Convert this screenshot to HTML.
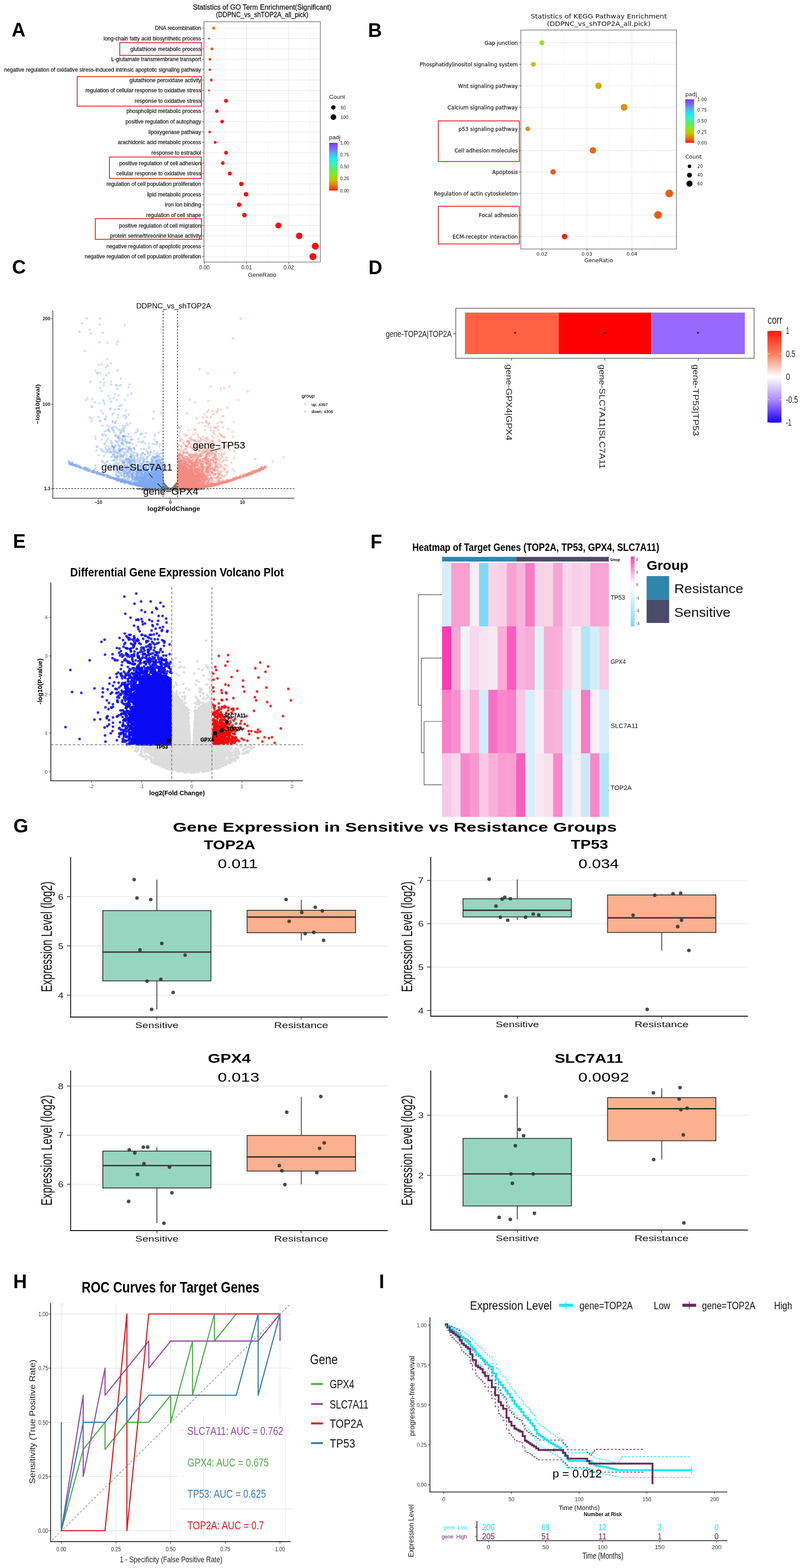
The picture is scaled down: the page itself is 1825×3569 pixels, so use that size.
<!DOCTYPE html>
<html><head><meta charset="utf-8"><title>Figure</title>
<style>html,body{margin:0;padding:0;background:#fff}svg{display:block}</style></head>
<body><svg width="1825" height="3569" viewBox="0 0 1825 3569" font-family='"Liberation Sans", Arial, sans-serif'>
<rect width="1825" height="3569" fill="#fff"/>
<text x="26.5" y="82.6" font-size="43.5" font-weight="bold">A</text>
<text x="596.5" y="21.9" font-size="16.3" text-anchor="middle" fill="#111" textLength="315.0" lengthAdjust="spacingAndGlyphs" stroke="#111" stroke-width="0.3">Statistics of GO Term Enrichment(Significant)</text>
<text x="596.5" y="38.6" font-size="16.3" text-anchor="middle" fill="#111" textLength="210.0" lengthAdjust="spacingAndGlyphs" stroke="#111" stroke-width="0.3">(DDPNC_vs_shTOP2A_all_pick)</text>
<rect x="464.0" y="49.5" width="265.0" height="547.0" fill="#fff"/>
<line x1="513.0" y1="49.5" x2="513.0" y2="596.5" stroke="#f2f2f2" stroke-width="1"/>
<line x1="609.0" y1="49.5" x2="609.0" y2="596.5" stroke="#f2f2f2" stroke-width="1"/>
<line x1="705.0" y1="49.5" x2="705.0" y2="596.5" stroke="#f2f2f2" stroke-width="1"/>
<line x1="465.0" y1="49.5" x2="465.0" y2="596.5" stroke="#e6e6e6" stroke-width="1.2"/>
<line x1="561.0" y1="49.5" x2="561.0" y2="596.5" stroke="#e6e6e6" stroke-width="1.2"/>
<line x1="657.0" y1="49.5" x2="657.0" y2="596.5" stroke="#e6e6e6" stroke-width="1.2"/>
<line x1="464.0" y1="64.0" x2="729.0" y2="64.0" stroke="#e9e9e9" stroke-width="1.2"/>
<line x1="464.0" y1="87.6" x2="729.0" y2="87.6" stroke="#e9e9e9" stroke-width="1.2"/>
<line x1="464.0" y1="111.3" x2="729.0" y2="111.3" stroke="#e9e9e9" stroke-width="1.2"/>
<line x1="464.0" y1="134.9" x2="729.0" y2="134.9" stroke="#e9e9e9" stroke-width="1.2"/>
<line x1="464.0" y1="158.6" x2="729.0" y2="158.6" stroke="#e9e9e9" stroke-width="1.2"/>
<line x1="464.0" y1="182.2" x2="729.0" y2="182.2" stroke="#e9e9e9" stroke-width="1.2"/>
<line x1="464.0" y1="205.8" x2="729.0" y2="205.8" stroke="#e9e9e9" stroke-width="1.2"/>
<line x1="464.0" y1="229.5" x2="729.0" y2="229.5" stroke="#e9e9e9" stroke-width="1.2"/>
<line x1="464.0" y1="253.1" x2="729.0" y2="253.1" stroke="#e9e9e9" stroke-width="1.2"/>
<line x1="464.0" y1="276.8" x2="729.0" y2="276.8" stroke="#e9e9e9" stroke-width="1.2"/>
<line x1="464.0" y1="300.4" x2="729.0" y2="300.4" stroke="#e9e9e9" stroke-width="1.2"/>
<line x1="464.0" y1="324.0" x2="729.0" y2="324.0" stroke="#e9e9e9" stroke-width="1.2"/>
<line x1="464.0" y1="347.7" x2="729.0" y2="347.7" stroke="#e9e9e9" stroke-width="1.2"/>
<line x1="464.0" y1="371.3" x2="729.0" y2="371.3" stroke="#e9e9e9" stroke-width="1.2"/>
<line x1="464.0" y1="395.0" x2="729.0" y2="395.0" stroke="#e9e9e9" stroke-width="1.2"/>
<line x1="464.0" y1="418.6" x2="729.0" y2="418.6" stroke="#e9e9e9" stroke-width="1.2"/>
<line x1="464.0" y1="442.2" x2="729.0" y2="442.2" stroke="#e9e9e9" stroke-width="1.2"/>
<line x1="464.0" y1="465.9" x2="729.0" y2="465.9" stroke="#e9e9e9" stroke-width="1.2"/>
<line x1="464.0" y1="489.5" x2="729.0" y2="489.5" stroke="#e9e9e9" stroke-width="1.2"/>
<line x1="464.0" y1="513.2" x2="729.0" y2="513.2" stroke="#e9e9e9" stroke-width="1.2"/>
<line x1="464.0" y1="536.8" x2="729.0" y2="536.8" stroke="#e9e9e9" stroke-width="1.2"/>
<line x1="464.0" y1="560.4" x2="729.0" y2="560.4" stroke="#e9e9e9" stroke-width="1.2"/>
<line x1="464.0" y1="584.1" x2="729.0" y2="584.1" stroke="#e9e9e9" stroke-width="1.2"/>
<line x1="460.0" y1="64.0" x2="464.0" y2="64.0" stroke="#333" stroke-width="1"/>
<text x="457.7" y="68.3" font-size="12.2" text-anchor="end" fill="#1a1a1a" stroke="#1a1a1a" stroke-width="0.3">DNA recombination</text>
<circle cx="486.3" cy="64.0" r="3.6" fill="#ee7b22"/>
<line x1="460.0" y1="87.6" x2="464.0" y2="87.6" stroke="#333" stroke-width="1"/>
<text x="457.7" y="91.9" font-size="12.2" text-anchor="end" fill="#1a1a1a" stroke="#1a1a1a" stroke-width="0.3">long-chain fatty acid biosynthetic process</text>
<circle cx="475.7" cy="87.6" r="2.2" fill="#f04a1c"/>
<line x1="460.0" y1="111.3" x2="464.0" y2="111.3" stroke="#333" stroke-width="1"/>
<text x="457.7" y="115.6" font-size="12.2" text-anchor="end" fill="#1a1a1a" stroke="#1a1a1a" stroke-width="0.3">glutathione metabolic process</text>
<circle cx="482.3" cy="111.3" r="3.3" fill="#f25a1a"/>
<line x1="460.0" y1="134.9" x2="464.0" y2="134.9" stroke="#333" stroke-width="1"/>
<text x="457.7" y="139.2" font-size="12.2" text-anchor="end" fill="#1a1a1a" stroke="#1a1a1a" stroke-width="0.3">L-glutamate transmembrane transport</text>
<circle cx="477.5" cy="134.9" r="2.9" fill="#f3401c"/>
<line x1="460.0" y1="158.6" x2="464.0" y2="158.6" stroke="#333" stroke-width="1"/>
<text x="457.7" y="162.9" font-size="12.2" text-anchor="end" fill="#1a1a1a" stroke="#1a1a1a" stroke-width="0.3">negative regulation of oxidative stress-induced intrinsic apoptotic signaling pathway</text>
<circle cx="477.5" cy="158.6" r="2.9" fill="#f3401c"/>
<line x1="460.0" y1="182.2" x2="464.0" y2="182.2" stroke="#333" stroke-width="1"/>
<text x="457.7" y="186.5" font-size="12.2" text-anchor="end" fill="#1a1a1a" stroke="#1a1a1a" stroke-width="0.3">glutathione peroxidase activity</text>
<circle cx="480.8" cy="182.2" r="3.1" fill="#f5301a"/>
<line x1="460.0" y1="205.8" x2="464.0" y2="205.8" stroke="#333" stroke-width="1"/>
<text x="457.7" y="210.1" font-size="12.2" text-anchor="end" fill="#1a1a1a" stroke="#1a1a1a" stroke-width="0.3">regulation of cellular response to oxidative stress</text>
<circle cx="475.7" cy="205.8" r="2.2" fill="#f5301a"/>
<line x1="460.0" y1="229.5" x2="464.0" y2="229.5" stroke="#333" stroke-width="1"/>
<text x="457.7" y="233.8" font-size="12.2" text-anchor="end" fill="#1a1a1a" stroke="#1a1a1a" stroke-width="0.3">response to oxidative stress</text>
<circle cx="514.3" cy="229.5" r="4.6" fill="#fa1a12"/>
<line x1="460.0" y1="253.1" x2="464.0" y2="253.1" stroke="#333" stroke-width="1"/>
<text x="457.7" y="257.4" font-size="12.2" text-anchor="end" fill="#1a1a1a" stroke="#1a1a1a" stroke-width="0.3">phospholipid metabolic process</text>
<circle cx="493.3" cy="253.1" r="3.8" fill="#fa1a12"/>
<line x1="460.0" y1="276.8" x2="464.0" y2="276.8" stroke="#333" stroke-width="1"/>
<text x="457.7" y="281.1" font-size="12.2" text-anchor="end" fill="#1a1a1a" stroke="#1a1a1a" stroke-width="0.3">positive regulation of autophagy</text>
<circle cx="505.5" cy="276.8" r="4.2" fill="#fa1a12"/>
<line x1="460.0" y1="300.4" x2="464.0" y2="300.4" stroke="#333" stroke-width="1"/>
<text x="457.7" y="304.7" font-size="12.2" text-anchor="end" fill="#1a1a1a" stroke="#1a1a1a" stroke-width="0.3">lipoxygenase pathway</text>
<circle cx="477.2" cy="300.4" r="2.8" fill="#f8201a"/>
<line x1="460.0" y1="324.0" x2="464.0" y2="324.0" stroke="#333" stroke-width="1"/>
<text x="457.7" y="328.3" font-size="12.2" text-anchor="end" fill="#1a1a1a" stroke="#1a1a1a" stroke-width="0.3">arachidonic acid metabolic process</text>
<circle cx="489.7" cy="324.0" r="3.3" fill="#fa1a12"/>
<line x1="460.0" y1="347.7" x2="464.0" y2="347.7" stroke="#333" stroke-width="1"/>
<text x="457.7" y="352.0" font-size="12.2" text-anchor="end" fill="#1a1a1a" stroke="#1a1a1a" stroke-width="0.3">response to estradiol</text>
<circle cx="514.3" cy="347.7" r="4.4" fill="#fb1410"/>
<line x1="460.0" y1="371.3" x2="464.0" y2="371.3" stroke="#333" stroke-width="1"/>
<text x="457.7" y="375.6" font-size="12.2" text-anchor="end" fill="#1a1a1a" stroke="#1a1a1a" stroke-width="0.3">positive regulation of cell adhesion</text>
<circle cx="507.0" cy="371.3" r="4.2" fill="#fb1410"/>
<line x1="460.0" y1="395.0" x2="464.0" y2="395.0" stroke="#333" stroke-width="1"/>
<text x="457.7" y="399.3" font-size="12.2" text-anchor="end" fill="#1a1a1a" stroke="#1a1a1a" stroke-width="0.3">cellular response to oxidative stress</text>
<circle cx="523.0" cy="395.0" r="4.6" fill="#fb1410"/>
<line x1="460.0" y1="418.6" x2="464.0" y2="418.6" stroke="#333" stroke-width="1"/>
<text x="457.7" y="422.9" font-size="12.2" text-anchor="end" fill="#1a1a1a" stroke="#1a1a1a" stroke-width="0.3">regulation of cell population proliferation</text>
<circle cx="549.2" cy="418.6" r="5.2" fill="#fc0f0f"/>
<line x1="460.0" y1="442.2" x2="464.0" y2="442.2" stroke="#333" stroke-width="1"/>
<text x="457.7" y="446.5" font-size="12.2" text-anchor="end" fill="#1a1a1a" stroke="#1a1a1a" stroke-width="0.3">lipid metabolic process</text>
<circle cx="559.8" cy="442.2" r="5.3" fill="#fc0f0f"/>
<line x1="460.0" y1="465.9" x2="464.0" y2="465.9" stroke="#333" stroke-width="1"/>
<text x="457.7" y="470.2" font-size="12.2" text-anchor="end" fill="#1a1a1a" stroke="#1a1a1a" stroke-width="0.3">iron ion binding</text>
<circle cx="544.0" cy="465.9" r="5.0" fill="#fc0f0f"/>
<line x1="460.0" y1="489.5" x2="464.0" y2="489.5" stroke="#333" stroke-width="1"/>
<text x="457.7" y="493.8" font-size="12.2" text-anchor="end" fill="#1a1a1a" stroke="#1a1a1a" stroke-width="0.3">regulation of cell shape</text>
<circle cx="556.2" cy="489.5" r="5.2" fill="#fc0f0f"/>
<line x1="460.0" y1="513.2" x2="464.0" y2="513.2" stroke="#333" stroke-width="1"/>
<text x="457.7" y="517.5" font-size="12.2" text-anchor="end" fill="#1a1a1a" stroke="#1a1a1a" stroke-width="0.3">positive regulation of cell migration</text>
<circle cx="633.4" cy="513.2" r="6.8" fill="#fd0c0c"/>
<line x1="460.0" y1="536.8" x2="464.0" y2="536.8" stroke="#333" stroke-width="1"/>
<text x="457.7" y="541.1" font-size="12.2" text-anchor="end" fill="#1a1a1a" stroke="#1a1a1a" stroke-width="0.3">protein serine/threonine kinase activity</text>
<circle cx="680.8" cy="536.8" r="7.4" fill="#fd0c0c"/>
<line x1="460.0" y1="560.4" x2="464.0" y2="560.4" stroke="#333" stroke-width="1"/>
<text x="457.7" y="564.7" font-size="12.2" text-anchor="end" fill="#1a1a1a" stroke="#1a1a1a" stroke-width="0.3">negative regulation of apoptotic process</text>
<circle cx="717.5" cy="560.4" r="7.9" fill="#fe0a0a"/>
<line x1="460.0" y1="584.1" x2="464.0" y2="584.1" stroke="#333" stroke-width="1"/>
<text x="457.7" y="588.4" font-size="12.2" text-anchor="end" fill="#1a1a1a" stroke="#1a1a1a" stroke-width="0.3">negative regulation of cell population proliferation</text>
<circle cx="712.0" cy="584.1" r="7.9" fill="#fe0a0a"/>
<rect x="464.0" y="49.5" width="265.0" height="547.0" fill="none" stroke="#555" stroke-width="1.2"/>
<line x1="465.0" y1="596.5" x2="465.0" y2="600.5" stroke="#333" stroke-width="1"/>
<text x="465.0" y="612.5" font-size="12.2" text-anchor="middle" fill="#1a1a1a">0.00</text>
<line x1="561.0" y1="596.5" x2="561.0" y2="600.5" stroke="#333" stroke-width="1"/>
<text x="561.0" y="612.5" font-size="12.2" text-anchor="middle" fill="#1a1a1a">0.01</text>
<line x1="657.0" y1="596.5" x2="657.0" y2="600.5" stroke="#333" stroke-width="1"/>
<text x="657.0" y="612.5" font-size="12.2" text-anchor="middle" fill="#1a1a1a">0.02</text>
<text x="596.5" y="630.0" font-size="13.5" text-anchor="middle" fill="#1a1a1a">GeneRatio</text>
<rect x="272.5" y="97.2" width="185.9" height="28.8" fill="none" stroke="#e02828" stroke-width="2.0"/>
<rect x="175.6" y="174.4" width="282.8" height="67.2" fill="none" stroke="#e02828" stroke-width="2.0"/>
<rect x="249.0" y="357.5" width="209.0" height="48.7" fill="none" stroke="#e02828" stroke-width="2.0"/>
<rect x="216.9" y="497.6" width="241.7" height="47.1" fill="none" stroke="#e02828" stroke-width="2.0"/>
<text x="749.0" y="225.0" font-size="13.5" fill="#1a1a1a">Count</text>
<circle cx="758.6" cy="244.5" r="5.0" fill="#000"/>
<circle cx="758.6" cy="266.5" r="6.5" fill="#000"/>
<text x="775.0" y="248.5" font-size="10.5" fill="#1a1a1a">50</text>
<text x="775.0" y="270.5" font-size="10.5" fill="#1a1a1a">100</text>
<text x="749.0" y="317.0" font-size="13.5" fill="#1a1a1a">padj</text>
<defs><linearGradient id="rbA" x1="0" y1="1" x2="0" y2="0"><stop offset="0" stop-color="#ff1a00"/><stop offset="0.1" stop-color="#f07400"/><stop offset="0.22" stop-color="#c8c000"/><stop offset="0.33" stop-color="#90e810"/><stop offset="0.45" stop-color="#50f070"/><stop offset="0.56" stop-color="#40f0b8"/><stop offset="0.67" stop-color="#10f0f4"/><stop offset="0.8" stop-color="#60a0f0"/><stop offset="1" stop-color="#8a2cff"/></linearGradient></defs>
<rect x="749.0" y="325.0" width="19.4" height="108.7" fill="url(#rbA)"/>
<text x="774.0" y="328.8" font-size="10.5" fill="#1a1a1a">1.00</text>
<text x="774.0" y="356.0" font-size="10.5" fill="#1a1a1a">0.75</text>
<text x="774.0" y="383.2" font-size="10.5" fill="#1a1a1a">0.50</text>
<text x="774.0" y="410.3" font-size="10.5" fill="#1a1a1a">0.25</text>
<text x="774.0" y="437.5" font-size="10.5" fill="#1a1a1a">0.00</text>
<text x="837.5" y="84.1" font-size="43.5" font-weight="bold">B</text>
<text x="1362.5" y="41.5" font-size="14.5" text-anchor="middle" fill="#111" font-family='"DejaVu Sans", "Liberation Sans", sans-serif' textLength="310.0" lengthAdjust="spacingAndGlyphs">Statistics of KEGG Pathway Enrichment</text>
<text x="1362.5" y="58.5" font-size="14.5" text-anchor="middle" fill="#111" font-family='"DejaVu Sans", "Liberation Sans", sans-serif' textLength="236.0" lengthAdjust="spacingAndGlyphs">(DDPNC_vs_shTOP2A_all.pick)</text>
<rect x="1185.2" y="68.4" width="354.1" height="498.4" fill="#fff"/>
<line x1="1284.3" y1="68.4" x2="1284.3" y2="566.8" stroke="#f2f2f2" stroke-width="1"/>
<line x1="1386.7" y1="68.4" x2="1386.7" y2="566.8" stroke="#f2f2f2" stroke-width="1"/>
<line x1="1489.1" y1="68.4" x2="1489.1" y2="566.8" stroke="#f2f2f2" stroke-width="1"/>
<line x1="1233.1" y1="68.4" x2="1233.1" y2="566.8" stroke="#e8e8e8" stroke-width="1.2"/>
<line x1="1335.5" y1="68.4" x2="1335.5" y2="566.8" stroke="#e8e8e8" stroke-width="1.2"/>
<line x1="1437.9" y1="68.4" x2="1437.9" y2="566.8" stroke="#e8e8e8" stroke-width="1.2"/>
<line x1="1185.2" y1="97.3" x2="1539.3" y2="97.3" stroke="#e8e8e8" stroke-width="1.2"/>
<line x1="1185.2" y1="146.3" x2="1539.3" y2="146.3" stroke="#e8e8e8" stroke-width="1.2"/>
<line x1="1185.2" y1="195.3" x2="1539.3" y2="195.3" stroke="#e8e8e8" stroke-width="1.2"/>
<line x1="1185.2" y1="244.3" x2="1539.3" y2="244.3" stroke="#e8e8e8" stroke-width="1.2"/>
<line x1="1185.2" y1="293.3" x2="1539.3" y2="293.3" stroke="#e8e8e8" stroke-width="1.2"/>
<line x1="1185.2" y1="342.3" x2="1539.3" y2="342.3" stroke="#e8e8e8" stroke-width="1.2"/>
<line x1="1185.2" y1="391.3" x2="1539.3" y2="391.3" stroke="#e8e8e8" stroke-width="1.2"/>
<line x1="1185.2" y1="440.3" x2="1539.3" y2="440.3" stroke="#e8e8e8" stroke-width="1.2"/>
<line x1="1185.2" y1="489.3" x2="1539.3" y2="489.3" stroke="#e8e8e8" stroke-width="1.2"/>
<line x1="1185.2" y1="538.3" x2="1539.3" y2="538.3" stroke="#e8e8e8" stroke-width="1.2"/>
<line x1="1180.7" y1="97.3" x2="1185.2" y2="97.3" stroke="#333" stroke-width="1"/>
<text x="1178.4" y="101.5" font-size="11.9" text-anchor="end" fill="#1a1a1a" font-family='"DejaVu Sans", "Liberation Sans", sans-serif' stroke="#1a1a1a" stroke-width="0.25">Gap junction</text>
<circle cx="1233.1" cy="97.3" r="5.6" fill="#98e21e"/>
<line x1="1180.7" y1="146.3" x2="1185.2" y2="146.3" stroke="#333" stroke-width="1"/>
<text x="1178.4" y="150.5" font-size="11.9" text-anchor="end" fill="#1a1a1a" font-family='"DejaVu Sans", "Liberation Sans", sans-serif' stroke="#1a1a1a" stroke-width="0.25">Phosphatidylinositol signaling system</text>
<circle cx="1213.9" cy="146.3" r="5.4" fill="#c8c014"/>
<line x1="1180.7" y1="195.3" x2="1185.2" y2="195.3" stroke="#333" stroke-width="1"/>
<text x="1178.4" y="199.5" font-size="11.9" text-anchor="end" fill="#1a1a1a" font-family='"DejaVu Sans", "Liberation Sans", sans-serif' stroke="#1a1a1a" stroke-width="0.25">Wnt signaling pathway</text>
<circle cx="1361.9" cy="195.3" r="7.4" fill="#d8a812"/>
<line x1="1180.7" y1="244.3" x2="1185.2" y2="244.3" stroke="#333" stroke-width="1"/>
<text x="1178.4" y="248.5" font-size="11.9" text-anchor="end" fill="#1a1a1a" font-family='"DejaVu Sans", "Liberation Sans", sans-serif' stroke="#1a1a1a" stroke-width="0.25">Calcium signaling pathway</text>
<circle cx="1420.2" cy="244.3" r="7.8" fill="#e0920e"/>
<line x1="1180.7" y1="293.3" x2="1185.2" y2="293.3" stroke="#333" stroke-width="1"/>
<text x="1178.4" y="297.5" font-size="11.9" text-anchor="end" fill="#1a1a1a" font-family='"DejaVu Sans", "Liberation Sans", sans-serif' stroke="#1a1a1a" stroke-width="0.25">p53 signaling pathway</text>
<circle cx="1200.9" cy="293.3" r="5.2" fill="#e48818"/>
<line x1="1180.7" y1="342.3" x2="1185.2" y2="342.3" stroke="#333" stroke-width="1"/>
<text x="1178.4" y="346.5" font-size="11.9" text-anchor="end" fill="#1a1a1a" font-family='"DejaVu Sans", "Liberation Sans", sans-serif' stroke="#1a1a1a" stroke-width="0.25">Cell adhesion molecules</text>
<circle cx="1349.2" cy="342.3" r="7.2" fill="#f06414"/>
<line x1="1180.7" y1="391.3" x2="1185.2" y2="391.3" stroke="#333" stroke-width="1"/>
<text x="1178.4" y="395.5" font-size="11.9" text-anchor="end" fill="#1a1a1a" font-family='"DejaVu Sans", "Liberation Sans", sans-serif' stroke="#1a1a1a" stroke-width="0.25">Apoptosis</text>
<circle cx="1258.6" cy="391.3" r="6.2" fill="#f05a12"/>
<line x1="1180.7" y1="440.3" x2="1185.2" y2="440.3" stroke="#333" stroke-width="1"/>
<text x="1178.4" y="444.5" font-size="11.9" text-anchor="end" fill="#1a1a1a" font-family='"DejaVu Sans", "Liberation Sans", sans-serif' stroke="#1a1a1a" stroke-width="0.25">Regulation of actin cytoskeleton</text>
<circle cx="1522.9" cy="440.3" r="8.8" fill="#f25a10"/>
<line x1="1180.7" y1="489.3" x2="1185.2" y2="489.3" stroke="#333" stroke-width="1"/>
<text x="1178.4" y="493.5" font-size="11.9" text-anchor="end" fill="#1a1a1a" font-family='"DejaVu Sans", "Liberation Sans", sans-serif' stroke="#1a1a1a" stroke-width="0.25">Focal adhesion</text>
<circle cx="1497.4" cy="489.3" r="8.8" fill="#f25a10"/>
<line x1="1180.7" y1="538.3" x2="1185.2" y2="538.3" stroke="#333" stroke-width="1"/>
<text x="1178.4" y="542.5" font-size="11.9" text-anchor="end" fill="#1a1a1a" font-family='"DejaVu Sans", "Liberation Sans", sans-serif' stroke="#1a1a1a" stroke-width="0.25">ECM-receptor interaction</text>
<circle cx="1284.8" cy="538.3" r="6.4" fill="#f42412"/>
<rect x="1185.2" y="68.4" width="354.1" height="498.4" fill="none" stroke="#555" stroke-width="1.2"/>
<line x1="1233.1" y1="566.8" x2="1233.1" y2="570.8" stroke="#333" stroke-width="1"/>
<text x="1233.1" y="581.8" font-size="11" text-anchor="middle" fill="#1a1a1a" font-family='"DejaVu Sans", "Liberation Sans", sans-serif'>0.02</text>
<line x1="1335.5" y1="566.8" x2="1335.5" y2="570.8" stroke="#333" stroke-width="1"/>
<text x="1335.5" y="581.8" font-size="11" text-anchor="middle" fill="#1a1a1a" font-family='"DejaVu Sans", "Liberation Sans", sans-serif'>0.03</text>
<line x1="1437.9" y1="566.8" x2="1437.9" y2="570.8" stroke="#333" stroke-width="1"/>
<text x="1437.9" y="581.8" font-size="11" text-anchor="middle" fill="#1a1a1a" font-family='"DejaVu Sans", "Liberation Sans", sans-serif'>0.04</text>
<text x="1362.3" y="597.0" font-size="12.5" text-anchor="middle" fill="#1a1a1a" font-family='"DejaVu Sans", "Liberation Sans", sans-serif'>GeneRatio</text>
<rect x="997.5" y="275.2" width="184.3" height="92.4" fill="none" stroke="#e02828" stroke-width="2.0"/>
<rect x="997.5" y="469.6" width="184.3" height="85.7" fill="none" stroke="#e02828" stroke-width="2.0"/>
<text x="1559.4" y="218.5" font-size="12.5" fill="#1a1a1a" font-family='"DejaVu Sans", "Liberation Sans", sans-serif'>padj</text>
<rect x="1559.4" y="226.0" width="20.0" height="99.0" fill="url(#rbA)"/>
<text x="1586.7" y="229.6" font-size="9.8" fill="#1a1a1a" font-family='"DejaVu Sans", "Liberation Sans", sans-serif'>1.00</text>
<text x="1586.7" y="254.3" font-size="9.8" fill="#1a1a1a" font-family='"DejaVu Sans", "Liberation Sans", sans-serif'>0.75</text>
<text x="1586.7" y="279.1" font-size="9.8" fill="#1a1a1a" font-family='"DejaVu Sans", "Liberation Sans", sans-serif'>0.50</text>
<text x="1586.7" y="303.9" font-size="9.8" fill="#1a1a1a" font-family='"DejaVu Sans", "Liberation Sans", sans-serif'>0.25</text>
<text x="1586.7" y="328.6" font-size="9.8" fill="#1a1a1a" font-family='"DejaVu Sans", "Liberation Sans", sans-serif'>0.00</text>
<text x="1559.4" y="361.0" font-size="12.5" fill="#1a1a1a" font-family='"DejaVu Sans", "Liberation Sans", sans-serif'>Count</text>
<circle cx="1569.0" cy="378.5" r="4.0" fill="#000"/>
<text x="1586.7" y="382.1" font-size="9.8" fill="#1a1a1a" font-family='"DejaVu Sans", "Liberation Sans", sans-serif'>20</text>
<circle cx="1569.0" cy="398.5" r="5.6" fill="#000"/>
<text x="1586.7" y="402.1" font-size="9.8" fill="#1a1a1a" font-family='"DejaVu Sans", "Liberation Sans", sans-serif'>40</text>
<circle cx="1569.0" cy="418.0" r="7.0" fill="#000"/>
<text x="1586.7" y="421.6" font-size="9.8" fill="#1a1a1a" font-family='"DejaVu Sans", "Liberation Sans", sans-serif'>60</text>
<text x="27.5" y="622.6" font-size="43.5" font-weight="bold">C</text>
<defs><marker id="mb" markerWidth="6" markerHeight="6" refX="0" refY="0" markerUnits="userSpaceOnUse" overflow="visible"><circle r="1.75" fill="none" stroke="#7ea8f2" stroke-width="0.8"/></marker><marker id="mr" markerWidth="6" markerHeight="6" refX="0" refY="0" markerUnits="userSpaceOnUse" overflow="visible"><circle r="1.75" fill="none" stroke="#f48a80" stroke-width="0.8"/></marker><marker id="mg" markerWidth="6" markerHeight="6" refX="0" refY="0" markerUnits="userSpaceOnUse" overflow="visible"><circle r="1.75" fill="none" stroke="#7a7a7a" stroke-width="0.8"/></marker></defs>
<path d="M373.5 1114.0L388.5 1114.5L390.0 1114.5L403.5 1107.0L404 1112L394 1110L382.5 1112.0L372.5 1101.0L390.5 1114.5L398 1113L375 1103L384.5 1113.5L382 1113L376.5 1114.0L397.0 1111.5L395.5 1110.0L393 1113L377.0 1113.5L401 1109L393.5 1112.5L387.0 1114.5L398.5 1114.0L375.5 1106.5L396 1110L381.5 1111.0L396.0 1111.5L403.0 1101.5L392.5 1114.0L396.5 1114.5L401.0 1114.5L377 1112L400.5 1105.0L402 1110L402.5 1106.5L372.5 1099.0L375 1108L387.0 1114.5L386.0 1114.5L402.0 1103.5L388.0 1114.5L389.5 1114.5L389 1114L376.5 1107.5L372.0 1106.5L373.5 1111.5L373.5 1114.5L387.5 1114.5L375.5 1107.0L394.5 1109.0L377.0 1110.5L377.0 1111.5L375 1114L390.0 1114.5L376 1114L380.5 1110.0L397.0 1110.5L377.5 1106.0L386.5 1114.5L404.0 1114.5L378.5 1111.0L380.0 1112.5L378 1113L400.5 1108.5L398.5 1105.0L378.0 1111.5L371.5 1112.5L378.5 1107.5L396.0 1111.5L375 1113L381 1113L396.5 1114.5L394.5 1114.5L397.5 1113.0L389.0 1114.5L400 1103L389.0 1114.5L385.0 1114.5L381.0 1114.5L401.5 1114.5L381.5 1110.5L396.0 1112.5L394.0 1109.5L375.5 1107.0L399.5 1113.5L385.0 1114.5L377 1105L388.0 1114.5L379 1113L383 1114L383.5 1113.0L401 1102L390.0 1113.5L385.5 1114.5L399.5 1112.5L388.0 1114.5L392.0 1113.5L396.5 1111.0L397.0 1109.5L384.0 1114.5L383.5 1112.0L395.5 1109.5L393 1113L393.5 1112.5L398.5 1114.0L390.5 1113.0L384 1114L391.0 1112.5L403 1113L394 1110L394.0 1114.5L388.0 1114.5L395 1112L393.0 1112.5L401.5 1102.0L374.5 1104.0L374.0 1104.5L389.5 1114.5L390.5 1114.5L375.5 1110.0L373.5 1113.0L372 1100L375.5 1114.5L403.5 1114.0L398.0 1111.5L396.0 1113.5L400.5 1113.5L379.5 1114.0L378.5 1110.0L381.5 1114.5L399.5 1113.0L402.0 1114.5L399.5 1109.5L386.0 1114.5L396.0 1110.5L372 1114L397.5 1114.5L383.5 1114.0L382.5 1114.0L385.0 1114.5L384.5 1113.5L386.0 1114.5L373.5 1114.5L394.5 1111.5L392.5 1112.0L386.5 1114.0L384.0 1114.5L397 1114L385.0 1114.5L377.0 1114.5L402 1111L400.5 1114.5L373.0 1114.5L388.0 1114.5L376.5 1108.0L390.0 1114.5L388.0 1114.5L386.0 1114.5L379 1114L372.5 1107.5L385.5 1114.0L385.5 1114.5L392.5 1113.0L400.0 1113.5L388.0 1114.5L399 1113L399.0 1114.5L376.0 1105.5L393.5 1114.0L383.0 1111.5L373.5 1104.5L390.0 1114.5L378.5 1108.5L386.5 1114.5L377.5 1111.5L402.5 1113.0L397.0 1114.5L394.0 1113.5L380 1113L373 1104L388.5 1114.5L393.5 1114.5L397.0 1108.5L393.0 1114.5L374.0 1104.5L395 1114L388.0 1114.5L377 1110L388.0 1114.5L375.5 1113.5L386 1114L383.0 1114.5L381.0 1113.5L375 1110L385.5 1114.5L382 1114L402.5 1111.0L387.0 1114.5L397 1112L395.5 1114.5L400.5 1110.0L393.0 1113.5L377.5 1113.5L379.0 1113.5L393.5 1113.0L387.0 1114.5L372.5 1102.0L374.5 1114.5L385.0 1113.5L401.5 1113.0L372.0 1106.5L400.0 1108.5L393.5 1114.5L397.5 1109.0L381.5 1114.0L403.5 1111.0L376 1112L372.5 1111.0L385 1114L391.0 1114.5L385.0 1113.5L390.0 1114.5L393.0 1114.5L380.5 1114.5L401.5 1113.0L375.5 1110.5L388.5 1114.5L392.0 1113.5L386 1114L384 1113L400 1114L395.5 1108.5L380.0 1114.5L402.5 1112.0L391.0 1113.5L391.5 1114.5L391.5 1113.5L390.5 1114.0L402.5 1114.5L383.0 1114.5L374.5 1106.5L383.5 1114.5L374.0 1111.5L403.5 1099.5L383.0 1114.5L392 1114L384.0 1114.5L392.5 1114.5L398.5 1111.5L403.5 1102.5L389.5 1114.0L383.5 1114.5L395.0 1109.5L385.5 1114.0L376 1104L399.0 1112.5L402.0 1106.5L402 1101L384.5 1114.5L383.5 1114.5L399.5 1114.5L394.5 1109.5L374.5 1114.5L389.0 1114.5L401.0 1105.5L394.0 1111.5L396.5 1110.0L393.0 1113.5L379.5 1113.5L394.5 1111.0L402.5 1111.0L393.5 1113.5L377.0 1113.5L385.5 1114.0L388.5 1114.5L384 1112L393.0 1113.5L387.5 1114.5L372 1114L390.5 1114.0L381.5 1110.5L386.5 1114.5L384.5 1114.0L400.0 1114.5L376.0 1114.5L381 1114L401 1111L381.0 1112.5L384.0 1112.5L376.5 1110.0L385.5 1114.0L396 1112L386.5 1114.0L398.5 1111.0L386 1114L401.5 1103.5L392.5 1112.5L396 1111L372.0 1099.5L396.5 1109.0L376.0 1110.5L401.5 1111.0L392.5 1112.5L396.0 1107.5L372 1111L375.5 1107.5L381.0 1112.5L379.5 1110.0L399.5 1108.0L374.5 1113.5L396.5 1111.5L373.5 1107.0L371.5 1106.5L392.5 1113.5L376 1114L387.0 1114.5L383 1114L373 1112L386.0 1114.5L399 1114L402.5 1109.5L395 1114L376.0 1104.5L372.0 1114.5L392 1112L389.0 1114.5L394.5 1112.5L378.5 1114.5L400.5 1110.0L388.0 1114.5L391.5 1112.0L392.0 1114.5L384.0 1114.5L399.0 1114.5L383 1114L377.5 1110.5L374.5 1113.0L397 1112L377.5 1114.5L372.5 1112.5L374.5 1113.0L401.5 1114.5L381.5 1114.0L400.0 1106.5L375.5 1107.5L397.5 1112.0L374.5 1104.5L379.5 1113.5L387.5 1114.5L381 1114L373 1114L401.5 1110.5L395 1111L378.0 1114.5L384.5 1114.0L379.5 1114.0L397 1112L388.0 1114.5L401.5 1108.5L400.0 1104.5L394.5 1114.0L371.5 1114.5L376.0 1113.5L397 1113L372.5 1113.5L388.5 1114.5L375.0 1114.5L386.5 1114.0L396.5 1113.0L390.5 1113.5L377.0 1105.5L400.0 1112.5L391.5 1112.5L400.0 1112.5L380.0 1114.5L400 1111L374.5 1110.5L388.5 1114.5L384.5 1113.5L390.0 1114.5L380.5 1112.5L402.5 1114.0L375 1114L382 1114L392 1114L382.0 1114.5L393.0 1113.5L386.0 1114.5L381 1113L381.5 1114.5L373 1109L401.0 1113.5L379.0 1108.5L396.5 1110.0L398.0 1109.5L375 1103L400 1103L396.0 1107.5L373.5 1102.0L382.5 1112.0L385.5 1114.0L376.0 1106.5L379.0 1114.5L376.5 1114.0L380 1114L374.5 1109.5L381.5 1112.0L391.5 1114.0L398 1110L378.5 1110.5L397.5 1111.0L371.0 1114.5L390.5 1114.5L375.0 1109.5L379.0 1114.5L380.5 1114.5L381.5 1111.5L374 1111L384.5 1114.0L396.5 1108.5L388.5 1114.5L389.5 1114.0L376.0 1105.5L400.5 1111.0L387.5 1114.5L396.0 1112.5L378.5 1114.5L392.5 1114.5L403.5 1108.0L396.5 1110.5L397.5 1109.5L396.5 1109.5L399.5 1114.5L395.5 1112.5L399.5 1111.5L384.0 1113.5L378 1109L392 1114L378.5 1110.0L373.5 1108.5L401 1113L385.5 1114.5L390.5 1114.5L393.0 1114.5L390 1114L385.0 1113.5L388.5 1114.5L393.5 1113.0L400.0 1113.5L400.5 1103.0L373.0 1106.5L400.5 1114.0L389 1114L396.0 1112.5L400 1108L389.5 1114.5L397.5 1113.0L380 1111L373.5 1113.5L383 1113L379.5 1112.5L394.0 1113.5L400.5 1108.0L379.5 1113.5L397.5 1109.5L378.5 1109.0L400.0 1109.5L372 1104L382.5 1111.5L382.5 1113.5L374.5 1110.5L379.0 1113.5L387.5 1114.5L385.5 1114.0L382.5 1112.0L391.0 1113.5L381.5 1112.5L375.0 1113.5L400.0 1105.5L372.5 1112.0L390.0 1113.5L399.5 1109.0L398.5 1114.5L391.5 1113.5L389.0 1114.5L402.0 1100.5L388.0 1114.5L402.5 1114.5L391.0 1113.5L391.5 1114.0L384.0 1114.5L379.5 1114.0L382.0 1112.5L387.0 1114.5L379.5 1113.5L389.5 1114.0L383 1114L373.5 1114.0L373 1105L371.5 1108.0L399 1111L400.5 1108.5L374 1111L387.5 1114.5L395.0 1114.5L383.0 1113.5L387.0 1114.5L396.0 1111.5L403 1114L391.0 1114.5L391 1114L384.5 1113.5L401.5 1112.0L392.5 1111.5L382.5 1111.5L390 1114L394.5 1110.0L389.5 1114.5L403.0 1114.5L401 1114L386.0 1114.5L404.0 1114.5L383.5 1112.5L376.5 1113.0L395.5 1110.5L384 1113L400.0 1102.5L373 1108L373.0 1114.5L374.0 1111.5L402 1110L399.0 1114.5L389.0 1114.5L384.0 1114.5L379.5 1109.5L397.5 1114.0L371.5 1108.0L391.0 1114.5L401 1110L380.5 1114.0L375 1103L379 1112L397 1114L387.5 1114.5L401.5 1114.0L382.5 1114.5L379.0 1108.5L374 1112L403 1104L374.5 1104.0L374 1103L380.5 1111.0L375.5 1113.0L383.5 1114.5L390.5 1113.0L403.5 1112.5L383.5 1114.0L375 1109L383 1113L376.0 1114.5L374.5 1107.5L373.0 1110.5L389.0 1114.5L399.0 1108.5L392.5 1114.0L388.0 1114.5L395.5 1113.0L397.5 1112.5L373 1109L386.0 1114.5L387.0 1114.5L386.5 1114.5L399.0 1106.5L382.5 1114.0L399.5 1113.5L373.5 1110.5L383.5 1112.5L389.5 1114.0L396 1110L380.5 1114.5L399.5 1107.5L376.5 1114.5L393.5 1111.5L387.0 1114.5L382.5 1114.5L390.5 1114.5L392.5 1114.0L389.5 1114.0L392.0 1114.5L390 1114L379.0 1112.5L390.0 1114.5L387.0 1114.5L381.5 1112.0L376.5 1112.5L388.0 1114.5L372.0 1104.5L372.5 1104.0L398.5 1114.5L395.5 1108.0L371 1109L386.5 1114.5L388.5 1114.5L384.5 1113.5L403.0 1107.5L372.5 1105.0L401.5 1113.5L397.0 1114.5L398.5 1110.5L380 1113L396.5 1107.0L387.0 1114.5L403.5 1110.5L376 1109L388.5 1114.5L402.0 1111.5L377.5 1110.0L385.0 1114.5L382 1112L398.5 1104.5L396.5 1109.0L388.0 1114.5L402.5 1099.0L383.0 1114.5L376.5 1114.5L372.0 1108.5L389.5 1114.5L394.0 1113.5L391.0 1114.5L397.5 1111.5L400.5 1113.5L391.5 1114.0L403.5 1111.0L392.5 1114.0L396.5 1113.0L382.5 1114.0L399.0 1106.5L378.5 1111.0L400.5 1110.5L398.0 1114.5L382.5 1113.0L373.0 1113.5L375.5 1109.5L375.0 1114.5L397.0 1108.5L389.5 1114.5L386 1114L375.0 1114.5L380.5 1113.5L401.5 1113.0L384.5 1113.5L373.5 1106.5L403 1112L381.5 1114.5L395.5 1109.0L384.5 1113.0L391.5 1113.0L376.5 1109.5L390.5 1114.5L391.5 1113.0L389.5 1114.0L397.5 1112.0L387.0 1114.5L402.0 1114.5L404.0 1112.5L402 1110L393 1114L376.5 1114.5L384.5 1114.5L372.5 1113.5L386.0 1114.5L391.5 1113.0L380.5 1114.5L402.0 1114.5L377 1112L384.5 1114.5L371.5 1114.5L400.5 1104.5L377.5 1110.5L372.0 1100.5L395.5 1114.5L387.0 1114.5L371.5 1108.5L387.5 1114.5L376.5 1114.5L373.5 1105.0L403.5 1106.0L399.0 1108.5L387.0 1114.5L390.0 1114.5L391.5 1114.5L398.0 1107.5L402 1101L386.5 1114.0L377.5 1111.5L382.5 1112.0L383.5 1114.0L376.0 1114.5L401.5 1100.5L376.5 1105.0L395.0 1114.5L397.5 1107.5L400.0 1113.5L396 1113L393.0 1111.5L388.5 1114.5L381.5 1111.0L387.0 1114.5L390.5 1114.0L401.5 1114.5L374.5 1107.5L396.5 1112.5L382.5 1113.0L379.5 1108.0L400.0 1104.5L395.5 1113.5L378.0 1113.5L384.5 1114.5L386.5 1114.5L399.5 1113.5L378.0 1109.5L394.5 1113.0L398 1114L380 1112L395 1113L402.5 1110.0L398.5 1110.5L397.5 1111.5L393.0 1114.5L387.5 1114.5L388.5 1114.5L380 1109L385.0 1114.5L395.0 1109.5L397 1108L371.5 1114.5L395.5 1113.5L402.5 1102.5L379.0 1114.5L393.5 1114.5L401.5 1105.5L388.0 1114.5L389 1114L391.5 1113.5L390 1113L403.5 1113.0L374 1105L385.5 1114.0L378.5 1107.5L397.0 1111.5L377.5 1109.5L379.0 1114.5L394.0 1114.5L380.5 1109.0L387.0 1114.5L395.0 1113.5L372.5 1114.5L375.5 1109.5L396.0 1113.5L375.5 1112.5L391.0 1113.5L397 1109L380.5 1114.5L379.5 1113.0L375 1111L384.5 1113.5L387.5 1114.5L385.5 1114.5L383 1114L395.5 1114.5L385 1114L373.0 1104.5L385.5 1113.5L380.0 1112.5L400 1110L395.0 1112.5L400.5 1112.0L399.5 1108.0L398.0 1114.5L401.0 1110.5L382.5 1114.5L384.5 1114.5L373 1111L403 1110L392.0 1112.5L378.0 1112.5L396.5 1111.0L391.5 1114.5L391.5 1113.5L373.0 1103.5L404.0 1111.5L393.5 1114.5L371.5 1101.0L399.0 1107.5L395.0 1110.5L396 1109L383 1114L396.5 1113.0L377.0 1112.5L382.5 1114.5L373.5 1108.5L379.0 1111.5L390.0 1114.5L380.0 1114.5L378.0 1114.5L390.5 1113.0L388.5 1114.5L401.0 1113.5L384.5 1113.5L380.0 1112.5L375.5 1109.0L395.0 1112.5L399.5 1112.0L389.0 1114.5L373.5 1111.0L381 1112L387.5 1114.5L377.5 1114.5L371.5 1099.5L397 1114L401.5 1114.5L399.0 1107.5L377.5 1105.5L382 1111L386.5 1114.5L385.0 1114.5L384.5 1113.5L375.5 1111.0L384 1114L402.5 1113.5L388.0 1114.5L377 1110L388.0 1114.5L391 1114L389 1114L402.0 1111.5L403.5 1105.0L401.0 1114.5L389.0 1114.5L372 1099L379.0 1114.5L372.5 1105.5L377.0 1110.5L393 1111L384.5 1114.5L396.5 1108.0L383.5 1113.5L380.5 1114.5L388.0 1114.5L390.5 1113.5L386.0 1114.5L379.5 1113.0L387.0 1114.5L384.5 1113.0L387.5 1114.5L389 1114L392 1112L387.5 1114.5L382.5 1112.5L382 1113L384 1114L398.5 1114.0L377 1114L403 1109L375 1114L387.0 1114.5L383.0 1111.5L372.0 1103.5L399 1113L389.0 1114.5L377 1111L391.5 1112.5L399.5 1109.5L396 1114L376.0 1109.5L386.5 1114.5L376.5 1114.0L400.5 1106.0L381.5 1112.5L399.5 1108.0L395 1110L373.5 1113.0L379.5 1114.0L395.5 1108.0L390 1114L381.5 1114.0L394.0 1111.5L394 1113L377.5 1114.5L371.5 1099.5L384.0 1112.5L377.5 1113.5L383.5 1114.0L381.5 1114.5L396.5 1108.0L386.0 1114.5L387.5 1114.5L400.5 1103.5L384.5 1114.5L392.5 1113.0L391.5 1112.0L385 1114L393 1113L397.0 1112.5L386.0 1114.5L398.5 1111.0L378.5 1110.5L381.5 1110.5L380.0 1112.5L388.0 1114.5L393.5 1112.5L377 1114L394.5 1109.5L380 1113L402 1114L389.0 1114.5L379 1111L398 1112L398.5 1107.5L402.0 1114.5L381.5 1111.5L399.5 1113.5L375 1111L394 1113L398 1107L382.0 1110.5L380.5 1110.5L378.5 1110.5L383.5 1112.5L390.5 1113.5L375 1112L382.0 1111.5L382.5 1113.5L400.5 1109.0L387.5 1114.5L387.0 1114.5L388.0 1114.5L388.5 1114.5L390.0 1114.5L371.5 1114.0L401.0 1108.5L394 1113L394 1112L383 1113L372 1110L387.0 1114.5L375.0 1110.5L372.5 1107.0L398.5 1111.5L392.5 1114.5L379.0 1112.5L385.0 1114.5L393.0 1114.5L375 1113L396.5 1114.5L388.5 1114.5L394.5 1113.0L390.5 1114.5L396.5 1111.0L380.5 1110.0L402.0 1103.5L381.0 1110.5L386.5 1114.0L397 1113L391.5 1113.0L380 1113L401.5 1101.5L400.5 1113.5L399.0 1104.5L379.0 1114.5L385.5 1114.0L392 1113L401.0 1102.5L379.0 1114.5L390 1114L371.5 1098.0L373.5 1109.0L400.0 1114.5L398 1114L400.0 1103.5L382.5 1114.5L376.0 1114.5L390.5 1114.5L382 1113L397.0 1108.5L377.0 1114.5L384.0 1112.5L401.5 1102.0L383 1113L390.0 1114.5L392 1114L377.0 1111.5L391.0 1114.5L396.0 1109.5L391.5 1114.0L372 1111L376.0 1109.5L397.5 1113.0L404.0 1106.5L393.5 1112.0L396.5 1112.5L384.5 1113.0L387.5 1114.5L395.0 1111.5L390.5 1113.5L384.0 1113.5L384 1114L394.0 1111.5L381 1112L387.0 1114.5L396.5 1114.5L379 1114L400 1111L401.5 1109.0L387.5 1114.5L388.5 1114.5L377.0 1112.5L381.0 1114.5L383.0 1111.5L377.5 1110.5L373.5 1107.0L393.0 1111.5L391.5 1114.0L395.5 1112.5L403.5 1112.5L378.5 1109.5L402.0 1101.5L386.5 1114.5L381 1110L384 1113L387.0 1114.5L394.5 1112.0L373.0 1114.5L393.5 1114.5L385 1113L393.5 1114.0L383.5 1113.5L382 1114L386 1114L392.0 1114.5L399.5 1108.0L402.5 1108.0L380.5 1114.5L384.5 1114.0L387.5 1114.5L395.0 1114.5L385.5 1114.0L399 1114L398.0 1112.5L396.5 1114.0L392.0 1113.5L373 1112L401.5 1102.0L392.5 1114.5L372.0 1112.5L385 1114L392.5 1112.0L390.0 1114.5L371.5 1112.0L391.0 1113.5L393 1111L400 1107L387.0 1114.5L382.0 1114.5L372.5 1114.0L379.0 1110.5L390.5 1113.5L387.5 1114.5L382.0 1111.5L383.5 1112.0L382.0 1111.5L394.0 1113.5L390.5 1113.5L382.0 1114.5L384.0 1112.5L375.5 1113.5L401.5 1111.5L375.0 1113.5L391 1113L386 1114L376.0 1105.5L403 1111L385.5 1114.0L401.5 1112.5L390.5 1114.5L375.0 1114.5L398.5 1114.5L383.5 1112.0L375.5 1105.5L390.0 1114.5L401.5 1104.0L372.5 1102.0L389.5 1113.5L389.5 1113.5L381.5 1114.5L395.0 1108.5L401.5 1107.5L380.5 1109.0L372 1100L403.5 1100.0L393.5 1111.0L401 1113L389.5 1114.5L383.0 1112.5L398.0 1108.5L371.5 1114.0L379.5 1109.0L392.5 1113.0L384.0 1114.5L379.5 1113.0L383.5 1112.5L385.5 1114.5L391.0 1114.5L399.5 1106.0L402.0 1108.5L394 1110L398.0 1114.5L398.0 1112.5L372.0 1107.5L371.5 1099.0L393 1113L401.5 1110.5L396.5 1113.0L404.0 1100.5L393.0 1113.5L392.5 1114.5L381.0 1114.5L400 1106L383.0 1114.5L404 1109L372.5 1111.0L394.5 1111.0L397.0 1113.5L394 1110L402 1101L396.5 1112.0L390.0 1114.5L383.5 1113.5L385.0 1114.5L387.0 1114.5L383.0 1114.5L397.0 1112.5L375.0 1105.5L373.5 1110.0L383.5 1112.0L395.5 1113.5L392.0 1114.5L394.5 1109.0L371.5 1110.0L391 1113L373 1107L395.0 1114.5L375 1114L385.5 1114.0L376.0 1111.5L389.5 1114.0L396 1112L390.5 1114.5L400 1109L386.0 1114.5L398 1113L377 1109L381.5 1114.5L403.5 1101.0L391.5 1114.5L372.0 1103.5L395.5 1113.5L381.0 1110.5L384.0 1112.5L391.0 1114.5L389.5 1114.5L375.5 1114.5L383.5 1113.0L389 1114L371.5 1105.0L398.0 1114.5L381.5 1111.0L377.0 1111.5L380.5 1113.5L403 1110L375.5 1108.5L394.0 1114.5L394.5 1114.5L371.5 1103.5L400.0 1114.5L391.0 1114.5L373.5 1102.0L378 1107L372.0 1114.5L399 1107L394.5 1114.0L384 1114L382 1114L389.5 1114.5L378.5 1111.5L392 1113L386 1114L400.5 1102.5L392.0 1112.5L380.0 1112.5L391.0 1113.5L403.5 1114.0L402.0 1113.5L387.0 1114.5L376.5 1113.5L396.0 1114.5L375.0 1111.5L384.0 1114.5L402 1110L392.5 1112.0L371.5 1113.5L382 1112L385.5 1114.5L389.5 1114.0L386 1114L386.5 1114.5L391.5 1114.5L378.5 1109.5L376.0 1114.5L386.0 1114.5L400 1109L378.5 1111.5L394.0 1111.5L400 1112L398.5 1110.5L403.5 1098.5L385.0 1114.5L376.5 1109.0L400.5 1108.0L395.0 1111.5L380.5 1112.5L379.0 1109.5L400.5 1110.0L381 1114L402.0 1110.5L372.5 1102.0L392.5 1111.5L393.5 1111.0L383.5 1113.5L379.5 1114.5L378 1114L384.5 1114.5L383.5 1114.5L371.5 1114.0L394 1114L371.5 1098.5L396.0 1110.5L378.0 1114.5L396.5 1114.5L400.5 1108.5L403.5 1109.0L385 1113L381.5 1111.0L402.0 1105.5L393.5 1114.0L381 1113L401.0 1105.5L387.0 1114.5L394.5 1111.5L393.0 1113.5L383.0 1114.5L395 1114L377.0 1106.5L388.5 1114.5L403.5 1113.0L374.5 1114.5L376.0 1107.5L394.5 1113.5L374.5 1109.5L400 1104L388.0 1114.5L376.5 1109.5L389.5 1114.5L388.5 1114.5L392.5 1112.5L374.0 1114.5L386 1114L401.5 1106.5L392.0 1114.5L396 1114L393.0 1112.5L403.0 1110.5L390.5 1114.0L384.0 1113.5L390.5 1114.5L395.0 1114.5L378 1110L387.0 1114.5L378 1113L394.5 1110.0L387.0 1114.5L378.0 1110.5L378.0 1107.5L391.5 1112.0L386.0 1114.5L395.5 1111.5L382 1113L379.0 1109.5L399.5 1108.0L393.5 1111.0L387.0 1114.5L392.5 1114.5L389.5 1114.0L376.0 1112.5L392.0 1113.5L398.5 1114.0L398.5 1108.0L375.5 1114.5L397.0 1114.5L400.0 1111.5L399.0 1113.5L403.5 1104.0L377.0 1112.5L393.5 1112.5L394 1113L384 1113L402 1113L382.5 1113.0L395.5 1110.5L403.5 1104.5L389.0 1114.5L384.5 1114.0L381.5 1112.0L398 1113L387.5 1114.5L380 1114L386.5 1114.5L391.5 1114.5L373 1101L391 1114L384 1114L382.0 1110.5L372.5 1105.0L374.5 1107.0L394.5 1114.0L402.5 1113.5L403.5 1113.0L384.0 1114.5L383.0 1111.5L390.5 1113.5L378 1106L386.5 1114.5L376.5 1105.0L381.5 1111.0L403.5 1111.0L383.5 1114.0L372.5 1113.5L401.0 1114.5L377.5 1106.0L389.5 1114.5L374.0 1112.5L401.0 1110.5L389.5 1114.5L385.0 1113.5L400.0 1107.5L387.5 1114.5L396 1113L387.5 1114.5L395 1114L386 1114L391.0 1112.5L377.5 1111.5L394.5 1114.5L390.5 1114.0L392.0 1111.5L394.0 1109.5L380.5 1112.5L372.5 1114.5L373 1102L399.0 1113.5L396 1111L378.0 1111.5L401 1111L399.0 1114.5L379.5 1109.5L394 1114L381.5 1113.0L398.0 1111.5L383.5 1114.5L388.0 1114.5L397.5 1106.5L391.5 1113.0L374 1113L393.5 1111.0L375.5 1112.0L391.5 1113.0L389.5 1114.5L388.5 1114.5L387.5 1114.5L389 1114L398.5 1113.5L393.5 1111.5L403.5 1106.0L392.0 1114.5L383.0 1112.5L384.0 1114.5L399 1105L395.5 1111.5L387.5 1114.5L372.5 1106.0L393.5 1113.5L373.5 1103.0L391 1113L380.5 1113.5L374.5 1109.5L388.0 1114.5L382.0 1114.5L400.0 1106.5L395 1112L382 1113L395 1110L372.0 1114.5L403.0 1112.5L385.0 1113.5L398.5 1114.0L389.0 1114.5L383.5 1114.0L394.5 1114.5L392.5 1113.5L388.5 1114.5L389 1114L388.0 1114.5L385.5 1114.5L391 1114L404.0 1114.5L391 1114L377.0 1113.5L402.5 1111.0L397 1112L389.5 1113.5L375 1107L386.0 1114.5L373.5 1105.5L376.5 1110.5L400 1108L378.0 1111.5L391.5 1114.5L395.0 1109.5L374.0 1108.5L377.5 1106.0L389.5 1114.0L389.5 1114.5L395.0 1114.5L385.5 1113.5L380.0 1112.5L397.5 1109.0L382.5 1111.0L385.0 1114.5L392.5 1112.5L391.5 1114.0L373.0 1107.5L384.0 1114.5L393.5 1112.0L372.5 1103.0L392 1112L376 1113L391.5 1114.0L395.5 1110.0L394.5 1114.5L387.0 1114.5L396.5 1114.5L372.5 1113.5L384.0 1112.5L391.5 1112.5L386.5 1114.5L396 1114L391.5 1114.5L372.0 1110.5L385.0 1113.5L386.5 1114.5L393.0 1112.5L377 1113L402.5 1100.0L391.5 1113.0L376.0 1104.5L401 1109L372.5 1102.5L379 1110L379.0 1110.5L380.0 1112.5L379.5 1110.0L381 1111L402.0 1103.5L401.5 1112.0L396.0 1107.5L384.0 1113.5L404 1106L394 1114L384.0 1112.5L388.5 1114.0L399 1107L374.5 1104.5L381.0 1114.5L403 1106L375.0 1113.5L382 1111L394.5 1113.5L375.5 1111.5L398.5 1110.5L390.0 1113.5L402.5 1104.0L385.0 1114.5L383.5 1112.0L390.0 1114.5L382 1114L377.5 1108.0L395.5 1114.5L372 1108L378.0 1114.5L402 1114L397.5 1110.5L380.5 1112.0L381.0 1113.5L377.5 1114.5L399 1111L382.5 1111.0L396.0 1108.5L404.0 1112.5L374.5 1109.0L377.5 1110.5L394.5 1110.5L399 1114L375.0 1111.5L382.0 1113.5L378 1113L390.0 1114.5L391.5 1114.0L381.5 1113.5L386.0 1114.5L379.0 1114.5L384.0 1114.5L385.5 1114.0L395.0 1113.5L380.0 1114.5L373.0 1113.5L393.5 1113.5L397.0 1112.5L400.5 1114.5L401.5 1112.0L373.0 1108.5L382.5 1114.0L394.0 1114.5L390 1114L398.0 1114.5L380.0 1114.5L375 1112L388.0 1114.5L374 1109L401.5 1105.5L403.5 1104.0L376 1109L395.5 1113.0L403 1110L394.5 1114.0L383 1112L391.0 1112.5L376 1113L392 1114L397 1112L398.0 1112.5L403.5 1105.5L373.5 1104.5L403 1110L371.5 1101.5L399.5 1111.5L383 1112L386 1114L380.0 1111.5L399.5 1114.5L398 1113L375.5 1113.0L403.0 1108.5L391 1113L386.0 1114.5L385.0 1113.5L402 1108L398.5 1109.0L382.0 1110.5L376.0 1109.5L396.0 1108.5L395.5 1109.5L396.5 1108.0L393 1114L392.5 1113.5L391.5 1113.5L400 1106L393.5 1112.0L393 1112L399.5 1108.5L386.5 1114.5L376 1112L389.5 1114.0L388.0 1114.5L388.0 1114.5L386.5 1114.5L376.5 1109.0L386 1114L382.5 1111.5L378.0 1109.5L402.5 1103.0L384.5 1114.5L392.5 1112.0L395.5 1110.0L371.5 1107.5L401.0 1113.5L390 1114L372 1100L381.5 1114.5L382.5 1111.0L395 1112L381 1111L385.0 1114.5L395 1112L404.0 1101.5L378.5 1112.5L374.5 1113.5L401.5 1107.0L378.0 1112.5L376.0 1113.5L395.0 1110.5L389.0 1114.5L398.5 1107.0L377 1109L389.5 1114.5L404.0 1107.5L397 1109L373.5 1106.0L397.5 1110.5L397.0 1110.5L394.5 1110.5L374.5 1112.0L401.0 1101.5L376 1109L375.5 1114.5L378.5 1111.0L384.0 1113.5L390.0 1113.5L398.5 1114.0L404.0 1107.5L389.5 1114.5L383.0 1113.5L382.5 1111.5L384.5 1113.5L379.5 1111.0L380.5 1113.5L403.5 1107.0L380.5 1111.0L396.5 1114.5L371.5 1111.5L392.0 1112.5L394 1114L404 1111L389.0 1114.5L400.5 1113.5L389.0 1114.5L397.5 1111.5L372.5 1100.0L384.5 1113.0L374.5 1103.5L382.0 1110.5L382 1112L395.5 1114.5L393.5 1111.0L402 1105L399 1114L371.5 1102.0L396.0 1112.5L385.0 1114.5L393.0 1114.5L393.5 1114.0L375 1104L376 1109L374.0 1112.5L386.5 1114.0L401 1110L400 1107L390 1114L379.0 1114.5L397.5 1114.5L404 1104L397.0 1112.5L394.5 1114.0L377.0 1109.5L401 1104L379.0 1114.5L377.5 1114.0L388.0 1114.5L389.0 1114.5L381 1110L380.5 1113.0L381.5 1114.0L396 1114L376.0 1114.5L378.0 1112.5L383 1113L388.5 1114.5L377.5 1114.5L377 1108L389.5 1114.0L391.0 1112.5L401.0 1102.5L400.0 1109.5L394.5 1110.5L383.5 1114.5L375.5 1111.5L380.0 1111.5L399.0 1114.5L394.5 1110.5L397 1114L382.0 1114.5L393.0 1111.5L402.5 1105.0L399 1113L374.5 1112.5L385.5 1113.5L391.0 1114.5L401.5 1106.0L379.5 1114.0L402.5 1114.0L387.5 1114.5L385.0 1113.5L391 1114L374.0 1114.5L394.5 1114.5L383 1114L385.0 1114.5L403.5 1107.5L398.0 1114.5L392 1114L384 1113L398.5 1113.5L389.5 1114.0L389.0 1114.5L389.5 1114.0L389.5 1114.0L388.0 1114.5L372 1111L399.5 1111.0L384.0 1114.5L374.5 1113.5L386.5 1114.5L399 1114L384.5 1114.5L389.5 1114.5L371.5 1114.0L387.5 1114.5L395.5 1114.0L375.5 1104.5L379.0 1110.5L384.5 1114.5L402.5 1114.5L386.0 1114.5L381.0 1112.5L399.5 1111.0L395 1109L385.5 1114.5L396.0 1110.5L376.5 1106.0L392 1114L379.5 1113.5L395.5 1108.5L374.5 1112.5L390 1114L380.5 1113.5L373.5 1112.5L374 1111L399.5 1108.5L388.0 1114.5L380.5 1112.0L392.0 1113.5L372.5 1107.5L371.5 1107.5L386.0 1114.5L384.0 1114.5L371 1109L372 1108L377 1113L384.5 1114.0L402.0 1114.5L372.5 1111.0L391.5 1112.5L390.5 1114.0L402.5 1113.0L378 1111L396 1108L388.0 1114.5L392 1112L374 1114L395 1113L380 1113L389.5 1114.5L398.0 1111.5L375.5 1106.0L385.0 1114.5L383 1113L402 1110L383.0 1113.5L389.0 1114.5L391.5 1112.5L396 1114L381.5 1114.5L378 1112L400.5 1107.5L392.0 1112.5L375.5 1111.5L371.5 1110.5L374.0 1113.5L400.5 1113.0L372.5 1108.5L389.5 1114.0L383.0 1111.5L394.0 1114.5L395.0 1114.5L392.5 1114.5L376.5 1114.5L374 1109L393 1114L395.0 1112.5L390.5 1114.0L384.0 1114.5L381.0 1112.5L376 1112L392.0 1114.5L384.5 1114.0L390.5 1114.0L383.0 1114.5L375 1114L402.5 1110.0L400.5 1112.0L384 1114L399.5 1114.5L388.5 1114.5L376 1105L382.5 1114.0L392 1114L377.0 1108.5L390.5 1113.5L376.0 1108.5L393.5 1114.0L382.0 1114.5L372.5 1111.5L395.5 1108.0L388.5 1114.5L392.5 1114.0L398.5 1111.0L374.0 1111.5L397.5 1107.5L380.0 1114.5L390.5 1113.5L400.0 1108.5L397.0 1109.5L389.5 1114.5L399.5 1106.0L402.0 1106.5L385.5 1114.0L389.0 1114.5L392.0 1114.5L399.5 1105.5L391 1114L391.5 1113.0L404 1098L373.5 1114.5L387.5 1114.5L381.5 1113.5L387.0 1114.5L390 1114L403.5 1110.0L381.5 1114.5L383.5 1113.5L391.5 1114.5L393.5 1111.0L383 1114L386.5 1114.5L378.0 1114.5L395.5 1114.0L374.0 1105.5L402.5 1112.5L383.5 1114.5L374.5 1103.5L393.5 1111.0L383 1112L386.0 1114.5L391.5 1114.0L398.5 1107.0L391.5 1113.5L402.0 1114.5L390.5 1114.0L393.5 1114.5L383 1114L391.0 1112.5L403.5 1107.0L404.0 1103.5L396 1111L380.5 1114.5L375.5 1106.5L384.0 1114.5L395 1114L402.0 1105.5L401.5 1109.0L390.5 1114.5L378 1114L399.5 1111.5L381 1112L400.5 1103.5L386.5 1114.0L389.5 1114.0L403 1114L392.0 1114.5L383.5 1112.0L394.5 1111.5L388.0 1114.5L397.5 1113.5L381.5 1112.0L383.0 1111.5L396 1114L398.0 1111.5L381 1110L374 1108L401.0 1103.5L384.5 1114.5L400.0 1113.5L390.5 1114.5L394.5 1109.5L374.5 1106.0L373.5 1113.0L383 1113L395 1113L385.0 1114.5L388.0 1114.5L379.0 1110.5L403.5 1113.0L391.0 1113.5L403.5 1108.5L389.0 1114.5L384.0 1113.5L384 1114L375.5 1106.5L386.0 1114.5L384.0 1114.5L391.0 1114.5L380 1109L383.5 1112.0L396.0 1114.5L397.0 1113.5L372.5 1105.5L402 1103L393.5 1113.0L385 1114L378.5 1111.5L384.5 1114.5L401.0 1113.5L396.5 1111.0L377.5 1111.0L377.0 1107.5L380.0 1112.5L382.0 1110.5L375.5 1109.5L402.0 1113.5L384.0 1112.5L371.0 1108.5L395 1114L380.5 1114.0L387.0 1114.5L392 1112L401.0 1113.5L396.0 1114.5L392.5 1111.5L371.5 1111.0L399.0 1110.5L376.5 1110.5L399.0 1110.5L388.0 1114.5L400 1105L388.0 1114.5L373.5 1101.5L390.5 1113.0L386.5 1114.5L401 1104L390.5 1114.0L388.0 1114.5L381.0 1112.5L375 1114L375.5 1110.5L377.5 1106.5L389.0 1114.5L400.5 1104.5L396 1109L376.5 1111.0L403.0 1114.5L385.0 1113.5L381.5 1113.0L396.5 1108.0L384 1114L399 1105L381.5 1114.5L372 1104L401.5 1109.5L390 1114L391.0 1114.5L403.0 1099.5L397.5 1108.5L401.0 1105.5L383.5 1114.5L392.0 1112.5L372.0 1112.5L379 1114L394 1111L376 1113L393.5 1113.0L392.5 1111.5L379.0 1112.5L383.0 1112.5L398.0 1114.5L396 1109L377.0 1112.5L389.0 1114.5L377.0 1111.5L399.5 1114.5L393.5 1112.5L376.5 1109.0L387.0 1114.5L375.5 1109.5L390.5 1114.5L400.5 1111.0L383.0 1114.5L384 1114L372.0 1098.5L373.5 1109.5L387.0 1114.5L375.5 1105.5L390.0 1114.5L394.5 1112.0L381 1114L373.5 1102.5L390.5 1114.5L384.5 1113.0L386.0 1114.5L399.5 1104.0L374 1108L388.5 1114.5L373.5 1111.5L391.5 1113.5L404.0 1103.5L391.5 1114.5L376.5 1112.5L389.5 1113.5L374 1113L373 1113L377 1105L373.5 1106.5L385.0 1114.5L384.5 1113.0L390 1114L393.0 1114.5L378.0 1111.5L397.5 1114.5L378.5 1110.0L378 1111L374.5 1105.5L394.5 1114.0L387.0 1114.5L393.0 1112.5L389.5 1114.0L397.5 1106.5L393.0 1113.5L390.0 1114.5L397.0 1113.5L377.5 1114.5L383.0 1113.5L380.5 1112.5L381.5 1114.0L381.5 1111.0L384.5 1113.0L395.5 1109.0L374.0 1106.5L379.5 1113.0L381.5 1114.0L399.0 1108.5L400.5 1108.5L391.5 1113.5L401.5 1112.0L392.5 1112.5L374.5 1108.5L400.5 1107.0L403.5 1111.5L399.5 1113.5L373.0 1107.5L386.5 1114.5L388.5 1114.5L393.5 1113.5L379 1112L400 1103L402.5 1105.0L385.0 1114.5L396.5 1111.0L372.5 1102.0L373 1107L392 1112L383.5 1114.5L392.5 1114.5L401.5 1109.5L404.0 1105.5L389 1114L372 1101L374.0 1103.5L375.5 1104.0L381.0 1113.5L391.5 1114.5L372 1114L396.0 1108.5L397.5 1114.0L386.5 1114.5L400 1109L400.5 1107.5L373.5 1105.5L404 1114L385.5 1114.0L389.0 1114.5L391.0 1114.5L399.5 1111.5L383 1112L387.0 1114.5L374 1110L374.5 1108.5L391.5 1113.0L374.0 1113.5L386.5 1114.0L396 1111L401.0 1108.5L390.5 1114.5L402.5 1102.5L376.0 1110.5L388.5 1114.5L395 1112L388.5 1114.0L393.5 1114.5L392 1114L400.0 1112.5L393.5 1114.5L397.5 1114.0L377.5 1109.5L383.5 1114.0L394.5 1113.5L395.5 1108.5L386.5 1114.5L382.5 1111.5L378 1112L374.0 1102.5L374.5 1113.5L389 1114L381.5 1113.5L382.0 1113.5L384.0 1112.5L384.0 1114.5L382.5 1112.0L387.5 1114.5L401.5 1111.5L396.5 1112.5L403.0 1110.5L375 1113L372.5 1109.0L382.5 1114.5L393.0 1112.5L403.5 1113.5L391.0 1113.5L374.5 1113.0L382.5 1113.0L402.0 1113.5L382.5 1111.0L385 1113L391.0 1114.5L384.0 1114.5L402.5 1111.5L380 1109L388.5 1114.5L377.0 1114.5L377.0 1114.5L376.5 1109.5L375.0 1106.5L375.5 1109.0L390.0 1114.5L402.0 1101.5L393.5 1114.5L373 1110L375 1106L386 1114L384.5 1114.5L401 1110L387.5 1114.5L400.5 1113.0L387.5 1114.5L378 1111L380.5 1110.0L399.5 1111.0L388.5 1114.5L386.0 1114.5L372.0 1114.5L389.5 1114.5L376.5 1114.0L376.5 1104.5L375.0 1109.5L390.5 1113.0L389 1114L391 1113L374.5 1114.5L375.5 1106.5L384.0 1114.5L402 1113L383.5 1113.0L398 1109L387.0 1114.5L395.5 1114.5L402.0 1113.5L383.5 1112.5L383 1114L385.5 1114.5L384.5 1114.5L374.0 1114.5L386.5 1114.5L372.5 1100.5L394.0 1114.5L389 1114L385.5 1114.0L378.0 1114.5L379.0 1109.5L399.5 1110.0L395.5 1114.5L394.5 1114.0L384.0 1112.5L386.5 1114.5L398.5 1105.0L378.5 1114.0L372.5 1103.0L398 1114L383.5 1114.5L376.5 1111.0L379 1114L388.0 1114.5L387.5 1114.5L385.5 1114.5L386.0 1114.5L383.5 1114.5L377.0 1112.5L394.0 1114.5L375 1104L387.5 1114.5L386.0 1114.5L391 1113L390.5 1114.0L384.5 1114.5L379.5 1111.0L381.5 1114.5L376.5 1114.0L394.5 1109.5L384.5 1114.5L396.0 1114.5L383.5 1114.0L373.5 1112.5L385.0 1114.5L392.5 1111.5L382.0 1113.5L402.5 1108.5L392.0 1114.5L372.5 1114.5L378.5 1109.0L376.5 1113.5L380.0 1112.5L390.5 1114.5L401.5 1104.5L402 1113L382.0 1114.5L376.5 1112.5L394 1111L381.0 1111.5L380.5 1111.0L380.5 1111.0L376 1114L389.5 1114.0L386.0 1114.5L386.5 1114.5L389 1114L393.5 1110.5L389.0 1114.5L376.0 1112.5L390.5 1113.5L402.5 1104.0L382.5 1113.0L374.5 1112.5L385 1114L399.0 1112.5L397.5 1113.0L386 1114L402 1100L385.5 1114.5L391.5 1114.5L372 1106L393 1113L389 1114L392.0 1113.5L381.0 1109.5L377.5 1106.5L373.0 1112.5L397.5 1109.0L382 1114L382.0 1111.5L394.0 1111.5L397.5 1113.5L381.5 1111.0L401 1111L399.5 1112.5L390.0 1114.5L379 1114L381.0 1110.5L399 1110L397.0 1113.5L392 1112L385.0 1113.5L402.0 1110.5L382 1114L400.5 1114.5L393 1114L374.5 1114.5L387.5 1114.5L382.0 1113.5L400.5 1105.0L398.5 1114.0L398.5 1111.0L396.5 1110.5L378.5 1112.5L376.5 1109.5L371.5 1097.5L401.5 1113.5L390.5 1114.0L392.5 1111.0L383.5 1113.0L381 1112L383.5 1114.5L373.5 1107.0L402 1114L396.0 1112.5L403.0 1102.5L371.5 1111.5L392.0 1112.5L381.5 1113.0L375.0 1113.5L400.5 1111.0L383 1114L392.5 1114.5L390.0 1113.5L394 1111L379.5 1113.5L387.0 1114.5L380.0 1113.5L399.5 1105.5L392.5 1114.5L374.5 1105.5L385.5 1114.0L372.0 1114.5L383.0 1112.5L399 1106L378 1107L381.0 1114.5L402.5 1110.5L396.5 1112.0L379.0 1114.5L383.0 1114.5L392.5 1113.5L401.0 1109.5L401.0 1108.5L373 1105L400.5 1103.0L396.0 1110.5L387.5 1114.5L390.0 1114.5L382.5 1113.5L396.5 1110.5L394 1113L382 1112L377.0 1112.5L394.5 1113.5L398.5 1111.0L392.5 1114.0L396.5 1114.5L399 1104L380.0 1113.5L388.5 1114.5L397.0 1114.5L380.5 1110.5L387.0 1114.5L393.0 1114.5L385 1114L384.5 1114.0L375.5 1107.0L388.0 1114.5L389 1114L384 1114L381.5 1114.0L399.0 1111.5L375.5 1107.5L398 1113L401.5 1113.5L398 1109L382.0 1111.5L399 1113L388.5 1114.5L389.5 1114.5L382.0 1110.5L379.5 1110.0L373.5 1101.5L376 1107L392.0 1114.5L392.0 1112.5L404.0 1114.5L401 1109L380.5 1114.0L381 1113L376.5 1113.5L384.5 1114.5L380.5 1111.5L388.0 1114.5L371.5 1106.5L372.0 1105.5L400 1109L391 1113L391.5 1113.0L397.5 1114.0L397.5 1109.0L393.0 1111.5L398.5 1112.5L375.5 1105.0L381 1113L391.5 1112.5L403.5 1111.5L381 1111L371.5 1114.0L381.0 1112.5L386.5 1114.5L388.5 1114.5L383.5 1114.5L373.5 1113.5L378.5 1111.5L391.0 1114.5L372.5 1105.5L397 1114L399.5 1109.5L389.5 1114.0L383.0 1113.5L394.5 1114.0L381.5 1113.0L401.0 1113.5L385.0 1113.5L374.5 1111.0L385.5 1114.5L374.0 1114.5L387.5 1114.5L388.0 1114.5L400.5 1114.5L394.0 1112.5L401.0 1112.5L396.0 1110.5L392.0 1113.5L397 1114L384.0 1112.5L376.5 1114.0L388.5 1114.5L399 1105L378.0 1114.5L383 1112L389.5 1114.0L388.5 1114.5L399.0 1105.5L376 1113L382.0 1110.5L394.5 1113.5L397.5 1112.0L384 1114L384 1114L399.5 1108.5L390.0 1113.5L401.0 1112.5L399.0 1105.5L403.5 1106.5L373 1111L399.5 1109.5L386 1114L396 1110L378.5 1114.5L374.5 1108.0L397 1109L390 1114L389.5 1114.0L380.0 1113.5L394.5 1114.0L397 1113L389.0 1114.5L380.0 1111.5L397 1114L374.5 1109.0L398.5 1113.5L373.5 1113.0L372 1114L385.0 1114.5L378.0 1114.5L397.0 1108.5L383 1114L387.0 1114.5L376 1105L373.5 1105.0L373.5 1111.5L371.5 1100.5L390.0 1113.5L393.5 1111.0L396 1112L377.0 1109.5L385.0 1113.5L400.0 1107.5L383.0 1111.5L380.0 1114.5L403 1114L387.0 1114.5L403.5 1101.5L403 1107L397.5 1114.5L383 1112L385.5 1114.5L388.0 1114.5L392.5 1114.5L384.0 1114.5L385.5 1114.0L385.5 1114.5L390.0 1114.5L380.5 1114.0L371.0 1110.5L380.5 1114.5L395.5 1114.5L397.5 1105.5L379 1113L396.5 1109.0L399.0 1109.5L403.0 1105.5L398 1106L383.0 1114.5L390 1114L394.0 1114.5L389 1114L374.5 1114.0L382.5 1111.5L388.0 1114.5L397.0 1114.5L396.5 1110.0L377 1106L385.0 1113.5L393.5 1114.5L400.5 1114.5L376.5 1110.5L396.0 1112.5L390.5 1113.5L386.5 1114.5L393 1112L378.5 1113.0L393.0 1114.5L371.5 1111.0L376.5 1112.5L395.0 1111.5L382.0 1112.5L371.5 1109.5L384.0 1114.5L393.5 1111.5L374.0 1114.5L371 1107L376.5 1109.0L391.5 1112.0L393.0 1114.5L403.5 1101.0L399.5 1106.5L386.5 1114.5L400.0 1107.5L380.5 1110.5L374.0 1107.5L381.0 1114.5L394.5 1110.5L375.5 1106.5L389.5 1113.5L384.5 1114.5L404 1102L396 1113L377 1114L384 1114L381.0 1114.5L381.5 1112.0L390.0 1113.5L401.5 1103.0L374.0 1114.5L386.0 1114.5L395.5 1111.5L376.5 1112.5L382 1114L379.0 1108.5L404 1112L384.5 1113.5L399.5 1112.5L422 1113L377.5 1113.5L373.0 1114.5L376.5 1113.5L367.5 1114.5L388 1114L410.5 1114.0L413.5 1113.5L383 1113L363.5 1114.0L402.5 1113.5L407.0 1113.5L344.5 1114.0L379 1114L387 1114L391 1113L367.0 1113.5L396.5 1113.5L401.5 1113.0L396.0 1113.5L383.5 1112.5L374.5 1114.0L439.0 1112.5L412.5 1112.5L379.5 1112.5L410.0 1113.5L454.0 1113.5L345.5 1113.5L431.5 1114.0L367.0 1114.5L358 1114L448 1114L395.5 1114.0L369.0 1112.5L439.0 1112.5L421.0 1113.5L410 1113L405 1113L390.5 1113.5L367.0 1113.5L388.0 1112.5L362.0 1112.5L372.0 1113.5L332.5 1112.5L333.5 1112.0L412 1114L373.5 1113.5L334 1114L370 1113L372.5 1113.0L430.5 1112.5L389 1112L355 1114L395 1112L379.0 1112.5L396.5 1113.5L420.5 1112.5L442.5 1112.5L416 1112L343 1113L406 1113L395.5 1113.0L394.5 1112.5L404.5 1114.0L353.5 1113.5L393.5 1114.0L414 1114L403.5 1112.5L352.0 1114.5L424.0 1113.5L420.5 1112.5L401.5 1113.5L424.5 1113.0L408.0 1113.5L384 1114L401.5 1113.0L370.5 1114.5L404.0 1112.5L434.0 1112.5L384.5 1114.0L413.0 1112.5L375.0 1112.5L363.5 1112.5L391.5 1114.0L413.5 1114.0L356 1113L402.5 1113.0L390.5 1112.5L402 1114L398.5 1114.0L350.5 1113.0L403.5 1112.5L361.5 1113.0L392.5 1113.0L395 1114L343.5 1113.0L342.5 1113.5L398.5 1113.0L381.5 1113.5L372.0 1112.5L362.5 1112.5L385 1114L396.0 1112.5L405 1114L410.5 1112.5L400.5 1114.0L420.5 1112.5L384 1113L374 1113L362 1114L349.0 1114.5L428 1113L335.0 1113.5L374.5 1113.5L385.0 1113.5L396 1112L375 1113L315.5 1112.5L369.0 1112.5L360.5 1112.5L400.0 1113.5L375.5 1113.0L392.0 1113.5L398.5 1113.5L396 1114L364.0 1112.5L380.0 1113.5L412.0 1113.5L361 1113L427.5 1113.5L343.5 1113.0L374.5 1114.0L329 1113L422.0 1113.5L384.5 1112.5L409.5 1113.0L378.0 1113.5L351.5 1113.5L398.0 1114.5L395.0 1112.5L382.0 1113.5L390.5 1114.0L408.0 1112.5L434 1113L368.0 1112.5L461.5 1112.5L404.0 1112.5L395 1114L421 1114L383 1113L368 1113L353.5 1113.0L390.0 1114.5L334.5 1113.0L373 1113L356.5 1113.0L388.5 1113.5L439 1112L357.5 1113.0L365.0 1113.5L396.0 1113.5L388.0 1112.5L387.0 1114.5L373.5 1114.0L389.5 1114.0L342.5 1113.0L417.5 1113.0L353.5 1113.5L366.5 1113.0L408.0 1113.5L424.0 1112.5L390.5 1114.0L390 1113L354.5 1114.0L349 1113L405.0 1112.5L403 1114L396.5 1114.0L382 1113L414.5 1112.5L380.0 1112.5L394.5 1113.0L398.0 1112.5L354.0 1113.5L415 1114L401 1113L389.5 1113.5L395.5 1114.0L354 1114L395.5 1112.5L395.5 1113.0L411.0 1113.5L376.5 1112.5L379.0 1112.5L405.5 1113.0L425.5 1112.5L389 1114L363.0 1112.5L393 1114L380.5 1113.5L349 1113L394.5 1113.5L380.5 1113.5L353.0 1113.5L410.0 1112.5L379 1114L401.5 1112.5L382 1113L370.5 1112.5L364 1113L405 1113L390.5 1113.5L408 1113L323.5 1113.0L385 1113L382.5 1113.5L371.0 1112.5L324.5 1114.0L358.5 1112.5L370.5 1114.0L431.5 1114.0L390.5 1112.5L407.5 1112.5L432.0 1113.5L405.0 1113.5L398.0 1113.5L395.5 1113.5L332.0 1113.5L374 1113L402.5 1113.5L410.5 1114.0L345.0 1113.5L378 1113L384.0 1112.5L414.0 1112.5L388 1114L394.5 1113.5L362 1112L393 1114L417 1114L421.0 1113.5L382.5 1114.0L416.5 1112.5L377 1112L439.0 1112.5L387.0 1112.5L423.5 1113.0L346 1114L380.5 1112.0L436 1113L411 1114L347.0 1112.5L341 1113L413.5 1113.5L373 1113L392.5 1113.0L403 1113L349.5 1113.0L426 1112L398 1113L409.5 1112.5L413.0 1113.5L450.5 1113.5L394.5 1112.5L407.0 1112.5L364.0 1112.5L399.5 1112.5L321 1113L423.0 1112.5L415 1112L371.0 1112.5L410.5 1114.0L389.5 1113.0L379.5 1113.0L331 1114L386.0 1113.5L441 1113L383.5 1112.5L397.0 1113.5L353 1114L344.5 1113.5L351.5 1112.5L403.5 1112.5L412 1113L415 1113L365.5 1112.0L411 1113L365.0 1112.5L400 1112L392 1113L401.5 1113.5L394 1112L405.0 1112.5L375.5 1113.0L354 1114L428.5 1113.0L341.5 1113.0L349.0 1112.5L392 1114L362.5 1112.0L378.5 1114.0L410.5 1114.0L383.5 1113.0L382 1114L369.5 1113.5L420.5 1114.0L380.5 1112.0L380.5 1114.0L374 1113L416.5 1112.0L409.5 1112.5L400 1114L406.5 1114.5L412 1114L397.0 1113.5L368.5 1114.0L360.0 1113.5L378.5 1113.5L415 1114L441.0 1112.5L429.5 1113.0L393.0 1113.5L372.5 1114.0L423.5 1112.5L341.5 1114.0L388.0 1112.5L410.0 1113.5L387.5 1113.0L399.5 1112.5L447.0 1113.5L383.5 1112.5L367.0 1112.5L366.5 1112.5L347.5 1113.0L357 1113L412.5 1113.5L381.5 1112.5L380.5 1114.0L413.5 1113.5L422.5 1112.5L400.0 1113.5L409 1114L379.5 1112.5L386.5 1114.0L380.5 1113.0L419 1114L410.0 1112.5L447 1113L357.5 1113.5L370.0 1113.5L374 1113L359.5 1113.5L395 1114L333.5 1113.5L331.5 1113.0L413 1113L425.5 1112.5L380.5 1114.0L350 1113L426 1113L378 1114L345.0 1113.5L445.0 1113.5L402.5 1113.0L393.5 1114.0L376.5 1112.5L415.5 1113.0L370.5 1113.5L381.0 1112.5L401 1113L360.5 1112.5L425.5 1113.5L427.5 1113.5L403.0 1112.5L411.5 1114.0L361.5 1113.0L405.5 1113.0L424.5 1113.0L352.0 1113.5L402 1114L415.5 1113.0L381.0 1113.5L403.5 1113.0L412 1114L410.5 1112.5L421 1114L369.0 1112.5L452.5 1113.0L394.0 1112.5L386.0 1112.5L372 1113L377.5 1113.5L397.5 1112.5L411.0 1112.5L392 1113L360.0 1112.5L443 1114L395.5 1113.0L419 1114L360.0 1113.5L358.5 1112.5L384.5 1113.5L404.5 1113.5L330 1114L410.5 1114.0L386.0 1112.5L384.5 1114.5L352.5 1114.0L385.0 1112.5L390.5 1113.5L377.0 1112.5L381.5 1114.0L391.5 1114.0L370 1113L421.5 1114.0L365 1113L417.5 1113.0L367.5 1114.0L416.5 1112.5L450.5 1113.0L374.5 1113.5L371.0 1113.5L387 1113L437.0 1113.5L326 1113L352.5 1113.5L355 1114L380.5 1112.5L415.0 1113.5L431.5 1114.0L433.0 1113.5L409 1113L360 1114L382.5 1113.5L375 1114L373.5 1112.5L399.5 1113.0L383.5 1113.5L406.5 1113.5L399 1113L373.5 1113.5L406.0 1112.5L361.5 1113.5L336.0 1112.5L372.5 1113.5L404.5 1113.0L386.5 1112.5L420.5 1113.5L371.5 1112.5L422 1114L366.5 1114.0L402.0 1112.5L350 1113L413.5 1113.0L394.0 1112.5L422.5 1112.5L378.5 1113.0L399.0 1113.5L413 1114L382 1114L399 1114L402 1113L384 1113L387 1114L415.0 1113.5L396.5 1114.5L384 1113L315.5 1113.0L408.5 1112.5L371 1114L391.5 1113.0L378.5 1113.0L399.0 1112.5L371.5 1112.0L351.5 1113.5L362 1113L327 1114L378.0 1113.5L359.0 1113.5L394.5 1112.5L389 1114L379 1113L387 1114L382.0 1113.5L401 1114L378 1113L370 1114L404.5 1113.0L392.5 1112.5L377.0 1112.5L431.5 1113.5L397 1114L399.0 1112.5L395.5 1114.0L365.0 1112.5L383.5 1113.0L395.5 1112.5L378.5 1113.5L391.5 1114.5L407 1114L357.5 1112.0L424.0 1112.5L372.5 1113.0L380.5 1113.5L404.5 1114.0L392 1113L375 1114L381.0 1113.5L385.5 1112.5L413.5 1114.0L400.0 1113.5L329.0 1112.5L392.5 1112.0L389.5 1113.5L380.0 1112.5L348.5 1114.0L394 1113L420.5 1113.5L394.5 1113.5L351.0 1112.5L356.5 1114.0L391.5 1113.0L411.5 1113.5L366.5 1114.0L395.0 1113.5L396 1113L404 1114L392 1114L354.5 1112.5L443.5 1114.0L376 1112L393.0 1112.5L334.5 1113.0L358.5 1113.5L404.5 1113.5L378.0 1112.5L364 1114L362.5 1112.5L385 1113L417.5 1112.5L379 1113L396 1113L349.0 1112.5L411.5 1113.5L435.5 1113.0L336.5 1112.5L418.5 1113.5L357.5 1112.0L414 1113L420 1113L399.0 1112.5L391.5 1113.5L372 1113L371.5 1113.0L394.5 1113.5L399.0 1112.5L398.5 1112.5L367.5 1113.0L365.0 1112.5L330.5 1114.5L390.0 1112.5L373.5 1113.5L400.0 1113.5L358.0 1112.5L368.0 1113.5L381.5 1113.5L387 1114L389.5 1114.0L381 1113L410.5 1114.0L397.5 1112.5L432 1113L418.5 1112.5L401 1113L405.5 1114.0L371 1113L341.5 1112.5L397.5 1113.0L401.5 1113.0L360 1114L414.5 1112.5L362.5 1113.5L425.0 1112.5L359.0 1112.5L414.5 1112.5L324.5 1114.0L381.0 1113.5L398.0 1113.5L414 1113L405 1114L349.5 1112.5L348.5 1112.5L405.5 1113.5L430.0 1112.5L385.5 1113.0L394.0 1112.5L412.5 1114.0L415.0 1113.5L393.0 1112.5L397.0 1112.5L414.0 1112.5L414.0 1113.5L441.0 1113.5L402.5 1113.5L391.5 1114.0L413.0 1112.5L356.5 1112.5L389.5 1112.5L350 1114L352.0 1112.5L365.5 1113.0L442.0 1112.5L356.0 1113.5L390 1114L387 1113L400 1112L372.0 1112.5L360.0 1113.5L420.0 1112.5L444.5 1112.5L371.5 1112.5L348 1113L412.0 1113.5L395 1114L367.0 1113.5L381.0 1112.5L382.5 1113.0L377.5 1113.5L417 1113L352.0 1112.5L378.5 1113.0L385.5 1112.5L359 1114L363.0 1113.5L364 1113L416.5 1113.5L417.5 1114.0L383.0 1112.5L399 1114L366.5 1114.0L384.5 1113.0L358.5 1113.5L387.5 1112.0L418 1113L382.5 1112.0L404.5 1113.5L371 1114L414.0 1113.5L379.5 1113.0L389 1114L398.5 1112.5L372.5 1114.0L377.0 1113.5L392 1113L368.5 1112.5L369 1113L340.5 1113.0L411.5 1112.0L355 1113L374.5 1114.5L352 1113L423.5 1114.0L412 1114L378.5 1112.5L404 1114L366.5 1112.5L424.5 1113.0L396.0 1113.5L424.5 1113.5L396.5 1113.5L411.0 1112.5L428 1113L450.0 1112.5L355.5 1113.0L397.5 1114.0L381.0 1112.5L423.0 1113.5L408.5 1112.5L425.5 1114.0L458.5 1112.5L363.5 1114.0L376 1114L422 1113L390.0 1113.5L373.5 1112.5L431.5 1114.0L422 1113L447 1114L384.5 1112.5L418.5 1112.0L377.0 1113.5L388.0 1112.5L376.5 1113.5L345.5 1112.5L427.0 1113.5L334 1113L404.5 1114.0L406.0 1112.5L408.5 1114.0L409.5 1113.5L441 1113L363 1114L378.5 1112.0L396.5 1114.0L423.5 1113.0L344 1114L386.5 1113.0L380 1113L379.5 1113.5L376.0 1113.5L385.0 1112.5L432.0 1112.5L402.5 1114.0L371 1113L369 1114L401.5 1113.0L422 1114L325.0 1113.5L317.0 1112.5L407.5 1112.5L334.5 1113.0L408 1113L375.0 1112.5L387.0 1112.5L359.0 1112.5L361 1114L426.0 1112.5L339.5 1113.0L383.0 1112.5L372.5 1114.0L370 1112L406.5 1113.5L399 1112L387.5 1113.5L369 1112L420.5 1113.5L376.0 1113.5L390.0 1113.5L407.5 1112.5L426.5 1113.0L357 1113L386.5 1113.5L370 1114L417 1113L399.0 1112.5L442 1113L388 1114L383 1114L403.0 1112.5L375 1112L381.5 1114.0L405.5 1112.0L400.0 1113.5L388.0 1112.5L369.5 1113.0L424.5 1114.0L394.0 1113.5L442.5 1113.0L411.5 1113.5L346 1114L458 1113L427.5 1112.5L443.0 1114.5L368.5 1112.5L429 1113L401.5 1114.0L379.5 1112.5L386.0 1112.5L393.5 1113.0L390.5 1114.0L384.5 1114.0L390 1114L388 1114L369.5 1114.0L337.5 1113.5L377.5 1114.0L408.5 1112.5L378.0 1114.5L332.5 1112.5L371.5 1112.5L391.5 1113.5L371 1113L382.0 1114.5L393 1114L378.0 1113.5L361 1113L382.5 1113.0L375 1114L407.0 1112.5L374.5 1113.0L364.5 1112.5L326.0 1113.5L368.5 1113.0L330.5 1113.0L404.5 1113.0L414.0 1112.5L381.5 1113.0L398 1113L381 1114L414.5 1113.0L410 1114L390.5 1112.5L393.0 1113.5L339.0 1112.5L337.5 1114.0L383 1114L321.5 1114.0L358.0 1112.5L427.0 1113.5L336.5 1113.0L370.5 1113.5L375.5 1113.5L369.0 1113.5L422.5 1114.0L396.0 1112.5L430.5 1112.5L376.5 1114.0L389 1112L378.5 1112.5L361 1113L370.0 1113.5L389 1114L362.0 1113.5L396 1113L376 1113L388 1114L404 1113L402.5 1112.5L387.5 1113.0L436 1114L385.0 1112.5L363.5 1113.0L360.0 1112.5L389.5 1114.0L389.5 1113.0L382.0 1112.5L399.0 1112.5L377.5 1114.0L358.5 1114.0L403.5 1113.5L401.5 1112.5L374.5 1112.5L343.5 1112.5L328.5 1112.5L447.0 1113.5L382 1113L426 1113L404.0 1113.5L441.5 1113.0L381.5 1112.5L426.5 1113.0L361.5 1113.0L383.5 1114.0L374 1114L343 1112L403.5 1113.0L399.5 1112.5L382.5 1114.0L398 1114L406.5 1113.0L325.0 1113.5L375 1114L404.5 1114.0L421.5 1113.5L400.5 1112.5L425 1114L388.5 1114.0L396 1114L389.0 1112.5L403.5 1113.5L372.5 1114.0L404 1113L353 1113L403.5 1114.0L440.0 1112.5L396.5 1113.0L303.5 1112.0L348 1113L383.5 1113.5L432 1113L390 1114L417.5 1114.5L343.0 1113.5L397.0 1113.5L393.5 1114.0L412.5 1114.0L377.5 1113.0L421 1114L412.5 1113.0L411.0 1112.5L390.5 1113.0L338 1114L389.5 1113.5L384.5 1113.5L390.5 1112.0L446.5 1112.5L367.5 1113.0L380.0 1113.5L396.0 1114.5L378.5 1114.0L444.0 1113.5L365.5 1112.5L399.0 1113.5L368.0 1112.5L418.5 1114.0L367 1113L357.0 1112.5L447.5 1113.5L371.0 1112.5L393 1114L365 1114L376.5 1113.0L430.5 1113.5L355.0 1113.5L413.0 1113.5L368.5 1113.0L463 1113L361 1114L406.5 1113.5L365 1114L371 1113L408.5 1112.5L416.5 1112.5L457 1113L449.5 1113.0L403.5 1113.0L406.5 1113.0L426 1114L362.5 1114.0L402.5 1112.5L399.5 1113.5L406.5 1113.0L396 1114L376 1114L373.5 1113.0L356.5 1112.5L405.0 1112.5L423 1112L407.0 1112.5L363.5 1113.5L366 1114L410.5 1113.5L329 1113L420.5 1114.0L379.5 1114.0L375.5 1112.5L388.5 1113.0L373.5 1114.0L382.5 1112.5L388.5 1113.5L366.5 1113.0L381.5 1112.5L373.5 1113.5L364.5 1114.0L346 1113L329.5 1112.5L368 1113L365.5 1113.5L339 1114L392.5 1113.0L324 1114L412.0 1112.5L425 1113L446.0 1112.5L411.0 1113.5L394.5 1113.5L327.5 1114.5L407.0 1112.5L393 1113L404.0 1112.5L357.5 1113.0L391.5 1112.5L391 1113L405.5 1114.5L385.5 1112.5L384 1112L331.5 1113.0L407.0 1112.5L407.5 1114.0L381.5 1112.5L428.5 1114.0L325 1114L361 1113L390.5 1112.5L386.5 1113.0L389.0 1112.5L376.5 1113.5L366 1112L388.5 1112.5L374.5 1112.5L394.0 1112.5L455 1113L377.5 1114.0L402.5 1113.5L384.0 1113.5L335.5 1113.0L368.5 1113.5L377.0 1114.5L381.5 1113.0L380 1112L386.5 1114.0L376.0 1113.5L391.5 1113.5L371 1113L428.0 1113.5L415.0 1112.5L377 1113L405.5 1114.0L337 1114L392.0 1114.5L346 1113L376.0 1112.5L411.5 1112.5L336 1113L455 1113L411.0 1112.5L372.5 1112.5L367.5 1112.5L408 1114L429.0 1112.5L365.0 1112.5L368.5 1113.5L365 1113L369.5 1112.5L355.0 1113.5L405 1114L418.5 1113.0L402.5 1112.5L395.0 1113.5L363.5 1114.0L362 1114L368.0 1113.5L401 1113L391.0 1112.5L398 1113L384.0 1112.5L406.0 1113.5L354.0 1112.5L354 1113L400 1113L402 1114L405.0 1112.5L360.0 1112.5L414.0 1113.5L421.5 1113.0L374.5 1114.0L393.5 1113.0L368.5 1113.0L387.5 1113.0L393.5 1112.0L372.0 1112.5L383.0 1113.5L383.5 1113.0L393.5 1113.5L402.0 1112.5L386 1114L370.5 1112.5L400.5 1113.0L389.5 1112.5L395 1114L424.5 1114.0L402 1113L352.0 1112.5L397 1114L372 1114L362.5 1112.5L361 1114L366 1113L396.5 1113.5L424.5 1114.0L387.5 1113.0L368.5 1113.0L358.0 1114.5L377 1114L438.5 1113.0L385 1114L399 1114L359.0 1112.5L342 1114L400.0 1113.5L382.5 1113.5L334.0 1112.5L398.5 1113.0L414.5 1113.5L407.5 1113.0L380 1113L366.0 1112.5L430.5 1113.5L386.5 1113.0L409.5 1113.0L389.5 1114.0L406.5 1112.5L402.0 1113.5L347.0 1113.5L392.5 1114.0L356.0 1112.5L375.0 1113.5L371.5 1112.5L406.0 1112.5L401.5 1114.5L384.5 1113.0L358 1113L372 1114L387.5 1113.5L420 1113L360.5 1113.0L407.5 1114.0L414 1113L403.0 1113.5L398.5 1112.5L391.5 1113.5L344.0 1113.5L410 1114L447 1114L369.5 1113.5L440.5 1113.5L423.0 1113.5L364.5 1113.0L388.5 1112.5L360 1112L390.5 1112.5L330.5 1113.0L391.5 1113.5L368 1113L368.5 1113.0L361.5 1112.0L365.0 1112.5L366.0 1112.5L375.0 1112.5L393 1114L406.0 1114.5L433.5 1113.0L398.0 1112.5L371.0 1112.5L356.5 1113.0L398.5 1113.0L407.5 1113.5L423.5 1112.5L366.5 1112.5L400.0 1112.5L370 1114L436.5 1112.5L375.0 1113.5L430 1112L351.5 1112.5L406.0 1114.5L398.5 1113.5L359.5 1112.5L424.5 1113.0L378.0 1113.5L394.5 1112.5L389 1114L369 1114L383.5 1112.0L441.0 1113.5L416.0 1112.5L375.0 1113.5L392.5 1112.5L377.0 1112.5L363.0 1113.5L405.5 1112.5L418.0 1112.5L381.0 1112.5L406.5 1112.5L422.5 1113.5L364.0 1113.5L374.5 1112.5L371 1114L370 1114L395 1113L381 1114L374 1114L385.5 1114.0L392.5 1114.5L372.5 1112.0L367.5 1113.5L350.0 1113.5L380.5 1113.0L409.0 1113.5L409.5 1114.0L381.5 1112.5L388.5 1112.5L394 1114L347.5 1113.0L361 1113L402 1113L359 1113L388.5 1113.5L384.5 1113.0L428 1113L369.0 1112.5L432 1114L379.5 1114.5L382.0 1112.5L343.5 1112.5L313.5 1113.0L357.5 1112.5L447.5 1112.5L437.0 1112.5L359.5 1112.5L331 1113L332.5 1114.5L417.5 1112.5L376.0 1112.5L406.5 1113.5L337.0 1112.5L388.5 1112.5L376.0 1113.5L429.5 1112.5L393.5 1113.0L360.5 1113.5L368 1114L377.0 1112.5L374.5 1113.0L349.5 1114.5L419.5 1112.5L351 1112L362 1113L391.0 1113.5L405.0 1113.5L421.5 1114.0L361 1113L437.0 1113.5L368.0 1114.5L338.5 1113.5L335.5 1113.0L391.5 1112.5L352.5 1113.5L379.0 1113.5L363 1112L402.5 1113.5L412.0 1114.5L399.5 1112.5L417.0 1112.5L327.5 1114.0L365.0 1113.5L382.0 1113.5L411.5 1112.5L388.0 1113.5L384.5 1113.0L402 1114L395 1113L333.0 1112.5L414.0 1112.5L360.5 1114.0L387.0 1112.5L413.0 1113.5L366.5 1114.0L369 1114L384.5 1113.0L373.0 1112.5L379.0 1113.5L388.0 1113.5L410.5 1112.5L422.0 1113.5L404.0 1112.5L389.5 1114.0L359.5 1113.5L421.5 1114.0L353 1113L392 1114L408.0 1112.5L435.0 1114.5L328 1114L407.5 1112.0L386.5 1112.5L370.5 1113.0L382 1113L404.5 1113.0L353.5 1113.5L382.5 1112.0L414.5 1113.5L368.5 1113.0L388.5 1113.5L380.5 1113.0L352.5 1112.5L412 1113L378.0 1112.5L426 1113L378.5 1113.0L379.5 1113.0L438.0 1113.5L397.0 1113.5L376 1114L435.0 1113.5L429.5 1113.0L419.0 1113.5L383.5 1113.5L395.5 1113.5L368.0 1112.5L409.5 1113.0L394.5 1113.5L398.0 1113.5L381 1114L409 1113L401.5 1112.5L368 1113L391.5 1113.5L391 1112L416 1114L395 1114L353.0 1113.5L443.5 1112.0L380.5 1113.0L379 1113L377.0 1112.5L340.5 1112.0L408.5 1113.0L385.5 1112.0L338.5 1112.5L394 1112L442 1113L415.0 1113.5L392 1114L392.5 1113.5L422.5 1113.5L413.5 1113.0L379.5 1113.0L441 1114L344 1113L384 1113L361 1113L422 1113L357.5 1112.5L360 1114L432.5 1112.5L407 1113L363 1113L349.5 1112.5L418.5 1112.0L391.5 1112.0L372.5 1113.5L332.0 1113.5L380.5 1112.5L347 1114L420 1114L340 1114L364.5 1114.0L393.5 1113.5L394.5 1113.5L418.0 1112.5L359.5 1112.5L364.0 1113.5L396.5 1112.5L449.5 1112.5L416.5 1114.0L368 1114L382 1112L369.0 1112.5L420 1113L381 1114L401.5 1113.0L367.0 1112.5L473.5 1113.5L364.5 1114.0L407.5 1113.5L383.0 1112.5L380.5 1113.5L399.5 1113.0L388.5 1113.5L353.5 1113.5L340 1113L414.0 1112.5L362 1114L383 1114L384.0 1113.5L403.5 1114.0L339.5 1113.0L335.5 1114.0L362.5 1113.5L382.5 1114.0L379.0 1113.5L362.5 1114.0L368.0 1114.5L374 1113L430.5 1113.0L445.5 1113.0L351 1114L378.5 1113.0L388 1114L408 1113L391.5 1113.0L412 1113L423 1114L374.5 1114.0L386.5 1112.5L393 1113L314.5 1113.0L377.5 1113.5L392.5 1113.5L404 1112L392.0 1113.5L450 1114L428 1113L393.5 1113.0L346.5 1113.0L422.5 1112.5L404.0 1113.5L436 1114" fill="none" stroke="none" marker-start="url(#mg)" marker-mid="url(#mg)" marker-end="url(#mg)"/>
<path d="M293.5 1098.0L331.5 1106.0L254.0 1088.5L259.5 1090.0L335.5 1108.0L329.5 1107.0L275.5 1094.5L310.0 1102.5L236.0 1080.5L280.5 1095.5L160.0 1051.5L299.5 1100.0L322 1105L196.0 1068.5L317 1103L285 1096L252.0 1087.5L313.0 1103.5L225 1078L244.5 1085.0L270.0 1092.5L221.0 1074.5L307 1101L183 1064L214.5 1075.0L325.5 1102.5L276.5 1095.0L263.5 1090.5L335 1107L247.0 1083.5L183 1064L242.5 1082.0L245.5 1082.0L167.5 1058.5L266 1092L220.5 1078.0L232.0 1077.5L300 1101L282.5 1096.5L268.5 1092.5L318.5 1104.5L206.5 1073.0L324 1106L184 1063L330.5 1106.0L181 1064L195.0 1068.5L277 1094L287.5 1094.5L321 1103L317.5 1104.5L264 1090L243.5 1086.0L276.5 1095.0L285.5 1093.0L223 1077L258.0 1087.5L333.5 1106.5L177.5 1062.5L200 1066L281.5 1095.5L234.5 1082.5L332.5 1107.0L319.5 1105.0L290.5 1098.5L321.0 1105.5L328 1107L183.0 1065.5L238.5 1083.0L289.5 1097.5L286.5 1095.0L156.5 1051.5L267.5 1092.0L328 1107L290.0 1098.5L319.5 1102.5L336.5 1107.0L321.5 1105.0L252.5 1086.0L159.5 1056.5L185.5 1066.0L286 1096L319 1105L204.0 1069.5L292.5 1098.5L158 1051L188.0 1065.5L212.5 1071.5L309.5 1101.5L336.0 1108.5L336.5 1108.5L222.5 1077.5L164.5 1052.0L157.5 1054.0L165.0 1057.5L309.5 1102.5L314.5 1103.5L177.5 1059.5L190.5 1064.5L199.5 1071.0L330 1106L203.5 1068.0L210.0 1073.5L202 1072L292.0 1097.5L280.5 1091.5L279.5 1093.0L318.5 1104.5L324.5 1104.5L198 1066L322 1104L229.5 1075.5L289.0 1097.5L337.5 1108.5L161.5 1055.5L170 1058L273.5 1092.0L312.0 1101.5L305.5 1102.0L244.0 1084.5L304.5 1101.0L175 1062L288.5 1096.0L176.5 1062.5L276 1093L255 1088L256.5 1087.5L316.5 1104.5L338.0 1108.5L266.5 1091.0L215.5 1075.0L257.5 1089.5L250.5 1087.5L249.5 1086.5L306 1102L259.5 1087.0L249 1087L272.0 1089.5L239.0 1081.5L222.5 1079.0L270.5 1091.0L168.0 1059.5L221.0 1074.5L304.5 1099.0L249.5 1083.5L323 1105L325 1106L307.5 1102.5L331.5 1106.5L178.0 1059.5L320.5 1105.0L322.5 1103.5L181 1063L165.5 1059.0L280.5 1090.5L192.5 1068.5L319.5 1103.5L291 1098L314.5 1103.0L337 1107L250.5 1087.5L292 1099L236.5 1083.0L158.0 1056.5L202 1071L303.5 1101.5L335 1108L324 1105L276 1092L304.5 1100.5L321.5 1104.0L220.5 1077.0L329.5 1105.5L275.5 1093.5L331.5 1106.0L199 1070L330 1107L185.5 1066.0L270 1092L171.5 1058.0L303.0 1100.5L308.0 1101.5L327.0 1106.5L313.5 1103.5L295.5 1099.0L299.5 1098.0L261 1090L337.0 1107.5L306.0 1099.5L251.0 1087.5L315.5 1101.0L327.5 1106.5L195.5 1067.0L192.0 1067.5L281.0 1093.5L158.5 1056.5L290 1097L234.0 1079.5L279.0 1095.5L324 1106L331.5 1107.5L319.5 1104.0L330 1106L227.0 1076.5L300.5 1101.0L269.0 1091.5L320.0 1104.5L163.5 1058.0L161.0 1055.5L162.5 1057.5L296 1100L283.5 1097.0L266 1091L260.5 1090.5L338 1109L280 1095L335 1107L308.5 1103.0L244.5 1082.0L229.5 1081.0L217.5 1075.5L293 1098L158.0 1053.5L232.5 1079.5L334.5 1107.0L236 1079L213.5 1076.0L256.5 1088.5L260.5 1088.5L193.5 1065.0L244.5 1083.5L222.0 1076.5L309 1102L287.0 1097.5L327.5 1106.0L236 1081L236.0 1082.5L338.5 1107.5L200.0 1071.5L254.5 1086.5L229.5 1077.5L305.5 1101.0L331.5 1107.5L313.0 1101.5L212.5 1073.0L283.0 1096.5L265.0 1090.5L238.0 1080.5L232.5 1081.0L305.5 1102.0L211.5 1074.5L337.5 1107.0L333.0 1107.5L222.5 1075.5L226.0 1079.5L268.0 1090.5L267.5 1089.5L314 1102L159.5 1056.5L269 1093L195 1067L303.0 1101.5L312.5 1103.0L245.0 1085.5L322.5 1102.5L323.5 1105.5L195 1064L220 1078L309.0 1101.5L336.5 1107.5L338.0 1107.5L297.5 1100.5L322.5 1105.0L190.5 1066.5L338.5 1109.0L325.5 1103.5L171.5 1060.0L299.5 1097.0L285 1092L243.5 1080.5L287.0 1096.5L334.0 1107.5L328.0 1106.5L169.5 1058.5L306 1102L315.5 1102.5L285.0 1093.5L197 1069L235.0 1078.5L251.5 1085.5L216.5 1073.5L270.5 1092.5L209.5 1073.5L334.0 1107.5L171.5 1059.0L290 1097L298 1100L304.5 1097.5L230.0 1080.5L281 1094L318.5 1104.5L176.0 1061.5L261.5 1090.0L155.5 1048.5L270.5 1092.5L329.5 1106.5L290.5 1097.5L304.5 1101.5L247.5 1084.0L277.5 1093.5L277.5 1093.5L291.0 1098.5L332.5 1107.5L324.5 1102.5L260.5 1088.0L311.5 1101.5L302.5 1101.5L271.5 1091.5L165.0 1055.5L337.0 1106.5L336 1108L266.5 1088.0L244.0 1083.5L171.5 1061.5L194 1065L306 1099L327 1106L224.5 1077.5L168.0 1059.5L207.0 1070.5L269.5 1092.5L203.5 1072.5L308.5 1101.0L297 1099L324.5 1106.5L221 1075L326.5 1105.0L245 1085L282 1096L338 1107L297.5 1096.0L232.5 1081.0L181 1063L306.5 1102.5L163.5 1058.0L337.0 1107.5L261.5 1090.0L304.5 1100.5L227.5 1079.5L335.5 1108.0L291.0 1096.5L314 1103L200.0 1071.5L313 1102L161.5 1055.5L309.0 1100.5L310.5 1103.5L165.5 1057.0L262.0 1090.5L277 1094L228.0 1079.5L281 1096L312 1103L334 1108L333.0 1105.5L181 1061L214.0 1070.5L292.5 1099.0L316 1102L336.0 1107.5L228.0 1079.5L292 1098L318.5 1104.0L288.5 1098.0L165.0 1053.5L312.5 1101.0L288.0 1096.5L274 1091L334 1107L173.0 1061.5L315 1102L336.0 1106.5L278.0 1094.5L335 1106L335.5 1105.5L305.0 1100.5L211.0 1073.5L302.5 1100.5L164.5 1057.0L217.5 1076.0L295.0 1099.5L209.0 1074.5L173.5 1057.5L336.5 1106.5L308.5 1099.0L165 1058L282.5 1096.5L262.5 1089.0L171 1059L212.5 1071.5L194.5 1069.5L293 1097L294.5 1097.5L330.5 1105.5L314 1104L332.5 1107.0L335.5 1107.5L159 1056L181.0 1062.5L330.0 1107.5L328.5 1105.0L271.5 1093.5L308.5 1101.0L226.0 1078.5L210.5 1073.0L325.5 1104.5L190.5 1067.5L285 1095L212.5 1075.5L306.5 1101.5L321 1104L293 1098L280.5 1094.0L309 1103L197.5 1066.0L328.0 1103.5L266.0 1090.5L174 1057L335 1108L315.5 1103.5L361 1060L337.0 1106.5L366 1107L329.5 1108.0L325.0 1102.5L293.5 1101.5L354.0 1092.5L365 1103L359.0 1105.5L356.0 1074.5L356.0 1087.5L371.0 1103.5L353.5 1100.0L370.5 1096.0L368.0 1104.5L365.5 1099.5L367 1085L363.5 1062.5L348 1058L353.5 1077.5L363.0 1099.5L366.5 1090.5L369.5 1089.5L336.5 1089.5L352.5 1101.0L350.5 1111.0L347.5 1082.0L350 1099L366.5 1110.5L345.5 1090.5L313.5 1092.0L346.5 1048.5L259.5 1060.0L364.0 1100.5L296.5 1101.5L346.5 1107.0L346 1111L365.0 1092.5L365 1110L331.5 1062.0L339 1109L332.5 1074.0L356 1101L331.5 1090.5L334.5 1095.0L366.0 1094.5L371.0 1110.5L362.5 1096.5L333.5 1108.0L362.0 1110.5L353.5 1111.5L341 1089L361.5 1111.5L353.5 1111.0L370.5 1067.0L363.5 1100.0L358.5 1111.5L298.5 1101.0L310.5 1073.0L357.5 1090.0L318.5 1090.5L296.5 1101.0L361.0 1087.5L362.0 1094.5L327 1096L321.5 1097.0L340 1107L368.0 1109.5L367 1105L322.5 1081.0L368.5 1105.0L283 1097L367 1110L266.0 1073.5L332.5 1109.0L358 1112L360 1104L370 1103L357.0 1097.5L305.5 1103.0L347.5 1108.0L357.0 1106.5L360.0 1090.5L367 1111L321.5 1086.0L353.5 1069.0L363.5 1071.5L355 1107L344 1082L356.5 1109.0L328.0 1107.5L302.0 1102.5L364 1091L365.5 1107.5L344.5 1103.5L367.5 1110.5L313.5 1104.5L367 1104L354 1089L332.5 1108.0L353.5 1065.5L339.5 1100.0L316 1071L331 1103L367.5 1087.0L332.5 1099.0L334.0 1085.5L364.5 1086.0L347.5 1110.5L365 1064L367.5 1099.0L345.5 1074.5L353.0 1107.5L354.0 1109.5L356.5 1106.0L370.5 1103.5L356.5 1107.5L363.0 1103.5L366.5 1084.5L349 1107L356.5 1080.0L349 1096L355.0 1101.5L371 1107L359 1102L328 1046L369.0 1073.5L366 1095L370.5 1095.0L362.0 1104.5L365 1096L326.5 1073.0L363.5 1099.0L351 1096L362 1100L349.0 1098.5L343 1110L349.0 1089.5L355 1050L331.5 1108.0L324 1102L345.5 1064.0L317 1101L355.5 1098.0L363.0 1102.5L346.5 1097.5L329 1102L359.0 1093.5L369.5 1077.0L369 1112L328.5 1052.0L334.5 1084.0L324.5 1084.0L301.5 1079.5L281.0 1083.5L359 1105L331 1108L370.5 1098.0L353 1092L371 1110L368 1110L369 1092L333.0 1097.5L361.5 1089.5L370.5 1085.0L358.5 1109.0L347.5 1102.5L351 1109L356 1093L354.5 1056.0L340.5 1109.5L320.0 1101.5L336.5 1099.0L355.0 1094.5L371.0 1103.5L284.5 1097.5L286.5 1083.5L264.0 1067.5L357 1097L363.5 1065.5L335.5 1097.5L361.5 1084.0L368 1088L339 1063L348.5 1108.0L364.5 1104.5L353.5 1109.0L367.0 1086.5L337 1095L370 1080L340.5 1078.5L283.0 1099.5L363.5 1110.5L341.5 1098.5L337.0 1108.5L361 1094L326.5 1097.0L361.0 1070.5L297.0 1079.5L307.5 1079.0L337.5 1109.5L361.0 1100.5L362 1092L369.5 1108.0L366.0 1110.5L350.5 1077.0L333 1106L318 1105L360.5 1109.0L365.0 1105.5L367 1111L326.5 1096.0L361 1104L367.5 1074.5L315.0 1005.5L364 1070L340.0 1107.5L335.5 1104.5L335 1073L313.5 1076.0L270 1087L364.0 1104.5L355.5 1112.0L350.5 1109.5L284.5 1098.0L355 1111L345.5 1096.0L361.5 1111.5L370.5 1098.5L347.0 1105.5L353.5 1094.5L365.5 1089.0L279.5 1094.5L354 1083L362 1102L290 1056L369.0 1060.5L361.5 1094.5L344 1100L288.0 1039.5L331.0 1084.5L343 1091L345.0 1047.5L359 1110L360.5 1098.5L359.5 1106.0L368 1082L340 1107L349.5 1093.0L358.5 1107.5L354.5 1112.0L341.5 1104.5L359.5 1109.0L368.5 1102.5L367 1059L365.5 1105.0L334.5 1071.5L312.0 1071.5L297.5 1034.5L304.5 1091.5L340.0 1077.5L335.5 1098.0L316.0 1098.5L354.5 1082.5L346.5 1108.0L365.5 1097.5L269.0 992.5L352.0 1111.5L340.5 1055.5L343.0 1096.5L323.5 1100.5L356.5 1091.0L367.5 1103.5L339.5 1037.0L351.0 1000.5L344 1108L345.5 1064.5L282.5 1036.0L365.5 1100.0L364 1095L356.5 1093.0L353 1105L371 1083L327 1095L361.0 1098.5L339.5 1109.0L344.5 1092.0L317.5 1106.0L367.5 1097.5L350.5 1111.0L338.5 1099.0L358.5 1081.0L336.0 1096.5L362.0 1089.5L358.5 1100.0L362.0 1104.5L341 1095L353.5 1109.5L356.5 1108.0L327.5 1107.0L367.5 1082.5L351.0 1079.5L356.5 1103.0L363.5 1100.0L350.0 1087.5L355.5 1094.5L345.5 1105.5L354.5 1096.0L354.5 1108.5L358 1110L356.0 1105.5L358.5 1109.5L360.0 1068.5L366.0 1111.5L327.5 1099.0L321.0 1062.5L333 1108L313.0 1105.5L365 1106L369.5 1096.0L317.5 1096.5L275.0 1097.5L369.5 1110.5L363 1088L322 1076L360 1059L312 1084L369 1103L320.5 1104.0L342.5 1110.0L353 1105L319.5 1105.0L345.5 1053.5L359.0 1109.5L357.5 1097.5L365.0 1096.5L304.0 1103.5L356 1111L363.5 1102.0L358 1104L368.0 1047.5L367.0 1102.5L342.5 1057.0L333 1087L361.5 1111.5L364 1080L365 1082L358.0 1079.5L355.5 1103.5L340.5 1074.0L347.0 1108.5L339.0 1085.5L351.0 1110.5L351.0 1086.5L271.0 1054.5L360 1099L357.0 1091.5L359.5 1097.0L358 1046L325.5 1103.0L330 1102L325 1107L355.5 1102.0L340.5 1109.5L367.0 1107.5L344.0 1097.5L362.5 1110.0L338 1100L351 1096L367.5 1104.0L362 1112L363.0 1090.5L365 1105L324.5 1107.0L312.5 1076.0L336.0 1093.5L367.0 1093.5L364.0 1080.5L367.0 1108.5L359.5 1103.5L323.0 1034.5L357 1099L364.5 1092.5L348.5 1073.5L368 1108L338 1108L349 1102L371.0 1105.5L350 1111L326.5 1104.0L361.0 1098.5L341.0 1066.5L332.0 1101.5L293.5 1022.0L359.0 1087.5L332 1093L369 1106L348.0 1106.5L356.5 1112.0L350 1095L359.0 1088.5L339 1102L352 1111L365.0 1091.5L354 1094L330.0 1079.5L336.5 1073.5L357 1108L358.0 1092.5L325 1107L369.5 1105.5L337 1098L335 1103L343.0 1094.5L336.5 1081.0L318.5 1071.5L302.0 1093.5L344.5 1109.0L348.5 1081.5L369 1099L365.5 1089.5L332 1073L358 1110L368.5 1104.0L369.0 1103.5L362.5 1107.0L362.5 1087.0L359.5 1107.5L365.5 1077.5L308.5 1102.5L348.0 1108.5L337 1092L363.0 1104.5L367 1112L365.5 1110.5L357.0 1088.5L362.0 1091.5L346.0 1100.5L370.5 1106.0L366.5 1109.5L364.5 1109.5L346.5 1103.0L363.0 1074.5L360.5 1106.5L369.5 1103.5L323.0 1091.5L323 1058L354.0 1101.5L354.5 1102.0L335.5 1105.5L355 1108L269.5 1022.5L322 1085L358.5 1112.0L337.5 1106.0L311.0 1076.5L344.5 1088.0L333 1106L361.0 1100.5L344.5 1107.0L344.5 1076.0L364.5 1101.5L278.5 1040.0L355.0 1079.5L365.5 1110.5L350 1102L322 1095L324.5 1093.0L355.5 1103.0L363.5 1111.0L317.0 1101.5L332.0 1106.5L295.0 1097.5L351 1087L353.0 1079.5L354.5 1062.0L355.5 1104.5L307 1090L370 1102L348.5 1100.0L345.5 1088.5L353.5 1090.0L303 1103L368.0 1110.5L308.0 1103.5L318.5 1105.5L352.5 988.5L357.5 1112.0L360.5 1105.5L345.5 1110.5L343.5 1098.5L338.5 1075.5L369 1100L340.5 1105.0L359.5 1082.5L350 1100L369.0 1095.5L337 1053L326.0 1103.5L298.0 1095.5L361.0 1091.5L369.0 1111.5L359.5 1096.0L341 1058L292 1096L355.0 1107.5L367.5 1090.5L359.5 1087.0L348 1093L360.5 1078.5L336.5 1102.5L357.5 1107.0L364.5 1106.0L341.0 1094.5L337 1109L367.5 1110.0L356.5 1091.5L365.0 1105.5L347.0 1109.5L365 1100L363.5 1108.0L362 1100L370.5 1101.5L340.0 1106.5L365.5 1111.5L345 1065L339.0 1091.5L361.5 1039.5L334 1072L353.5 1106.5L325.0 1101.5L363.5 1105.0L348 1081L308.5 1103.5L267.5 1093.5L356.5 1048.5L278.0 1028.5L276 1080L280 1040L361.5 1107.5L350.0 1098.5L323.5 1099.5L294.5 1020.5L353.5 1091.5L357 1078L371 1112L336.0 1102.5L356.5 1094.0L368 1092L328.0 1107.5L369.5 1109.0L362.5 1095.5L354.0 1051.5L364.5 1101.5L361.5 1110.5L355 1069L368.0 1102.5L356 1093L344.5 1061.0L356 1111L324 1097L358.0 1055.5L365.5 1097.5L354.0 1092.5L342.5 1028.5L289.5 1096.5L319.0 1103.5L339.5 1076.5L366.0 1076.5L359.5 1049.5L364.0 1062.5L358 1110L354 1048L363.5 1101.5L331.5 1103.0L307 1088L356 1098L332.5 1076.5L356.5 1106.5L368.5 1089.0L353 1110L330.5 1087.5L357.0 1081.5L364 1099L326.5 1107.5L368.5 1101.0L327 1099L360.5 1084.0L365.5 1088.5L311 1082L366.0 1091.5L336.0 1104.5L325.5 1070.5L371 1110L369 1099L369.5 1110.5L332.5 1102.5L363 1108L370.0 1111.5L352.0 1092.5L338.5 1096.0L362.5 1016.0L348.5 1099.5L319 1101L353.5 1108.0L345.0 1107.5L363.5 1098.0L316 1106L370.5 1092.0L361 1109L356.5 1081.0L365.5 1101.5L348.5 1109.5L340.5 1107.0L370.0 1092.5L313.5 1065.0L363 1104L277 1090L368.5 1096.0L348.0 1107.5L367 1110L350.0 1091.5L351.0 1086.5L349 1089L362 1091L366.0 1096.5L362.0 1107.5L296.5 1080.5L362 1108L364 1109L367.0 1075.5L371.0 1099.5L346.5 1093.0L342.5 1101.0L277.5 1090.0L329.5 1098.5L356.5 1087.5L355.5 1084.5L336 1078L322.5 1093.0L353.5 1091.5L313.5 1043.5L324.5 1097.5L364.5 1102.0L361.5 1104.5L367.5 1046.5L273.5 1061.0L361.5 1112.0L357.5 1084.5L367 1106L355.5 1048.0L344.0 1095.5L353.5 1089.0L367.5 1106.5L370.5 1092.0L364.5 1092.0L310 1104L370.0 1108.5L337.5 1091.5L356 1110L360.5 1108.5L359.0 1090.5L326.5 1107.5L328 1085L329.5 1106.0L370.5 1110.0L356.0 1109.5L361.5 1099.0L361.5 1106.0L364 1104L331.0 1062.5L327.5 1105.5L351 1100L348.0 1106.5L356.0 1059.5L368.5 1090.0L362.0 1076.5L368.0 1069.5L350.0 1107.5L356.0 1033.5L329 1108L311.5 1104.5L336.0 1108.5L362.5 1071.5L351 1108L338.5 1100.5L370.5 1108.0L345.5 1098.0L334.0 1069.5L362.5 1105.5L357.0 1111.5L365 1112L361.0 1097.5L366 1110L344.5 1065.5L362.0 1096.5L353 1091L369.0 1110.5L359.5 1050.0L352.5 1075.0L329 1108L328.5 1072.0L368.0 1098.5L322.5 1105.0L344.5 1110.0L333.5 1085.5L370.5 1094.0L330 1034L362 1056L353 1067L313.0 1081.5L366.5 1108.0L353.5 1110.5L356.5 1101.5L348 1089L355.5 1084.5L331.0 1082.5L363.5 1106.0L265 1078L370.5 1091.5L364.5 1112.0L361.0 1033.5L367.0 1053.5L357.5 1105.0L348.5 1111.0L333.5 1105.0L314.5 1093.5L322.5 1079.0L293.0 1100.5L364 1084L327.5 1108.0L338.5 1089.5L361.0 1098.5L370 1108L331 1089L363.5 1093.0L365 1087L317.5 1069.0L358.5 1111.0L345.5 1055.0L349.5 1109.5L345 1085L368.5 1101.5L326.5 1102.5L318.5 1099.5L334 1098L366.5 1096.0L368.5 1088.0L368.0 1110.5L369.0 1088.5L365.0 1081.5L364.5 1102.5L366.5 1052.5L361.0 1072.5L349 1093L349.5 1085.0L364 1110L357.0 1106.5L364.5 1105.0L352.5 1073.0L370.5 1097.5L265.5 1094.5L355 1103L362.5 1103.0L361.5 1083.0L314.5 1065.5L329.0 1066.5L343.0 1074.5L269.0 1032.5L325.0 1106.5L342.5 1103.0L298.5 1102.0L361.5 1105.0L349.5 1079.0L358.5 1070.5L358.5 1096.5L338.0 1095.5L352.5 1090.5L356.0 1051.5L366.5 1111.5L351.5 1101.0L344.5 1079.0L362.5 1083.5L351.5 1087.5L363.5 1105.0L364 1100L366.0 940.5L306 1099L346.5 1063.5L345.5 1094.5L332.5 1099.0L361.0 1102.5L349 1111L317.5 1105.0L345.0 1092.5L363.5 1090.0L318.5 1103.5L293.0 1100.5L331.5 1102.0L361.5 1109.0L334 1108L368 1106L364 1102L347.5 1099.0L337.5 1108.0L320.5 1098.5L352 1089L365.5 1097.5L356.5 1064.5L351.5 1096.0L313 1105L337.5 1102.5L342.0 1107.5L370.0 1101.5L356 1104L348.5 1102.0L355.5 1103.5L343.0 1103.5L365 1112L369.0 1109.5L369.0 1090.5L342.0 1109.5L351.5 1084.5L354.5 1072.5L337.0 1109.5L319.0 1106.5L364.5 1093.0L356.0 1101.5L361.5 1046.5L364.5 1104.5L369.0 1093.5L351 1095L357.5 1058.5L366 1104L371 1088L371.0 1103.5L340.0 1100.5L334.5 1101.0L296.5 963.5L358.5 1106.5L365.0 1100.5L365.5 1097.5L338.0 1050.5L360.5 1075.0L314 1105L329.0 1100.5L352.0 1079.5L350.0 1101.5L349.0 1083.5L331.5 1105.0L370.0 1110.5L349.5 1086.0L357.0 1108.5L364 1105L332.5 1066.0L367.5 1085.0L349.5 1045.5L365.0 1098.5L349 1106L341.5 1092.5L366.0 1054.5L342.5 1110.0L366.5 1095.5L356 1093L356.0 1105.5L361.5 1111.0L341.5 1096.5L324 987L369 1056L352.5 1094.5L364.5 1110.5L360.5 1099.0L277 1096L360.5 1104.0L329 1080L356.0 1106.5L365 1097L365.0 1097.5L353 1112L352.5 1084.0L367.5 1104.0L326.5 1097.0L368.0 1110.5L352 1098L361.5 1105.5L352 1111L365.5 1111.0L357.5 1087.0L345.5 1088.5L362.5 1108.5L323.5 1101.5L326.5 1099.0L352.0 1110.5L367.5 1101.0L326.5 1070.0L348.5 1098.5L323.5 1090.0L369.5 1086.0L338.5 1102.5L355.5 1106.0L367.5 1079.0L365.5 1090.5L355 1112L356.5 1006.0L363.5 1100.5L355.5 1095.0L360.0 1099.5L327.5 1093.0L303 1066L361.5 1099.5L359.5 1089.5L348 1107L356.0 1103.5L362.0 1093.5L332.0 1104.5L326.5 1071.0L357.5 1082.5L347.5 1105.5L318.5 1061.0L351.0 1104.5L364.0 1106.5L263.5 1090.5L366.5 1102.5L337.0 1109.5L355.5 1104.5L333.5 1108.5L335 1107L338.0 1103.5L358 1095L366.5 1106.0L356 1110L362 1107L355.0 1081.5L360.5 1100.5L369 1108L300.0 1087.5L361.0 1101.5L367.5 1108.0L355.5 1098.5L320.5 1005.5L345.5 1102.5L363.0 1104.5L334.5 1104.5L367.0 1099.5L358.0 1104.5L353.5 1091.0L350.5 1107.0L350.0 1102.5L370.0 1060.5L325.5 1096.0L364.5 1092.0L330.5 1089.0L346 1095L348 1109L325.0 1087.5L340 1099L340.5 1102.0L329.5 1088.5L370.5 1103.0L323.0 1060.5L370 1111L333.5 1108.0L360.0 1069.5L367.5 1099.0L321.0 1071.5L363.5 1106.5L322.0 1105.5L346.0 1110.5L310.5 1099.5L357 1092L344.5 1058.5L346.0 1107.5L356.5 1110.5L332.0 1100.5L363 1112L361.5 1098.0L333.0 1076.5L325.0 1097.5L367.5 1100.5L362.5 1103.5L364.5 1108.5L343 1097L370.5 1108.5L303.5 1089.0L339.5 1101.5L368.5 1093.0L342.0 1109.5L347.5 1104.5L355.5 1087.5L357.5 1090.0L369.5 1103.5L354.0 1110.5L345.5 1100.0L364.5 1074.0L328.0 1096.5L361.5 1076.5L355.5 1039.0L333 1068L366 1091L363.5 1093.5L370 1106L357.5 1091.5L342.5 1109.5L368.5 1112.0L355.5 1102.5L353.0 1097.5L351.5 1043.0L330.5 1100.0L360.0 1111.5L351.0 1105.5L345.0 1052.5L362.0 1102.5L351 1105L359 1112L366.5 1112.0L367.5 1100.0L361.5 1079.5L337.0 1109.5L322.0 1078.5L347 1100L338 1105L368 1101L367.0 1100.5L355.5 1069.5L361 1095L368 1109L334.5 1097.5L367.5 1110.5L330 1108L352.0 1088.5L329.5 1091.5L364 1054L311 1032L358.5 1082.5L364.5 1098.0L357.5 1109.0L362.5 1105.0L359 1103L351.5 1111.0L367.5 1097.5L361.5 1049.5L366.5 1112.0L287.5 1085.5L365.5 1107.0L364.0 1097.5L333 1051L340.5 1053.5L367.5 1092.0L330.5 1044.5L351.0 1083.5L367.0 1084.5L324.0 1107.5L347 1050L350.5 1092.0L368 1112L353.0 1101.5L299.5 1102.5L347.5 1090.5L358 1007L352.5 1088.5L354.5 1093.5L343.0 1097.5L367.5 1085.5L367 1078L360.5 1080.5L361.5 1103.5L305.5 1100.0L349.5 1085.5L333.5 1088.0L320.0 1106.5L330.0 1105.5L362.5 1099.0L358.0 1054.5L345 1103L364.5 1086.5L370.5 1101.5L365.0 1103.5L357.5 1109.5L320.5 1106.0L346 1076L363 1083L371.0 1084.5L304 1082L275.0 1095.5L324.0 1090.5L361.5 1109.5L321.5 1106.0L367.5 1087.5L367 1077L368.5 1110.5L368 1094L353.0 1111.5L362 1090L344 1109L359.5 1087.5L358 1075L348.0 1059.5L350.5 1072.0L361.0 1099.5L365.5 1032.5L355 1069L366.5 1089.5L328 1094L350.5 1063.0L266 1093L363 1101L363.5 1089.5L355.0 1095.5L356 1111L338.5 1020.0L356.5 1108.5L337.5 1099.5L358.5 1101.0L340.5 1110.0L357.0 1070.5L343.5 1110.5L327 1100L368.5 1095.0L369.5 1111.5L333 1098L364 1083L317.5 1067.5L329.0 1091.5L343.5 1110.0L362.5 1112.0L317 1105L359.0 1104.5L339.5 1016.5L342.5 1080.0L363 1098L347.5 1081.5L361 1086L351 1090L343.5 1084.0L358.5 1110.5L314.5 1104.5L367.0 1109.5L361.5 1106.5L309 1088L370.5 1106.0L352 1111L363 1104L364.5 1097.5L359 1085L357.0 1082.5L348.5 1109.0L335.5 1051.5L370 1108L346.5 1107.5L352 1108L369.5 1110.0L344 1078L333.5 1109.0L304.5 1031.5L354 1104L342.5 1109.5L301.5 1084.0L298 1100L353.0 1111.5L354.5 1100.0L359.0 1111.5L368.0 1093.5L320.0 1087.5L337.0 1104.5L363.0 1072.5L338.5 1100.0L371 1111L367.0 1081.5L369.5 1101.0L365.5 1084.5L361 1101L340 1096L370.5 1106.0L352.5 1062.0L314 1102L363.5 1096.5L365.0 1082.5L315.5 1083.5L345 1058L329 1095L339.5 1099.5L351.5 1103.0L352 1041L370.5 1104.0L337.5 1106.0L360 1105L362 1091L349.0 1106.5L367 1042L350 1111L368.5 1094.0L334.5 1091.0L361.5 1089.0L362.5 1097.0L351 1108L357.5 1055.5L336 1100L331.5 1108.5L341 1104L361.5 1106.5L365.5 1102.5L365 1110L357.5 1085.5L348.5 1081.5L352.0 1106.5L344.5 1102.0L366.0 1104.5L349.5 1107.5L357.5 1097.5L318.5 1106.0L363 1098L361.5 1106.5L295.5 1074.0L329 1108L361 1081L352.0 1032.5L329 1058L367.5 1085.0L331 1104L368.0 1111.5L356.5 1101.5L361.5 1094.5L345.5 1068.0L364.5 1100.0L341.5 1062.5L369.5 1112.0L366.0 1086.5L359.5 1091.0L323.5 1098.5L328.5 1108.0L353.5 1102.5L342.0 1076.5L357.5 1075.0L304.5 1065.5L366.5 1110.5L358 1098L319.5 1069.5L358.5 1085.5L355.5 1109.0L349.5 1103.5L345.5 1066.5L322.0 1060.5L341.5 1105.0L368.0 1057.5L341.5 1100.5L367.5 1110.5L326.0 1070.5L370.5 1088.0L344.0 1108.5L354 1106L298.5 1101.0L347.5 1103.0L324.0 1090.5L344 1110L318.0 1060.5L357.5 1079.5L368 1106L350.5 1064.0L341 1104L357 1053L366.5 1110.0L344 1088L337.0 1081.5L318 1095L369.5 1096.5L257 1035L347.5 1105.5L371.0 1105.5L367.0 1105.5L357.5 1108.5L338 1109L313.5 1034.5L355.5 1097.5L341 1093L361 1112L355.5 1107.0L321.5 1107.0L350 1041L343.5 1096.5L314.0 1060.5L341 1107L370.0 1098.5L364.0 1096.5L361.0 1076.5L307.5 1099.0L351.5 1094.5L362.5 1037.0L358.5 1109.0L321 1070L367.5 1102.0L367.0 1093.5L366.5 1088.5L349 1093L364.0 1098.5L358.0 1093.5L361.5 984.5L329.5 1106.5L359 1087L369.5 1111.5L332.5 1065.5L334 1105L371 1106L346.5 1104.5L344.5 1100.0L313.0 1105.5L332.5 1104.5L344 1103L368.5 1074.0L371.0 1110.5L287.5 1059.5L270 1085L302.5 1085.5L301.5 1010.5L358 1029L351.5 993.0L320.5 1073.5L353.0 1088.5L358.5 1087.5L353.0 1110.5L358.5 1111.0L314.0 1104.5L362.5 1103.5L365.5 1095.0L364.5 1100.0L359 1100L339.0 1092.5L362.5 1109.5L347 1106L361 1105L356 1112L312 1105L363.5 1073.5L346.5 1109.5L334.0 1088.5L355.0 1111.5L368 1109L363.5 1082.5L355.0 1106.5L326 1100L366 1095L344.5 1082.0L343.5 1106.0L368.0 1076.5L368.0 1097.5L340.5 1109.5L362 1099L352.5 1076.0L303 1074L340.0 1106.5L362.5 1100.5L319.5 989.5L326.5 1041.0L349.0 1104.5L348.0 1108.5L356.5 1098.0L341 1105L358.0 1099.5L363.5 1103.5L339.5 1089.0L369.5 1100.0L368.5 1104.5L360 1104L360.5 1040.5L363 1111L298.5 1063.0L361 1100L365.0 1097.5L365.5 1101.5L361 1089L335.5 1040.0L369 1109L366.0 1097.5L349 1086L358.5 1060.5L354.5 1106.5L346.0 1065.5L367 1100L364 1040L335.0 1079.5L368.0 1053.5L345 1110L350.5 1076.5L369.0 1095.5L366.5 1088.0L366.5 1110.0L333.5 1109.0L361 1110L335.5 1077.5L367.0 1094.5L367.0 1085.5L356.0 1095.5L340.5 1102.0L339 1089L338.5 1097.5L370.5 1106.0L332.5 1105.0L343.5 1081.0L356.5 1078.0L368.5 1112.0L325 1097L365 1086L338.5 1106.5L370.0 1098.5L341.5 1098.0L360 1062L371.0 1108.5L346.0 1056.5L320.5 1084.0L369.5 1083.0L365 1068L330.5 1108.0L366.0 1091.5L368.5 1062.0L339.5 1103.0L349.5 1090.5L368.0 1099.5L347.5 1086.5L358 1089L360.5 1089.5L365 1094L360.5 1106.5L359 1100L320.0 1094.5L344.5 1086.5L358.5 1096.5L319 1099L370.0 1111.5L365.0 1106.5L329.5 1079.0L307.0 1103.5L356.0 1072.5L347.5 1068.0L356.0 1097.5L361.0 1092.5L345.5 1102.5L346.5 1082.0L360.5 1111.0L354.5 1094.0L300 1079L368.0 1104.5L341.0 1108.5L295.5 1072.0L280.5 1077.0L364.5 1105.5L368.5 1111.0L356.0 1075.5L332.5 1097.5L360.5 1100.5L365.5 1085.0L369 1110L369.5 1109.5L352.5 1101.0L353.5 1105.5L364.0 1098.5L325.5 1045.0L351.5 1097.0L326.5 1081.0L350.0 1086.5L352 1110L364.0 1093.5L361.5 1109.5L339.0 1074.5L352 1091L367.5 1064.0L331.5 1076.0L355.5 1098.5L363 1092L366.5 1077.5L334 1099L342.0 1109.5L339.5 1104.5L360.5 1108.0L341.5 1110.0L344.5 1107.5L359.0 1107.5L319 1106L341.5 1096.5L357.0 1108.5L336 1107L340.5 1110.0L329 995L344.5 1044.0L363 1111L363 1109L334.5 1041.0L324 1054L305.0 1102.5L357.5 1091.0L354.0 1091.5L370.5 1110.5L368 1108L308.0 1096.5L341.5 1096.5L349.5 1088.5L322.5 1074.5L356.5 1110.5L364.0 1083.5L357.5 1088.0L359 1103L362.5 1090.5L328 1107L359.5 1054.0L368.5 1109.5L345.0 1105.5L364.5 1072.0L362 1110L342 1082L364.5 1091.0L368.5 1106.5L310.5 1103.0L355.0 1097.5L365 1109L265 1092L369.5 1108.5L366.5 1110.5L357.0 1099.5L340.5 1108.0L363.0 1095.5L303.5 1059.0L332.5 1083.5L316.0 1105.5L332.5 1082.0L348.5 1083.5L345.5 1093.5L363.5 1073.0L360.5 1112.0L332.5 1094.5L326.5 1051.0L368.5 1077.0L318.5 1054.5L291.0 1091.5L290.5 1007.0L313.0 1097.5L346 1106L323 1090L371.0 1056.5L349 1106L370.0 1086.5L361 1104L371.0 1110.5L361.5 1092.0L318.5 1092.0L275.5 1080.5L357 1105L340.5 1106.0L350.5 1067.5L309 1101L354.5 1106.5L358.5 1105.0L364.5 1090.0L337.0 1077.5L368.5 1107.0L354 1097L360.5 1110.0L356 1074L368.5 1101.0L361.5 1091.5L366.5 1110.5L367 1077L290.0 1077.5L369.5 1108.0L367.5 1109.5L326.0 1095.5L322.5 1106.0L299.5 1084.5L307.5 1102.5L345 1085L346 1094L346 1067L298 1102L358.5 1099.5L355.5 1062.5L332.5 1101.0L365.5 1103.0L349.5 1066.5L363.5 1109.0L366 1103L323.5 1106.5L308 1102L342 1105L337.5 1030.5L286.5 1099.5L369.5 1111.0L364.5 1085.5L366.0 1084.5L296.5 1061.0L316.0 1072.5L360.0 1077.5L365.5 1111.5L361.0 1089.5L331 1108L345.0 1056.5L345.5 1098.0L342.5 1103.0L362.5 1088.0L350.0 1109.5L310.5 1098.0L329.0 1107.5L353.5 1091.0L340 1109L339.0 1107.5L320 1083L347.5 1091.0L367.5 1112.0L343.5 1100.5L346.0 1109.5L363 1108L319.5 1090.0L352.0 1111.5L359.0 1098.5L367.0 1103.5L348.5 953.0L342 1079L343.0 1029.5L336 1099L355.0 1110.5L346 1077L355 1108L364.5 1089.0L334.5 1045.5L299.0 1065.5L368 1097L364.5 1052.5L282.5 1073.5L352.5 1109.5L360.0 1070.5L318.5 1104.5L358.5 1111.5L357.0 1097.5L344.5 1107.5L348 1059L322.0 1106.5L366 1111L362.5 1094.5L370.5 1098.5L356.5 1104.5L357 1081L347.5 1073.5L347.5 1047.0L353.5 1110.0L345.0 1067.5L364.0 1011.5L360.5 1105.0L370.5 1106.0L367.5 1076.0L348.0 1109.5L313 1105L368.5 1089.0L363.5 1108.5L337 1078L358.5 1057.0L347.5 1083.5L337.0 1074.5L367 1111L310 1105L311 1104L361.0 1074.5L309.5 1095.5L351.5 1082.0L359.5 1107.5L323.5 1102.0L317 1073L366.0 1102.5L355 1098L369.0 1091.5L354 1112L370.5 1100.5L344.5 1110.0L329 1093L331.0 1084.5L367.0 1105.5L295 1067L344.5 1110.5L340 1103L312.5 1080.0L355.5 1099.5L360.5 1103.0L365.5 1100.5L353.0 1102.5L367.5 1097.5L370.0 1105.5L364.5 1106.5L323 1076L368.0 1101.5L350.0 1102.5L322.5 1107.0L359.5 1103.5L362.5 1102.0L325.5 1107.5L367 1110L356 1047L352.5 1109.5L366 1073L312.5 1101.0L313.5 1085.0L357.5 1047.5L362.5 1102.5L358.5 1037.5L352.5 1042.0L320 1045L344 1110L356 1091L347.5 1075.0L348.5 1078.5L348.5 1084.5L357.5 1103.5L355 1058L355 1101L370.0 1069.5L317 1097L261 1062L346.5 1102.5L350 1092L337 1081L325 1073L330.5 1104.0L330.5 1058.0L315.0 1099.5L355.5 1102.0L369.0 1086.5L331 1077L355.0 1107.5L350.5 1108.0L356.0 1108.5L358 1087L311.0 1098.5L339 1094L370.5 1097.0L333.5 1092.0L366 1106L360.5 1061.5L359.5 1093.5L326.5 1107.0L369 1111L353.0 1110.5L308.0 1086.5L329.0 1099.5L359.0 1091.5L357.0 1102.5L356.5 1108.0L360 1085L347.5 1090.5L362.5 1106.0L350.0 1099.5L367.5 1108.5L359 1111L345.5 1085.0L361 1096L347.0 1110.5L367.5 1101.5L353.0 1071.5L343.5 1099.0L320.0 1104.5L342.5 1110.0L350.5 1073.0L311.5 1084.5L369.0 1109.5L366 1099L349.5 1097.0L365.5 1109.0L365.0 1076.5L368.5 1110.5L307 1047L316.5 1049.5L351.5 1074.5L363.5 1066.0L356.5 1090.0L367.0 1106.5L352.5 1106.0L296.5 1100.5L352 1096L322.5 1084.5L323.0 1106.5L368.5 1110.5L353 1086L364.5 1096.0L370.0 1093.5L290.5 1079.5L366.5 1093.5L365 1106L360.0 1099.5L359.0 1088.5L309.0 1104.5L329.5 1086.5L354.5 1076.5L350.5 1026.5L335.5 1058.0L366.5 1108.5L328.5 1072.0L280.5 1070.0L355.5 1103.5L350 1099L332.5 1107.0L342.0 1107.5L362.0 1074.5L348.5 1100.5L367 1102L350.5 1110.5L358.5 1105.0L308 1057L340.5 1109.0L366.5 1111.0L341.5 1109.5L355.5 1083.0L364.5 1069.5L356.5 1011.0L322.5 1092.5L367.5 1106.0L318.0 1105.5L320.5 1076.0L361.5 1083.0L350 1079L345 1108L369.0 1096.5L365.0 1109.5L355.0 1072.5L354 1084L358.0 1077.5L337.5 1101.0L317.5 1078.0L352 1111L360 1087L353.5 1088.0L356.5 1107.0L309.5 1104.5L340 1101L356.0 1072.5L341.5 1100.5L369 1078L308.0 1100.5L340 1108L322.5 1095.5L367.0 1105.5L359.5 1106.5L318.5 1097.5L317 1096L362.5 1101.5L353.5 1111.0L365.5 1107.0L349.5 1108.5L333.0 1025.5L362.5 1104.0L339.5 1105.5L351 1082L368.5 1084.5L354.5 1111.5L352.5 1106.0L357 1103L349 1071L324.5 1092.0L357 1062L334 1070L330.0 1076.5L358.0 1084.5L354.5 1066.5L351.5 1111.0L349.5 1111.0L361.5 1104.5L351 1110L358.0 1096.5L330.5 1009.5L359.5 1106.0L370 1107L285.5 1098.5L336 1072L356.5 1100.0L326 1085L353.5 1109.5L324 1102L336.5 1082.5L316.5 1079.0L353 1101L366.5 1107.5L363.5 1089.0L338.5 1083.5L329.0 1094.5L368.5 1094.5L345.5 1058.5L366 1088L365.5 1100.5L360.0 1107.5L360.5 1100.5L281.0 1021.5L370.0 1090.5L324 1099L354 1105L343.0 1089.5L351.5 1079.0L351 1105L343.0 1103.5L352.5 1096.0L339.5 1101.0L356 1112L344.5 1086.0L366.5 1111.5L346.0 1070.5L357.0 1084.5L316.5 1074.0L311.0 1087.5L340.0 1109.5L318.0 1087.5L370 1100L359.0 1087.5L368.5 1095.5L305.0 1098.5L365.5 1094.5L327 1022L363.0 1095.5L322.5 1082.5L351.5 1011.5L364.0 1100.5L362 1112L353.0 1106.5L359.5 1103.5L366 1077L283.5 1099.5L366.5 1099.0L335.5 1108.5L364.0 1087.5L350 1109L355.5 1103.5L365.0 1102.5L362.5 1097.5L370.0 1092.5L352.5 1110.0L352.5 1105.0L370.5 1099.5L361 1109L366.5 1106.5L319.0 1103.5L315.5 1100.0L362.5 1097.0L336.0 1109.5L353.0 1096.5L333.5 1090.0L367 1068L351.5 1099.0L294.0 1088.5L352.0 1082.5L370 1109L340.5 1095.5L362.5 1111.0L337 1091L343.5 1101.0L322.5 1103.5L361.0 1108.5L322.0 1106.5L357.5 1092.0L369.5 1079.5L362.5 1080.5L336.5 1082.5L356.5 1068.0L302.5 1102.5L302.5 1036.0L350.5 1105.5L361 1083L366.5 1059.0L360.0 1101.5L325.0 1107.5L361 1097L363 1104L370.5 1111.5L370.0 1096.5L363 1049L355.5 1102.0L365 1102L371 1079L345 1073L335.5 1028.5L357.0 1087.5L325.5 1080.0L341.5 1105.0L355.5 1041.5L342.0 1094.5L344.5 1103.0L353 1110L350.5 1101.0L342 1082L361.5 1111.0L351.5 1081.5L358.5 1107.5L360.5 1071.5L360.5 1096.0L363 1111L360 1095L325.0 1101.5L349.5 1097.0L327 1095L336.5 1103.5L341.5 1108.0L352.0 1106.5L339.5 1088.0L364.0 1111.5L325.5 1089.5L346.0 1086.5L361.0 1093.5L354 1106L368 1104L370 1100L370 1069L258.0 1068.5L358.5 1102.0L368.5 1094.0L349 1109L362.0 1083.5L355.0 1104.5L347.5 1062.5L360 1091L361 1110L346.5 1087.5L345 1106L356 1107L364 1081L362.5 1096.5L362.0 1092.5L340.0 1102.5L311 1096L278.5 1053.5L369.5 1102.5L338 1082L355.0 1080.5L359.0 1108.5L336 1090L322.0 1088.5L360 1083L346.0 1086.5L354.5 1111.5L352 1111L311 1081L361.5 1096.5L345.5 1061.5L357 1109L349 1079L354.0 1107.5L322.5 1107.0L350.0 1102.5L350 1107L349 1110L364.5 1105.0L355.0 1107.5L356 1091L355.5 1099.5L340.5 1098.0L365.0 1091.5L346.5 1100.5L340.0 1101.5L357.0 1082.5L360 1101L313.5 980.5L367.0 1110.5L364.5 1111.0L350.5 1081.0L319.5 1095.5L362.5 1106.5L341 1087L370 1093L273.5 1094.5L371.0 1110.5L351 1092L362.5 1086.0L370.5 1066.0L359.5 1072.5L354.5 1111.5L355.5 1109.5L368 1098L360 1105L367 1112L363.0 1108.5L361 1085L342.0 1104.5L337 1083L358.5 1112.0L354.0 1111.5L363.5 1102.0L336.0 1095.5L296 1076L353.0 1111.5L367.5 1107.0L313.5 1089.0L368.5 1108.0L354 1107L352 1086L359.5 1096.5L323.0 1106.5L352 1103L344.5 1110.0L348.0 1010.5L331.0 1106.5L346.5 1041.0L368.5 1107.0L366 1100L364.5 1087.5L312.5 1051.5L349.5 1106.0L347.5 1082.0L362.0 1109.5L293.0 1075.5L352.5 1111.5L365.5 1106.5L368.5 1103.0L367.5 1105.0L367.0 1100.5L346.5 1093.5L332.5 1108.5L344 1105L325.5 1097.0L357.5 1090.5L348.0 1098.5L313.5 1105.0L334 1088L361.0 1096.5L364.5 1110.0L360.5 1093.0L334.5 1059.0L330.0 1078.5L317.5 1099.0L351 1084L363.5 1088.5L364.0 1109.5L370.0 1104.5L362.5 1077.5L340.5 1084.0L351.0 1105.5L339 1106L328.5 1103.5L321.0 1085.5L364 1047L369.5 1107.5L364.5 1108.5L338.5 1080.0L325.0 1031.5L369.0 1104.5L356.5 1092.5L364.5 1107.0L360 1088L336 1071L344 1110L360.0 1111.5L370.0 1085.5L363 1094L364.0 1096.5L370 1087L338.5 1077.5L298.5 1000.5L356.0 1104.5L357.5 1106.5L360 1089L366 1108L326 1070L347 1103L361 1108L324 1084L329.5 1084.0L327.0 1066.5L344.0 1106.5L367.0 1106.5L364.0 1108.5L362.5 1112.0L288.5 1045.5L370.0 1104.5L320.5 1101.5L367.0 1072.5L362.5 1106.5L346.5 1109.5L343 1094L348 1074L342.0 1063.5L366.0 1107.5L345.0 1064.5L353.5 1072.5L348 1076L363.5 1106.0L333.5 1108.0L301.5 1083.0L346.5 1080.0L332.5 1108.0L370.5 1104.0L321.5 1042.0L361.5 1105.0L347.5 1061.5L360.5 1098.5L340.0 1106.5L345.5 1099.5L315 1080L345.5 1060.0L350.0 1102.5L353.5 1109.5L360.5 1105.5L330.5 1064.0L361 1094L344.5 1045.0L359.5 1079.5L351.5 1053.5L365 1106L355.0 1111.5L346.0 1098.5L329.0 1063.5L339.5 1103.0L306.5 1093.5L341.5 1085.0L368 1106L357 1101L348.5 1111.0L355 1112L354.5 1109.0L328.0 1107.5L363.0 1090.5L363.5 1109.5L362.5 1107.5L362.0 1102.5L371.0 1111.5L359 1102L366.0 1105.5L334.5 1095.5L347.0 1080.5L322.5 1103.0L364.5 1101.0L362.5 1107.5L352.0 1072.5L319.5 1106.5L362.0 1106.5L360.5 1061.5L348.0 1078.5L356.0 1098.5L335 1107L294.5 1093.5L322.5 1093.0L355.5 1097.0L362 1107L337.5 1102.5L338.5 1099.5L357.0 1080.5L318 1105L326.5 1049.0L361.0 1108.5L317.0 1087.5L355 1106L346.5 1105.5L332.5 1103.0L329 1087L370 1109L329.5 1104.0L354 1072L326.0 1107.5L358.5 1038.0L356.5 1111.0L368.5 1107.5L350.5 1098.5L350 1040L367.5 1082.5L368.5 1110.5L318.0 1105.5L368.0 1086.5L364 1109L348 1073L356.5 1097.0L357.5 1092.5L336 1085L367.5 1105.0L329.0 1107.5L346.5 1097.5L370.0 1108.5L338.0 1097.5L321 1022L364.5 1096.0L365.5 1110.0L366.5 1103.0L339 1101L371 1092L323.5 1098.5L362.0 1096.5L343.5 1104.5L352 1068L350 1050L348.0 1099.5L346.5 1104.5L358 1110L363.0 1090.5L347 1065L362.5 1087.5L343 1108L352.0 1058.5L349.5 1094.0L339.5 1104.0L327.0 1064.5L340.0 1090.5L331.5 985.5L354.5 1110.0L349.5 936.0L332 1108L339.5 1105.5L363.5 1103.5L366.0 1099.5L358.5 1109.5L355 1107L369.5 1072.5L360 1108L354.0 1058.5L326.5 1004.0L353.0 1105.5L345.5 1099.0L339 1107L346 1108L350.5 1108.0L343.0 1103.5L345.0 1109.5L334.5 1081.0L344.5 1094.5L357.0 1102.5L362.5 1100.5L307.5 985.0L320.5 1104.0L352.5 1109.5L318.5 1106.5L331.5 1059.5L332.5 1092.5L357 1095L301 1088L336.0 1103.5L341.5 1034.5L364.0 1105.5L334.5 1103.5L347 1104L351.0 1089.5L270.5 1094.0L370.5 1087.0L347.0 1108.5L343.0 1107.5L368 1094L344.5 1066.5L367 1066L358 1112L354.5 1063.5L334 1097L341.0 1098.5L369.0 1024.5L359.0 1107.5L315 999L356.5 1095.5L350.5 1104.5L370.5 1110.0L367 1101L359.5 1102.0L368.5 1096.5L340.5 1062.5L345 1099L355.5 1087.0L336 1102L350.5 1102.5L333 1107L344.0 1088.5L370.5 1100.5L329 1073L350.0 1096.5L337 1106L344.0 1102.5L361.5 1045.0L356.0 1041.5L367.5 1099.0L351 1111L362.0 1107.5L357.5 1088.5L339.5 1105.5L367 1106L371 1101L322.0 1076.5L363.5 1105.5L355.0 1085.5L368.0 1105.5L364.0 1046.5L318.5 1106.0L357.0 1082.5L354.5 1111.5L334.5 1107.0L269.0 1093.5L337.0 1069.5L360 1099L369.5 1110.0L343.5 1059.5L315.0 1083.5L349 1101L263.0 1060.5L359.0 1107.5L304.5 1038.0L348 1070L343 1084L351 1080L303.0 1100.5L339 1108L342 1103L360.5 1079.0L346.5 1110.5L338.5 1109.5L369.5 1108.5L332 1097L364.5 1111.0L354 1109L355 1089L344 1052L365.5 1102.5L349.5 1111.0L343 1098L323 1107L328.0 1089.5L362.5 1097.5L361.5 1089.5L363.0 1097.5L277 1098L367.5 1088.0L322 1039L362.5 1107.0L274.5 1096.0L358.5 1098.0L268.0 1055.5L362 1083L362.5 1106.0L318.0 1105.5L352 1084L327.5 1107.5L357.5 1093.0L363 1111L311.5 1090.5L351.5 1096.5L288.0 1079.5L343.5 1095.5L326.0 1106.5L369 1104L355.0 1109.5L345.0 1082.5L365 1098L332.0 1101.5L338.5 1109.0L266.5 1047.5L337.5 1104.0L360.5 1098.0L367.0 1085.5L292 1045L367.5 1091.5L349.5 1095.5L368.5 1100.0L346.5 1100.5L360 1094L335.5 1108.5L325.0 1106.5L314.0 1105.5L369.5 1106.0L332.5 1086.5L363.5 1107.0L328 1092L326.5 1090.0L342.5 1057.5L362 1096L368.5 1102.5L340.5 1079.5L360.0 1082.5L362.5 1096.0L337.5 1082.5L339.5 1098.0L364 1097L346.5 1099.0L369.0 1111.5L364 1109L359 1111L298.0 1041.5L330.5 1068.0L366 1085L364.5 1092.5L329.5 1090.0L353.0 1095.5L333.5 1097.0L282.0 1097.5L359.0 1082.5L353.5 1074.0L347.5 1039.0L359 1066L344 1073L367 1078L352 1108L324.5 1107.0L346.5 1108.5L355.5 1085.0L341.0 1094.5L355 1091L324.5 1030.5L339.5 1088.5L345.5 1107.5L342.5 1070.5L353.5 1105.0L348 1105L365 1102L343.0 1089.5L347 1111L368.5 1094.0L347.5 1093.0L332.0 1058.5L299 1065L355.0 1111.5L351 1081L319.5 1086.5L362.5 1090.5L333 1088L361 1087L322 1102L353 1110L371.0 1105.5L322.5 1067.5L351 1089L364.0 1097.5L365.0 1110.5L354 1085L368.5 1032.0L362.5 1107.5L361.5 1082.5L369.5 1096.0L371 1110L359.0 1058.5L265.0 1087.5L362 1110L359.5 1107.0L315.0 1104.5L332 1108L369.5 1106.0L366.5 1091.0L359 1102L367 1111L357.5 1087.5L365.0 1077.5L352.5 1089.0L292.5 1074.5L359.5 1103.5L337.0 1058.5L313 977L326.0 1093.5L355.5 1086.0L363.5 1101.0L370.5 1083.5L356.5 1102.5L368.0 1078.5L360.0 1090.5L358.5 1112.0L355.0 1107.5L365.5 1110.5L344.0 1109.5L369.0 1106.5L359.5 1091.0L355 1093L363.0 1065.5L348.5 1106.5L363.5 1059.5L339.0 1057.5L337.5 1095.0L318.5 1089.0L365.5 1052.0L338.5 1009.5L368.5 1045.5L332.5 1074.0L294 1007L334.0 1078.5L365.5 1105.5L370 1110L360 1089L366.5 1108.0L360 1071L354.5 1056.0L356.0 1084.5L348.5 1108.5L359 1102L360 1092L363.5 1100.0L321.5 1097.0L366.5 1096.5L336.5 1032.5L362.5 1111.5L363 1090L340.5 1109.5L370.5 1088.5L351.5 1109.0L335.0 1108.5L367.0 1103.5L361.5 1112.0L360 1058L366 1106L338.5 1100.0L355.5 1101.5L361.5 1104.5L326.5 1107.5L281.5 1058.0L325.5 1065.5L349 1053L330.0 1101.5L366.0 1110.5L327.0 1106.5L359.5 1100.0L367.5 1111.5L356.5 1111.5L353.5 1105.0L349.0 1095.5L356.5 1038.5L347 1092L361.0 1101.5L342.5 1101.5L288.5 1076.5L226 918L284.5 1071.5L253.5 1059.5L247.5 1029.5L284.0 1059.5L268.0 950.5L311.0 1092.5L222 850L221.5 848.5L286 952L315.5 1088.5L305.5 1051.5L322.5 1089.5L322 1090L250.0 907.5L299 896L317 1072L334.5 1074.5L351.5 1060.5L295.5 1053.5L245.5 998.5L314.5 1090.5L325.5 1079.0L308.5 1061.0L216.0 915.5L295.0 1008.5L281.0 946.5L334.0 1083.5L330 1081L322.5 1079.0L274.5 1065.5L282.5 1079.5L256.0 943.5L297.5 1039.0L204 950L308.0 1089.5L258.5 940.5L269.5 899.5L314.5 1087.5L280 1053L290.5 1082.0L284 991L315.0 1066.5L298.0 1068.5L288.0 963.5L273.5 997.0L258.5 1018.0L289.0 1070.5L348 1086L226.5 739.0L335.0 1097.5L311.0 1088.5L320 1092L264.5 878.0L259.0 1018.5L297.5 1071.0L293.0 1076.5L299 1032L300.5 1085.5L297.0 1060.5L295.0 1069.5L267 1031L329.0 1081.5L318 1064L263.0 992.5L281.5 1084.5L299.5 1062.0L269.5 1072.5L286.0 1048.5L288 949L266 1037L313.5 1087.5L264 959L310.5 1079.0L308 1053L285.5 1073.5L324.5 1055.5L217 999L260 984L261 932L309 1076L255.5 975.5L319.5 1095.5L345.0 1099.5L312.5 1070.5L285 1059L285.5 1022.5L256.0 960.5L238.0 919.5L297 1022L241 836L310.5 1078.0L305 1065L237 871L255 1014L230.5 935.5L283.0 1049.5L360 1093L292.5 1020.5L207.5 959.0L335 1080L283 1077L256.0 1014.5L328.5 1085.5L330 1075L210.0 908.5L283.5 1052.5L260.0 1018.5L253 875L260.0 1061.5L267 1042L280 992L316.5 1077.5L237.0 1037.5L299.0 1039.5L300.5 1028.0L277.5 1048.5L280.0 992.5L252.5 1030.0L328 1087L283.5 1087.5L262.5 1026.0L251 1028L256 1063L265.5 1004.5L267 885L262.5 992.5L350.5 1102.0L305.5 1091.0L329.5 1094.0L270.0 1059.5L280.5 1010.5L292.5 944.0L303.5 1086.0L266.5 1038.0L280 1051L259.5 1020.5L283.5 1052.5L271.5 1076.5L277.0 1008.5L221.5 1017.0L286.5 1006.0L317.0 1091.5L275 862L251.5 929.5L328 1079L249.5 1063.0L291.5 1064.0L268.0 1084.5L265.5 1028.0L267.5 1006.5L264 1082L284.5 973.0L349.5 1099.0L319.0 1072.5L331 1069L296.0 1007.5L279.5 996.5L306.5 1067.5L306.0 1042.5L313.5 1046.5L233 1050L298.0 1046.5L225.5 831.0L260.5 1048.5L284.5 1033.5L344.5 1090.0L257.5 978.5L269.5 1014.0L261.5 1039.0L291 1044L288.5 1045.5L274 1038L333.0 1097.5L256 1048L274.5 1024.0L292.5 1079.5L315.5 1056.5L320.5 1078.5L287.5 1046.5L217.5 1065.0L256.0 1023.5L302.5 1084.0L290.5 1055.5L326 1049L319.5 1086.5L339 1097L278.5 981.0L255.5 1040.0L232.0 988.5L234.0 757.5L307.0 1092.5L271.5 931.5L277 977L270 978L242.5 1015.0L298.0 1039.5L262.0 1060.5L306.5 1023.0L250.0 982.5L271.5 1015.0L343.5 1099.5L275.0 1044.5L262.5 963.0L290.0 1064.5L336.0 1078.5L313.5 1072.0L235.0 910.5L339.5 1099.0L322.0 1074.5L279.5 1053.0L285.5 1083.0L320.5 1088.0L262.5 1039.5L298.0 1054.5L237.5 1054.5L272.0 1027.5L294.5 1053.5L301 1092L260.5 1028.0L304.5 1047.5L326 1098L261.5 961.5L217.0 993.5L336.5 1095.5L301 1083L305.5 1030.0L269 931L261.5 971.5L248.5 971.5L235 863L224.5 949.0L321.0 987.5L302.5 1053.5L306 1087L276 1076L298.0 1001.5L287.5 1016.5L268.5 1010.5L288 1029L328 1081L273.5 1001.5L210 926L264.5 1057.5L266.0 1070.5L219 1026L307.5 1051.5L245 1050L285.5 999.5L287.0 1005.5L310.5 1059.5L236.0 1027.5L324.5 1088.0L229.0 1022.5L293.0 1070.5L270.5 992.5L320.0 1080.5L275.5 1022.0L298.5 1064.0L282 1079L297.5 1035.0L313 1038L301 1090L269.5 1082.5L291.5 1065.5L303.5 1058.0L281.5 1066.0L262.0 1044.5L259 906L278.5 992.5L342.0 1094.5L321.5 1096.5L327.5 1090.0L268.5 1072.5L348.5 1100.0L259.5 1056.0L279.5 1070.5L252.5 826.5L323 1096L309.5 1013.5L236.5 988.5L270 1084L303 1077L298 1055L216.5 1059.5L290.5 1024.5L275 1037L348.0 1076.5L279.5 1006.0L285 1065L250.5 931.5L270.0 998.5L266.0 1042.5L277.0 1038.5L301.5 1045.5L216.5 1068.5L241.5 1022.5L250 1057L299.0 1023.5L295.0 1049.5L233.5 969.0L294 1065L314.0 1091.5L288.5 993.0L252.5 1071.0L307.0 1070.5L295.5 1017.0L287.0 1076.5L262.0 897.5L300.0 1037.5L331.5 1064.5L316.5 1094.0L267.5 843.0L276.0 1061.5L350.5 1102.5L255 1008L332.5 1097.0L247 901L295.5 1047.5L312 1075L314.5 1077.0L311.5 1073.5L266.5 1030.5L340.5 1094.0L301.5 1080.0L271.5 1066.0L258.0 980.5L318 1094L297 1085L287.0 1064.5L333.0 1085.5L310.5 1065.0L308.5 1081.0L273 979L255.5 1016.0L237.5 1011.5L291 1059L283.5 1054.0L302.0 1076.5L291 1085L245 832L291.0 899.5L328.5 1075.0L352.5 1101.5L320 1061L288 1010L270 1004L302.5 999.5L279.0 1021.5L239.0 1008.5L227.5 848.5L289.5 1089.5L247.0 1021.5L289 1051L257.0 972.5L279.5 1037.5L263 989L232 1027L244 969L281.0 1013.5L305 1049L300 1042L320.5 1056.0L294 1053L322 1092L283 993L244.5 1027.0L295.0 1070.5L250.5 1066.0L186.5 736.0L228.0 958.5L276.5 922.0L313 1037L265.5 974.0L265.5 991.0L269.0 944.5L277.5 1008.0L277.0 1035.5L345 1095L304.0 1019.5L181 755L309 1065L299.5 1057.5L247.0 980.5L228.5 883.0L260.5 1069.0L314.5 1076.0L300 1080L296.0 1052.5L330.5 1094.5L227.5 958.5L292 994L285.5 968.5L280.5 974.0L244 817L285.5 1021.0L337.5 1095.0L274.5 1064.5L261.5 1031.0L262.5 1013.5L326.5 1068.5L217.5 843.5L280 1047L275.5 982.5L265.5 783.5L293 988L293.5 1084.0L294.5 1045.5L319.5 1095.5L282.5 1003.0L300.5 1052.0L310.5 1084.0L285 1002L233.5 991.5L275.5 876.5L261 1040L277 1083L319.5 1095.0L340.5 1085.0L308.5 1072.5L289.5 1063.0L334.5 1051.0L267.5 1039.5L296 1052L283.5 1061.5L253.5 974.0L238.0 981.5L310.5 1064.5L247.5 977.5L318 1085L288 1068L303.5 1084.5L284.5 945.5L240 1057L209 953L287.0 1043.5L315.0 1093.5L300.0 1058.5L268.0 996.5L314.0 1073.5L278 1000L346.5 1084.0L335.5 1098.0L309 1085L320.5 1066.5L263.0 1003.5L294.0 1046.5L312.0 1083.5L195.5 910.5L319.5 1035.0L261.0 1068.5L263 1015L321 1068L314.0 1085.5L291 1050L308.0 1066.5L291.5 1051.5L277.5 1065.0L342.0 1100.5L246.5 977.5L283.5 1072.5L325.5 1094.0L349.5 1099.0L312.0 1072.5L278.0 1001.5L304.5 1075.0L300.5 1049.0L317.0 1085.5L286.5 1064.0L331.5 1066.5L273.5 1070.0L220.0 1016.5L323.5 1093.0L272.0 924.5L241.5 948.5L289.5 1027.5L320.5 1095.0L272.5 1026.5L283.0 1078.5L283.0 1086.5L258 1017L315.5 1089.0L317.5 1042.5L252.0 1007.5L283.0 1077.5L339.5 1095.5L308 1060L254.0 1018.5L273.0 1027.5L284.0 1066.5L283.5 1029.5L289.5 1069.5L236 877L281.5 1033.5L297.5 1038.5L257.5 1030.5L281 993L308 1090L306.5 1058.5L334.5 1094.0L242.5 980.5L250.5 1022.0L314.5 1059.5L270 1032L315.5 1070.0L252.5 914.0L288.5 1035.5L274.5 1083.0L232.5 1023.5L312 1092L327.0 1066.5L292.0 1074.5L294.0 1085.5L269.0 1074.5L274.5 1033.5L315.5 1060.5L270.5 996.5L232.0 1000.5L329 1082L322.5 1098.0L242.0 854.5L292.5 1018.5L304.5 1073.5L241.5 1029.5L277 1008L296 1027L273.5 987.0L281.5 978.0L240.5 991.0L271.5 1037.5L290.5 1077.5L240 954L252.5 1003.0L327.0 1067.5L252.5 1040.0L340.0 1088.5L295.0 1040.5L319 1083L256.5 958.5L348 1097L228.5 869.5L295.0 1048.5L311.0 983.5L292 1083L231.5 829.5L353.0 1097.5L224.5 1036.0L329.5 1034.5L272.5 1017.5L260.5 1062.5L260.0 1034.5L273 1025L241.5 1058.5L342 1093L206 869L297.5 1040.0L335.5 1094.5L265.5 876.0L310.0 1047.5L243 1051L323.5 1079.0L265.5 910.5L278.0 1064.5L328.5 1081.0L292.5 1030.0L302.5 1047.5L247.0 1017.5L326.5 1087.5L305.0 1042.5L333.5 1095.5L242.5 1004.0L259.5 1023.0L332.5 1089.0L283.5 739.5L231.5 890.0L327 1088L324.5 1007.0L318 1051L340.5 1090.0L336.0 1100.5L285.5 1046.0L294.0 1062.5L323.0 1088.5L294.5 1084.0L271.5 1026.0L319.0 1047.5L246 1024L239 954L324 1062L275.0 984.5L290.5 968.0L258.5 1035.5L289.5 1082.0L298.5 994.5L309.0 1037.5L258 1027L284 995L233 1051L271.0 1022.5L286.5 934.5L300.5 1081.5L278.5 1073.0L280 1070L273.5 1048.0L317.5 1070.5L265 1081L338.5 1100.0L305.5 1021.0L234.5 941.0L252.5 1028.5L341.0 1096.5L355.5 1093.5L282.5 982.0L299.0 1049.5L299.5 1079.0L289 1062L241.5 1059.5L295.5 1053.0L276 1024L281 1071L344.5 1091.5L236.0 914.5L199.0 906.5L350.0 1096.5L280 969L298 1076L281.5 1054.0L272.0 1076.5L312.0 1087.5L292.0 881.5L357.0 1101.5L288.5 1006.5L290 1047L279.0 1021.5L335.5 1097.5L226 779L298.5 1021.5L259.0 1047.5L248.5 849.5L268 995L271.5 877.5L252.5 868.5L334 1100L302.5 1070.0L294.5 875.5L299.5 1071.5L296.5 1073.0L344 1088L291.5 1044.5L291.0 1078.5L273 1042L265.5 1060.5L303.0 1065.5L296 1057L240.0 1019.5L287.5 1073.0L272.5 1025.0L336 1099L287.0 1068.5L296.5 1059.0L207 759L208.0 925.5L284.5 910.0L278.5 1009.5L310.5 1087.5L264.0 1052.5L281.5 1051.0L272.5 1068.0L337.5 1081.0L291.5 1024.5L281.5 992.5L244.5 780.0L311.5 1091.5L300 1085L345.5 1102.0L288.0 1076.5L291.0 1088.5L304 1079L197.5 725.0L227.5 725.0L204.0 750.5L268.0 777.5L192.5 799.0" fill="none" stroke="none" marker-start="url(#mb)" marker-mid="url(#mb)" marker-end="url(#mb)"/>
<path d="M512.5 1096.0L563.0 1080.5L488 1102L518.5 1095.5L601.5 1064.0L482 1103L441.5 1111.0L546 1087L536 1091L504.5 1100.0L480.5 1105.0L571.0 1077.5L500.0 1100.5L518.0 1096.5L532 1091L469.0 1106.5L517.5 1091.5L488.5 1101.5L590 1067L585 1073L497.5 1100.0L475 1105L466 1106L507.5 1098.0L500.5 1100.5L471.5 1104.5L476.5 1106.0L494.0 1102.5L448 1110L478.5 1104.5L462 1109L582 1073L500 1100L596.0 1068.5L525.5 1093.0L437.0 1110.5L604.5 1065.0L495.5 1101.0L587.0 1072.5L522.5 1092.0L459 1108L452.5 1108.5L441.5 1108.5L478.5 1105.5L533.0 1088.5L582.5 1071.5L474.5 1106.0L496.0 1099.5L581 1073L448.5 1110.5L570.0 1079.5L537.0 1089.5L510 1097L520.0 1095.5L518.5 1096.0L454.5 1108.5L532 1092L524.0 1093.5L489.0 1103.5L439.5 1111.5L553.5 1084.5L509.5 1098.0L459 1108L462.5 1108.0L541.0 1086.5L480.0 1102.5L560 1081L439.5 1110.5L475.5 1106.0L446 1111L569.5 1077.5L465 1107L512.5 1097.0L500.5 1100.5L471.0 1105.5L449.5 1110.0L553 1084L559.5 1080.0L589.5 1067.0L563 1082L567.5 1076.0L553.5 1082.5L487.5 1102.0L590.5 1067.5L487.0 1101.5L544 1087L480.5 1105.5L542.5 1087.5L501.5 1101.0L566.5 1079.5L458.0 1108.5L441 1110L491.5 1102.5L517.5 1093.0L506.5 1099.5L573.5 1078.5L594 1066L562.0 1082.5L574.0 1072.5L582.0 1073.5L452 1106L534.5 1092.0L580.5 1075.5L447.5 1109.5L503.0 1097.5L500.5 1101.0L476.5 1106.0L472.5 1105.5L506 1098L525 1094L493 1101L573.0 1078.5L584 1070L474.5 1105.5L454.5 1109.5L558 1083L588 1071L450 1110L559.0 1082.5L604.5 1064.5L555.5 1078.0L561.5 1081.0L591.0 1069.5L481.5 1105.0L514.5 1097.0L470 1107L559 1081L591.5 1070.5L580.0 1074.5L488.0 1103.5L538 1089L449.0 1108.5L540.5 1088.0L441.0 1111.5L510 1097L492.0 1101.5L566.5 1077.5L448.5 1107.0L444.0 1109.5L573.5 1078.5L438.5 1111.5L496.5 1101.0L569 1079L488.5 1103.0L558 1083L484.0 1104.5L438.5 1111.0L474.5 1106.5L480.5 1105.0L445 1111L450 1109L591 1070L550 1087L516.5 1096.0L571.0 1078.5L484.5 1102.0L597 1067L566 1081L524.5 1093.0L586 1071L504.5 1098.0L438.5 1111.5L556.5 1080.5L437.0 1110.5L520 1096L531.0 1089.5L554.0 1082.5L448.5 1107.0L463.5 1105.0L490.0 1103.5L460.5 1108.0L444 1111L566.0 1076.5L447.0 1110.5L480.5 1103.0L498.5 1099.0L527 1092L488.5 1103.5L546 1088L479 1101L510.5 1097.0L441.5 1111.5L439.5 1108.5L528.5 1090.5L450.5 1110.0L439.5 1111.0L481 1105L572.0 1076.5L518.5 1095.0L443.0 1111.5L557 1084L486 1101L567.5 1077.0L543.5 1087.0L519.5 1094.5L495.5 1101.0L503.5 1097.5L480.0 1103.5L518 1096L546.0 1087.5L437 1112L455.0 1109.5L554.0 1083.5L505.5 1099.5L591.5 1069.5L595.0 1067.5L466 1106L565 1079L564 1079L461.0 1107.5L469.5 1104.5L594.5 1068.0L517.0 1096.5L490 1102L590.5 1071.5L452.5 1107.0L492.5 1099.5L568.5 1077.5L582.0 1074.5L447 1109L500.5 1099.0L458.5 1109.5L492 1102L581.0 1071.5L592 1070L494 1101L467.0 1106.5L538.0 1087.5L535.0 1091.5L557.0 1082.5L445.5 1110.5L460.5 1109.0L557.0 1083.5L593.0 1069.5L509.5 1097.0L464 1107L535 1089L589 1068L577 1075L578.5 1072.5L572.0 1072.5L597.5 1068.0L459 1109L516.0 1094.5L494.5 1101.5L493.5 1103.0L525 1095L446.5 1109.0L461.0 1106.5L470.5 1107.0L552.5 1086.0L574.5 1075.5L459.0 1108.5L438.5 1110.5L502.5 1100.0L486.0 1104.5L505.0 1095.5L488.5 1103.5L584 1073L453.5 1108.0L523.0 1095.5L441 1109L553.5 1082.0L475 1103L575.5 1073.5L514.5 1092.5L462.5 1106.5L549.5 1085.0L495.5 1102.0L574.5 1074.0L552 1086L501.0 1100.5L473.0 1104.5L526 1094L437 1112L494.0 1101.5L472 1107L506.0 1098.5L581 1074L538 1085L584.0 1070.5L588.0 1069.5L458.5 1108.5L455 1109L470.5 1107.0L447.0 1110.5L574 1078L459.5 1109.0L437.0 1108.5L453.0 1109.5L522.0 1092.5L524 1094L551 1081L561.5 1078.5L447.5 1108.5L560 1083L487.5 1102.0L510.0 1097.5L440.0 1110.5L496.5 1102.0L481.5 1104.5L446 1110L467 1107L482.5 1103.5L580 1073L451.0 1110.5L477.5 1103.5L547.0 1084.5L477.5 1104.0L604.5 1060.5L455.5 1107.5L498 1101L513 1096L521.0 1095.5L489.5 1103.0L561.0 1080.5L453 1109L590.5 1071.0L437 1110L547 1083L464.5 1108.5L445.5 1109.5L447 1110L492 1103L599.5 1064.5L538.5 1089.0L530.0 1092.5L535.0 1089.5L462.0 1108.5L491 1102L474.0 1106.5L477 1106L527 1093L495.5 1099.0L530.5 1088.0L538.5 1090.0L563 1080L474 1106L573.0 1078.5L599 1066L460 1108L497.0 1100.5L596 1063L547.5 1086.5L477.0 1104.5L439 1110L473.0 1105.5L604.5 1064.0L574.0 1074.5L532 1092L561.5 1079.5L594 1063L481 1104L448.0 1110.5L535.5 1087.0L601 1065L565.0 1081.5L441 1110L498.5 1101.0L453.5 1109.0L483 1104L478 1105L443.0 1110.5L528 1092L478.5 1103.5L518 1095L488 1103L493.5 1101.5L520 1094L444.5 1111.0L589 1072L461.0 1108.5L538.0 1088.5L492 1103L463.0 1108.5L442.5 1111.5L464.5 1107.5L459 1109L483.0 1100.5L546 1084L568.5 1076.0L532.0 1091.5L437.0 1111.5L542.0 1088.5L484.5 1104.0L599.5 1067.0L471.0 1106.5L477 1105L458 1109L437.5 1111.0L595 1065L603.0 1061.5L516.0 1097.5L459.5 1109.0L563 1082L469 1107L443.5 1111.0L482 1103L519.5 1094.5L514 1098L437.0 1111.5L454.5 1106.5L496.5 1100.0L559.0 1081.5L479 1106L560.5 1081.0L509 1095L456.0 1108.5L507.5 1099.0L560.5 1082.5L459 1109L560.5 1082.0L546 1087L483.5 1103.0L506.5 1098.0L597 1068L477.5 1105.5L501.5 1098.5L530.0 1092.5L562.0 1079.5L474.5 1106.5L562 1080L507.5 1097.5L584 1074L455 1109L515.5 1097.0L557.5 1083.5L498.5 1100.5L602 1064L462.0 1108.5L503 1100L523.5 1092.5L463 1106L479.5 1105.5L438.0 1110.5L598.5 1067.5L528 1093L592.0 1069.5L557 1084L474.5 1106.5L494.5 1101.0L502.5 1099.5L460.0 1105.5L579.5 1075.0L569.0 1079.5L504 1099L591.5 1070.5L575 1077L437.5 1108.5L521.0 1095.5L437.5 1111.5L541 1086L444.5 1109.5L454.5 1109.5L450 1110L596.0 1066.5L478.5 1105.5L502.0 1100.5L452.5 1109.0L544.0 1088.5L527.5 1093.5L545.5 1084.5L577.5 1076.5L561 1082L596 1066L449.5 1109.0L578 1072L590.0 1071.5L461.5 1105.5L583.0 1073.5L444.5 1108.5L528.5 1092.5L511.5 1098.0L486.0 1104.5L453.5 1108.0L468.5 1107.5L578.5 1073.5L595.5 1067.5L461.5 1107.0L464 1104L455 1047L420.5 1095.5L416.0 1105.5L447.5 1025.0L421.0 1074.5L414.5 1080.5L418.0 1110.5L422.5 1091.0L417 1109L443.5 1037.5L417 1105L409 1044L455 1079L410.5 1042.0L451.5 1071.5L412.0 1078.5L426.5 1066.0L449 1111L406 1106L428.0 1059.5L424 1108L487.0 1105.5L447.5 1091.5L425 1104L417 1103L410 1103L419.5 1062.0L465.5 1095.0L450.0 1088.5L408 1100L420.5 1069.5L431 1102L483.5 1043.0L430.0 1073.5L413 1063L412.5 1103.5L415.0 1102.5L417 1111L419.0 1074.5L462 1104L420.0 1096.5L472.0 1107.5L429 1011L406.0 1107.5L439.0 1110.5L450.5 1059.0L424.5 1106.0L471.5 1094.0L430.5 1104.5L418 1100L410.5 1111.0L406.5 1091.5L417.0 1102.5L430.0 1005.5L405.5 1056.0L462 1070L431.0 1070.5L444 1107L425.5 1092.5L495.5 1089.5L441 1091L416.5 1107.5L429.5 1096.0L427.5 1018.5L411.5 1097.0L408.5 1068.5L418.0 1105.5L416.0 1078.5L416.5 1077.0L434.5 1076.0L415.5 1097.5L432.5 1109.5L428.5 1100.5L414.0 1077.5L420.0 1077.5L424.5 1111.0L407 1093L422.5 992.0L410.5 1105.5L440.5 1109.5L410.5 1088.5L413.5 1103.0L444 1004L414.0 1111.5L418.5 1074.5L416.5 1105.5L427.0 1083.5L432.5 1083.0L452.0 1051.5L414.0 1102.5L434.0 1109.5L418.5 1092.5L407.5 1111.5L459.5 1078.0L427.0 1069.5L471.0 1032.5L405.5 1100.0L410 1066L422.5 1098.5L407.0 1094.5L406.5 1108.5L421 1091L428.5 1058.0L449.5 1059.0L421.0 1104.5L407 1098L456.5 1031.0L411.5 1047.0L411.5 1111.5L425.5 1089.5L431 1098L418.5 1104.0L427 1046L419 1110L419.5 1106.5L412.5 1106.5L413.5 1063.5L504.0 1087.5L469 1072L406 1106L419.0 1103.5L415 1105L416 1063L412 1111L415 1080L422 1071L489.5 1105.0L481.0 1090.5L410.5 1098.0L433.5 1086.5L406 1101L413 1106L420.5 1080.5L410.0 1099.5L411.5 1059.5L410.5 1102.5L410.5 1102.5L428 1073L410 1112L442.5 1097.5L425 1103L408.0 1108.5L412.5 1087.5L412 1105L404.5 1105.0L495.5 1045.0L425 1073L413.5 1099.5L406.5 1100.5L410.5 1105.5L447.5 1109.5L416.0 1111.5L473.5 1098.0L425.5 1092.5L436.0 1098.5L478.0 1095.5L418.5 1097.5L438 1086L412.0 1105.5L423.5 1080.5L419.5 1054.5L423.5 1088.0L417.0 1094.5L417 1105L415.0 1086.5L416.0 1088.5L415.0 1101.5L449.5 1086.0L443.5 1100.0L432.5 1092.5L412.0 1109.5L407.5 1108.5L426 1094L419.0 1107.5L427 1106L421 1082L412.5 1100.5L419.5 1108.5L407.0 1091.5L414 1082L411.5 1068.5L406.5 1108.5L423.5 1068.0L414.5 1100.5L411.5 1093.5L472.5 1029.0L424.5 1068.0L425.0 1074.5L421.0 1103.5L435.5 1082.5L432.5 1106.0L420 1109L423 1054L405 1067L416 1094L456.5 1055.5L427.0 1095.5L431.5 1110.0L410.5 1035.0L415.5 1091.5L414 1099L419.5 1111.5L418.5 1103.5L445.5 1108.0L471.5 1072.0L435.5 1106.5L424 1106L496.5 1104.0L405 1089L457.5 1097.5L414.5 1109.5L452.0 1097.5L469.0 1040.5L433.0 1062.5L433.5 1070.5L411.5 1105.0L462 1098L431.5 1098.5L404.5 1104.0L442.0 1106.5L471 1106L450.5 1094.0L405.5 1097.5L431 1105L411 1094L419.0 1111.5L418.5 1105.0L410.5 1103.5L412.5 1106.5L412.5 1089.5L478.5 1098.5L416.5 1042.0L422.0 1107.5L407.0 972.5L422.0 1105.5L440 1101L422.0 1105.5L428.5 1108.0L485.5 1076.5L417.0 1108.5L458.5 1064.0L453.5 1035.5L419.5 1101.0L425.5 1100.5L417.5 1109.5L428.0 1089.5L442.0 1098.5L432.0 1104.5L425 1112L434.0 1018.5L446.5 1104.0L435.0 1087.5L422 1112L405.0 1072.5L414.0 1108.5L431 1109L437.5 1109.5L491.5 1101.0L408.5 1105.0L408 1102L414 1048L405.5 1092.5L405.5 1097.0L431.5 1036.0L462.0 1105.5L444 1092L432.0 1105.5L413.5 1108.0L405.5 1096.0L404.5 1107.5L432.5 1098.0L408.0 1111.5L427.0 1108.5L424 1110L432.5 1083.0L443.5 1058.5L414 1097L440.0 1106.5L432.0 1060.5L453.5 1076.0L414.5 1092.5L422.0 1088.5L432.0 1081.5L406.5 1104.5L406.0 1098.5L406.5 1101.0L432.5 1089.0L404.5 1112.0L421.0 1094.5L409.5 1106.5L418.5 1101.5L419 1102L460.5 962.0L404.0 1088.5L444.5 986.5L428.5 1073.5L406.5 1098.5L424.0 1095.5L404 1064L431.5 1101.5L477.5 1080.5L440.5 1096.0L437 1100L461.5 1105.5L439.0 1111.5L411.5 1108.5L416.0 1099.5L431.5 1059.5L458 1071L435.5 1093.0L415.5 1075.0L408.5 1089.0L408.5 1088.5L424.5 1056.5L449.5 1059.5L406.0 1089.5L425.5 1108.0L456.0 1087.5L479 1107L473 1055L422.0 1111.5L410.0 1081.5L419.5 1085.0L440.5 1107.5L412.5 1106.0L466.5 979.0L440.5 1101.5L413.0 1100.5L412 1089L407.0 1051.5L445.5 1081.0L437 1105L430 1100L434.5 1100.5L442 1083L419.0 1083.5L461.5 1080.0L435.5 1101.0L416.5 1110.5L414.5 1106.5L452.5 1036.5L427.0 1099.5L416.0 1109.5L418.5 1106.0L434.5 1034.5L425.0 1088.5L436.0 1090.5L416.5 1100.0L415.5 1108.0L427.5 1104.0L426.0 1091.5L431.0 1108.5L434 1086L407.0 1056.5L410.5 1110.5L416.5 1109.0L458.0 1106.5L409.5 1106.0L486 985L409.0 1109.5L439.5 1070.5L419.5 1090.0L413.5 1087.5L423 1107L440 1097L417.5 1066.0L421 1058L421.5 1099.5L437.0 1095.5L413 1112L430.0 1107.5L415 1092L436 1111L438.5 1047.5L434 1097L420.5 1105.0L415.5 1051.0L472.5 1071.0L414.5 1078.5L425.5 1039.5L405 1111L512 1100L406.5 1109.5L412.0 1068.5L454.5 1094.0L407.5 1096.0L434.5 1102.5L421.5 1080.0L416 1079L425.5 1107.0L416.0 1096.5L444.0 1104.5L418.5 1104.5L421.0 1076.5L436.5 1040.5L472.0 1099.5L425 1100L418.0 1085.5L440 1091L435.5 1090.0L418.5 1111.5L411 1102L407 1097L418 1086L454.0 1107.5L448 1075L422 1098L416.0 1092.5L464.0 1084.5L428.5 1080.0L421.5 1081.5L425 1101L426.5 1108.0L442.5 1092.5L419 1104L416 1104L406 1100L417 1098L441 1075L433.5 1093.0L429.0 1102.5L417.5 1092.5L407.5 1059.0L410.5 1099.0L424.5 1005.0L427 1084L489.0 1055.5L405.0 1089.5L431 1111L425.5 1083.0L409.5 1081.0L442.5 1104.0L446.5 1092.5L418.5 1074.5L433.0 1110.5L408.5 1106.5L412.5 1088.0L421.5 1045.0L441 1110L433.5 1108.5L418.5 1088.5L430.5 1086.5L426.5 1111.5L407.0 1108.5L406.5 1040.5L424 1101L421.5 1108.5L452.5 962.5L468.5 1074.0L406 1085L431.5 1082.5L491.5 1101.0L493.5 1088.0L420.5 1112.0L423.5 1106.0L465 1108L451 1102L404 1108L460.0 1099.5L444.0 1042.5L424.5 1079.5L405.5 1110.5L439.5 1078.0L405 1106L417.5 1104.5L405.5 1074.0L417.0 1108.5L409 1077L418.5 1090.5L411.5 1097.5L489.5 1104.0L416.0 1096.5L443.0 977.5L498.5 1071.0L407.5 1043.0L407.0 1104.5L414 1093L418 1066L440 1112L414 1078L409.0 1070.5L416.5 1080.5L428.0 1111.5L424.5 1066.5L436 1081L447 1104L448.5 1102.5L407.5 1111.5L424 1015L418.5 1109.0L480.5 1065.0L411.5 1096.0L405.0 1109.5L432.5 1050.5L415.5 1104.5L442.0 1110.5L405 1102L415.0 1104.5L419.5 1100.0L432.5 1057.5L407.5 1068.0L418 1083L451.5 1084.5L412 1076L419.5 1023.0L421 1084L412 1081L410.0 1110.5L436 1095L405 1105L418.5 1074.5L421.5 1095.5L449.0 1081.5L473.5 1044.5L421.5 1100.5L405.5 1111.5L425.5 1097.0L407 1090L434.5 1100.0L427 1096L435.5 1083.5L405.5 1097.0L404.5 1038.0L419.5 1111.5L442.5 1065.0L442.0 1081.5L411.5 1085.0L412.5 1016.0L421 1082L424.5 1077.5L407.0 1110.5L453.5 1096.0L413.5 1100.5L418 1108L412.5 1087.5L452.5 1019.5L437.5 1000.5L450.5 1091.5L490.5 1039.0L438.5 1089.0L413.0 1105.5L418.0 1109.5L407 1106L420.5 1051.0L418.5 1095.5L432.0 1082.5L424 1109L422.5 1103.5L476.5 1105.0L467 1096L433.5 1106.5L411.5 1104.0L418 1092L438 1020L442.5 1094.5L406.5 1090.0L407.5 1105.5L408 1072L440 1101L408.0 1072.5L440.0 1095.5L408.0 1102.5L426 1107L408.0 1086.5L412.0 1082.5L405.5 1096.5L472 1103L409.0 1035.5L410.5 1106.5L429.0 1082.5L412.5 1095.0L412.5 1096.5L408.5 1112.0L437 1101L427 1088L420.5 1106.5L404.0 1044.5L428.5 1107.0L410.5 1081.5L487.5 1070.5L413 1085L433 1112L493.5 1103.0L415.0 1100.5L435.0 1110.5L440.5 1083.0L456 1101L416.5 1106.5L426 1086L432 1105L405.0 1106.5L410 1098L428.5 1006.0L424.5 1084.5L408.5 1111.5L417 1101L421 1091L448.0 1086.5L435.5 1102.0L432.0 1079.5L407 1105L440.0 1075.5L435.5 1088.0L417.5 1110.5L412.5 1106.5L411.0 1058.5L410.5 1107.5L409.5 1106.0L407.0 1111.5L470.5 963.0L436.5 1073.5L486.0 996.5L420 1099L434.5 1002.5L418 1108L447.5 1095.5L421.5 1088.5L429.0 1082.5L409.0 1110.5L461.0 1069.5L420.5 1112.0L431.0 1078.5L426.5 1099.0L423.5 1096.0L499.5 1102.0L434.0 1092.5L430 1100L418 1087L423 1086L476.0 1013.5L405.0 1070.5L423.5 1095.5L416 1071L423.0 1103.5L422.0 1090.5L441 1092L475.0 1089.5L445.5 1109.0L421.5 1094.5L470 1090L405.5 1102.0L416.5 1089.5L425.0 1111.5L407.5 1035.5L409 1111L442.5 1110.0L427.5 1096.0L406.0 1092.5L405.5 1103.0L454.5 1104.5L423.5 1110.5L482.5 1098.5L405.5 1112.0L434.5 1089.5L417.5 1059.5L432.5 1042.5L419 1111L413 1103L422.0 1090.5L407 1105L428 1098L429.5 1102.5L405.5 1095.0L413.5 1079.5L417.5 1104.5L405.0 1081.5L423.5 1022.0L476.5 1092.0L427.5 1109.5L429.5 1087.5L413 1098L459.0 1105.5L428.5 1112.0L417.5 1096.0L431 1095L406 1096L449.5 1109.5L414.5 1063.5L414.0 1062.5L414.5 1108.5L417.0 1085.5L418.5 1091.5L406 1079L487.5 1095.5L478.5 1082.0L481.0 1046.5L426.0 1050.5L437 1105L434.5 1100.5L412.5 1085.5L467.5 1104.0L416.5 1108.5L418.0 1109.5L406.5 1109.0L409 1047L429 1075L416.5 1082.5L432 1111L453.0 1110.5L428.0 1109.5L409.5 1002.0L413.5 1098.0L417.0 1094.5L433.5 1041.0L408.0 1098.5L460.5 1093.5L412.0 1110.5L411.5 1086.5L407.5 1093.5L418.0 1088.5L440.5 1111.0L484.0 1101.5L406.0 1086.5L424.5 1085.0L416 1091L431.5 1008.5L426.0 1098.5L427.5 1094.0L482.5 1089.0L408 1092L420 1091L420 1090L407.5 1109.0L428.5 1089.5L450.5 1085.5L429.5 1035.0L424.5 1111.5L440.5 1077.5L407.5 1105.5L447.5 1091.0L415.5 1096.0L415.0 1033.5L431 1090L411 1060L411.0 1109.5L426.5 1091.5L412 1079L417.0 1111.5L512 1058L424.0 1105.5L405.5 1098.5L442 1101L424.5 1101.0L405.0 1104.5L406 1091L417.5 1056.0L416.0 1103.5L434.5 1067.5L409.5 1036.0L414 1075L422 1105L414 1051L423 1057L431 1102L415.0 1087.5L405.0 1080.5L409.5 1091.5L496 1075L420.5 1090.0L423.5 1083.5L412 1097L417 1107L406.5 1107.0L438.5 1078.5L462.5 1092.5L417 1096L419.5 1066.5L421.0 1094.5L472 1108L431 1081L467.5 1103.0L425.5 1112.0L414.0 1100.5L440.5 1085.5L471.5 1107.5L445.5 1098.5L408.5 1099.5L417.5 1096.5L467 1021L408.5 1105.0L415.5 1093.5L436 1088L424.5 1065.5L426.5 1003.0L406 1109L446.5 1110.5L418 1066L435 1111L426 1111L433.5 1084.5L438.0 1074.5L406 1111L407.0 1085.5L422 1070L413.0 1093.5L450.5 1054.5L409.5 1106.0L417 1095L444.5 1111.5L420.5 1105.5L430.5 1101.0L415.0 1110.5L450 1082L417.5 1104.5L407.5 1111.0L412.5 1070.0L408.5 1102.0L413.0 1098.5L443.5 1067.0L414 1089L410.0 1059.5L416 1111L409 1107L429.5 1111.5L433 1105L419 1100L451.0 1104.5L426.0 1101.5L440.0 1077.5L414.5 1108.0L406 1082L431.5 1106.0L434.0 1041.5L434.5 1101.5L431.0 1090.5L517.0 1078.5L425 1059L406 1088L411.0 1101.5L413.5 1058.5L411.5 1097.5L427.5 1095.5L408.5 1110.0L455.5 1005.0L419.0 1097.5L428.0 1068.5L423.0 1099.5L418.5 1109.5L422.5 1102.5L413.5 1109.5L424.5 1078.0L436.5 1110.0L439.0 1070.5L440.5 1104.5L438 1105L423.5 1054.0L432.0 1049.5L406.5 1089.5L415.5 1112.0L408 1108L472.5 1059.0L406.5 1048.5L405 1110L421.5 1102.0L464.5 1095.5L415 1112L415.5 1106.0L446.0 1107.5L409 1101L412 1078L407.5 1097.5L429.0 1095.5L417.5 1038.0L418.5 1094.5L421.5 1078.0L406.5 1107.5L405 1095L462 1081L409.5 1093.5L448 1070L420.5 1063.5L410.5 1087.0L422.5 1076.0L442.5 1111.0L474 1094L479.5 1106.0L492.5 1046.5L435 1082L411.5 1096.0L420.0 1108.5L405.0 1094.5L405.0 1066.5L414.5 1071.5L426 1109L409.5 1109.0L445 1101L425 1110L405.0 1092.5L448.5 1075.5L421.0 1104.5L426.0 1102.5L464.5 1109.0L413.5 1097.5L407.0 1095.5L416 1100L433.0 1090.5L409.0 1089.5L419.0 1104.5L434.5 1106.5L418.5 1098.5L425 1100L460.5 1082.0L414.0 1109.5L407 1111L476.0 962.5L455.0 1110.5L448.5 1102.0L416.5 1084.0L425.0 1091.5L409.0 1103.5L440 1058L422.0 1109.5L408.0 1092.5L411.5 1080.0L477.5 1059.5L429.5 1095.0L448.5 1079.5L421.0 1012.5L405.5 1101.5L405.5 1076.5L424.5 1109.5L413 1083L408 1110L416 1071L491.5 1087.0L450 989L413 1049L408.5 1046.5L435.5 1094.5L426.0 1097.5L424.5 1098.5L422.0 1099.5L464 1080L436.5 1102.5L421.5 1104.5L429.5 1061.0L405 1082L407.5 1087.0L439 1038L419 1094L405.5 1109.0L465.5 1108.5L429.5 1054.0L410.0 1088.5L422.5 1107.0L418 1105L420.5 1061.0L496.5 1005.0L418.5 1076.0L409.5 1094.0L439.5 1101.5L440.5 1102.5L417 1048L411.0 1106.5L412 1099L436.5 1087.0L417.0 1089.5L406.5 1110.0L432.0 1038.5L436 1102L425.5 1112.0L412.0 1097.5L421.5 1093.0L422.5 1106.0L424 1100L417 1080L422.5 1108.5L414 1095L413.5 1112.0L417 1096L411.5 1028.0L434 1071L455.5 1110.5L440 1101L454 1077L406.5 1111.0L419.0 1069.5L429.0 1092.5L440.0 1109.5L410.5 1088.0L466.0 943.5L445 1100L413.5 1036.5L438.5 1066.0L421.0 1054.5L410.0 1085.5L419 1112L416 1058L438.0 1110.5L439 1078L417 1104L417.0 1090.5L426 941L406.5 1082.0L418 1102L412.5 1103.0L404.5 1105.5L431.5 998.0L445 1101L423.5 1084.5L414.5 1066.5L498.0 1094.5L406 1098L407.5 1075.0L432 1072L424 1098L406.5 1109.0L471.5 1107.5L440.0 1110.5L418.5 1076.5L439.5 1109.5L440.5 1093.5L421.0 1104.5L405.5 1081.0L425.5 1101.0L436.0 1095.5L416.5 1026.0L429.5 1103.5L446.5 1109.5L425.5 1100.5L456.0 1100.5L406 1068L404.0 1084.5L414.5 1074.5L414 1091L443.5 1092.5L409 1101L446.5 1059.5L432 1103L410.5 1081.5L426 1097L407.0 1101.5L407.5 1052.5L415.0 1108.5L455.0 1062.5L408.5 1086.0L422 1091L426.5 1082.5L420.5 1108.0L426.0 1109.5L426.5 1110.0L423.0 1063.5L447.5 1110.0L412 1086L494.5 936.0L427.0 1101.5L409.0 983.5L407.0 1108.5L454.5 1094.5L431.5 1101.5L404.5 1094.0L461 1090L461.5 1062.0L424.5 1112.0L407.5 1076.5L440.5 1109.5L412.5 1109.5L458.0 1086.5L408.5 1097.0L497 1056L418.0 1106.5L420.5 1081.0L415.5 1104.0L411.5 1109.5L439.5 1102.5L427.5 1099.0L407 1106L415.0 1105.5L412.5 1063.5L418.5 1110.5L410.0 1108.5L411.5 1097.0L435.0 1053.5L433 1107L410.5 1052.0L461 1037L409.5 1101.5L404.5 1106.5L434.5 1098.5L407.5 1013.0L424.5 1047.5L421.5 1090.5L463.5 1055.5L416.5 1056.5L412.0 1100.5L408.5 1106.0L421 1064L406 1099L420.5 1089.5L439.0 1082.5L452 1089L412 1094L470.0 958.5L406.0 1065.5L432.0 1091.5L413.5 1108.0L442.0 1098.5L406.5 1085.5L441.5 1102.5L433.0 1106.5L429.5 1101.5L457.5 1082.0L453.0 1098.5L431.5 1112.0L428.5 1104.5L449 1075L411.5 1093.5L443 1105L411.5 1088.0L451 1052L410.0 1003.5L410.5 1083.5L473.5 1010.0L417.5 1110.0L419.0 1073.5L422.5 1102.5L436.5 1071.5L438 1105L443.5 915.5L404.5 1092.5L439.5 1020.0L405.0 1078.5L422.0 1023.5L424 1110L404.5 1102.0L434.0 1087.5L435.5 994.0L415.0 1041.5L413.0 1065.5L436.0 1062.5L406.0 1096.5L429.5 1100.5L426.5 1090.5L419.5 1098.5L462.0 1075.5L410.0 1106.5L456.5 1094.0L418.5 1067.0L407 1111L423 1077L412 1047L409.5 1107.0L439.5 1097.0L446.5 1067.0L416.5 1109.0L455 1105L414.0 1094.5L431.0 1073.5L431.0 1091.5L404 1111L426.5 1050.5L417.5 1109.5L433.5 1108.5L435.5 1101.5L410.5 1099.0L514.5 1098.0L446.5 1042.5L453.5 1095.5L437 1062L413.5 1108.0L462.5 1102.5L433.0 1104.5L444 1076L436.5 1098.5L411.5 1077.0L420.5 1102.5L417 1103L481.5 1105.5L455.0 1056.5L418 1082L425.0 1108.5L437 1074L410.5 1083.5L412.5 1108.0L413.5 1077.0L434 1049L412.0 1101.5L410.5 1109.5L422.0 1089.5L442.0 1081.5L444 1108L437.5 1069.0L412.5 1085.5L428.5 1104.0L417.5 1084.5L487.0 1037.5L416.5 1068.5L417.0 1083.5L417 1055L431.5 1095.0L424.0 1092.5L425.0 1029.5L424 1104L408.5 1084.0L450 1044L409.0 1100.5L464 1090L415 1088L425.5 1086.0L447.5 1005.5L406.5 1105.5L443.5 1084.5L430 1009L444.5 1019.0L442.5 1107.0L418.5 1088.0L433.0 1099.5L444.0 1074.5L418 1074L425.0 1087.5L444.5 1056.0L424.5 1096.0L431.5 1053.5L426.0 1075.5L433.0 1107.5L416.0 1111.5L406.5 1091.5L417.0 1061.5L414 1097L416.5 1097.5L412.5 1109.5L425.0 1103.5L418.0 1080.5L408.5 1053.5L410 1110L465 1087L407.0 1100.5L414.0 1094.5L464.5 1092.5L404.5 1105.5L470.0 1067.5L415 1108L437.0 1085.5L424.0 1105.5L408.5 1105.0L410.5 1106.5L515 1098L426.5 1112.0L408.0 1101.5L433.5 1091.0L436.5 1101.0L421.0 1085.5L427.0 1104.5L455.5 1105.5L410.5 1078.5L420 1100L420.5 1055.0L419 1102L416.5 1111.5L412.5 1101.0L411.5 1094.5L416.5 1093.0L430.5 1089.0L446.5 1107.0L432 1081L417.5 1073.5L417.0 1072.5L446.0 1092.5L417 1085L420 1095L430 1075L441.5 1101.0L418.0 1088.5L404.5 1041.0L418 1111L438 1087L409.0 1101.5L412.5 1073.0L445 1082L412 1105L407.5 1090.5L407 1095L429 1093L407 1103L470.5 1048.5L415.5 1078.5L454 1071L407.0 1096.5L413.5 1110.5L452 1083L407.5 1106.5L418.0 1077.5L453 1099L443 1107L420.5 1094.5L433.0 1107.5L441 1106L419.0 1110.5L428.0 1075.5L416.5 1075.0L444 1052L410 1103L413.5 1106.0L405 1077L465.0 1108.5L413.0 1101.5L424.0 1102.5L406.5 1050.5L447.5 1104.5L436.5 1097.5L427.5 1085.5L412.0 1101.5L412.5 1111.0L427 1110L464 1063L436 1061L411.0 1059.5L435.5 1074.0L407 1094L452.5 1092.5L419.5 1109.0L411.0 1063.5L461.0 1068.5L405.0 1062.5L407.5 1103.5L454.5 1081.5L412 1090L436.5 1110.5L458.0 1054.5L432 1105L494.5 1077.5L406.5 1101.5L430 1085L450.5 1063.5L409.5 1110.0L410.0 1109.5L415.0 1102.5L409.5 1100.5L415.0 1096.5L410 1078L451 1086L429.5 1104.0L413.5 1081.5L460.0 1064.5L415.0 1088.5L417.0 1111.5L409.0 1074.5L414.5 1100.5L420.0 1109.5L404.5 1048.5L415.5 1096.5L449.5 1111.0L429.0 1110.5L417.5 1101.0L417.5 1088.0L434.5 1105.5L495.5 1087.5L406 1106L407.5 1074.0L440 1095L408.5 1095.0L437 1098L485.5 1101.0L409 1103L433 1109L407.0 1105.5L453.5 1091.5L507.5 1093.0L418 1006L406.0 1110.5L415.0 1100.5L453 1097L408 1100L412.5 1108.0L411 1078L426.5 1092.5L416.5 1101.5L434.0 1105.5L425.0 1094.5L421.5 1104.5L429.5 1105.0L422 1050L441 1103L430.0 1080.5L448 1111L413.0 1111.5L408 1060L450.0 1109.5L417.0 1110.5L463.5 1103.5L422 1092L414.5 1070.5L411.0 1104.5L404.5 1108.5L413.5 1090.0L415.0 1110.5L434 1098L428.0 1100.5L436.5 1105.5L450.5 1108.5L459.5 1084.5L451.5 1080.5L450.5 1110.5L417.5 1075.0L414 1108L415.5 1091.5L423.5 1112.0L411 1111L455.5 997.5L420.5 1099.0L509.0 995.5L419.5 1101.5L413.5 1094.0L411 1106L406.5 1094.0L433 1107L412.0 1092.5L491 1059L411 1107L413.0 1080.5L460 1076L431.5 1112.0L426.5 1107.0L409.5 1098.5L456 1039L409.5 1087.0L404 1110L410.5 1107.0L465.5 1094.0L425.5 1058.0L465.5 1092.0L447.5 1077.5L415.5 1086.0L416 1104L444.5 1111.5L419 1089L446.5 1068.5L419 1104L424.5 1079.0L436.0 1067.5L440.5 1088.5L408.5 1093.0L454 1017L458.5 1087.0L420 1100L408 1092L422.5 1105.0L422 1105L416.5 1100.5L434.0 1064.5L408.5 1098.0L441.0 1093.5L411 1050L422 1112L440.5 1103.0L429.5 1058.0L413 1102L404.5 1108.5L420.0 1078.5L418.5 1108.5L418.5 1104.5L420 1084L429.5 1034.0L421.5 1046.5L433.5 1090.5L410.0 1110.5L418.5 1111.5L404.5 1105.5L425.5 1078.0L412.0 1108.5L410.5 1055.5L424.0 1065.5L418.0 1047.5L428.5 1089.5L419.0 1110.5L411.0 1108.5L422 1084L454.0 1085.5L446.0 1085.5L429 1092L408 1063L406.5 1057.0L474.5 1096.0L422.5 1094.0L406 1106L420.5 1086.5L437 1105L409 1106L414 1100L432.5 1077.0L429.5 1077.5L418 1093L430.5 1094.5L457.0 1090.5L445.5 1095.0L435.0 1096.5L406 1103L452.5 1102.5L407.5 1096.0L450.5 1038.0L405.0 1109.5L410.5 1103.5L409 1092L405.5 1101.5L472.0 1066.5L434 1101L458.5 1109.5L422.0 1090.5L460.0 1072.5L436.5 1094.5L438.5 1058.0L412.5 1088.0L410.5 1102.5L459.5 1075.0L439.5 1102.0L410.0 1110.5L408.5 1033.5L450.5 1062.0L411.5 1081.5L420.0 1082.5L477.5 1090.0L420.5 1097.0L414.5 1099.0L427 1102L425 1106L411.5 1094.0L474 1032L411 1052L427.5 1083.5L449.0 1092.5L408 1091L425 1059L440.5 1002.5L426.5 1077.0L415.5 1068.0L413 1109L415 1109L426 1072L445.0 1111.5L406.0 1101.5L480 1047L404.5 1064.0L422.5 1110.0L423.5 1112.0L422.5 1094.0L411 1094L430.0 1094.5L422.5 1081.0L408.5 1093.5L407.5 1106.0L453 1093L419.5 1064.0L481.5 1061.0L456 1083L414 1093L404.5 1099.0L439.5 1078.5L419.5 1111.0L412.5 1106.0L405.0 1081.5L446.0 1076.5L414.5 1038.0L414 1078L420.0 1100.5L423.5 1100.5L413.0 1067.5L432 1092L414.0 1108.5L433.5 1090.5L444 1057L458 1110L414 1102L404.0 1085.5L453.0 1110.5L405.5 1069.0L410 1082L409 1099L406.5 1101.5L443 1102L436.5 1101.0L415.0 1111.5L432.5 1097.5L415.0 1089.5L427 1068L429.5 1107.5L405 1095L430 1105L417.5 1107.5L417 1111L441.5 1087.0L430.5 1093.0L426.0 1092.5L454.5 1085.0L407 1104L414.5 1100.5L416.5 1109.5L500.5 1098.0L424 1093L412 1055L434.5 1041.0L437.5 1111.0L415.0 1101.5L426 1045L427.5 1105.0L442 1094L439.5 989.5L406 1100L433.5 1080.0L419.5 1094.0L420 1100L408 1087L432.0 1087.5L406.5 1111.5L409 1065L420.5 1062.5L413.5 1090.0L478.5 1032.0L413.5 1111.5L416 1107L408 1104L441.5 1110.5L435 1100L404.5 1106.0L407.0 1076.5L429.5 1076.0L412.5 1111.5L425.5 1066.0L406 1108L430.0 1098.5L412.5 1057.5L431.0 1092.5L437.5 1069.0L432.5 1084.0L463.5 1087.0L413.5 1096.5L446.0 1085.5L436.5 1094.0L437 1107L409.0 1110.5L411.5 1111.5L429 1106L458.5 1083.5L443.5 1112.0L415.5 1093.5L435.5 1071.5L451.0 1103.5L414.5 1100.5L448 1088L412.0 1108.5L417.5 1095.0L406.5 1049.0L406.5 1097.0L427.5 1062.0L416.5 1093.0L418.5 1069.5L410 1102L409 1112L422 1080L406.0 1092.5L427.5 1110.0L428 1109L414 1093L415.0 1097.5L476.5 1053.5L424.5 1081.5L405.5 1107.5L471.5 1033.5L434.0 1052.5L425.0 1031.5L431.0 1109.5L418.5 1102.0L412 1097L438.5 1110.5L506 1051L408.0 1082.5L409 1104L418.5 1081.5L419.5 1107.0L470 1067L427.0 1097.5L432.5 1108.5L425.5 1104.5L481.5 1102.0L467.5 1108.5L446.0 1088.5L446.5 1099.5L404 1111L418.5 1092.0L435.5 1087.0L405.5 1109.0L423.5 1085.0L426.5 1109.0L413.0 1096.5L412 1089L435.5 1105.0L434.5 1081.0L433 1095L423 1102L406 1090L428.0 1110.5L489 1081L404.5 1097.5L423.5 1053.0L462.0 1101.5L407.0 1105.5L430 1081L457 1038L407 1065L427 1110L413.5 1105.0L405.5 1102.0L409 1111L421 1084L428 1100L479.5 1107.0L422 1090L483.5 1094.5L412 1112L482.5 1091.5L406.5 1076.0L484 1069L408.0 1109.5L405.0 1110.5L419.5 1029.0L460.5 1101.5L439.5 1056.5L404.0 1108.5L407.5 1040.5L409.0 1084.5L447.0 1105.5L424 1110L414 1057L470.5 997.5L434.5 1086.0L412 1054L424.5 1106.5L418.5 1083.5L408.5 1110.5L415.0 1102.5L420.0 1071.5L448 1034L472.0 1081.5L404.5 1109.5L441.0 1103.5L474 1061L478.0 1068.5L439.5 1038.0L432.0 1068.5L424.0 1080.5L431.5 1047.0L413 1038L420 1043L407.5 1110.5L412.5 1084.5L446.0 1111.5L424 1106L447.5 1069.0L406.0 1090.5L407.5 1109.0L431.5 1090.0L462 1057L407 1045L437 1102L430.0 1110.5L431.0 1106.5L437 1076L419.5 1088.0L443.5 1110.5L413.0 1093.5L419.5 1112.0L410 1110L407.5 1108.0L428.5 1100.0L433.5 1096.0L408 1095L431.5 1084.5L408.5 1104.0L406.5 1093.0L417 1029L413.5 1093.0L459.5 1081.5L422.0 1110.5L425.5 1076.5L406 1080L417 1103L443.5 1074.5L410.5 1111.5L433.0 1101.5L431.5 1109.0L453 1027L428.5 1051.5L444.0 1097.5L425 1101L405.5 1063.5L434.5 1012.5L410.5 1093.0L443.5 1061.5L431.0 1100.5L465.0 1094.5L437.5 1091.0L422.0 1103.5L405 1081L457.5 1100.5L410.5 1090.5L409.5 1090.0L441.0 1095.5L406.5 1099.0L420 1109L407.5 1061.0L413 1078L418.0 1104.5L409 1111L418 1106L448 1106L425.5 1111.5L410 1110L459 1087L427.5 1078.0L407.5 1090.5L405 1088L417 1096L435 1099L413.0 1095.5L454.5 1095.5L445.5 1107.0L414.0 1090.5L437.5 1102.0L430 1106L430 1093L432.0 1079.5L429 1076L429 1057L487.5 1042.0L438.5 1094.5L421.5 1083.5L436.5 1106.0L428.5 1108.0L445.0 1100.5L417.5 1104.0L428.0 1042.5L430 1064L422 1100L413.0 1075.5L428 1108L421.0 1105.5L406.5 1097.5L405.5 1073.0L425 1030L471.5 1105.5L440.0 1111.5L412.5 1103.5L417.5 1089.5L417 1105L431 1106L409.5 1111.5L407.0 1103.5L456.5 1100.5L430.5 1108.5L429 1106L428.5 1029.5L429.0 1105.5L434.5 1048.0L445 1085L414.5 1109.0L427.5 1105.0L413.5 1083.5L440.5 1078.0L405.0 1097.5L414 1106L425.5 1102.0L436.0 1095.5L432 1063L425.0 1098.5L409.0 1093.5L424.0 1075.5L418.5 1107.0L414.5 1083.0L443 1037L431.0 1096.5L497.5 1102.5L420.5 1096.5L429.5 1103.5L467.5 1108.5L430 1107L465.0 1091.5L405.5 1090.0L441.5 1106.0L452.0 1087.5L504.0 1096.5L410.5 1055.0L415.0 1105.5L418.0 1111.5L406 1059L424.5 1077.0L423.0 1108.5L438.0 1052.5L448.5 1098.0L419.5 1087.5L417.5 1055.0L429.5 1089.0L411 1036L425.0 1104.5L458.5 1056.5L441 1106L429.5 1061.5L425.5 1091.5L431 1109L442.5 1099.0L426.5 1075.0L422.5 1104.5L429.5 1094.5L438.5 1106.5L435.5 1098.5L409.5 1060.5L495.5 1084.0L419.5 1086.0L416 1097L406 1090L409.5 1092.5L405.0 1097.5L416 1093L409 1078L453 1110L468.0 1084.5L416.5 1056.0L420.0 1109.5L453.5 1080.0L409.5 1081.0L405.5 1092.5L417.0 1042.5L405.0 1108.5L406.5 1093.0L415.5 1108.0L454.5 1102.0L429.0 1110.5L475.5 1105.0L424.5 1091.5L437.0 1093.5L405.5 1084.5L433.5 1110.5L431.5 1086.5L434.0 1104.5L424.0 1106.5L469 1055L450.5 1055.0L443.0 1104.5L473.5 1050.0L413.5 1083.0L425.0 1077.5L417.0 1063.5L411.5 1050.0L440.0 1089.5L414.5 1086.0L417.5 1101.0L417.5 1108.5L405.5 1098.0L416.5 1084.5L407.5 1102.0L419 1107L411.0 1078.5L423 1103L433.0 1038.5L413.5 1102.0L413.5 1109.0L444.0 1090.5L414.5 1095.0L421.0 1059.5L405.5 1105.0L435.5 1105.0L413.0 1095.5L442.0 1072.5L439 1109L414.5 1101.5L419.5 1048.5L417.5 1062.0L427.5 1078.5L422.5 1112.0L425 990L439 1077L429.5 1107.0L453.5 1007.0L462 994L422.5 1015.5L416.0 1093.5L432 1077L422 1106L446.5 1047.0L420 1102L426.5 1109.5L431.0 1046.5L449.5 1108.5L408.5 1066.5L415.5 1083.5L415.0 1108.5L438.0 1085.5L433.5 1073.0L409 1091L428.5 1092.0L426.5 1096.0L417 1102L453.0 1110.5L404.0 1106.5L445.5 1065.0L463 1109L420 1050L428.5 1090.0L420.5 1106.0L408.5 973.5L414.5 1085.0L409.5 1097.5L415.5 1108.5L411.5 1100.5L407 1112L441.0 1103.5L408.0 1109.5L453.5 1073.5L418 1085L417 1106L414.5 1103.5L449.5 1087.0L433.5 1105.0L434.5 1063.0L436.5 1078.5L455.0 1049.5L421.0 1068.5L443.5 1098.5L427.5 1094.0L407.0 1103.5L449 1076L410.5 1106.5L448 1057L424 1103L456.5 1056.5L419.5 1107.5L408.0 1054.5L418.0 1042.5L424.5 1109.5L445 1059L415.5 1108.0L429.5 1110.0L408.0 1071.5L446.0 1084.5L413.5 1080.0L412 1100L416.5 1108.0L413.5 1095.0L405.5 1085.0L408.5 1108.5L421 1095L436.0 1073.5L467.0 1101.5L435.0 1089.5L430.0 1080.5L410.5 1071.0L423 1104L406.5 1030.5L429.0 1099.5L461.0 1080.5L415.0 1094.5L411.5 1098.5L429.5 1108.0L431.5 1072.0L426.5 1107.5L474 1065L454.5 1104.5L456 1060L491.0 1103.5L460.0 1058.5L407.0 1098.5L417 1010L426 1067L406.0 1070.5L419.0 1110.5L433.5 1097.0L426.0 1107.5L405 1098L420 1095L430.5 1091.0L406 1091L407.5 1088.0L437.5 1110.0L409 1091L449.5 1106.0L410.0 1109.5L421 1059L490.0 1036.5L417.0 1104.5L422 1039L430.5 1110.0L433.0 1075.5L431.0 1098.5L433 1110L448 1100L426 1111L445.5 1108.0L425.0 1111.5L408 1107L417 1102L438.5 1101.5L412.5 1074.5L417.5 1031.0L450.5 1109.5L413 1109L416 1109L415.5 1071.5L419.5 1072.0L428 1081L410 1111L417.5 1052.5L415.5 1087.0L422.0 1096.5L420 1107L457.0 1067.5L426.5 1102.0L408.5 1091.0L478.0 1072.5L419.5 1051.0L409.5 1108.0L433 1099L457.0 1104.5L405.0 1089.5L436 1108L472.0 1099.5L423.5 1102.5L410.0 1108.5L440.5 1101.5L423.5 1101.5L423.5 1069.5L470.5 1108.5L420.5 1106.5L419.5 1084.0L407.5 1106.0L428.0 1093.5L405.5 1099.5L406.0 1103.5L408 1073L474.5 1034.5L411 1109L436.0 1054.5L427.5 1102.0L416.0 1110.5L430.0 1109.5L435.0 1072.5L413 1108L492.5 1041.5L412 1080L434.5 1105.5L405.0 1111.5L406.5 1083.0L445 1011L414.5 1105.5L444.5 1102.0L450 1066L405.5 1095.5L412.5 1108.5L426 1110L422.0 1111.5L408.5 1109.0L430.0 1104.5L427.5 1054.0L406.0 1090.5L430.5 1108.5L459.0 1109.5L425.0 1100.5L412.5 1093.0L420.5 1098.0L446 1095L441.0 1069.5L464 1079L422.0 1089.5L437.5 1099.0L413 1102L419 1089L440.5 1083.5L427.0 1044.5L427.5 1107.5L485 1102L411.5 1099.0L415.0 1001.5L407.5 1082.5L412.0 1086.5L410 1105L420.5 1104.0L425.5 1082.5L424.5 1101.5L410.5 1089.0L418 1100L408 1094L408 1081L424.5 1044.0L408.0 1103.5L430 1103L453 1074L483.5 1106.5L411.0 1100.5L431.5 1100.0L455.5 1049.5L411 1102L410 1089L441.0 1070.5L406.0 1110.5L424 1083L432.5 1108.5L420.5 1105.5L424.5 1088.5L411.5 1049.5L406.0 1103.5L439.0 1086.5L436.0 1073.5L438.0 1064.5L409.5 1025.5L437.5 1095.5L453.5 1103.0L427.0 1108.5L445.0 1068.5L441.0 1053.5L449 1104L407 1082L494.5 1103.0L421.5 1109.0L458 1110L426.5 1112.0L432.5 1108.5L424.5 1099.5L412.5 1075.0L413.5 1076.0L416.5 1100.0L409.5 1067.5L415.5 1097.0L467.0 1082.5L431 1112L460 1100L420.5 1106.0L413.5 1099.5L420.5 1106.5L428.5 1080.5L429 1094L407.5 1107.5L466.5 1062.5L405.5 1103.5L407.5 1108.0L438.5 1095.0L436.5 1105.5L492 1104L441.5 1110.0L429 1090L413 1102L418.5 1110.5L411 1092L432 1096L416.5 1100.5L412.5 1105.5L415.5 1100.5L428.5 1064.0L409 1112L437.5 1101.0L406.5 1104.5L420.0 1098.5L420.5 1107.5L415 1097L410.5 1099.5L419.5 1076.5L498 1094L436.5 1109.5L429.0 1105.5L412.5 1074.5L429.0 1085.5L412.0 1108.5L429.0 1107.5L441.5 1111.5L433.5 1112.0L438 1041L405.0 1111.5L416 1088L421.0 1079.5L416 1104L459.0 1109.5L412.5 1077.0L404.5 1097.5L411.0 1091.5L410.5 1089.0L423 1080L404.5 1102.0L407.5 1037.0L424.0 1106.5L462.0 1097.5L490.5 1052.0L409 1107L433.0 1105.5L409 1085L432.0 1099.5L456.5 1098.5L407 1093L407.5 1078.5L411.5 1087.0L430.5 1096.0L417.5 1098.0L411.5 1111.5L451.0 1075.5L411 1071L412 1089L421.5 1108.0L420.0 1103.5L405.5 1036.5L446.5 1111.0L438 1111L406.5 1111.5L405.5 1083.5L404.5 1078.0L427.0 1078.5L415 1098L410.5 1112.0L422 1111L406.5 1091.5L423.0 1089.5L438.5 1042.0L465 1092L435.5 1073.5L431 1107L418.5 1110.5L439 1109L411.5 1101.5L430.5 1104.5L431.5 1109.5L468.5 1108.5L429.5 1088.5L452.5 1003.0L412.0 1088.5L432.5 1107.5L408 1072L437.5 1076.0L411.0 1086.5L415.5 1101.5L429.5 1108.0L449 1097L413.0 1092.5L421 1085L428.0 1049.5L422.5 1100.0L497.5 1093.5L499.0 1099.5L406.5 1063.5L418.5 1102.5L432.5 1100.5L459.5 1027.5L410.5 1078.5L420.0 1071.5L424.5 1111.0L418.0 1110.5L433 1062L418.0 1092.5L422 1111L425.0 1096.5L411.0 1097.5L421.0 1093.5L413.5 1093.0L421.5 1096.5L415.5 1105.5L408.0 1106.5L443 1094L463 1062L404 1080L414.0 1103.5L429.5 1093.5L416 1101L416.5 1093.5L447 1073L414 1104L416.5 1065.0L449 1100L418 1103L424.0 1064.5L431.5 1108.0L414.0 1070.5L493.5 1030.0L432.5 1049.5L413 1084L416 1098L413.5 1089.5L476 1107L413 1110L416.0 1085.5L435.5 1102.5L440.5 1096.0L407 1064L431.0 1106.5L473.5 970.5L455.5 1093.5L415 1099L487 1042L477 1107L410.0 1031.5L429.0 1085.5L410.5 1069.5L420.5 1106.0L404.5 1088.0L447.5 1075.0L420.5 1092.0L419.0 988.5L471 938L435.5 1089.0L406 1086L427 1112L427.5 1074.0L405.5 1072.0L426.5 1015.0L425.5 1111.0L414.5 1105.5L457.5 1104.5L416.5 1094.5L417.5 1090.0L460 1108L406.5 1053.0L433.5 1093.5L408.5 1112.0L415.5 1099.5L436.5 1107.5L434.5 1068.5L426.5 1103.0L406.5 1098.5L429.5 1087.5L413.5 1103.5L426.5 1083.0L409.0 1088.5L419.5 1109.0L430.5 1068.5L407.5 1110.0L430.5 1072.5L411.0 1077.5L414.5 1112.0L407.0 1105.5L418.0 1089.5L405 1084L437.5 1064.5L416.5 1071.0L415 1093L408.5 1074.5L411.5 1108.0L428 1112L407.5 1110.5L512.5 1082.0L418 1078L423.5 1107.0L479.5 1103.5L406.5 1023.0L445.5 1106.5L428 1004L412.5 1097.5L432.5 1068.5L412 998L431.5 1110.5L425 1066L445.5 1048.0L418.0 1067.5L430.5 1086.0L415.5 1076.5L435.5 1092.0L406.0 1106.5L457.0 1078.5L406.5 1099.0L413.5 1056.5L408.0 1110.5L418.5 1081.0L429 1075L417.0 1110.5L456.5 1095.0L450.5 1069.5L419 1088L406 1035L413.5 1110.0L412.5 1111.5L440.5 1109.5L436.5 1086.5L424 1079L404.5 1094.0L416.5 1099.0L406.5 1112.0L409 1075L438.0 1110.5L424 1110L427 1108L417.0 1033.5L435.0 1072.5L410.0 1110.5L405.0 1105.5L409.0 1103.5L415.5 1104.5L439.0 1103.5L413.5 1057.5L440.5 1103.0L453.5 1105.5L441 1109L409.0 1096.5L414.5 1085.0L446 1097L418.5 1084.0L435 1096L415.5 1049.0L431.0 1096.5L450.5 1019.0L407.0 1098.5L507.0 1007.5L405.5 1097.5L449.0 1087.5L435.5 1106.5L410.0 1104.5L430.0 1091.5L414 1102L407.5 1101.0L413 1095L424.0 1073.5L408.5 1109.5L409 1072L444 1109L415.0 1096.5L419.5 1107.5L416.5 1111.0L440 1083L430 1100L420.5 1096.0L406.0 1109.5L434.5 1107.0L467.0 1047.5L418 1104L412.5 1111.5L453.5 1088.0L407.5 1106.5L412.5 1103.5L407.5 1110.0L408 1104L415 1105L409.5 1093.5L408 1090L423.0 1102.5L425.5 1083.0L410 1086L409.5 1086.0L413.5 1105.0L516.5 1016.5L432 1100L435 1051L428.5 1083.0L405.5 1100.0L424.5 1100.0L423.0 1076.5L413 1105L417 1063L427.5 1044.0L455.5 1110.5L470.5 1086.5L487.5 1105.5L422.5 1075.5L411.5 1080.0L411.5 1042.5L412 1089L409 1091L460.5 1109.0L406.5 1095.0L408 1090L406.5 1096.0L423 1086L491.5 1103.0L408.5 1073.0L420.5 1039.0L431.5 1111.0L434.5 1107.0L411.0 1107.5L412 1106L438.5 1072.0L419 1082L406.0 1111.5L418.5 1098.0L408.5 1111.5L407.5 1096.5L433.5 1034.5L437.5 1078.5L433.0 1074.5L444.5 1098.5L411.0 1085.5L421.5 1090.5L429.5 1064.0L444.5 1072.5L430.5 1109.0L406.5 1109.5L427 1103L418.5 1087.5L436.5 1024.5L420 1112L425.5 1041.5L410.5 1093.0L414.5 1109.0L423.5 1081.5L449.0 1093.5L407.5 1107.5L430.5 1078.5L440 1063L415.5 1092.5L406 1101L430.5 1098.0L472.5 1105.0L484 1106L406 1112L442.5 1110.0L412.5 1103.5L429.0 1106.5L427 1082L454 1110L496.5 1098.5L419 1105L427.5 1003.5L440.5 1107.0L407.5 1074.0L419.5 1106.5L417.5 1055.0L415.0 1109.5L408.0 1093.5L432 1111L407.5 1087.5L452.0 1087.5L408.5 1083.0L405.0 1099.5L446.5 1053.5L431 1050L407.5 1106.0L431 1008L447 1084L422.5 1090.0L470.0 1106.5L415.5 1097.5L432.0 1104.5L447.5 1079.0L415.0 1104.5L404.0 1103.5L422 1053L419.5 1092.5L448.5 1095.5L420 1076L418 1091L443.0 1111.5L425 1104L429.0 1100.5L415 1089L442.0 1082.5L423.5 1081.0L424.5 1016.5L413.5 1105.5L449 1047L410.5 1111.5L470.5 1047.5L410 1099L460 1104L415.5 1111.0L413.0 1096.5L423.0 1106.5L412 1112L415.0 1107.5L423.5 1071.0L421.5 1072.5L429.5 1073.5L412 1050L407.5 1098.5L432.0 1081.5L437.5 1091.5L457 1110L405.0 1079.5L416.0 1100.5L444.0 1099.5L414.0 1111.5L414.5 1107.0L408.0 1110.5L426 1110L469.5 1099.5L409.5 1108.5L415.5 1095.5L421 1095L419 1103L409.5 1062.5L458 1072L421 1092L406 1049L436.5 1064.0L405.5 1111.5L434.5 1111.0L453.0 1095.5L421.0 1093.5L459.5 1096.0L425.5 1088.5L416 1109L442.0 1089.5L410.5 1101.0L441.5 1060.5L411.0 1062.5L410.0 1103.5L414 1085L418.0 1107.5L442.5 1013.5L407.0 1103.5L452.5 1055.0L430.0 1069.5L409.5 1079.0L414 1104L412.0 1062.5L441.5 1034.5L439 1105L417.0 1080.5L415.5 1107.5L412.0 1096.5L406.0 1084.5L410.5 1107.5L412.0 1109.5L435.0 1073.5L408.5 1078.5L440 1062L428.5 1085.0L432 1069L413.5 1070.5L430.5 1104.0L433 1104L489.5 1064.0L451.5 1101.0L415.5 1099.0L411 1102L431.5 910.0L406.5 1100.0L426.5 1060.0L490.5 1090.0L415.5 1088.5L474.5 1075.5L431.0 1081.5L463.5 1091.0L422.5 1111.0L443.0 1050.5L418 1110L451.5 1079.0L425.5 1101.5L435.5 1061.5L408.5 1108.0L469.0 1044.5L504.5 1023.0L413 1097L426.0 1095.5L408.5 1105.5L425 1077L412.5 970.5L425.5 1100.5L416.5 1045.0L463 1101L415 1093L410.5 1108.5L438.0 1089.5L472.5 1051.5L455.0 1095.5L413 1067L471.5 1097.5L439 1021L422.5 1061.5L442.5 1054.5L427 1097L407.0 1049.5L404.5 1076.0L407 1100L432.5 1078.5L413.0 1107.5L413.0 1110.5L411.5 1091.5L409.0 1066.5L407 1067L408.5 1108.0L405.5 1112.0L414.5 1089.5L420 1080L406 1102L451.5 1023.5L438.5 1053.0L446.5 1106.0L420 1088L441.5 1053.0L432 1092L442.5 1110.5L454.0 1096.5L411.5 1106.5L432 1047L411.5 1110.5L416 1101L436.0 1054.5L438 1091L406.5 1111.5L437.5 1082.5L415.5 1111.5L428.5 1093.5L417.5 1089.0L446 1108L428.5 1097.5L481 1100L426.5 1073.0L410.0 1080.5L424 1110L410 1108L410.5 1111.0L423.5 1111.0L417.5 1100.5L420.5 1110.0L418.5 1103.5L416.5 1105.0L437.5 1088.0L418.5 1111.5L422.0 1108.5L415 1107L411.0 1103.5L410 1076L432.5 1103.5L409.0 1106.5L435.5 1041.5L443.0 1101.5L408.0 1110.5L496.0 978.5L478.5 1056.0L408.5 1083.5L416.0 1111.5L407.5 1110.5L470 1091L409.5 1084.0L424.5 1098.5L455 1106L414.5 1107.0L428 1080L423.0 1065.5L415 1064L428 1109L425.5 1070.5L436.5 1057.0L411.0 1107.5L405 1110L431.5 1102.5L411 1112L407.0 1102.5L459.5 1073.5L463 1083L404.5 1108.0L408.5 1096.0L413.5 1079.0L408.5 1093.5L475.5 1001.0L412.5 1089.0L407 992L448 1082L417.5 1070.5L414.5 1088.0L407 1107L416 1099L448.0 1067.5L413.5 1096.0L412.0 1106.5L411.5 1049.5L471.0 1077.5L426.0 1056.5L419.5 1111.0L407.0 1110.5L447.0 1096.5L428.5 1095.5L432.5 1067.5L435.5 1086.0L421.5 1068.5L444.5 978.5L422.5 1108.0L425.5 1091.5L407.5 1088.0L414 1098L436 1067L426.5 1096.0L424 1090L415.0 1089.5L414.5 1106.5L413.0 1108.5L417.5 1091.5L411.5 1102.5L434.5 998.5L436 1108L489.5 1078.0L452 1095L408.0 1070.5L411 1109L410.5 1087.5L422.0 1092.5L408.5 1100.0L417.0 1106.5L423.5 1092.5L435.5 1106.0L416.5 1094.0L433.0 1111.5L408.5 1095.5L479.5 980.0L440.0 1110.5L502.5 885.5L411.5 1095.5L407.5 1077.0L498 1079L404.5 1094.0L463.5 1100.5L480.5 1096.5L434 1087L454.5 1110.0L420.5 1087.0L411.5 1023.0L419.5 1086.0L463 1099L406 1109L408.5 1110.0L446.5 1097.0L415.5 1111.5L463.5 1109.0L417.5 1081.5L498.5 1048.5L444.5 1106.5L411 1112L413.5 1108.0L428 1049L421.5 1070.0L412.5 1100.5L423.0 1107.5L428.5 1097.5L418.5 1092.0L434.5 1091.5L428 1093L460.5 1091.5L418 1094L410.5 1099.0L430 1071L407.5 1100.0L465 1081L407 1085L410.5 1076.0L467 1108L413.5 1017.5L406 1081L427.5 1105.5L419.0 1100.5L408.5 1075.0L405 1100L419 1112L422 1070L430.5 1111.0L426.5 1108.5L456.5 1097.0L410.5 1108.0L421.0 1056.5L425.5 1099.0L414.5 1095.0L425 1086L440.0 1107.5L512.5 1068.5L406.5 1092.5L440.5 1109.0L495.0 1045.5L469.5 1082.5L466.5 1050.0L412.5 1110.0L408.5 1095.0L406.5 1110.5L421 1031L444.0 1107.5L444.0 1063.5L406.5 1084.0L425 1102L410 1112L444.5 1082.5L419.5 1106.0L433.5 1103.5L422.5 1109.0L433.5 1017.0L405 1111L405 1076L428.5 1109.0L414.5 1069.5L419.5 1087.5L436.5 1109.0L414.0 1109.5L428.5 1103.5L405.5 1103.5L405.5 1083.5L416.5 1086.5L413.0 1107.5L461 1029L451.5 1077.5L439 1105L481 1006L433 1102L421.5 1089.5L408.0 1068.5L404 1110L425.5 1066.5L423.5 1109.0L415.0 1109.5L414.5 1103.5L414 1064L435.5 1082.0L474 934L410.5 1099.5L411.5 1095.0L458.5 1105.0L412 1105L429.5 1098.0L409.0 1109.5L418 1078L419.5 1106.5L420.5 1106.5L433 1084L432.5 1079.0L433 1064L483.0 1106.5L420.5 1098.5L409 1103L413 1058L471.5 1056.0L412.5 1055.0L460.5 1108.5L427.0 1107.5L412.5 1101.5L425.5 1039.5L423.5 1112.0L448.5 1052.0L405.0 1092.5L459 1036L450.0 1090.5L474.0 1099.5L406.5 1083.0L451.0 1081.5L416.5 1086.5L419.5 1046.0L434.0 1109.5L424.5 1071.0L415.5 1099.5L410.5 1051.5L409 1097L443.0 1111.5L414.0 1105.5L437 1083L434.0 1052.5L446.0 1111.5L470.5 1085.5L410 1106L440.5 1106.5L499.5 1093.5L426.5 1094.0L439 1046L421.0 1058.5L408 1108L411 1108L431 1100L408.5 1101.0L411.0 1073.5L435.0 1084.5L406.5 1098.0L430.0 1106.5L439 1111L428.5 1101.5L406.0 1071.5L435.5 1105.5L411.0 1089.5L417 1096L499 1088L429.5 979.5L437.0 1089.5L463 1023L500.5 1074.5L468.5 1073.5L427.5 1082.0L469 1089L446.5 1084.0L463.5 1099.5L480.5 1077.5L445.0 1036.5L462.0 1044.5L437.5 1097.5L473 1063L424.0 1097.5L438 1082L422.0 1077.5L484.0 1011.5L486.5 981.5L461.5 1052.5L503.0 932.5L465.0 1041.5L415.0 1096.5L489.5 1024.5L437 1086L447.0 952.5L443.5 1087.0L508.5 1034.5L483.5 1024.5L487 1033L502 1045L442 1060L484.0 1075.5L464 1030L439 1059L451 1040L504.5 994.5L510.5 1066.0L467.5 1094.0L406.0 1094.5L429 1101L449.0 1059.5L468.5 1033.0L484.5 1047.0L450 1050L472 1053L435.5 1069.0L418.5 1098.5L450.5 1052.0L506.5 1083.0L470.5 1063.0L508.5 947.0L506.5 1041.0L496.0 1062.5L504 989L462.0 1099.5L437.5 1053.5L474.5 1076.0L435 1081L420 1105L526.5 1053.0L454.0 1082.5L437.5 1089.0L454.5 1047.5L467 1052L458 1045L441.5 1045.0L469 1038L441.0 1090.5L470.0 1039.5L469.5 1098.5L455 1034L447 1075L469 1053L454.5 1068.0L432.5 1069.0L474.0 1064.5L431.5 1091.0L522.5 879.5L447 1081L469.0 1043.5L454.5 1092.0L473.5 1087.0L465.0 1075.5L441.5 1057.5L442 1065L486 1007L412 1100L468.5 1061.0L478.0 1052.5L469.0 959.5L469.5 1084.0L505.5 947.5L495.5 1070.5L456.5 1077.0L461.5 1051.0L502.0 1061.5L463 1045L450.0 1099.5L488.5 1070.5L487.5 1087.0L510.0 1069.5L437.5 1072.0L454.5 1081.0L493.5 939.5L515.5 1013.0L444.5 1073.5L450.5 1086.0L476.5 1053.0L469.5 1020.5L498.5 1041.0L505 992L448.0 1058.5L471.0 1054.5L420.5 1103.5L455.5 1068.0L460 1073L413.5 1093.0L506.5 1065.0L457.0 1062.5L442.0 1061.5L423.5 1072.5L420.5 1083.0L465.0 1085.5L473 1049L427.5 1079.5L412.5 1102.0L450.5 1071.5L451 1085L500.5 1018.5L462.5 1084.5L423.5 1093.5L489.5 1011.5L463.5 1098.5L517.5 1073.5L440.0 1080.5L426.5 1098.5L499.5 987.0L484.5 1048.0L458.0 1085.5L468.5 1006.0L467.0 1046.5L418.5 1086.5L431 1104L471 1027L476.5 1007.5L471 1024L507.5 972.5L479.5 1073.0L481.5 1035.5L466.0 1043.5L461.5 1064.0L410 1104L427.5 1090.5L429 1103L475 966L443.0 1094.5L483.5 1032.0L469.0 1028.5L460.5 1018.5L473.0 1064.5L471 999L505.5 1033.5L533.5 1028.0L407.5 1101.5L443 1081L428.5 1088.0L431.5 1091.5L487.0 1051.5L479.5 1087.0L479 1060L444.5 1083.5L475 1092L449.5 1081.5L478.0 1058.5L460.0 1082.5L531.5 1015.5L442.0 1064.5L455.0 1076.5L490.5 1045.0L465.5 1067.0L438.0 1101.5L466 1029L445 1068L454 1086L491.0 1062.5L442.0 1002.5L472.0 1062.5L472.5 1047.5L478.5 1032.5L483.0 1004.5L450.0 1094.5L422 1054L509.5 1086.0L467.0 1071.5L504.5 1072.0L425.0 1058.5L446 1051L487 1068L498.5 1081.5L445.0 1034.5L420.0 1090.5L516.5 1060.0L425.5 1105.0L451.5 1082.5L510.0 883.5L493.5 1014.5L460.0 1101.5L444 1054L432.5 1102.5L458.5 1086.5L460 1065L515.5 1075.0L503 1029L408.5 1104.5L473 850L488.5 1063.5L427.5 1098.5L450.5 1084.0L517.5 1048.5L456.5 1037.5L448.5 1092.0L500.5 1078.5L441.5 1097.5L430.0 1096.5L470.5 1087.0L430.5 1086.5L479.0 1026.5L449.0 1068.5L491 1065L460.5 1060.0L469.5 1036.0L468 1042L445.5 1046.5L517.5 928.0L454.0 1064.5L434.0 1091.5L457 1022L448.5 1047.5L533 1071L435.5 1101.0L433.0 1087.5L453.5 1092.0L446.0 1082.5L477.5 1067.5L490.0 1042.5L487.5 972.5L448.5 1032.0L452 1088L462.0 949.5L479.5 950.0L459.5 1059.5L429.5 1090.5L489 1069L468.5 1091.0L432 1091L508.0 1008.5L479.5 1066.5L483.5 992.0L463 1067L479.5 879.5L476.0 1037.5L450 1067L482.5 1057.0L440.5 1086.0L436 1083L436.5 1058.5L505.5 962.0L458 1089L475 1030L466.0 1082.5L442.5 1040.5L453.5 1044.5L475.5 1073.5L474.0 1071.5L487 1053L449 1085L437 1101L434.5 1098.5L528.5 983.0L470.0 1066.5L444.0 1060.5L421.0 1100.5L410.5 1100.5L501.5 1081.0L422.5 1075.0L439.5 1058.5L451 1079L441.5 1083.0L432.0 1082.5L436.5 1087.0L477 1060L412 1100L472.5 1071.0L472.0 1004.5L447 1076L451.5 1069.0L416.5 1099.5L478.5 1009.5L500.5 1064.5L465.5 1076.0L490.5 1080.5L457.0 1093.5L455.0 1016.5L492.5 1024.5L483.5 1040.0L451.5 1024.5L490.5 1039.5L490 1032L495 1087L428.5 1096.5L463.5 1078.0L466.5 1079.5L474.0 912.5L437.5 1090.5L425 1081L414.0 1088.5L449.5 1090.0L514 1047L484.0 935.5L416.5 1102.0L492 1027L471.0 1043.5L463.5 1099.5L501.0 1003.5L484.5 1015.0L460 1084L468.5 1069.0L481 1087L496.0 971.5L460.0 1081.5L450.5 1089.0L408.5 1098.5L408 1101L459.5 1088.5L453.5 1068.0L474.5 1050.0L495.5 993.5L431.5 1088.5L472 1072L411.5 1094.5L453.5 1039.0L498.5 1017.0L465 1029L509 1048L436.0 1057.5L475.5 1081.5L489.0 1071.5L490.5 1045.0L424.0 1093.5L445.0 1083.5L453.5 1069.5L470.5 1039.5L472.0 1074.5L498.5 1001.5L469.0 1053.5L440.0 1092.5L419 1090L495.5 1023.0L437.5 1081.5L466.5 1085.0L466 970L438.0 1097.5L425.0 1092.5L444.5 1069.5L443 1076L466 1093L421.0 1104.5L418 1086L439.0 1048.5L494 1061L424.0 1099.5L493.5 1094.5L439 1035L439.5 1066.0L491.0 1035.5L476.5 1037.5L471.5 1092.0L494.5 963.0L443 1097L462 1067L475.0 1057.5L460 1089L492.5 1053.5L490.5 1036.0L414.5 1093.5L476.0 1063.5L459.5 1081.0L456.5 1060.5L443.0 1088.5L486.5 1079.0L447 1008L487.0 1065.5L438.5 1101.0L483.0 1030.5L523 1024L480 1029L436.5 1035.0L492 974L436.5 1087.0L445.5 1074.5L476.5 1056.0L413.5 1090.0L471.0 1067.5L482.0 1074.5L453.5 1047.0L490.5 1030.5L443.5 1070.5L460.0 1078.5L497.5 1084.5L457.5 999.0L502.5 991.0L460.5 1101.0L475 1068L456.0 1050.5L458 1084L534 848L447.0 1047.5L500 1024L483.5 1003.0L464.5 1025.5L446 1037L496.5 1079.5L449 1042L512.5 1015.0L564 891L471.0 1034.5L471.5 1067.0L464.5 1016.5L460.5 1032.0L475.5 1057.5L466.0 1002.5L479 1060L435 1084L442.5 1002.0L459.0 1078.5L438.0 1079.5L433.0 1065.5L437.5 1098.5L435.5 1053.0L501.5 1088.0L490 973L459.5 1048.0L453.0 1086.5L449.5 1083.0L479.0 973.5L423 1093L485.0 942.5L478.5 1087.5L472 1071L453.0 1080.5L469.5 1046.5L489.5 1079.0L443.5 1091.5L542.5 910.5L423.5 1084.0L458.5 1081.5L475.5 1044.5L422.0 1098.5L455.5 1080.0L493 1047L455.0 1077.5L510.5 995.5L441 1078L496.0 1063.5L461 1090L460 1070L431.0 1045.5L453.5 1069.5L511 1031L410.0 1096.5L443.0 1088.5L473.5 1025.0L496.0 931.5L483.0 1076.5L502.0 959.5L454.5 1024.5L411.0 1093.5L446 1090L446.0 1052.5L426.5 1099.5L417 1100L421 1097L473 1082L487.5 1044.5L457.5 1090.0L533.5 1042.0L472.5 1021.5L465.5 1087.5L434 1060L450.0 1042.5L452.5 1090.0L448.5 1092.5L424 1099L476.5 1064.0L485.0 1081.5L445.5 1099.5L444 1015L460.5 1058.0L434.5 1082.0L409.5 1066.5L483 1067L462 1075L492.5 1058.5L470.5 1075.0L515.0 1041.5L462.5 1050.5L502.5 1061.0L443.0 1099.5L454.0 1064.5L529.0 1067.5L459 1090L459 1075L481.5 1053.5L491.5 1054.5L473.5 1037.0L442.0 1052.5L438.0 1097.5L429.5 1098.5L477.0 1025.5L436 1077L477.5 1021.0L450 1087L468.5 1027.5L451.5 994.0L453.5 1027.0L431.5 1094.5L493.5 1070.0L447.5 1054.5L419.5 1093.0L457 1034L447 1092L447 1071L499.5 1056.5L462.5 1086.5L530.5 770.0L437.5 1079.5L445 1096L432.0 1098.5L447.5 1038.0L470.5 949.0L467.0 997.5L530.5 994.5L440 1102L412.0 1091.5L460 1071L532 960L428.0 1085.5L504.5 1082.0L428 1086L427.5 1080.5L497.5 1034.0L473.0 1065.5L454.0 840.5L425.0 1088.5L442.5 1084.5L485.5 1049.5L503 1058L462 1001L429.0 1100.5L435.5 1085.0L500.5 1051.0L483.5 1067.5L459.5 1095.0L476 1077L482 1064L445 1070L467.5 1088.0L457.0 1052.5L473.5 1066.0L408.5 1084.0L422.5 1086.5L482.5 1075.5L414 1086L470.5 1076.5L408.0 1083.5L411 1104L428.0 1094.5L441 1097L492.0 1051.5L426 1100L505 1038L480 1049L492.5 1063.5L460.5 1087.0L483 1034L468.0 1045.5L440.5 1091.0L429.0 1071.5L474 1030L486.0 1070.5L457.5 1002.0L478.5 1047.5L463.0 1096.5L466.5 1043.5L519.5 976.5L437.5 1087.0L450.0 1078.5L464 1048L502.5 1035.0L467 1090L472 1067L450 1096L469.5 1056.0L444.5 1031.5L419.5 1097.0L410 1098L472.0 1090.5L489.5 1052.5L501.5 1075.5L488.5 989.0L448 1089L430.5 1078.5L453.5 1072.5L407.5 1100.5L420.5 1096.5L440.5 1088.5L433.5 1096.5L448.5 1077.0L547.5 725.0L645.0 1040.5L620.5 1050.5L581.0 1044.5" fill="none" stroke="none" marker-start="url(#mr)" marker-mid="url(#mr)" marker-end="url(#mr)"/>
<line x1="371.2" y1="707.0" x2="371.2" y2="1134.0" stroke="#000" stroke-width="1.2" stroke-dasharray="4 3"/>
<line x1="404.0" y1="707.0" x2="404.0" y2="1134.0" stroke="#000" stroke-width="1.2" stroke-dasharray="4 3"/>
<line x1="120.3" y1="1112.2" x2="670.0" y2="1112.2" stroke="#000" stroke-width="1.2" stroke-dasharray="4 3"/>
<line x1="120.3" y1="707.0" x2="120.3" y2="1134.5" stroke="#333" stroke-width="1.5"/>
<line x1="119.5" y1="1134.0" x2="670.0" y2="1134.0" stroke="#333" stroke-width="1.5"/>
<line x1="116.0" y1="725.1" x2="120.3" y2="725.1" stroke="#333" stroke-width="1"/>
<text x="114.5" y="728.7" font-size="10.5" text-anchor="end" fill="#222" font-weight="bold">200</text>
<line x1="116.0" y1="919.9" x2="120.3" y2="919.9" stroke="#333" stroke-width="1"/>
<text x="114.5" y="923.5" font-size="10.5" text-anchor="end" fill="#222" font-weight="bold">100</text>
<line x1="116.0" y1="1112.2" x2="120.3" y2="1112.2" stroke="#333" stroke-width="1"/>
<text x="114.5" y="1115.8" font-size="10.5" text-anchor="end" fill="#222" font-weight="bold">1.3</text>
<line x1="223.6" y1="1134.0" x2="223.6" y2="1138.0" stroke="#333" stroke-width="1"/>
<text x="223.6" y="1147.0" font-size="10.5" text-anchor="middle" fill="#222" font-weight="bold">−10</text>
<line x1="387.6" y1="1134.0" x2="387.6" y2="1138.0" stroke="#333" stroke-width="1"/>
<text x="387.6" y="1147.0" font-size="10.5" text-anchor="middle" fill="#222" font-weight="bold">0</text>
<line x1="551.6" y1="1134.0" x2="551.6" y2="1138.0" stroke="#333" stroke-width="1"/>
<text x="551.6" y="1147.0" font-size="10.5" text-anchor="middle" fill="#222" font-weight="bold">10</text>
<text x="395.5" y="1163.0" font-size="14" text-anchor="middle" fill="#111" font-weight="bold" textLength="120.0" lengthAdjust="spacingAndGlyphs">log2FoldChange</text>
<text x="89.5" y="920.0" font-size="13.5" text-anchor="middle" fill="#111" font-weight="bold" textLength="91.0" lengthAdjust="spacingAndGlyphs" transform="rotate(-90 89.5 920.0)">−log10(pval)</text>
<text x="395.0" y="702.3" font-size="16.5" text-anchor="middle" textLength="170.0" lengthAdjust="spacingAndGlyphs">DDPNC_vs_shTOP2A</text>
<line x1="339.0" y1="1077.9" x2="347.0" y2="1087.2" stroke="#000" stroke-width="1.2"/>
<line x1="358.7" y1="1101.0" x2="370.1" y2="1111.6" stroke="#000" stroke-width="1.2"/>
<line x1="479.1" y1="1026.6" x2="501.2" y2="1020.7" stroke="#000" stroke-width="1.2"/>
<text x="230.6" y="1071.2" font-size="21.6" textLength="161.6" lengthAdjust="spacingAndGlyphs">gene−SLC7A11</text>
<text x="438.4" y="1021.3" font-size="22.3" textLength="119.6" lengthAdjust="spacingAndGlyphs">gene−TP53</text>
<text x="325.8" y="1126.4" font-size="22.0" textLength="125.4" lengthAdjust="spacingAndGlyphs">gene−GPX4</text>
<text x="686.5" y="904.8" font-size="11.5" fill="#111" textLength="29.5" lengthAdjust="spacingAndGlyphs" stroke="#111" stroke-width="0.25">group</text>
<circle cx="694.4" cy="920.2" r="1.9" fill="none" stroke="#f48a80" stroke-width="0.8"/>
<circle cx="694.4" cy="936.6" r="1.9" fill="none" stroke="#7ea8f2" stroke-width="0.8"/>
<text x="708.8" y="923.6" font-size="9.6" fill="#111" textLength="37.0" lengthAdjust="spacingAndGlyphs" stroke="#111" stroke-width="0.25">up: 4397</text>
<text x="708.8" y="940.0" font-size="9.6" fill="#111" textLength="49.2" lengthAdjust="spacingAndGlyphs" stroke="#111" stroke-width="0.25">down: 4305</text>
<text x="838.5" y="624.1" font-size="43.5" font-weight="bold">D</text>
<rect x="1037.2" y="701.6" width="678.8" height="113.9" fill="#fff" stroke="#555" stroke-width="1.5"/>
<rect x="1058.0" y="711.5" width="212.3" height="94.5" fill="#ff6242"/>
<rect x="1270.3" y="711.5" width="212.3" height="94.5" fill="#ff0000"/>
<rect x="1482.6" y="711.5" width="212.3" height="94.5" fill="#9868fc"/>
<line x1="1270.3" y1="711.5" x2="1270.3" y2="806.0" stroke="#f4c0c0" stroke-width="1"/>
<line x1="1482.6" y1="711.5" x2="1482.6" y2="806.0" stroke="#f0d0f0" stroke-width="1"/>
<text x="1172.3" y="764.0" font-size="12.5" text-anchor="middle" fill="#1a0a0a" font-weight="bold">*</text>
<line x1="1164.2" y1="815.5" x2="1164.2" y2="821.0" stroke="#333" stroke-width="1.2"/>
<text x="1376.4" y="764.0" font-size="12.5" text-anchor="middle" fill="#1a0a0a" font-weight="bold">**</text>
<line x1="1376.4" y1="815.5" x2="1376.4" y2="821.0" stroke="#333" stroke-width="1.2"/>
<text x="1588.2" y="764.0" font-size="12.5" text-anchor="middle" fill="#1a0a0a" font-weight="bold">*</text>
<line x1="1588.8" y1="815.5" x2="1588.8" y2="821.0" stroke="#333" stroke-width="1.2"/>
<line x1="1031.0" y1="759.7" x2="1037.0" y2="759.7" stroke="#333" stroke-width="1.2"/>
<text x="1028.0" y="766.6" font-size="21" text-anchor="end" fill="#222" textLength="150.3" lengthAdjust="spacingAndGlyphs">gene-TOP2A|TOP2A</text>
<text x="1151.9" y="829.4" font-size="18.2" fill="#222" textLength="173.1" lengthAdjust="spacingAndGlyphs" transform="rotate(90 1151.9 829.4)">gene-GPX4|GPX4</text>
<text x="1364.1" y="829.4" font-size="18.2" fill="#222" textLength="238.0" lengthAdjust="spacingAndGlyphs" transform="rotate(90 1364.1 829.4)">gene-SLC7A11|SLC7A11</text>
<text x="1576.5" y="829.4" font-size="18.2" fill="#222" textLength="163.0" lengthAdjust="spacingAndGlyphs" transform="rotate(90 1576.5 829.4)">gene-TP53|TP53</text>
<text x="1746.7" y="737.0" font-size="26.5" fill="#222" textLength="33.7" lengthAdjust="spacingAndGlyphs">corr</text>
<defs><linearGradient id="corrg" x1="0" y1="0" x2="0" y2="1"><stop offset="0" stop-color="#ff1a0a"/><stop offset="0.25" stop-color="#fc7f5e"/><stop offset="0.5" stop-color="#ffffff"/><stop offset="0.75" stop-color="#ae8cfa"/><stop offset="1" stop-color="#1a00ff"/></linearGradient></defs>
<rect x="1746.4" y="753.0" width="31.8" height="209.0" fill="url(#corrg)"/>
<line x1="1746.4" y1="753.0" x2="1751.0" y2="753.0" stroke="#fff" stroke-width="1"/>
<line x1="1773.6" y1="753.0" x2="1778.2" y2="753.0" stroke="#fff" stroke-width="1"/>
<text x="1788.6" y="760.2" font-size="21.4" fill="#222" textLength="7.5" lengthAdjust="spacingAndGlyphs">1</text>
<line x1="1746.4" y1="805.2" x2="1751.0" y2="805.2" stroke="#fff" stroke-width="1"/>
<line x1="1773.6" y1="805.2" x2="1778.2" y2="805.2" stroke="#fff" stroke-width="1"/>
<text x="1788.6" y="812.5" font-size="21.4" fill="#222" textLength="21.2" lengthAdjust="spacingAndGlyphs">0.5</text>
<line x1="1746.4" y1="857.5" x2="1751.0" y2="857.5" stroke="#fff" stroke-width="1"/>
<line x1="1773.6" y1="857.5" x2="1778.2" y2="857.5" stroke="#fff" stroke-width="1"/>
<text x="1788.6" y="864.7" font-size="21.4" fill="#222" textLength="9.5" lengthAdjust="spacingAndGlyphs">0</text>
<line x1="1746.4" y1="909.8" x2="1751.0" y2="909.8" stroke="#fff" stroke-width="1"/>
<line x1="1773.6" y1="909.8" x2="1778.2" y2="909.8" stroke="#fff" stroke-width="1"/>
<text x="1788.6" y="917.0" font-size="21.4" fill="#222" textLength="27.0" lengthAdjust="spacingAndGlyphs">-0.5</text>
<line x1="1746.4" y1="962.0" x2="1751.0" y2="962.0" stroke="#fff" stroke-width="1"/>
<line x1="1773.6" y1="962.0" x2="1778.2" y2="962.0" stroke="#fff" stroke-width="1"/>
<text x="1788.6" y="969.2" font-size="21.4" fill="#222" textLength="12.5" lengthAdjust="spacingAndGlyphs">-1</text>
<text x="29.5" y="1247.1" font-size="43.5" font-weight="bold">E</text>
<defs><marker id="eb" markerWidth="8" markerHeight="8" refX="0" refY="0" markerUnits="userSpaceOnUse" overflow="visible"><circle r="3" fill="#0a0af5" fill-opacity="0.85"/></marker><marker id="er" markerWidth="8" markerHeight="8" refX="0" refY="0" markerUnits="userSpaceOnUse" overflow="visible"><circle r="3" fill="#f00a0a" fill-opacity="0.85"/></marker><marker id="eg" markerWidth="8" markerHeight="8" refX="0" refY="0" markerUnits="userSpaceOnUse" overflow="visible"><circle r="2.7" fill="#dcdcdc"/></marker></defs>
<path d="M322.0 1696.0 L334.0 1712.0 L352.0 1728.0 L372.0 1741.0 L395.0 1750.0 L415.0 1755.0 L436.4 1758.0 L458.0 1755.0 L478.0 1750.0 L496.0 1741.0 L511.0 1729.0 L523.0 1713.0 L531.0 1696.0 L482.0 1696.0 L482.0 1592.0 L470.0 1598.0 L455.0 1606.0 L442.0 1622.0 L436.4 1710.0 L430.0 1622.0 L418.0 1598.0 L405.0 1582.0 L391.0 1570.0 L391.0 1696.0Z" fill="#dedede"/>
<path d="M353 1732L505 1736L345 1734L469 1735L353 1715L485 1743L541 1709L429 1754L417 1743L358 1740L446 1752L432 1754L484 1732L451 1724L484 1725L425 1730L437 1744L451 1695L433 1743L346 1730L482 1752L462 1755L367 1735L381 1714L402 1742L437 1741L395 1735L428 1735L479 1751L383 1736L468 1725L411 1747L471 1750L451 1755L395 1735L409 1746L540 1710L509 1729L484 1749L489 1717L414 1744L571 1703L503 1730L558 1714L488 1749L376 1747L462 1736L485 1751L529 1720L491 1729L416 1723L374 1744L473 1726L368 1746L481 1750L374 1740L452 1710L479 1752L543 1725L564 1700L404 1742L534 1720L457 1723L388 1741L400 1744L413 1742L442 1753L444 1751L495 1740L420 1732L546 1697L424 1749L352 1736L451 1716L453 1743L533 1729L326 1721L513 1731L424 1717L428 1729L477 1713L374 1725L549 1700L331 1711L495 1730L389 1739L355 1727L522 1725L577 1701L427 1740L428 1734L315 1704L535 1715L528 1731L387 1751L411 1736L436 1756L404 1729L449 1747L520 1724L389 1728L460 1738L489 1711L486 1739L385 1743L489 1734L506 1713L396 1709L429 1747L384 1747L452 1739L380 1734L384 1718L511 1741L452 1756L450 1755L414 1733L392 1722L473 1754L422 1757L461 1745L450 1754L385 1736L368 1725L497 1703L418 1746L394 1752L514 1741L427 1747L428 1741L409 1735L350 1717L341 1712L461 1753L536 1718L488 1736L330 1697L373 1730L525 1713L508 1737L409 1746L414 1723L368 1722L470 1716L413 1724L409 1739L572 1696L386 1734L473 1724L400 1751L438 1757L413 1754L396 1737L540 1722L466 1726L425 1743L348 1716L410 1749L427 1755L519 1732L544 1712L373 1734L363 1737L499 1725L315 1708L420 1747L416 1736L418 1755L426 1736L421 1730L508 1724L406 1754L413 1738L419 1716L395 1752L513 1728L489 1735L445 1749L525 1728L420 1758L422 1754L483 1747L381 1734L512 1718L504 1730L493 1750L482 1733L422 1744L486 1741L429 1751L529 1719L372 1732L361 1734L397 1753L312 1701L402 1738L464 1750L444 1728L435 1750L472 1738L445 1749L351 1722L482 1752L374 1709L470 1754L321 1720L332 1728L446 1752L451 1755L358 1734L401 1751L455 1746L464 1753L323 1715L401 1736L364 1742L427 1757L396 1719L468 1737L432 1739L450 1748L424 1758L533 1711L398 1718L388 1738L371 1733L560 1712L429 1717L432 1726L464 1739L549 1699L397 1724L443 1739L432 1752L394 1736L500 1746L375 1728L455 1712L405 1741L389 1732L370 1743L535 1732L401 1724L451 1758L352 1718L434 1740L479 1750L414 1752L436 1717L359 1735L523 1733L534 1731L446 1752L342 1715L478 1736L475 1735L418 1754L504 1739L345 1731L399 1743L387 1732L414 1728L433 1756L437 1753L500 1721L324 1697L436 1753L366 1736L487 1750L423 1737L562 1710L409 1751L383 1736L443 1753L402 1754L341 1723L385 1748L374 1738L451 1735L434 1758L386 1721L531 1728L343 1725L479 1744L355 1718L384 1751L392 1753L558 1697L460 1756L427 1739L414 1751L411 1755L525 1722L344 1727L382 1735L452 1741L432 1722L467 1752L471 1731L442 1746L389 1746L461 1740L397 1733L433 1716L377 1741L551 1699L462 1754L364 1736L414 1743L441 1751L459 1730L487 1744L420 1729L429 1748L367 1721L414 1750L414 1733L499 1737L456 1743L408 1739L437 1741L393 1740L383 1739L466 1733L461 1734L482 1732L488 1722L477 1744L518 1737L351 1732L534 1727L445 1752L321 1712L461 1753L424 1718L520 1725L507 1720L406 1745L458 1725L321 1717L387 1742L537 1725L351 1738L417 1728L497 1739L483 1728L512 1715L509 1709L531 1727L330 1722L460 1738L403 1751L425 1700L407 1748L457 1738L389 1703L491 1745L511 1725L443 1747L507 1737L468 1754L456 1746L446 1728L396 1747L459 1743L490 1722L404 1734L468 1736L427 1719L490 1742L388 1751L458 1740L355 1736L404 1698L409 1745L514 1741L352 1714L415 1732L458 1748L413 1744L493 1733L428 1735L505 1719L564 1713L509 1715L484 1745L430 1750L360 1740L524 1730L473 1743L454 1739L462 1753L458 1746L356 1734L507 1714L414 1742L488 1744L330 1721L370 1724L490 1739L479 1740L349 1719L442 1756L388 1733L407 1697L450 1755L392 1742L399 1738L496 1744L496 1727L500 1747L482 1751L376 1725L407 1754L376 1745L410 1752L460 1744L340 1724L499 1735L358 1730L463 1752L466 1750L451 1741L402 1728L429 1755L310 1701L477 1752L443 1735L499 1714L423 1744L357 1724L444 1744L520 1725L478 1720L429 1747L353 1721L534 1712L387 1739L501 1728L521 1716L430 1751L309 1698L404 1744L462 1731L387 1731L495 1712L548 1700L413 1743L417 1707L321 1711L352 1713L525 1727L578 1701L526 1731L398 1748L428 1747L445 1713L423 1750L387 1737L338 1713L499 1747L425 1752L510 1732L489 1740L418 1743L430 1743L411 1754L422 1753L403 1731L413 1738L450 1738L363 1742L456 1738L322 1705L476 1716L376 1726L423 1721L498 1746L457 1752L291 1696L345 1735L378 1743L422 1744L489 1732L435 1731L470 1742L428 1752L501 1747L462 1715L342 1714L495 1744L376 1721L507 1728L496 1748L436 1759L494 1747L458 1730L359 1728L475 1750L426 1718L465 1749L360 1730L444 1747L409 1748L382 1739L444 1713L529 1721L568 1701L446 1756L378 1718L355 1738L400 1740L446 1756L494 1747L392 1748L482 1736L332 1709L509 1725L376 1747L494 1724L391 1749L541 1706L467 1751L432 1746L404 1756L560 1702L466 1756L385 1747L521 1723L571 1703L435 1728L464 1724L541 1716L436 1733L402 1738L514 1737L356 1703L432 1750L360 1731L424 1757L396 1743L405 1725L480 1746L318 1718L516 1737L525 1732L437 1734L374 1713L375 1744L472 1733L445 1740L466 1754L502 1725L400 1752L388 1742L483 1737L452 1741L379 1747L527 1705L503 1739L483 1737L525 1720L331 1709L463 1748L472 1750L433 1726L444 1748L433 1728L468 1742L449 1750L412 1745L472 1749L449 1696L485 1750L325 1722L488 1738L420 1715L474 1744L483 1727L425 1740L454 1754L417 1742L524 1720L367 1729L386 1723L519 1715L518 1737L498 1738L516 1735L476 1750L511 1736L506 1716L432 1751L401 1750L454 1752L376 1748L450 1752L485 1718L533 1729L383 1744L467 1740L411 1754L327 1722L429 1751L497 1714L507 1730L541 1722L434 1748L468 1746L446 1755L427 1751L503 1737L426 1755L385 1747L336 1723L473 1749L543 1711L474 1746L400 1751L497 1747L456 1731L451 1726L386 1736L428 1738L302 1701L539 1705L400 1750L414 1740L466 1739L461 1747L507 1743L476 1737L481 1739L524 1737L467 1746L497 1734L510 1736L353 1738L422 1744L478 1736L463 1736L463 1738L397 1748L483 1735L446 1739L381 1748L538 1722L507 1709L323 1707L505 1715L395 1735L368 1729L474 1749L564 1700L390 1749L426 1744L498 1742L497 1738L431 1754L483 1747L391 1729L437 1748L468 1728L440 1733L408 1723L388 1736L424 1736L554 1708L537 1721L338 1697L408 1742L517 1716L442 1748L477 1754L352 1738L488 1746L475 1745L433 1752L446 1735L501 1731L485 1749L359 1722L554 1716L420 1758L518 1735L371 1744L385 1748L377 1733L536 1711L329 1708L407 1749L344 1718L329 1713L484 1746L393 1753L447 1719L353 1729L430 1751L370 1734L386 1699L353 1710L469 1752L450 1752L545 1716L435 1757L450 1737L416 1746L478 1743L312 1711L503 1722L358 1723L428 1751L356 1737L400 1751L465 1743L415 1748L439 1757L448 1749L421 1748L398 1752L514 1732L476 1748L444 1746L400 1744L457 1692L461 1746L443 1752L372 1725L467 1742L357 1733L482 1751L394 1743L443 1753L455 1738L525 1728L513 1729L439 1756L434 1724L415 1750L329 1698L509 1729L333 1720L434 1740L415 1754L386 1749L428 1747L414 1743L479 1735L332 1710L510 1734L480 1740L403 1741L471 1755L389 1752L350 1733L398 1746L460 1745L495 1727L441 1745L471 1709L397 1744L511 1740L505 1742L395 1750L538 1714L417 1751L495 1738L434 1747L386 1744L399 1725L341 1716L361 1718L434 1731L522 1730L366 1735L375 1738L469 1736L384 1746L435 1744L383 1729L385 1742L420 1699L479 1753L377 1744L324 1701L386 1751L490 1728L555 1705L461 1735L461 1757L510 1721L436 1724L355 1734L466 1747L418 1731L514 1731L455 1736L443 1724L509 1718L448 1748L415 1751L498 1744L522 1711L469 1748L334 1706L327 1697L525 1730L529 1712L359 1733L533 1730L441 1750L487 1741L396 1731L373 1743L469 1749L364 1738L461 1733L402 1748L472 1726L433 1758L372 1740L502 1731L513 1711L494 1732L477 1708L430 1742L524 1735L526 1728L572 1698L567 1701L369 1729L409 1756L344 1728L444 1745L464 1712L498 1740L538 1723L391 1745L456 1746L405 1741L466 1740L316 1698L390 1720L522 1723L471 1734L514 1733L381 1713L336 1704L451 1741L449 1742L449 1746L402 1736L433 1746L349 1717L506 1737L355 1724L478 1697L453 1740L479 1739L435 1751L486 1728L356 1718L434 1724L422 1725L493 1735L572 1704L499 1745L354 1735L529 1713L410 1735L499 1730L457 1752L379 1749L445 1745L417 1755L452 1738L365 1737L455 1751L460 1749L519 1736L358 1727L428 1757L508 1715L426 1728L483 1733L469 1754L380 1703L354 1710L505 1740L483 1746L399 1735L355 1707L520 1731L288 1697L391 1743L433 1744L387 1737L373 1745L368 1737L560 1704L514 1733L370 1741L442 1750L395 1742L387 1751L436 1737L506 1744L444 1758L375 1729L397 1743L366 1729L404 1735L322 1719L465 1754L436 1744L457 1738L481 1738L413 1729L537 1722L383 1736L552 1715L341 1703L477 1729L465 1715L386 1749L425 1729L390 1751L433 1757L365 1721L460 1754L451 1738L437 1740L367 1739L481 1742L434 1752L533 1708L393 1733L462 1751L374 1704L454 1739L309 1705L536 1704L419 1757L376 1741L364 1705L332 1727L346 1714L525 1717L482 1731L455 1741L469 1741L367 1733L368 1730L472 1740L369 1735L497 1747L420 1745L429 1728L389 1746L554 1706L358 1721L350 1727L368 1728L396 1740L441 1759L405 1743L460 1735L400 1750L470 1725L401 1753L407 1754L389 1745L517 1733L414 1755L346 1701L344 1728L376 1719L403 1746L567 1709L383 1751L450 1744L424 1755L487 1737L494 1747L492 1746L517 1733L408 1733L332 1710L382 1748L352 1716L307 1709L384 1709L490 1729L528 1733L511 1722L517 1719L408 1741L411 1752L422 1752L462 1752L405 1752L495 1748L453 1753L424 1752L524 1733L540 1726L510 1717L409 1756L393 1752L373 1745L391 1753L417 1739L409 1756L349 1736L523 1734L475 1743L382 1725L366 1703L388 1724L446 1734L380 1730L375 1741L425 1710L415 1749L443 1726L310 1709L439 1745L345 1710L425 1757L312 1708L437 1745L471 1739L421 1689L461 1685L415 1622L421 1655L452 1649L471 1679L407 1661L462 1650L421 1688L414 1594L414 1663L412 1663L418 1644L452 1603L463 1666L460 1688L413 1680L481 1607L425 1611L481 1545L426 1625L462 1599L422 1679L417 1631L445 1691L465 1610L392 1610L397 1695L474 1661L471 1653L478 1624L476 1663L404 1654L408 1520L403 1624L457 1567L477 1617L402 1673L416 1671L408 1684L422 1643L407 1675L402 1598L443 1683L460 1525L398 1662L411 1640L460 1667L475 1646L421 1694L443 1667L480 1549L446 1657L408 1627L477 1677L460 1693L427 1661L407 1681L458 1692L411 1681L464 1588L407 1694L392 1687L415 1676L447 1648L448 1644L420 1611L444 1600L429 1632L421 1677L474 1675L469 1514L471 1646L481 1607L417 1643L412 1595L444 1617L417 1557L400 1666L442 1647L475 1615L391 1687L415 1608L399 1643L449 1645L431 1686L398 1677L466 1642L464 1690L430 1570L477 1599L417 1690L468 1625L409 1694L410 1629L480 1561L475 1637L456 1584L465 1680L465 1651L418 1689L393 1502L422 1672L474 1587L476 1676L452 1677L401 1534L419 1680L408 1652L481 1558L448 1625L396 1600L470 1679L471 1558L443 1618L426 1665L423 1658L463 1689L412 1624L454 1601L420 1689L450 1655L453 1640L475 1669L474 1644L447 1549L479 1683L416 1634L394 1626L459 1629L414 1666L413 1606L421 1676L423 1686L477 1639L428 1648L412 1517L402 1662L430 1657L449 1597L476 1643L482 1657L408 1692L404 1669L416 1674L420 1592L461 1628L430 1623L400 1498L472 1664L396 1635L454 1672L431 1653L443 1651L459 1612L453 1641L447 1603L402 1659L396 1680L397 1693L426 1667L478 1687L469 1592L420 1688L481 1641L411 1653L470 1615L427 1692L472 1688L455 1576L424 1632L420 1667L448 1651L461 1663L471 1621L473 1673L480 1676L452 1631L458 1663L477 1565L451 1662L450 1636L411 1684L480 1588L422 1692L429 1685L461 1689L411 1596L427 1655L474 1693L396 1561L467 1624L426 1615L460 1635L459 1648L455 1671L442 1533L403 1632L462 1642L478 1574L416 1618L406 1657L448 1624L417 1633L464 1659L446 1679L481 1499L423 1629L460 1642L454 1670L454 1664L416 1636L423 1682L425 1692L451 1662L470 1640L476 1695L401 1645L399 1658L415 1586L454 1574L469 1670L410 1662L422 1600L471 1677L419 1622L431 1667L446 1623L481 1685L447 1652L404 1626L431 1683L430 1635L453 1567L406 1622L410 1605L471 1655L424 1663L412 1691L454 1675L396 1638L444 1633L399 1622L481 1673L446 1681L400 1673L393 1677L416 1655L452 1676L417 1639L442 1662L413 1643L417 1694L419 1683L445 1692L468 1658L419 1611L448 1628L451 1668L428 1630L426 1627L463 1693L472 1692L418 1681L394 1661L417 1605L408 1599L453 1603L454 1693L427 1629L471 1518L467 1686L398 1691L419 1519L469 1458L398 1669L481 1646L426 1692L449 1633L477 1626L431 1689L444 1617L407 1537L452 1664L411 1609L421 1669L444 1688L411 1685L451 1690L460 1668L421 1616L400 1668L449 1686L457 1570L460 1678L464 1688L404 1689L406 1677L478 1667L466 1642L408 1627L476 1609L395 1618L466 1666L414 1685L479 1642L413 1666L452 1552L397 1671L417 1649L468 1629L452 1523L448 1622L396 1606L426 1676L393 1690L481 1642L404 1645L445 1663L461 1672L442 1692L457 1651L398 1681L408 1680L468 1602L460 1615L457 1574L404 1649L406 1677L471 1691L426 1679L468 1683L446 1681L401 1684L417 1683L409 1662L449 1676L425 1663L404 1611L426 1665L394 1653L421 1667L392 1607L427 1643L477 1640L455 1646L425 1659L394 1516L417 1665L462 1578L455 1657L427 1677L469 1691L480 1653L458 1651L446 1653L478 1606L472 1632L482 1627L478 1590L404 1613L403 1637L462 1601L416 1659L420 1662L469 1664L481 1689L454 1632L408 1666L442 1664L422 1692L391 1695L421 1664L449 1505L397 1682L457 1646L469 1620L420 1668L427 1657L453 1595L405 1654L409 1507L447 1686L429 1682L407 1683L452 1611L479 1659L394 1681L466 1657L469 1606L425 1628L393 1615L412 1653L397 1686L402 1578L422 1623L402 1634L471 1582L444 1638L480 1597L417 1680L392 1573L415 1629L396 1636L403 1602L481 1613L463 1675L464 1616L427 1634L427 1662L423 1676L427 1695L398 1674L404 1655L429 1616L418 1627L424 1662L392 1656L472 1653L403 1691L472 1695L452 1671L410 1602L395 1657L476 1671L462 1660L401 1582L473 1668L463 1689L446 1677L418 1656L449 1674L397 1516L447 1626L420 1672L463 1538L394 1648L478 1694L470 1694L420 1612L406 1690L421 1587L429 1664L402 1574L399 1622L450 1592L424 1669L480 1656L446 1630L445 1628L447 1685L471 1588L479 1592L425 1646L428 1638L423 1627L423 1630L453 1599L468 1612L414 1629L420 1600L475 1608L418 1671L404 1668L449 1675L414 1677L460 1673L423 1567L409 1675L416 1626L457 1599L464 1675L421 1683L398 1656L463 1685L445 1689L420 1628L423 1681L480 1572L470 1558L443 1621L399 1590L442 1675L428 1680L405 1594L473 1690L478 1689L462 1591L452 1652L428 1635L456 1662L463 1607L466 1660L395 1669L405 1631L431 1683L442 1677L421 1585L468 1694L399 1691L471 1638L461 1671L445 1665L409 1629L414 1680L403 1662L409 1600L391 1671L481 1652L405 1631L466 1648L460 1689L465 1648L402 1674L406 1676L474 1521L402 1660L450 1658L456 1683L425 1630L453 1681L443 1646L404 1621L424 1678L394 1616L477 1653L467 1630L424 1685L419 1638L467 1617L426 1682L392 1658L461 1681L463 1579L398 1668L461 1637L458 1670L423 1630L463 1685L475 1546L446 1559L406 1650L481 1647L402 1559L418 1576L453 1651L409 1577L395 1594L417 1676L477 1611L445 1685L413 1670L458 1668L396 1645L395 1605L427 1656L442 1692L452 1683L421 1633L415 1691L395 1675L401 1631L393 1678L471 1693L424 1623L393 1659L400 1672L422 1616L459 1570L467 1692L472 1677L444 1609L466 1680L459 1677L447 1587L395 1588L425 1660L442 1684L404 1693L458 1615L419 1689L411 1689L458 1608L416 1613L398 1661L396 1564L476 1674L422 1692L400 1554L402 1573L416 1680L421 1668L428 1633L445 1684L477 1529L466 1626L412 1692L449 1625L446 1586L419 1530L392 1645L457 1670L468 1641L413 1682L463 1649L400 1657L479 1561L459 1675L461 1638L451 1692L420 1672L479 1658" fill="none" stroke="none" marker-start="url(#eg)" marker-mid="url(#eg)" marker-end="url(#eg)"/>
<path d="M309.0 1697.0 L305.0 1650.0 L305.0 1595.0 L310.0 1567.0 L321.0 1548.0 L340.0 1537.0 L362.0 1534.0 L380.0 1537.0 L391.0 1545.0 L391.0 1697.0Z" fill="#0505f7"/>
<path d="M347 1577L331 1641L346 1648L388 1584L277 1617L375 1634L334 1651L351 1551L344 1625L323 1596L345 1577L301 1571L381 1687L320 1675L335 1605L336 1651L336 1626L340 1624L383 1638L376 1634L366 1674L369 1625L284 1442L322 1592L337 1661L331 1559L371 1558L292 1567L296 1455L354 1543L342 1617L321 1479L332 1546L318 1638L331 1635L327 1580L357 1616L363 1548L317 1633L372 1638L383 1582L340 1577L328 1533L322 1529L340 1490L376 1577L354 1614L357 1641L335 1623L339 1649L272 1657L335 1663L316 1517L314 1666L317 1639L327 1477L311 1525L328 1593L332 1643L347 1609L366 1646L344 1577L346 1615L309 1626L290 1494L319 1500L328 1636L383 1610L349 1646L335 1681L338 1685L386 1467L332 1635L296 1509L365 1604L334 1605L329 1590L303 1587L334 1657L331 1635L289 1581L337 1491L343 1555L342 1635L306 1660L334 1679L353 1548L334 1536L382 1568L333 1617L273 1492L366 1524L361 1647L358 1628L314 1682L375 1559L352 1599L305 1689L359 1581L364 1561L274 1617L349 1678L336 1608L367 1634L285 1566L336 1527L384 1586L377 1655L366 1552L373 1596L370 1592L332 1620L327 1606L331 1622L351 1608L327 1611L355 1579L361 1614L288 1569L380 1664L341 1606L312 1657L361 1651L343 1616L354 1660L382 1620L343 1526L334 1529L329 1507L338 1479L298 1476L321 1658L326 1680L348 1615L324 1665L385 1553L374 1532L337 1559L328 1564L321 1653L338 1682L371 1617L287 1571L306 1655L311 1688L320 1647L365 1573L331 1535L308 1639L365 1511L361 1602L338 1580L346 1601L323 1636L317 1689L322 1670L296 1604L352 1511L313 1692L345 1690L319 1572L372 1459L377 1639L385 1632L332 1608L383 1618L381 1569L376 1645L360 1552L330 1594L356 1659L337 1673L238 1656L370 1673L319 1692L357 1569L284 1575L371 1568L303 1612L307 1463L322 1664L282 1673L384 1598L316 1624L354 1584L312 1599L322 1664L316 1687L348 1425L315 1649L340 1511L298 1585L339 1481L336 1479L313 1601L308 1672L304 1658L352 1627L352 1684L360 1621L282 1625L360 1624L352 1627L327 1550L385 1650L381 1689L343 1557L327 1625L373 1668L353 1547L350 1685L330 1646L343 1581L295 1633L348 1516L298 1693L369 1631L376 1631L322 1632L380 1575L348 1617L375 1582L350 1574L370 1539L385 1633L306 1598L347 1684L344 1663L367 1565L357 1541L326 1454L290 1573L373 1657L329 1606L331 1689L313 1640L300 1548L377 1626L324 1632L339 1686L323 1597L315 1675L370 1576L341 1566L375 1657L340 1673L331 1656L344 1591L370 1645L337 1649L343 1657L347 1500L344 1683L286 1636L312 1684L346 1603L356 1545L313 1676L322 1690L342 1595L329 1677L312 1690L316 1678L343 1566L330 1570L311 1604L310 1603L326 1682L307 1661L339 1621L335 1546L358 1641L348 1688L365 1603L384 1671L358 1550L367 1588L285 1626L330 1522L357 1585L380 1594L300 1690L278 1544L355 1663L331 1538L338 1650L374 1658L356 1508L319 1647L308 1614L317 1550L356 1583L347 1617L292 1649L287 1537L327 1474L307 1511L344 1445L334 1672L340 1672L319 1581L327 1568L358 1565L387 1556L312 1536L266 1541L370 1662L332 1645L324 1579L339 1636L342 1659L310 1589L369 1541L346 1526L276 1533L318 1610L313 1455L328 1584L297 1653L353 1640L318 1524L294 1626L335 1658L360 1615L335 1585L338 1593L379 1614L343 1673L383 1562L356 1610L316 1625L312 1640L297 1540L367 1580L324 1640L293 1663L313 1680L362 1535L298 1590L366 1613L381 1547L317 1621L334 1557L353 1629L377 1663L336 1661L303 1589L304 1570L317 1539L351 1546L308 1589L363 1610L338 1673L243 1594L318 1581L342 1646L318 1618L295 1671L337 1657L315 1687L310 1634L350 1585L383 1605L374 1463L357 1548L324 1618L340 1582L346 1610L341 1445L311 1591L382 1677L292 1603L340 1693L387 1578L379 1547L367 1510L368 1597L340 1665L373 1611L343 1599L335 1678L342 1640L354 1571L350 1635L368 1526L343 1688L330 1642L257 1633L309 1610L333 1472L362 1677L383 1611L295 1672L343 1674L347 1571L309 1537L316 1650L344 1655L335 1548L325 1496L343 1617L332 1622L383 1611L311 1686L377 1588L316 1638L345 1586L312 1622L302 1686L335 1529L339 1506L353 1533L275 1661L326 1584L330 1657L348 1599L324 1689L314 1643L337 1607L390 1532L340 1620L372 1638L354 1635L298 1611L317 1534L353 1615L388 1561L328 1635L324 1648L350 1605L318 1604L351 1636L343 1667L349 1531L315 1667L332 1596L370 1593L299 1491L327 1663L337 1626L330 1632L365 1561L321 1641L319 1661L339 1653L354 1574L332 1653L360 1657L331 1614L266 1577L349 1586L299 1660L355 1588L324 1663L388 1609L355 1670L326 1535L320 1647L343 1598L380 1594L358 1640L384 1651L372 1627L325 1580L363 1606L375 1620L319 1623L286 1629L310 1530L357 1560L379 1551L341 1542L304 1691L305 1658L366 1652L355 1547L323 1520L340 1633L353 1529L305 1561L327 1622L377 1573L305 1632L290 1575L353 1630L347 1576L347 1544L354 1644L367 1642L334 1568L355 1634L389 1662L339 1595L353 1578L317 1657L349 1604L368 1566L371 1638L287 1659L322 1557L352 1639L380 1577L358 1642L355 1552L336 1650L354 1535L339 1661L364 1594L318 1595L347 1604L371 1555L302 1521L307 1689L363 1568L376 1580L349 1515L339 1622L354 1654L337 1539L338 1666L330 1656L328 1635L335 1549L298 1659L367 1659L329 1588L346 1582L290 1561L289 1577L302 1612L341 1553L340 1660L319 1613L335 1564L355 1537L364 1615L340 1582L354 1655L352 1569L283 1637L349 1627L325 1562L370 1626L385 1520L348 1566L369 1500L367 1577L346 1574L327 1670L378 1601L280 1617L346 1414L335 1643L362 1447L338 1643L366 1653L304 1622L294 1539L355 1568L337 1608L340 1626L331 1626L337 1501L338 1597L305 1586L363 1577L294 1672L262 1503L340 1505L323 1642L385 1517L370 1647L314 1659L320 1503L378 1589L336 1679L325 1560L347 1660L267 1587L352 1557L332 1545L341 1662L312 1582L326 1589L375 1584L303 1474L320 1688L347 1609L305 1626L285 1543L363 1611L349 1692L325 1560L327 1508L374 1575L331 1653L325 1542L315 1683L379 1608L358 1674L353 1529L343 1595L380 1582L356 1677L281 1492L383 1667L322 1679L365 1593L347 1524L343 1631L345 1596L295 1509L287 1602L353 1565L349 1688L337 1644L285 1463L324 1587L383 1630L320 1681L338 1568L348 1515L355 1610L248 1639L341 1680L336 1630L334 1632L353 1604L322 1559L344 1600L355 1591L346 1638L368 1542L357 1683L335 1637L283 1580L389 1680L349 1515L344 1635L372 1660L344 1639L330 1572L351 1522L354 1649L334 1556L292 1652L350 1667L389 1607L350 1673L351 1592L378 1492L354 1491L356 1642L370 1670L322 1601L357 1683L349 1640L346 1639L324 1539L332 1615L344 1648L353 1583L344 1644L371 1619L296 1535L356 1672L373 1593L311 1591L297 1668L311 1577L347 1591L331 1447L293 1529L388 1655L307 1539L266 1631L298 1630L359 1542L300 1580L345 1679L325 1587L376 1650L266 1569L326 1630L333 1607L314 1581L257 1603L323 1638L362 1528L310 1637L310 1626L376 1603L342 1531L291 1600L315 1689L379 1550L351 1560L321 1659L348 1632L315 1615L302 1678L314 1603L333 1462L343 1600L276 1668L313 1686L337 1586L287 1580L315 1671L370 1484L329 1692L369 1683L305 1552L335 1658L317 1633L330 1665L335 1575L334 1535L316 1579L329 1671L350 1648L361 1656L371 1554L331 1591L312 1687L306 1650L332 1657L371 1589L332 1679L366 1645L307 1625L359 1637L341 1523L323 1577L388 1507L304 1594L344 1454L379 1558L376 1592L307 1466L287 1576L364 1619L371 1635L365 1615L317 1560L322 1586L307 1616L357 1547L306 1674L359 1455L361 1586L314 1591L357 1485L329 1540L329 1654L327 1613L293 1661L367 1575L327 1692L375 1659L349 1650L305 1555L300 1568L327 1633L359 1663L343 1650L315 1629L311 1632L310 1654L338 1580L344 1563L309 1589L340 1567L338 1630L336 1645L308 1684L272 1476L339 1616L360 1595L303 1506L353 1583L307 1669L348 1691L377 1690L351 1536L347 1634L329 1573L340 1501L332 1661L347 1623L307 1657L308 1576L377 1682L316 1633L315 1432L334 1651L309 1639L321 1665L371 1678L353 1680L371 1690L310 1652L379 1663L313 1644L318 1614L319 1609L368 1596L386 1610L332 1575L317 1648L337 1692L350 1640L333 1683L323 1684L317 1632L298 1656L355 1676L306 1670L366 1690L315 1588L381 1648L289 1654L312 1684L328 1678L339 1622L342 1665L311 1477L347 1670L354 1512L337 1644L322 1638L372 1623L338 1521L359 1592L340 1667L291 1508L327 1606L325 1685L359 1545L327 1616L366 1665L333 1646L335 1665L320 1620L376 1512L317 1649L347 1690L332 1608L362 1617L374 1621L295 1523L327 1586L319 1674L358 1625L365 1632L317 1635L284 1542L341 1551L370 1674L313 1533L324 1689L355 1630L342 1652L299 1562L369 1567L342 1674L285 1595L324 1572L337 1587L285 1554L357 1652L378 1516L379 1618L285 1533L326 1667L374 1596L309 1656L332 1642L305 1521L337 1582L373 1470L363 1685L327 1566L335 1663L359 1645L386 1604L340 1473L361 1529L333 1620L336 1566L359 1647L349 1559L333 1583L342 1637L326 1638L332 1572L271 1588L365 1633L358 1531L292 1635L304 1472L275 1671L267 1594L271 1565L326 1547L305 1664L362 1523L311 1641L330 1643L330 1569L367 1592L320 1572L357 1613L379 1658L345 1548L318 1564L364 1519L381 1672L305 1650L372 1591L377 1603L353 1573L347 1527L331 1630L354 1622L355 1596L337 1588L359 1686L288 1612L357 1549L376 1607L378 1671L328 1529L305 1630L349 1583L358 1585L359 1652L353 1681L298 1672L337 1679L333 1669L343 1500L360 1566L372 1564L355 1566L375 1640L334 1629L340 1594L329 1659L349 1592L335 1567L335 1536L327 1646L366 1543L333 1521L348 1599L336 1633L315 1546L353 1491L379 1626L324 1651L380 1637L377 1538L388 1609L353 1625L333 1459L347 1662L345 1637L332 1584L351 1544L353 1520L301 1495L308 1662L323 1615L252 1579L292 1602L357 1569L325 1671L335 1502L364 1693L300 1673L342 1606L357 1546L340 1584L325 1608L340 1543L336 1662L358 1554L323 1635L332 1652L317 1637L339 1600L338 1576L381 1634L334 1682L388 1671L327 1631L335 1623L355 1503L358 1597L298 1465L358 1563L332 1634L331 1640L330 1570L375 1631L333 1566L336 1587L323 1524L328 1586L334 1573L331 1638L367 1622L381 1436L346 1583L340 1644L363 1623L376 1556L338 1645L364 1666L303 1535L300 1657L382 1592L376 1517L338 1620L353 1629L382 1602L375 1633L343 1615L357 1569L327 1581L362 1636L336 1671L306 1609L320 1509L352 1497L356 1612L345 1519L355 1591L385 1585L312 1539L364 1538L337 1550L361 1507L360 1615L337 1659L351 1514L312 1627L359 1670L367 1666L293 1551L342 1677L310 1573L318 1583L361 1535L315 1514L375 1502L354 1692L359 1599L364 1429L344 1645L381 1624L304 1603L308 1608L355 1584L351 1573L319 1645L340 1593L310 1598L366 1613L308 1622L338 1656L335 1572L310 1620L354 1605L351 1620L325 1657L314 1685L330 1497L339 1566L364 1614L373 1669L339 1560L315 1633L335 1631L330 1605L304 1617L368 1679L325 1490L364 1580L365 1499L289 1582L268 1598L368 1661L310 1648L318 1587L323 1529L296 1644L377 1626L350 1678L348 1584L349 1539L364 1672L349 1624L378 1630L340 1617L305 1564L358 1548L321 1642L355 1585L330 1550L365 1650L349 1508L363 1650L332 1556L354 1617L320 1647L347 1495L302 1618L380 1550L357 1623L341 1590L355 1585L303 1630L372 1591L352 1549L362 1636L324 1541L327 1683L313 1575L351 1639L372 1690L368 1666L338 1642L349 1523L324 1550L381 1639L340 1411L337 1618L313 1594L350 1553L316 1637L302 1659L299 1542L275 1582L367 1530L366 1613L387 1628L347 1671L299 1610L378 1589L353 1645L309 1616L319 1670L308 1593L342 1627L351 1608L329 1631L291 1608L283 1574L319 1563L340 1590L328 1647L357 1580L346 1575L382 1648L329 1677L328 1673L316 1619L332 1589L337 1667L315 1679L338 1653L377 1693L354 1572L368 1509L380 1661L309 1640L324 1415L356 1596L346 1643L354 1542L344 1556L387 1612L364 1601L380 1561L350 1536L381 1609L305 1493L351 1570L349 1649L306 1624L337 1585L334 1629L367 1626L324 1589L310 1692L298 1672L330 1640L267 1631L311 1587L296 1578L369 1679L321 1646L337 1573L349 1631L346 1580L336 1596L335 1640L357 1566L376 1502L351 1674L357 1604L348 1672L310 1522L301 1569L385 1632L329 1584L358 1534L338 1681L308 1669L337 1622L297 1655L331 1665L362 1689L350 1616L386 1595L299 1624L323 1540L359 1601L339 1683L375 1558L360 1627L309 1675L346 1645L333 1650L342 1661L289 1619L347 1691L300 1626L313 1604L346 1663L305 1631L343 1619L320 1543L319 1581L365 1671L308 1626L379 1637L369 1573L333 1651L300 1683L319 1553L328 1603L339 1452L315 1646L368 1594L357 1681L347 1637L361 1563L379 1417L375 1605L338 1616L370 1402L369 1642L383 1608L349 1571L337 1679L340 1623L330 1572L352 1607L331 1612L364 1652L334 1609L349 1674L368 1596L302 1609L342 1685L351 1666L316 1623L320 1653L319 1645L357 1626L296 1638L341 1581L299 1561L323 1665L383 1663L299 1685L291 1655L334 1500L326 1547L361 1570L347 1641L356 1543L327 1655L318 1646L378 1626L376 1642L379 1607L386 1637L322 1474L304 1611L316 1497L324 1561L321 1670L334 1645L352 1655L357 1540L389 1583L347 1679L329 1618L381 1591L356 1661L362 1662L354 1626L342 1678L363 1691L334 1594L368 1628L307 1608L331 1644L298 1575L374 1691L340 1682L350 1542L347 1524L334 1561L322 1389L316 1574L343 1575L369 1611L370 1649L317 1522L348 1505L329 1646L289 1618L354 1563L339 1551L308 1642L367 1595L369 1660L273 1644L346 1631L331 1563L378 1503L304 1668L303 1639L315 1607L385 1650L328 1628L336 1646L321 1620L325 1596L347 1550L359 1590L339 1663L360 1692L354 1504L321 1579L361 1629L375 1663L304 1590L357 1606L316 1494L333 1551L325 1421L348 1572L302 1638L308 1650L346 1685L299 1585L360 1665L320 1563L337 1540L363 1649L313 1624L370 1566L359 1690L340 1489L363 1549L331 1532L318 1534L344 1667L336 1519L331 1620L350 1619L315 1645L368 1602L357 1442L287 1584L302 1579L352 1636L304 1670L383 1650L340 1589L324 1644L296 1477L350 1583L365 1665L352 1562L307 1616L302 1691L368 1542L339 1573L329 1653L348 1568L325 1641L335 1608L376 1631L354 1677L339 1588L306 1556L316 1650L359 1586L344 1675L343 1624L346 1649L307 1578L346 1647L330 1489L347 1590L362 1633L345 1621L362 1584L355 1561L324 1642L360 1612L339 1610L309 1615L286 1676L283 1540L366 1645L310 1411L296 1630L367 1587L330 1671L372 1643L293 1682L323 1522L330 1567L313 1670L302 1613L343 1671L345 1592L321 1635L361 1651L292 1588L339 1599L347 1513L298 1483L356 1577L314 1627L338 1596L290 1634L281 1472L321 1678L325 1584L370 1582L288 1658L348 1620L366 1668L338 1583L347 1691L340 1629L313 1669L347 1582L332 1569L327 1571L283 1503L371 1622L301 1660L317 1526L326 1611L359 1656L367 1520L356 1650L257 1654L279 1653L305 1567L293 1619L343 1681L341 1676L337 1633L385 1649L343 1528L327 1541L387 1641L306 1650L346 1613L351 1672L327 1664L318 1511L346 1634L336 1669L312 1530L347 1586L323 1623L340 1586L345 1596L318 1594L354 1593L332 1613L339 1608L341 1667L325 1621L338 1659L348 1587L351 1650L317 1595L338 1552L349 1464L372 1607L304 1585L378 1562L358 1584L337 1602L353 1629L379 1672L310 1653L315 1650L360 1541L377 1685L353 1538L374 1503L313 1489L330 1617L387 1530L347 1582L319 1639L325 1558L379 1672L289 1571L361 1463L348 1682L322 1639L346 1525L344 1622L348 1639L336 1594L362 1560L303 1619L344 1603L362 1555L381 1508L340 1618L382 1686L337 1551L353 1528L315 1576L329 1595L332 1597L286 1671L307 1664L349 1566L326 1585L339 1582L373 1571L290 1576L354 1648L356 1609L361 1623L343 1624L324 1542L321 1569L371 1598L324 1673L364 1620L281 1688L306 1682L303 1546L376 1645L340 1467L370 1594L377 1674L325 1597L306 1540L370 1651L332 1528L385 1679L385 1614L343 1516L352 1562L373 1512L294 1666L323 1616L302 1626L348 1577L385 1593L351 1683L353 1555L331 1506L342 1571L291 1546L338 1665L348 1610L354 1577L347 1648L326 1683L301 1666L387 1647L326 1626L309 1623L343 1579L344 1678L327 1617L355 1568L330 1447L371 1574L330 1565L377 1569L383 1581L317 1641L367 1661L364 1572L382 1685L381 1550L293 1569L293 1685L352 1664L357 1537L327 1578L375 1629L373 1630L348 1559L336 1639L360 1549L310 1543L349 1610L348 1590L298 1591L306 1609L344 1555L319 1569L357 1594L340 1624L332 1564L351 1638L315 1600L324 1658L317 1632L377 1564L366 1551L367 1579L323 1576L311 1580L371 1570L384 1577L376 1610L389 1673L309 1606L342 1659L320 1562L357 1556L332 1596L314 1671L368 1564L348 1534L321 1521L340 1632L315 1521L314 1520L329 1625L335 1573L302 1584L338 1619L279 1651L275 1627L324 1592L359 1563L336 1596L312 1459L345 1542L320 1539L333 1527L344 1689L349 1534L287 1624L328 1646L330 1604L335 1648L337 1621L357 1516L358 1616L361 1652L313 1596L372 1521L290 1645L319 1622L341 1592L278 1495L323 1577L346 1570L342 1540L311 1589L356 1689L313 1685L381 1662L368 1659L349 1581L348 1663L327 1489L386 1585L324 1596L345 1591L330 1639L368 1651L337 1606L302 1622L375 1546L285 1641L315 1603L321 1687L319 1614L350 1601L366 1636L345 1599L387 1544L325 1570L358 1520L369 1457L313 1586L319 1630L374 1675L282 1671L361 1586L350 1542L337 1470L349 1558L319 1592L282 1529L361 1653L282 1677L350 1480L323 1498L288 1504L363 1680L384 1621L318 1655L369 1668L320 1639L386 1489L339 1589L295 1669L355 1661L369 1574L373 1520L326 1570L363 1599L326 1585L348 1570L339 1667L297 1633L343 1685L353 1619L348 1645L310 1691L309 1604L342 1664L337 1543L305 1577L278 1507L357 1465L362 1592L281 1555L366 1563L349 1683L324 1545L352 1582L275 1523L319 1503L328 1517L304 1673L371 1502L345 1592L322 1618L383 1682L362 1685L305 1619L347 1621L318 1668L344 1531L330 1679L330 1623L351 1514L348 1679L382 1625L354 1639L340 1641L334 1616L344 1668L372 1636L337 1624L354 1546L297 1588L352 1673L311 1565L364 1618L303 1512L323 1669L318 1655L388 1653L364 1680L379 1533L367 1497L302 1676L366 1618L350 1611L331 1635L324 1628L363 1505L385 1638L327 1660L284 1558L369 1597L343 1576L371 1531L294 1445L321 1524L307 1533L342 1507L339 1617L326 1638L346 1680L378 1601L304 1684L339 1653L342 1637L336 1580L360 1669L325 1598L340 1667L291 1602L327 1588L322 1633L343 1605L338 1621L310 1679L317 1667L300 1655L357 1680L362 1565L367 1610L281 1639L362 1674L362 1525L342 1633L348 1487L337 1484L358 1602L320 1646L285 1500L357 1653L368 1516L338 1633L361 1641L348 1660L303 1560L353 1567L339 1629L329 1481L377 1643L327 1633L272 1669L325 1527L297 1580L354 1568L343 1602L344 1488L369 1570L332 1527L360 1685L315 1505L306 1483L340 1655L368 1513L354 1643L355 1662L343 1477L371 1649L344 1680L326 1632L330 1659L336 1622L384 1643L330 1584L333 1638L319 1567L353 1672L378 1601L343 1609L369 1575L320 1603L339 1652L332 1545L345 1435L324 1559L377 1657L345 1545L337 1602L365 1658L370 1591L331 1646L331 1681L295 1604L380 1600L360 1608L263 1568L359 1593L336 1649L344 1693L340 1497L369 1584L372 1596L334 1539L344 1654L310 1622L338 1612L314 1692L289 1604L370 1686L323 1530L328 1659L365 1616L327 1653L327 1561L357 1582L277 1578L339 1663L298 1543L337 1685L368 1624L320 1532L358 1608L340 1650L317 1670L325 1563L312 1517L376 1678L369 1576L355 1654L304 1581L332 1634L318 1592L375 1585L312 1612L354 1553L376 1554L324 1484L342 1578L361 1518L298 1640L318 1557L389 1531L310 1590L371 1575L371 1427L367 1598L360 1606L330 1630L323 1680L362 1528L348 1683L377 1602L299 1636L342 1575L283 1586L306 1645L342 1645L286 1686L370 1573L364 1646L323 1669L352 1598L322 1563L329 1640L270 1583L371 1591L337 1522L344 1607L356 1545L289 1561L352 1524L348 1637L321 1626L324 1591L343 1687L362 1635L329 1527L355 1597L319 1534L333 1536L371 1637L348 1616L270 1576L386 1671L345 1557L349 1551L343 1648L320 1636L346 1637L337 1589L333 1644L382 1554L304 1588L285 1563L332 1546L329 1615L377 1650L323 1621L317 1592L353 1564L315 1544L344 1638L293 1595L353 1635L306 1454L331 1510L343 1636L314 1620L347 1656L338 1644L314 1682L312 1560L296 1573L386 1646L365 1554L277 1661L328 1562L300 1625L343 1597L307 1593L302 1467L359 1657L359 1683L271 1658L333 1621L305 1557L346 1520L348 1519L350 1558L356 1636L308 1642L361 1576L324 1630L376 1562L330 1567L331 1646L377 1538L311 1548L366 1532L327 1632L358 1588L311 1572L360 1645L355 1543L342 1622L310 1632L371 1593L352 1613L314 1687L315 1639L366 1689L367 1666L342 1523L344 1598L330 1659L338 1688L361 1660L353 1631L339 1692L381 1667L344 1690L309 1553L365 1607L348 1585L341 1612L311 1656L305 1692L284 1577L311 1592L340 1506L341 1564L336 1625L342 1632L386 1511L343 1645L348 1554L364 1623L293 1456L387 1592L352 1527L351 1642L329 1549L361 1628L368 1605L342 1601L360 1611L357 1615L352 1582L303 1597L281 1640L295 1652L354 1484L335 1631L305 1471L338 1593L374 1636L315 1661L340 1563L374 1665L343 1467L356 1649L389 1593L378 1508L305 1622L335 1535L339 1617L281 1662L347 1648L348 1560L355 1625L331 1668L331 1587L327 1579L307 1553L334 1654L352 1581L360 1593L305 1600L315 1599L301 1642L364 1567L289 1630L324 1445L323 1630L327 1575L330 1625L368 1626L267 1503L328 1577L298 1619L354 1648L326 1530L325 1691L372 1655L304 1533L331 1691L311 1633L351 1690L292 1582L383 1543L298 1667L332 1680L333 1601L344 1610L337 1590L352 1625L359 1598L363 1593L356 1602L315 1664L333 1679L327 1679L320 1604L341 1624L334 1646L359 1597L350 1560L328 1574L366 1682L320 1545L354 1629L327 1642L369 1630L372 1669L370 1567L334 1568L302 1679L348 1643L324 1620L338 1602L365 1690L288 1678L355 1621L301 1613L370 1636L357 1587L378 1541L319 1645L346 1602L345 1631L366 1563L313 1636L347 1572L377 1643L297 1571L347 1692L343 1541L340 1688L355 1650L345 1556L349 1594L340 1620L310 1685L373 1533L309 1580L369 1688L363 1587L378 1501L343 1601L315 1609L343 1645L346 1565L370 1573L338 1635L330 1661L300 1652L379 1661L341 1598L327 1543L338 1561L366 1655L362 1660L265 1578L372 1625L369 1558L365 1637L372 1492L337 1673L368 1548L360 1675L375 1546L337 1585L334 1624L347 1644L374 1693L351 1631L318 1568L366 1532L368 1606L338 1621L377 1607L280 1457L317 1595L329 1635L319 1593L368 1502L298 1682L324 1662L338 1582L323 1675L381 1528L320 1531L365 1634L362 1675L309 1647L296 1658L307 1634L322 1618L323 1666L292 1506L335 1564L351 1661L340 1583L361 1571L357 1518L354 1553L357 1590L277 1624L361 1589L334 1664L311 1604L353 1576L339 1536L320 1547L318 1524L346 1601L341 1662L309 1634L374 1603L378 1553L313 1656L345 1529L372 1602L316 1559L342 1582L286 1653L373 1644L343 1563L388 1527L347 1668L372 1675L305 1687L341 1681L318 1555L345 1580L352 1668L346 1608L324 1575L335 1584L284 1591L376 1611L381 1612L348 1589L347 1629L369 1622L331 1604L371 1672L351 1631L327 1622L363 1583L382 1647L307 1569L283 1603L376 1577L348 1639L330 1557L329 1637L361 1643L347 1663L378 1562L293 1544L355 1616L371 1589L351 1591L290 1592L328 1582L337 1665L348 1537L366 1587L325 1572L326 1613L353 1618L354 1591L327 1608L366 1551L319 1653L358 1486L326 1647L332 1629L319 1484L313 1574L374 1613L255 1576L356 1634L352 1680L314 1681L345 1581L293 1557L305 1489L328 1588L349 1539L371 1522L366 1669L370 1673L345 1628L327 1543L340 1679L344 1627L363 1628L372 1656L340 1582L320 1609L350 1549L269 1531L334 1619L387 1586L301 1646L367 1645L355 1560L295 1678L330 1552L352 1531L356 1672L331 1560L337 1690L389 1648L374 1631L289 1639L356 1636L321 1578L378 1562L315 1599L359 1492L363 1569L341 1603L355 1614L365 1623L326 1541L372 1678L362 1687L354 1676L325 1593L316 1569L321 1595L364 1595L334 1578L326 1595L317 1621L256 1664L355 1618L353 1586L233 1586L350 1623L366 1508L353 1691L366 1675L332 1591L274 1534L341 1643L253 1610L297 1636L311 1689L276 1538L310 1559L366 1647L345 1621L359 1595L335 1628L374 1684L332 1555L348 1688L347 1638L371 1567L356 1619L370 1639L383 1518L369 1501L324 1589L351 1678L353 1636L358 1614L365 1648L343 1558L383 1612L290 1558L295 1495L330 1636L366 1517L348 1630L375 1528L351 1665L311 1562L314 1666L362 1667L367 1636L327 1558L347 1649L309 1623L334 1643L316 1610L278 1594L374 1460L303 1556L342 1685L325 1687L357 1638L355 1609L356 1622L306 1576L331 1621L347 1616L322 1669L315 1648L365 1691L351 1499L299 1621L352 1643L326 1572L339 1608L309 1535L356 1665L380 1594L350 1633L313 1609L358 1682L346 1638L317 1652L355 1533L350 1600L360 1579L378 1624L344 1649L344 1631L368 1640L337 1459L307 1617L386 1610L375 1576L298 1557L337 1604L298 1568L366 1617L371 1632L389 1657L349 1575L334 1542L381 1673L310 1677L352 1621L370 1686L328 1600L357 1566L297 1613L355 1589L333 1609L377 1690L352 1467L346 1606L347 1616L306 1650L336 1629L370 1677L383 1606L351 1644L365 1629L367 1573L316 1619L372 1620L345 1539L308 1543L327 1602L345 1689L299 1551L330 1599L328 1611L337 1633L367 1507L312 1670L354 1653L340 1571L369 1615L356 1616L287 1537L320 1544L306 1621L351 1671L356 1588L326 1581L345 1580L318 1672L328 1663L331 1588L353 1682L337 1593L319 1653L311 1683L362 1655L354 1668L298 1667L368 1621L327 1606L342 1666L324 1606L277 1538L334 1554L352 1651L295 1589L336 1638L300 1532L316 1604L342 1505L334 1545L344 1675L381 1513L318 1653L317 1587L294 1581L350 1686L355 1545L388 1587L324 1565L358 1665L388 1523L333 1640L346 1687L301 1499L366 1594L374 1667L334 1639L385 1634L351 1657L357 1583L344 1654L321 1573L357 1559L357 1486L306 1637L297 1524L326 1611L332 1610L333 1575L375 1652L342 1645L319 1508L292 1536L361 1548L308 1636L334 1564L315 1667L329 1488L290 1564L328 1598L382 1649L294 1667L287 1638L286 1612L289 1694L336 1692L282 1684L342 1642L351 1636L319 1626L361 1402L338 1638L304 1550L344 1522L315 1411L329 1690L303 1669L362 1674L352 1455L307 1620L329 1638L337 1606L362 1664L343 1633L306 1610L347 1648L348 1644L282 1588L320 1662L357 1386L304 1691L338 1580L376 1606L297 1406L357 1665L360 1611L368 1680L336 1595L378 1674L346 1394L328 1529L354 1638L358 1640L370 1655L289 1609L361 1570L346 1543L352 1474L292 1639L361 1500L380 1438L332 1526L352 1609L305 1424L360 1496L336 1691L299 1659L302 1616L298 1627L312 1641L337 1485L321 1369L336 1683L325 1574L336 1450L300 1584L302 1693L299 1635L371 1601L318 1437L372 1380L361 1682L319 1691L322 1670L364 1662L367 1647L341 1519L316 1671L327 1684L350 1444L361 1598L306 1685L328 1662L330 1419L355 1596L335 1572L313 1493L333 1661L295 1590L357 1587L333 1492L317 1572L360 1413L342 1662L294 1621L331 1573L302 1673L362 1674L322 1445L279 1682L315 1640L334 1686L311 1616L298 1585L344 1473L365 1668L294 1601L280 1601L349 1612L339 1653L346 1564L313 1672L359 1556L296 1478L322 1593L305 1448L375 1690L295 1676L318 1647L366 1539L344 1563L357 1634L340 1609L322 1642L349 1648L285 1397L320 1648L290 1676L318 1531L378 1408L300 1661L302 1456L336 1507L368 1436L372 1528L304 1645L290 1451L338 1571L354 1689L335 1623L360 1546L317 1670L352 1676L337 1617L339 1686L375 1672L323 1659L292 1600L337 1662L339 1683L314 1427L345 1600L341 1630L338 1616L360 1540L314 1651L303 1662L331 1598L362 1485L311 1571L338 1570L348 1687L377 1595L300 1693L343 1681L287 1628L306 1374L350 1684L326 1665L323 1607L304 1630L372 1694L281 1663L301 1595L346 1640L342 1695L355 1384L376 1668L313 1680L362 1685L352 1550L332 1512L346 1461L282 1664L312 1539L352 1692L369 1434L358 1421L346 1642L303 1631L305 1666L294 1605L318 1691L292 1589L363 1663L288 1686L286 1475L283 1358L335 1638L328 1632L362 1594L348 1659L354 1431L315 1689L350 1693L309 1547L367 1575L295 1694L338 1681L351 1508L365 1372L373 1641L344 1649L339 1593L303 1634L322 1409L328 1665L380 1661L323 1640L287 1665L326 1621L311 1605L353 1626L302 1569L312 1622L318 1667L305 1460L310 1351L365 1677L342 1504L294 1527L327 1647L378 1592L366 1477L345 1694L365 1676L321 1683L353 1578L342 1646L361 1649L374 1580L325 1580L302 1633L322 1594L313 1663L317 1521L357 1635L330 1693L321 1693L354 1588L310 1458L347 1604L344 1648L347 1684L279 1575L325 1655L315 1669L311 1635L339 1537L354 1539L316 1673L375 1524L330 1393L294 1691L337 1596L367 1670L304 1590L333 1496L314 1410L297 1689L300 1511L299 1616L312 1532L320 1509L316 1690L319 1640L378 1609L334 1684L322 1639L347 1423L343 1369L294 1452L320 1670L319 1687L318 1694L365 1480L295 1652L276 1625L307 1669L272 1452L322 1681L277 1514L257 1645L321 1525L317 1591L299 1611L316 1689L291 1551L322 1641L287 1487L313 1545L240 1610L299 1568L277 1598L282 1621L297 1629L248 1649L318 1566L320 1673L274 1580L319 1657L316 1682L288 1665L245 1630L310 1592L160 1525L310 1529L270 1554L307 1583L215 1638L313 1571L310 1689L320 1607L308 1611L320 1638L239 1490L249 1556L239 1674L305 1627L282 1622L281 1668L303 1629L312 1680L322 1621L261 1501L321 1545L320 1607L310 1539L305 1586L231 1461L311 1603L314 1673L305 1526L275 1561L288 1448L257 1561L278 1558L267 1596L320 1560L260 1553L263 1568L321 1631L316 1560L223 1622L204 1503L295 1609L318 1651L240 1688L311 1576L266 1475L266 1685L284 1587L300 1628L314 1486L287 1490L312 1662L287 1607L312 1623L296 1642L295 1680L315 1458L322 1532L322 1544L322 1584L322 1681L296 1596L320 1567L299 1648L320 1466L298 1482L308 1676L289 1489L291 1532L295 1585L288 1633L215 1567L288 1589L303 1491L277 1539L282 1662L312 1583L275 1482L278 1555L244 1653L314 1605L310 1610L303 1598L304 1469L306 1512L181 1682L306 1566L297 1445L293 1637L271 1677L307 1554L319 1548L284 1560L294 1643L296 1641L301 1502L320 1629L311 1609L315 1663L294 1678L320 1687L315 1680L228 1637L292 1491L321 1612L312 1530L279 1632L285 1688L280 1646L293 1594L294 1626L298 1554L321 1678L185 1577L311 1613L298 1596L316 1644L299 1646L314 1671L310 1685L245 1569L314 1562L285 1579L314 1497L291 1518L164 1575L271 1486L234 1567L305 1678L300 1565L286 1658L302 1597L300 1582L322 1631L321 1600L284 1652L293 1574L321 1614L243 1632L321 1652L285 1620L317 1464L279 1688L313 1519L321 1524L270 1628L306 1634L306 1613L289 1476L320 1662L290 1476L303 1650L301 1630L313 1650L321 1605L316 1609L301 1598L256 1489L254 1611L306 1545L283 1466L308 1566L314 1543L320 1596L294 1575L295 1625L320 1566L279 1668L294 1600L309 1503L315 1532L149 1655L248 1600L299 1611L310 1576L272 1671L291 1622L310 1562L277 1489L303 1542L250 1543L316 1546L316 1631L294 1644L265 1534L280 1650L313 1597L317 1571L277 1572L243 1635L287 1568L285 1577L299 1633L256 1498L247 1614L257 1609L306 1452L294 1507L234 1576L252 1669L313 1585L238 1456" fill="none" stroke="none" marker-start="url(#eb)" marker-mid="url(#eb)" marker-end="url(#eb)"/>
<path d="M506 1629L487 1681L516 1672L499 1683L525 1658L514 1680L488 1640L489 1691L528 1664L518 1648L491 1659L512 1684L514 1655L509 1693L501 1643L488 1625L491 1677L506 1654L516 1672L495 1675L494 1643L537 1686L496 1693L494 1660L492 1624L520 1634L514 1650L516 1689L528 1687L522 1649L489 1693L510 1671L489 1646L518 1686L493 1663L511 1647L514 1648L495 1685L493 1683L502 1689L489 1674L507 1662L493 1682L518 1685L515 1666L494 1649L508 1689L534 1671L498 1616L505 1670L491 1690L492 1670L487 1669L496 1654L533 1659L486 1660L494 1652L499 1680L508 1677L508 1691L488 1688L521 1677L514 1674L535 1636L494 1683L498 1678L492 1662L517 1656L509 1653L533 1691L509 1667L501 1687L519 1657L519 1667L492 1671L503 1656L491 1689L491 1680L515 1656L509 1649L519 1690L487 1664L505 1609L508 1666L486 1678L486 1625L512 1691L497 1684L499 1692L505 1685L489 1657L526 1657L522 1683L490 1666L496 1690L488 1663L487 1676L532 1680L503 1614L503 1688L499 1671L500 1675L493 1688L496 1673L493 1665L501 1641L501 1684L507 1666L500 1654L522 1664L503 1653L510 1677L489 1676L490 1678L498 1692L513 1682L522 1660L491 1640L511 1639L492 1662L501 1691L517 1663L536 1678L497 1630L494 1649L488 1626L512 1669L502 1685L489 1629L491 1653L492 1651L498 1630L505 1672L516 1686L538 1662L496 1690L537 1647L506 1644L504 1675L526 1693L488 1691L491 1654L489 1671L503 1687L487 1627L506 1683L514 1686L516 1663L501 1640L488 1667L492 1654L507 1689L502 1666L487 1682L494 1642L491 1678L489 1689L495 1636L489 1674L516 1670L502 1665L491 1675L491 1649L503 1632L519 1666L526 1634L496 1668L519 1681L527 1654L489 1660L489 1688L486 1670L491 1669L499 1690L523 1658L494 1675L511 1678L510 1633L489 1671L506 1658L498 1679L487 1673L492 1673L489 1681L492 1657L487 1610L499 1665L496 1651L488 1676L523 1667L486 1673L505 1661L517 1643L495 1664L510 1675L516 1690L508 1654L508 1685L495 1687L493 1651L486 1640L493 1685L490 1620L486 1672L519 1689L509 1633L500 1655L521 1625L510 1692L513 1662L503 1621L511 1675L521 1664L524 1674L510 1659L502 1683L504 1653L494 1643L527 1681L536 1665L494 1672L495 1658L510 1680L517 1667L496 1693L495 1676L520 1678L503 1638L493 1675L502 1668L493 1632L488 1672L527 1614L493 1677L524 1658L496 1623L488 1657L495 1645L521 1648L498 1693L505 1669L489 1692L495 1663L495 1658L502 1674L530 1677L489 1668L500 1632L511 1680L504 1667L489 1644L494 1652L494 1667L522 1673L492 1675L504 1692L507 1681L485 1624L528 1677L487 1691L511 1682L509 1651L506 1664L527 1688L521 1668L494 1661L485 1647L508 1683L491 1682L493 1667L488 1659L505 1646L529 1690L489 1691L509 1673L531 1660L494 1665L491 1670L502 1679L513 1681L497 1667L496 1689L507 1645L532 1669L492 1679L531 1613L520 1635L492 1680L487 1643L497 1671L500 1691L518 1693L501 1656L530 1687L485 1685L514 1667L507 1682L508 1670L494 1687L531 1617L487 1663L495 1618L521 1670L509 1660L536 1658L507 1689L485 1637L490 1652L520 1680L521 1649L523 1673L507 1679L487 1673L505 1637L490 1674L485 1665L489 1676L507 1672L491 1683L503 1674L508 1650L504 1646L507 1661L490 1654L490 1658L502 1639L525 1644L521 1679L519 1670L495 1683L505 1629L508 1682L488 1662L491 1693L502 1647L508 1692L501 1673L485 1626L509 1681L498 1610L507 1668L495 1674L490 1683L511 1681L500 1687L490 1666L498 1630L494 1670L494 1633L506 1628L516 1654L504 1685L491 1676L486 1638L491 1678L491 1646L511 1650L501 1673L496 1627L485 1648L491 1658L523 1674L504 1648L487 1652L494 1657L497 1648L511 1688L490 1681L490 1683L501 1677L507 1630L530 1689L487 1621L534 1691L505 1656L498 1674L502 1622L503 1665L485 1684L491 1674L502 1666L504 1690L486 1648L506 1646L512 1679L515 1630L489 1675L508 1610L500 1630L525 1665L490 1685L514 1688L512 1651L493 1681L511 1680L496 1684L527 1622L495 1673L518 1673L520 1686L510 1691L491 1673L496 1661L490 1672L510 1681L516 1672L513 1638L522 1669L520 1678L510 1689L503 1677L494 1679L521 1675L504 1674L495 1692L525 1656L509 1679L499 1676L505 1684L494 1668L485 1672L526 1683L555 1684L572 1664L656 1568L487 1692L486 1574L486 1693L528 1614L519 1658L504 1593L489 1686L494 1618L566 1664L499 1656L487 1678L492 1525L513 1515L494 1666L588 1542L501 1644L578 1618L538 1662L500 1627L516 1686L597 1688L515 1622L541 1685L592 1665L553 1549L537 1679L491 1691L519 1679L580 1587L488 1644L487 1682L524 1667L499 1671L503 1668L585 1574L487 1592L581 1521L602 1678L485 1565L489 1632L498 1601L513 1681L498 1683L511 1682L485 1533L519 1617L505 1683L587 1661L550 1681L509 1685L505 1577L503 1626L496 1667L495 1630L503 1647L498 1616L498 1672L505 1627L504 1571L490 1518L556 1574L520 1560L606 1565L586 1667L540 1613L523 1687L518 1681L510 1671L531 1662L511 1611L544 1687L495 1544L534 1686L608 1598L529 1656L506 1639L518 1506L581 1666L497 1669L549 1641L497 1660L525 1664L490 1676L513 1558L544 1659L616 1607L512 1686L491 1623L508 1650L506 1594L540 1527L561 1630L662 1594L604 1529L511 1607L509 1688L490 1693L612 1680L639 1658L485 1681L488 1614L527 1541L511 1638L530 1681L486 1547L515 1666L509 1686L553 1659L610 1517L485 1676L587 1680L513 1649L539 1684L526 1693L519 1491L557 1648L498 1493L546 1656L530 1670L535 1681L488 1607L563 1652L526 1664L515 1578L489 1692L487 1656L553 1563L514 1651L497 1690L500 1653L497 1626L547 1647L563 1686L567 1671L644 1630L532 1640L625 1691L514 1609L514 1576L529 1651L619 1678L531 1670L592 1508L583 1594L520 1611L497 1655L491 1677L489 1607L516 1592L485 1604L503 1627L531 1589" fill="none" stroke="none" marker-start="url(#er)" marker-mid="url(#er)" marker-end="url(#er)"/>
<line x1="390.7" y1="1336.7" x2="390.7" y2="1777.0" stroke="#6e6e6e" stroke-width="1.5" stroke-dasharray="6 4"/>
<line x1="482.3" y1="1336.7" x2="482.3" y2="1777.0" stroke="#6e6e6e" stroke-width="1.5" stroke-dasharray="6 4"/>
<line x1="115.6" y1="1695.2" x2="689.5" y2="1695.2" stroke="#6e6e6e" stroke-width="1.5" stroke-dasharray="6 4"/>
<circle cx="516.0" cy="1642.9" r="4.6" fill="#000"/>
<circle cx="503.9" cy="1662.8" r="4.6" fill="#000"/>
<circle cx="489.8" cy="1668.4" r="4.6" fill="#000"/>
<circle cx="385.5" cy="1685.3" r="4.6" fill="#000"/>
<line x1="516.0" y1="1642.9" x2="523.0" y2="1632.0" stroke="#000" stroke-width="1.2"/>
<line x1="516.0" y1="1642.9" x2="530.0" y2="1638.0" stroke="#000" stroke-width="1.2"/>
<line x1="503.9" y1="1662.8" x2="511.0" y2="1655.0" stroke="#000" stroke-width="1.2"/>
<line x1="503.9" y1="1662.8" x2="516.0" y2="1662.0" stroke="#000" stroke-width="1.2"/>
<line x1="489.8" y1="1668.4" x2="484.0" y2="1678.0" stroke="#000" stroke-width="1.2"/>
<line x1="489.8" y1="1668.4" x2="494.0" y2="1678.0" stroke="#000" stroke-width="1.2"/>
<line x1="385.5" y1="1685.3" x2="378.0" y2="1693.0" stroke="#000" stroke-width="1.2"/>
<text x="510.0" y="1633.2" font-size="12" font-weight="bold" textLength="49.0" lengthAdjust="spacingAndGlyphs" stroke="#000" stroke-width="0.35">SLC7A11</text>
<text x="516.0" y="1663.0" font-size="12" font-weight="bold" textLength="36.0" lengthAdjust="spacingAndGlyphs" stroke="#000" stroke-width="0.35">TOP2A</text>
<text x="456.0" y="1687.6" font-size="12" font-weight="bold" textLength="30.4" lengthAdjust="spacingAndGlyphs" stroke="#000" stroke-width="0.35">GPX4</text>
<text x="354.7" y="1704.2" font-size="12" font-weight="bold" textLength="27.3" lengthAdjust="spacingAndGlyphs" stroke="#000" stroke-width="0.35">TP53</text>
<line x1="115.6" y1="1325.8" x2="115.6" y2="1778.0" stroke="#000" stroke-width="1.6"/>
<line x1="114.8" y1="1777.2" x2="689.5" y2="1777.2" stroke="#000" stroke-width="1.6"/>
<line x1="111.5" y1="1756.5" x2="115.6" y2="1756.5" stroke="#333" stroke-width="1"/>
<text x="108.5" y="1760.5" font-size="11.5" text-anchor="end" fill="#4d4d4d">0</text>
<line x1="111.5" y1="1668.7" x2="115.6" y2="1668.7" stroke="#333" stroke-width="1"/>
<text x="108.5" y="1672.7" font-size="11.5" text-anchor="end" fill="#4d4d4d">1</text>
<line x1="111.5" y1="1580.9" x2="115.6" y2="1580.9" stroke="#333" stroke-width="1"/>
<text x="108.5" y="1584.9" font-size="11.5" text-anchor="end" fill="#4d4d4d">2</text>
<line x1="111.5" y1="1493.1" x2="115.6" y2="1493.1" stroke="#333" stroke-width="1"/>
<text x="108.5" y="1497.1" font-size="11.5" text-anchor="end" fill="#4d4d4d">3</text>
<line x1="111.5" y1="1405.3" x2="115.6" y2="1405.3" stroke="#333" stroke-width="1"/>
<text x="108.5" y="1409.3" font-size="11.5" text-anchor="end" fill="#4d4d4d">4</text>
<line x1="208.0" y1="1777.2" x2="208.0" y2="1781.5" stroke="#333" stroke-width="1"/>
<text x="208.0" y="1793.8" font-size="11.5" text-anchor="middle" fill="#4d4d4d">-2</text>
<line x1="322.2" y1="1777.2" x2="322.2" y2="1781.5" stroke="#333" stroke-width="1"/>
<text x="322.2" y="1793.8" font-size="11.5" text-anchor="middle" fill="#4d4d4d">-1</text>
<line x1="436.4" y1="1777.2" x2="436.4" y2="1781.5" stroke="#333" stroke-width="1"/>
<text x="436.4" y="1793.8" font-size="11.5" text-anchor="middle" fill="#4d4d4d">0</text>
<line x1="550.6" y1="1777.2" x2="550.6" y2="1781.5" stroke="#333" stroke-width="1"/>
<text x="550.6" y="1793.8" font-size="11.5" text-anchor="middle" fill="#4d4d4d">1</text>
<line x1="664.8" y1="1777.2" x2="664.8" y2="1781.5" stroke="#333" stroke-width="1"/>
<text x="664.8" y="1793.8" font-size="11.5" text-anchor="middle" fill="#4d4d4d">2</text>
<text x="402.8" y="1312.2" font-size="28.2" text-anchor="middle" font-weight="bold" textLength="486.0" lengthAdjust="spacingAndGlyphs">Differential Gene Expression Volcano Plot</text>
<text x="402.8" y="1809.5" font-size="14.5" text-anchor="middle" font-weight="bold" textLength="126.4" lengthAdjust="spacingAndGlyphs">log2(Fold Change)</text>
<text x="96.5" y="1551.2" font-size="14.5" text-anchor="middle" font-weight="bold" textLength="104.4" lengthAdjust="spacingAndGlyphs" transform="rotate(-90 96.5 1551.2)">-log10(P-value)</text>
<text x="843.0" y="1248.1" font-size="43.5" font-weight="bold">F</text>
<text x="1219.1" y="1253.9" font-size="23.8" text-anchor="middle" font-weight="bold" textLength="561.8" lengthAdjust="spacingAndGlyphs">Heatmap of Target Genes (TOP2A, TP53, GPX4, SLC7A11)</text>
<rect x="1005.8" y="1267.6" width="168.7" height="10.5" fill="#2e86ab"/>
<rect x="1174.5" y="1267.6" width="210.8" height="10.5" fill="#4a4b6a"/>
<text x="1388.7" y="1276.6" font-size="8.5" font-weight="bold" textLength="22.0" lengthAdjust="spacingAndGlyphs">Group</text>
<rect x="1005.8" y="1281.3" width="21.5" height="144.7" fill="#d8eef8"/>
<rect x="1026.9" y="1281.3" width="21.5" height="144.7" fill="#f8a0d0"/>
<rect x="1048.0" y="1281.3" width="21.5" height="144.7" fill="#f8a0d0"/>
<rect x="1069.0" y="1281.3" width="21.5" height="144.7" fill="#f8eef4"/>
<rect x="1090.1" y="1281.3" width="21.5" height="144.7" fill="#80d8f8"/>
<rect x="1111.2" y="1281.3" width="21.5" height="144.7" fill="#f8d4e8"/>
<rect x="1132.3" y="1281.3" width="21.5" height="144.7" fill="#f8d0e6"/>
<rect x="1153.4" y="1281.3" width="21.5" height="144.7" fill="#f8a0d0"/>
<rect x="1174.5" y="1281.3" width="21.5" height="144.7" fill="#f8b4da"/>
<rect x="1195.5" y="1281.3" width="21.5" height="144.7" fill="#f878c4"/>
<rect x="1216.6" y="1281.3" width="21.5" height="144.7" fill="#f8d2e8"/>
<rect x="1237.7" y="1281.3" width="21.5" height="144.7" fill="#f8d4e8"/>
<rect x="1258.8" y="1281.3" width="21.5" height="144.7" fill="#f8a4d4"/>
<rect x="1279.9" y="1281.3" width="21.5" height="144.7" fill="#f8d8ec"/>
<rect x="1301.0" y="1281.3" width="21.5" height="144.7" fill="#f8cfe6"/>
<rect x="1322.0" y="1281.3" width="21.5" height="144.7" fill="#f8d4e8"/>
<rect x="1343.1" y="1281.3" width="21.5" height="144.7" fill="#f8a4d6"/>
<rect x="1364.2" y="1281.3" width="21.5" height="144.7" fill="#f8a4d6"/>
<rect x="1005.8" y="1425.7" width="21.5" height="144.8" fill="#ff3ab4"/>
<rect x="1026.9" y="1425.7" width="21.5" height="144.8" fill="#f8a8d6"/>
<rect x="1048.0" y="1425.7" width="21.5" height="144.8" fill="#eef4f6"/>
<rect x="1069.0" y="1425.7" width="21.5" height="144.8" fill="#f8d8ec"/>
<rect x="1090.1" y="1425.7" width="21.5" height="144.8" fill="#f8e4f0"/>
<rect x="1111.2" y="1425.7" width="21.5" height="144.8" fill="#f8e8f2"/>
<rect x="1132.3" y="1425.7" width="21.5" height="144.8" fill="#f8acd8"/>
<rect x="1153.4" y="1425.7" width="21.5" height="144.8" fill="#ff5ac0"/>
<rect x="1174.5" y="1425.7" width="21.5" height="144.8" fill="#f8b4dc"/>
<rect x="1195.5" y="1425.7" width="21.5" height="144.8" fill="#f8acd8"/>
<rect x="1216.6" y="1425.7" width="21.5" height="144.8" fill="#e0f0f8"/>
<rect x="1237.7" y="1425.7" width="21.5" height="144.8" fill="#f8acd8"/>
<rect x="1258.8" y="1425.7" width="21.5" height="144.8" fill="#f8b0da"/>
<rect x="1279.9" y="1425.7" width="21.5" height="144.8" fill="#f8d8ec"/>
<rect x="1301.0" y="1425.7" width="21.5" height="144.8" fill="#f8ecf2"/>
<rect x="1322.0" y="1425.7" width="21.5" height="144.8" fill="#b4e4f8"/>
<rect x="1343.1" y="1425.7" width="21.5" height="144.8" fill="#d4eef8"/>
<rect x="1364.2" y="1425.7" width="21.5" height="144.8" fill="#f8cce6"/>
<rect x="1005.8" y="1570.2" width="21.5" height="144.7" fill="#f880c8"/>
<rect x="1026.9" y="1570.2" width="21.5" height="144.7" fill="#f890cc"/>
<rect x="1048.0" y="1570.2" width="21.5" height="144.7" fill="#f8e0ee"/>
<rect x="1069.0" y="1570.2" width="21.5" height="144.7" fill="#f8b4da"/>
<rect x="1090.1" y="1570.2" width="21.5" height="144.7" fill="#d0ecf8"/>
<rect x="1111.2" y="1570.2" width="21.5" height="144.7" fill="#f870c4"/>
<rect x="1132.3" y="1570.2" width="21.5" height="144.7" fill="#f888cc"/>
<rect x="1153.4" y="1570.2" width="21.5" height="144.7" fill="#f880c8"/>
<rect x="1174.5" y="1570.2" width="21.5" height="144.7" fill="#f8c8e4"/>
<rect x="1195.5" y="1570.2" width="21.5" height="144.7" fill="#d8eef8"/>
<rect x="1216.6" y="1570.2" width="21.5" height="144.7" fill="#f8f0f4"/>
<rect x="1237.7" y="1570.2" width="21.5" height="144.7" fill="#f8b0d8"/>
<rect x="1258.8" y="1570.2" width="21.5" height="144.7" fill="#f8b4da"/>
<rect x="1279.9" y="1570.2" width="21.5" height="144.7" fill="#d0ecf8"/>
<rect x="1301.0" y="1570.2" width="21.5" height="144.7" fill="#f4f2f6"/>
<rect x="1322.0" y="1570.2" width="21.5" height="144.7" fill="#f87cc8"/>
<rect x="1343.1" y="1570.2" width="21.5" height="144.7" fill="#f8f0f4"/>
<rect x="1364.2" y="1570.2" width="21.5" height="144.7" fill="#d4eef8"/>
<rect x="1005.8" y="1714.6" width="21.5" height="144.7" fill="#f8c8e4"/>
<rect x="1026.9" y="1714.6" width="21.5" height="144.7" fill="#f8d8ec"/>
<rect x="1048.0" y="1714.6" width="21.5" height="144.7" fill="#f888cc"/>
<rect x="1069.0" y="1714.6" width="21.5" height="144.7" fill="#f898d0"/>
<rect x="1090.1" y="1714.6" width="21.5" height="144.7" fill="#f8c8e4"/>
<rect x="1111.2" y="1714.6" width="21.5" height="144.7" fill="#f8b0da"/>
<rect x="1132.3" y="1714.6" width="21.5" height="144.7" fill="#f89ed2"/>
<rect x="1153.4" y="1714.6" width="21.5" height="144.7" fill="#f8a0d4"/>
<rect x="1174.5" y="1714.6" width="21.5" height="144.7" fill="#f860c0"/>
<rect x="1195.5" y="1714.6" width="21.5" height="144.7" fill="#d8eef8"/>
<rect x="1216.6" y="1714.6" width="21.5" height="144.7" fill="#f8e8f2"/>
<rect x="1237.7" y="1714.6" width="21.5" height="144.7" fill="#f8e0ee"/>
<rect x="1258.8" y="1714.6" width="21.5" height="144.7" fill="#f888cc"/>
<rect x="1279.9" y="1714.6" width="21.5" height="144.7" fill="#d8eef8"/>
<rect x="1301.0" y="1714.6" width="21.5" height="144.7" fill="#f6f2f6"/>
<rect x="1322.0" y="1714.6" width="21.5" height="144.7" fill="#cceaf8"/>
<rect x="1343.1" y="1714.6" width="21.5" height="144.7" fill="#f888cc"/>
<rect x="1364.2" y="1714.6" width="21.5" height="144.7" fill="#b4e4f8"/>
<text x="1389.4" y="1364.8" font-size="14" fill="#111" textLength="33.0" lengthAdjust="spacingAndGlyphs">TP53</text>
<text x="1389.4" y="1511.0" font-size="14" fill="#111" textLength="34.5" lengthAdjust="spacingAndGlyphs">GPX4</text>
<text x="1389.4" y="1656.6" font-size="14" fill="#111" textLength="63.0" lengthAdjust="spacingAndGlyphs">SLC7A11</text>
<text x="1389.4" y="1798.0" font-size="14" fill="#111" textLength="48.0" lengthAdjust="spacingAndGlyphs">TOP2A</text>
<line x1="1005.8" y1="1353.6" x2="951.9" y2="1353.6" stroke="#333" stroke-width="1.2"/>
<line x1="951.9" y1="1353.6" x2="951.9" y2="1605.2" stroke="#333" stroke-width="1.2"/>
<line x1="951.9" y1="1605.2" x2="958.8" y2="1605.2" stroke="#333" stroke-width="1.2"/>
<line x1="958.8" y1="1497.8" x2="958.8" y2="1713.2" stroke="#333" stroke-width="1.2"/>
<line x1="958.8" y1="1497.8" x2="1005.8" y2="1497.8" stroke="#333" stroke-width="1.2"/>
<line x1="958.8" y1="1713.2" x2="965.0" y2="1713.2" stroke="#333" stroke-width="1.2"/>
<line x1="965.0" y1="1642.0" x2="965.0" y2="1786.3" stroke="#333" stroke-width="1.2"/>
<line x1="965.0" y1="1642.0" x2="1005.8" y2="1642.0" stroke="#333" stroke-width="1.2"/>
<line x1="965.0" y1="1786.3" x2="1005.8" y2="1786.3" stroke="#333" stroke-width="1.2"/>
<defs><linearGradient id="hmg" x1="0" y1="0" x2="0" y2="1"><stop offset="0" stop-color="#ff3eb5"/><stop offset="0.4" stop-color="#ffffff"/><stop offset="1" stop-color="#7fd7f7"/></linearGradient></defs>
<rect x="1435.2" y="1266.8" width="8.8" height="159.2" fill="url(#hmg)"/>
<text x="1447.5" y="1275.5" font-size="8.5" fill="#222">2</text>
<text x="1447.5" y="1304.9" font-size="8.5" fill="#222">1</text>
<text x="1447.5" y="1334.3" font-size="8.5" fill="#222">0</text>
<text x="1447.5" y="1363.6" font-size="8.5" fill="#222">-1</text>
<text x="1447.5" y="1393.0" font-size="8.5" fill="#222">-2</text>
<text x="1447.5" y="1422.4" font-size="8.5" fill="#222">-3</text>
<text x="1471.4" y="1296.5" font-size="30" font-weight="bold" textLength="95.0" lengthAdjust="spacingAndGlyphs">Group</text>
<rect x="1471.4" y="1311.2" width="51.3" height="53.3" fill="#2e86ab"/>
<rect x="1471.4" y="1364.5" width="51.3" height="53.4" fill="#4a4b6a"/>
<text x="1534.3" y="1350.2" font-size="30" fill="#111" textLength="157.2" lengthAdjust="spacingAndGlyphs">Resistance</text>
<text x="1534.3" y="1403.8" font-size="30" fill="#111" textLength="128.0" lengthAdjust="spacingAndGlyphs">Sensitive</text>
<text x="30.5" y="1895.1" font-size="43.5" font-weight="bold">G</text>
<text x="898.5" y="1892.6" font-size="30" text-anchor="middle" font-weight="bold" textLength="1010.3" lengthAdjust="spacingAndGlyphs">Gene Expression in Sensitive vs Resistance Groups</text>
<line x1="160.7" y1="2265.1" x2="882.3" y2="2265.1" stroke="#e3e3e3" stroke-width="1.3"/>
<line x1="160.7" y1="2153.0" x2="882.3" y2="2153.0" stroke="#e3e3e3" stroke-width="1.3"/>
<line x1="160.7" y1="2040.9" x2="882.3" y2="2040.9" stroke="#e3e3e3" stroke-width="1.3"/>
<text x="522.5" y="1932.9" font-size="28.9" text-anchor="middle" font-weight="bold" textLength="117.4" lengthAdjust="spacingAndGlyphs">TOP2A</text>
<text x="541.0" y="1976.1" font-size="29" text-anchor="middle" textLength="91.0" lengthAdjust="spacingAndGlyphs">0.011</text>
<line x1="357.0" y1="2002.0" x2="357.0" y2="2072.6" stroke="#333333" stroke-width="1.8"/>
<line x1="357.0" y1="2232.6" x2="357.0" y2="2297.6" stroke="#333333" stroke-width="1.8"/>
<rect x="234.0" y="2072.6" width="246.0" height="160.0" fill="#96d5bf" stroke="#333333" stroke-width="1.9"/>
<line x1="234.0" y1="2167.0" x2="480.0" y2="2167.0" stroke="#333333" stroke-width="3.2"/>
<line x1="685.6" y1="2048.2" x2="685.6" y2="2072.0" stroke="#333333" stroke-width="1.8"/>
<line x1="685.6" y1="2123.0" x2="685.6" y2="2140.4" stroke="#333333" stroke-width="1.8"/>
<rect x="562.3" y="2072.0" width="246.7" height="51.0" fill="#fbb08f" stroke="#333333" stroke-width="1.9"/>
<line x1="562.3" y1="2087.3" x2="809.0" y2="2087.3" stroke="#333333" stroke-width="3.2"/>
<circle cx="305.3" cy="2002.0" r="4.1" fill="#333" fill-opacity="0.88"/>
<circle cx="311.6" cy="2044.0" r="4.1" fill="#333" fill-opacity="0.88"/>
<circle cx="343.0" cy="2047.5" r="4.1" fill="#333" fill-opacity="0.88"/>
<circle cx="368.1" cy="2147.4" r="4.1" fill="#333" fill-opacity="0.88"/>
<circle cx="318.5" cy="2162.0" r="4.1" fill="#333" fill-opacity="0.88"/>
<circle cx="421.2" cy="2174.0" r="4.1" fill="#333" fill-opacity="0.88"/>
<circle cx="366.0" cy="2229.0" r="4.1" fill="#333" fill-opacity="0.88"/>
<circle cx="334.6" cy="2233.3" r="4.1" fill="#333" fill-opacity="0.88"/>
<circle cx="394.0" cy="2259.0" r="4.1" fill="#333" fill-opacity="0.88"/>
<circle cx="345.1" cy="2297.6" r="4.1" fill="#333" fill-opacity="0.88"/>
<circle cx="651.0" cy="2047.5" r="4.1" fill="#333" fill-opacity="0.88"/>
<circle cx="717.4" cy="2065.0" r="4.1" fill="#333" fill-opacity="0.88"/>
<circle cx="686.7" cy="2076.8" r="4.1" fill="#333" fill-opacity="0.88"/>
<circle cx="733.5" cy="2073.3" r="4.1" fill="#333" fill-opacity="0.88"/>
<circle cx="658.0" cy="2097.0" r="4.1" fill="#333" fill-opacity="0.88"/>
<circle cx="694.4" cy="2125.0" r="4.1" fill="#333" fill-opacity="0.88"/>
<circle cx="714.0" cy="2122.2" r="4.1" fill="#333" fill-opacity="0.88"/>
<circle cx="736.3" cy="2140.4" r="4.1" fill="#333" fill-opacity="0.88"/>
<line x1="160.7" y1="1950.4" x2="160.7" y2="2316.0" stroke="#000" stroke-width="1.9"/>
<line x1="159.7" y1="2315.0" x2="882.3" y2="2315.0" stroke="#000" stroke-width="1.9"/>
<line x1="152.3" y1="2265.1" x2="160.7" y2="2265.1" stroke="#333" stroke-width="1.6"/>
<text x="144.7" y="2271.7" font-size="19.2" text-anchor="end" fill="#222" textLength="12.6" lengthAdjust="spacingAndGlyphs">4</text>
<line x1="152.3" y1="2153.0" x2="160.7" y2="2153.0" stroke="#333" stroke-width="1.6"/>
<text x="144.7" y="2159.6" font-size="19.2" text-anchor="end" fill="#222" textLength="12.6" lengthAdjust="spacingAndGlyphs">5</text>
<line x1="152.3" y1="2040.9" x2="160.7" y2="2040.9" stroke="#333" stroke-width="1.6"/>
<text x="144.7" y="2047.5" font-size="19.2" text-anchor="end" fill="#222" textLength="12.6" lengthAdjust="spacingAndGlyphs">6</text>
<line x1="357.0" y1="2315.0" x2="357.0" y2="2321.0" stroke="#333" stroke-width="1.6"/>
<text x="357.0" y="2339.8" font-size="19" text-anchor="middle" fill="#111" textLength="98.5" lengthAdjust="spacingAndGlyphs">Sensitive</text>
<line x1="685.3" y1="2315.0" x2="685.3" y2="2321.0" stroke="#333" stroke-width="1.6"/>
<text x="685.3" y="2339.8" font-size="19" text-anchor="middle" fill="#111" textLength="123.0" lengthAdjust="spacingAndGlyphs">Resistance</text>
<text transform="translate(118.3 2132.3) scale(1.38 1) rotate(-90)" x="0" y="0" font-size="25" text-anchor="middle" textLength="251.5" lengthAdjust="spacingAndGlyphs" fill="#111">Expression Level (log2)</text>
<line x1="980.2" y1="2299.9" x2="1701.9" y2="2299.9" stroke="#e3e3e3" stroke-width="1.3"/>
<line x1="980.2" y1="2201.2" x2="1701.9" y2="2201.2" stroke="#e3e3e3" stroke-width="1.3"/>
<line x1="980.2" y1="2102.5" x2="1701.9" y2="2102.5" stroke="#e3e3e3" stroke-width="1.3"/>
<line x1="980.2" y1="2003.8" x2="1701.9" y2="2003.8" stroke="#e3e3e3" stroke-width="1.3"/>
<text x="1341.5" y="1932.0" font-size="28.9" text-anchor="middle" font-weight="bold" textLength="85.0" lengthAdjust="spacingAndGlyphs">TP53</text>
<text x="1362.3" y="1976.0" font-size="29" text-anchor="middle" textLength="92.0" lengthAdjust="spacingAndGlyphs">0.034</text>
<line x1="1177.0" y1="2001.6" x2="1177.0" y2="2045.7" stroke="#333333" stroke-width="1.8"/>
<line x1="1177.0" y1="2087.1" x2="1177.0" y2="2093.8" stroke="#333333" stroke-width="1.8"/>
<rect x="1053.7" y="2045.7" width="246.6" height="41.4" fill="#96d5bf" stroke="#333333" stroke-width="1.9"/>
<line x1="1053.7" y1="2071.8" x2="1300.3" y2="2071.8" stroke="#333333" stroke-width="3.2"/>
<line x1="1505.8" y1="2035.0" x2="1505.8" y2="2037.0" stroke="#333333" stroke-width="1.8"/>
<line x1="1505.8" y1="2122.5" x2="1505.8" y2="2163.3" stroke="#333333" stroke-width="1.8"/>
<rect x="1382.5" y="2037.0" width="246.5" height="85.5" fill="#fbb08f" stroke="#333333" stroke-width="1.9"/>
<line x1="1382.5" y1="2089.1" x2="1629.0" y2="2089.1" stroke="#333333" stroke-width="3.2"/>
<circle cx="1113.2" cy="2001.0" r="4.1" fill="#333" fill-opacity="0.88"/>
<circle cx="1128.6" cy="2062.4" r="4.1" fill="#333" fill-opacity="0.88"/>
<circle cx="1142.6" cy="2046.4" r="4.1" fill="#333" fill-opacity="0.88"/>
<circle cx="1148.6" cy="2042.4" r="4.1" fill="#333" fill-opacity="0.88"/>
<circle cx="1161.3" cy="2045.7" r="4.1" fill="#333" fill-opacity="0.88"/>
<circle cx="1138.6" cy="2087.8" r="4.1" fill="#333" fill-opacity="0.88"/>
<circle cx="1155.3" cy="2094.5" r="4.1" fill="#333" fill-opacity="0.88"/>
<circle cx="1196.0" cy="2087.8" r="4.1" fill="#333" fill-opacity="0.88"/>
<circle cx="1213.4" cy="2080.5" r="4.1" fill="#333" fill-opacity="0.88"/>
<circle cx="1226.1" cy="2082.5" r="4.1" fill="#333" fill-opacity="0.88"/>
<circle cx="1490.0" cy="2037.7" r="4.1" fill="#333" fill-opacity="0.88"/>
<circle cx="1531.5" cy="2034.3" r="4.1" fill="#333" fill-opacity="0.88"/>
<circle cx="1548.8" cy="2033.0" r="4.1" fill="#333" fill-opacity="0.88"/>
<circle cx="1440.6" cy="2083.1" r="4.1" fill="#333" fill-opacity="0.88"/>
<circle cx="1550.8" cy="2094.5" r="4.1" fill="#333" fill-opacity="0.88"/>
<circle cx="1542.2" cy="2109.2" r="4.1" fill="#333" fill-opacity="0.88"/>
<circle cx="1567.6" cy="2163.3" r="4.1" fill="#333" fill-opacity="0.88"/>
<circle cx="1472.7" cy="2297.6" r="4.1" fill="#333" fill-opacity="0.88"/>
<line x1="980.2" y1="1950.2" x2="980.2" y2="2314.0" stroke="#000" stroke-width="1.9"/>
<line x1="979.2" y1="2313.0" x2="1701.9" y2="2313.0" stroke="#000" stroke-width="1.9"/>
<line x1="971.8" y1="2299.9" x2="980.2" y2="2299.9" stroke="#333" stroke-width="1.6"/>
<text x="964.2" y="2306.5" font-size="19.2" text-anchor="end" fill="#222" textLength="12.6" lengthAdjust="spacingAndGlyphs">4</text>
<line x1="971.8" y1="2201.2" x2="980.2" y2="2201.2" stroke="#333" stroke-width="1.6"/>
<text x="964.2" y="2207.8" font-size="19.2" text-anchor="end" fill="#222" textLength="12.6" lengthAdjust="spacingAndGlyphs">5</text>
<line x1="971.8" y1="2102.5" x2="980.2" y2="2102.5" stroke="#333" stroke-width="1.6"/>
<text x="964.2" y="2109.1" font-size="19.2" text-anchor="end" fill="#222" textLength="12.6" lengthAdjust="spacingAndGlyphs">6</text>
<line x1="971.8" y1="2003.8" x2="980.2" y2="2003.8" stroke="#333" stroke-width="1.6"/>
<text x="964.2" y="2010.4" font-size="19.2" text-anchor="end" fill="#222" textLength="12.6" lengthAdjust="spacingAndGlyphs">7</text>
<line x1="1177.3" y1="2313.0" x2="1177.3" y2="2319.0" stroke="#333" stroke-width="1.6"/>
<text x="1177.3" y="2337.8" font-size="19" text-anchor="middle" fill="#111" textLength="98.5" lengthAdjust="spacingAndGlyphs">Sensitive</text>
<line x1="1505.4" y1="2313.0" x2="1505.4" y2="2319.0" stroke="#333" stroke-width="1.6"/>
<text x="1505.4" y="2337.8" font-size="19" text-anchor="middle" fill="#111" textLength="123.0" lengthAdjust="spacingAndGlyphs">Resistance</text>
<text transform="translate(938.3 2132.3) scale(1.38 1) rotate(-90)" x="0" y="0" font-size="25" text-anchor="middle" textLength="251.5" lengthAdjust="spacingAndGlyphs" fill="#111">Expression Level (log2)</text>
<line x1="160.7" y1="2695.6" x2="882.3" y2="2695.6" stroke="#e3e3e3" stroke-width="1.3"/>
<line x1="160.7" y1="2583.8" x2="882.3" y2="2583.8" stroke="#e3e3e3" stroke-width="1.3"/>
<line x1="160.7" y1="2472.0" x2="882.3" y2="2472.0" stroke="#e3e3e3" stroke-width="1.3"/>
<text x="521.8" y="2418.5" font-size="28.9" text-anchor="middle" font-weight="bold" textLength="97.7" lengthAdjust="spacingAndGlyphs">GPX4</text>
<text x="542.8" y="2461.8" font-size="29" text-anchor="middle" textLength="95.0" lengthAdjust="spacingAndGlyphs">0.013</text>
<line x1="357.0" y1="2611.0" x2="357.0" y2="2620.1" stroke="#333333" stroke-width="1.8"/>
<line x1="357.0" y1="2704.0" x2="357.0" y2="2784.3" stroke="#333333" stroke-width="1.8"/>
<rect x="234.0" y="2620.1" width="246.0" height="83.9" fill="#96d5bf" stroke="#333333" stroke-width="1.9"/>
<line x1="234.0" y1="2653.0" x2="480.0" y2="2653.0" stroke="#333333" stroke-width="3.2"/>
<line x1="685.6" y1="2496.5" x2="685.6" y2="2584.5" stroke="#333333" stroke-width="1.8"/>
<line x1="685.6" y1="2665.5" x2="685.6" y2="2695.6" stroke="#333333" stroke-width="1.8"/>
<rect x="562.3" y="2584.5" width="246.7" height="81.0" fill="#fbb08f" stroke="#333333" stroke-width="1.9"/>
<line x1="562.3" y1="2633.4" x2="809.0" y2="2633.4" stroke="#333333" stroke-width="3.2"/>
<circle cx="294.1" cy="2617.3" r="4.1" fill="#333" fill-opacity="0.88"/>
<circle cx="306.7" cy="2624.3" r="4.1" fill="#333" fill-opacity="0.88"/>
<circle cx="326.2" cy="2611.0" r="4.1" fill="#333" fill-opacity="0.88"/>
<circle cx="336.0" cy="2611.0" r="4.1" fill="#333" fill-opacity="0.88"/>
<circle cx="327.6" cy="2648.8" r="4.1" fill="#333" fill-opacity="0.88"/>
<circle cx="313.0" cy="2673.2" r="4.1" fill="#333" fill-opacity="0.88"/>
<circle cx="385.6" cy="2656.5" r="4.1" fill="#333" fill-opacity="0.88"/>
<circle cx="391.2" cy="2715.1" r="4.1" fill="#333" fill-opacity="0.88"/>
<circle cx="292.7" cy="2734.7" r="4.1" fill="#333" fill-opacity="0.88"/>
<circle cx="373.0" cy="2784.3" r="4.1" fill="#333" fill-opacity="0.88"/>
<circle cx="730.0" cy="2495.8" r="4.1" fill="#333" fill-opacity="0.88"/>
<circle cx="652.5" cy="2531.4" r="4.1" fill="#333" fill-opacity="0.88"/>
<circle cx="737.7" cy="2601.3" r="4.1" fill="#333" fill-opacity="0.88"/>
<circle cx="727.2" cy="2613.8" r="4.1" fill="#333" fill-opacity="0.88"/>
<circle cx="635.7" cy="2653.0" r="4.1" fill="#333" fill-opacity="0.88"/>
<circle cx="641.3" cy="2664.8" r="4.1" fill="#333" fill-opacity="0.88"/>
<circle cx="721.0" cy="2669.0" r="4.1" fill="#333" fill-opacity="0.88"/>
<circle cx="648.3" cy="2696.3" r="4.1" fill="#333" fill-opacity="0.88"/>
<line x1="160.7" y1="2436.4" x2="160.7" y2="2802.0" stroke="#000" stroke-width="1.9"/>
<line x1="159.7" y1="2801.0" x2="882.3" y2="2801.0" stroke="#000" stroke-width="1.9"/>
<line x1="152.3" y1="2695.6" x2="160.7" y2="2695.6" stroke="#333" stroke-width="1.6"/>
<text x="144.7" y="2702.2" font-size="19.2" text-anchor="end" fill="#222" textLength="12.6" lengthAdjust="spacingAndGlyphs">6</text>
<line x1="152.3" y1="2583.8" x2="160.7" y2="2583.8" stroke="#333" stroke-width="1.6"/>
<text x="144.7" y="2590.4" font-size="19.2" text-anchor="end" fill="#222" textLength="12.6" lengthAdjust="spacingAndGlyphs">7</text>
<line x1="152.3" y1="2472.0" x2="160.7" y2="2472.0" stroke="#333" stroke-width="1.6"/>
<text x="144.7" y="2478.6" font-size="19.2" text-anchor="end" fill="#222" textLength="12.6" lengthAdjust="spacingAndGlyphs">8</text>
<line x1="357.0" y1="2801.0" x2="357.0" y2="2807.0" stroke="#333" stroke-width="1.6"/>
<text x="357.0" y="2825.8" font-size="19" text-anchor="middle" fill="#111" textLength="98.5" lengthAdjust="spacingAndGlyphs">Sensitive</text>
<line x1="685.3" y1="2801.0" x2="685.3" y2="2807.0" stroke="#333" stroke-width="1.6"/>
<text x="685.3" y="2825.8" font-size="19" text-anchor="middle" fill="#111" textLength="123.0" lengthAdjust="spacingAndGlyphs">Resistance</text>
<text transform="translate(118.3 2618.3) scale(1.38 1) rotate(-90)" x="0" y="0" font-size="25" text-anchor="middle" textLength="251.5" lengthAdjust="spacingAndGlyphs" fill="#111">Expression Level (log2)</text>
<line x1="980.2" y1="2675.4" x2="1701.9" y2="2675.4" stroke="#e3e3e3" stroke-width="1.3"/>
<line x1="980.2" y1="2538.4" x2="1701.9" y2="2538.4" stroke="#e3e3e3" stroke-width="1.3"/>
<text x="1340.0" y="2418.8" font-size="28.9" text-anchor="middle" font-weight="bold" textLength="155.7" lengthAdjust="spacingAndGlyphs">SLC7A11</text>
<text x="1373.8" y="2461.5" font-size="29" text-anchor="middle" textLength="116.3" lengthAdjust="spacingAndGlyphs">0.0092</text>
<line x1="1177.0" y1="2496.3" x2="1177.0" y2="2591.2" stroke="#333333" stroke-width="1.8"/>
<line x1="1177.0" y1="2744.9" x2="1177.0" y2="2775.6" stroke="#333333" stroke-width="1.8"/>
<rect x="1053.7" y="2591.2" width="246.6" height="153.7" fill="#96d5bf" stroke="#333333" stroke-width="1.9"/>
<line x1="1053.7" y1="2672.0" x2="1300.3" y2="2672.0" stroke="#333333" stroke-width="3.2"/>
<line x1="1505.8" y1="2477.0" x2="1505.8" y2="2498.3" stroke="#333333" stroke-width="1.8"/>
<line x1="1505.8" y1="2596.5" x2="1505.8" y2="2639.3" stroke="#333333" stroke-width="1.8"/>
<rect x="1382.5" y="2498.3" width="246.5" height="98.2" fill="#fbb08f" stroke="#333333" stroke-width="1.9"/>
<line x1="1382.5" y1="2523.7" x2="1629.0" y2="2523.7" stroke="#333333" stroke-width="3.2"/>
<circle cx="1151.3" cy="2495.6" r="4.1" fill="#333" fill-opacity="0.88"/>
<circle cx="1182.0" cy="2571.1" r="4.1" fill="#333" fill-opacity="0.88"/>
<circle cx="1191.4" cy="2585.2" r="4.1" fill="#333" fill-opacity="0.88"/>
<circle cx="1172.7" cy="2607.9" r="4.1" fill="#333" fill-opacity="0.88"/>
<circle cx="1162.6" cy="2672.0" r="4.1" fill="#333" fill-opacity="0.88"/>
<circle cx="1213.4" cy="2672.0" r="4.1" fill="#333" fill-opacity="0.88"/>
<circle cx="1166.0" cy="2693.4" r="4.1" fill="#333" fill-opacity="0.88"/>
<circle cx="1135.9" cy="2770.9" r="4.1" fill="#333" fill-opacity="0.88"/>
<circle cx="1161.3" cy="2775.6" r="4.1" fill="#333" fill-opacity="0.88"/>
<circle cx="1216.1" cy="2761.6" r="4.1" fill="#333" fill-opacity="0.88"/>
<circle cx="1486.7" cy="2487.6" r="4.1" fill="#333" fill-opacity="0.88"/>
<circle cx="1547.5" cy="2475.6" r="4.1" fill="#333" fill-opacity="0.88"/>
<circle cx="1545.5" cy="2501.7" r="4.1" fill="#333" fill-opacity="0.88"/>
<circle cx="1549.5" cy="2525.7" r="4.1" fill="#333" fill-opacity="0.88"/>
<circle cx="1563.5" cy="2522.4" r="4.1" fill="#333" fill-opacity="0.88"/>
<circle cx="1554.9" cy="2583.2" r="4.1" fill="#333" fill-opacity="0.88"/>
<circle cx="1487.4" cy="2639.3" r="4.1" fill="#333" fill-opacity="0.88"/>
<circle cx="1556.2" cy="2783.6" r="4.1" fill="#333" fill-opacity="0.88"/>
<line x1="980.2" y1="2436.8" x2="980.2" y2="2800.7" stroke="#000" stroke-width="1.9"/>
<line x1="979.2" y1="2799.7" x2="1701.9" y2="2799.7" stroke="#000" stroke-width="1.9"/>
<line x1="971.8" y1="2675.4" x2="980.2" y2="2675.4" stroke="#333" stroke-width="1.6"/>
<text x="964.2" y="2682.0" font-size="19.2" text-anchor="end" fill="#222" textLength="12.6" lengthAdjust="spacingAndGlyphs">2</text>
<line x1="971.8" y1="2538.4" x2="980.2" y2="2538.4" stroke="#333" stroke-width="1.6"/>
<text x="964.2" y="2545.0" font-size="19.2" text-anchor="end" fill="#222" textLength="12.6" lengthAdjust="spacingAndGlyphs">3</text>
<line x1="1177.3" y1="2799.7" x2="1177.3" y2="2805.7" stroke="#333" stroke-width="1.6"/>
<text x="1177.3" y="2824.5" font-size="19" text-anchor="middle" fill="#111" textLength="98.5" lengthAdjust="spacingAndGlyphs">Sensitive</text>
<line x1="1505.4" y1="2799.7" x2="1505.4" y2="2805.7" stroke="#333" stroke-width="1.6"/>
<text x="1505.4" y="2824.5" font-size="19" text-anchor="middle" fill="#111" textLength="123.0" lengthAdjust="spacingAndGlyphs">Resistance</text>
<text transform="translate(938.3 2618.3) scale(1.38 1) rotate(-90)" x="0" y="0" font-size="25" text-anchor="middle" textLength="251.5" lengthAdjust="spacingAndGlyphs" fill="#111">Expression Level (log2)</text>
<text x="30.0" y="2932.1" font-size="43.5" font-weight="bold">H</text>
<line x1="139.5" y1="2965.9" x2="139.5" y2="3508.9" stroke="#e6e6e6" stroke-width="1.4"/>
<line x1="115.2" y1="3484.0" x2="661.3" y2="3484.0" stroke="#e6e6e6" stroke-width="1.4"/>
<line x1="263.9" y1="2965.9" x2="263.9" y2="3508.9" stroke="#e6e6e6" stroke-width="1.4"/>
<line x1="115.2" y1="3360.7" x2="661.3" y2="3360.7" stroke="#e6e6e6" stroke-width="1.4"/>
<line x1="388.4" y1="2965.9" x2="388.4" y2="3508.9" stroke="#e6e6e6" stroke-width="1.4"/>
<line x1="115.2" y1="3237.4" x2="661.3" y2="3237.4" stroke="#e6e6e6" stroke-width="1.4"/>
<line x1="512.8" y1="2965.9" x2="512.8" y2="3508.9" stroke="#e6e6e6" stroke-width="1.4"/>
<line x1="115.2" y1="3114.1" x2="661.3" y2="3114.1" stroke="#e6e6e6" stroke-width="1.4"/>
<line x1="637.2" y1="2965.9" x2="637.2" y2="3508.9" stroke="#e6e6e6" stroke-width="1.4"/>
<line x1="115.2" y1="2990.8" x2="661.3" y2="2990.8" stroke="#e6e6e6" stroke-width="1.4"/>
<line x1="118.3" y1="3505.8" x2="661.3" y2="2967.2" stroke="#707070" stroke-width="1.2" stroke-dasharray="5 4"/>
<path d="M139.5 3484.0 L189.3 3299.1 L239.0 3237.4 L239.0 3299.1 L288.8 3237.4 L338.6 3237.4 L388.4 3175.8 L388.4 3237.4 L438.1 3052.4 L438.1 3175.8 L487.9 2990.8 L487.9 3052.4 L537.7 2990.8 L637.2 2990.8" fill="none" stroke="#4daf4a" stroke-width="2.6" stroke-linejoin="round"/>
<path d="M139.5 3484.0 L189.3 3175.8 L189.3 3360.7 L239.0 3114.1 L239.0 3175.8 L338.6 3052.4 L338.6 3114.1 L388.4 3052.4 L587.4 3052.4 L637.2 2990.8 L637.2 3052.4" fill="none" stroke="#984ea3" stroke-width="2.6" stroke-linejoin="round"/>
<path d="M139.5 3484.0 L239.0 3484.0 L288.8 2990.8 L288.8 3484.0 L338.6 2990.8 L637.2 2990.8" fill="none" stroke="#e41a1c" stroke-width="2.6" stroke-linejoin="round"/>
<path d="M139.5 3237.4 L139.5 3484.0 L189.3 3237.4 L239.0 3237.4 L288.8 3175.8 L288.8 3237.4 L338.6 3175.8 L537.7 3175.8 L587.4 2990.8 L587.4 3175.8 L637.2 2990.8" fill="none" stroke="#377eb8" stroke-width="2.6" stroke-linejoin="round"/>
<rect x="405.5" y="3222.5" width="260.0" height="282.0" fill="#fff"/>
<line x1="406.0" y1="3255.4" x2="659.0" y2="3255.4" stroke="#e3e3e3" stroke-width="1.4"/>
<line x1="406.0" y1="3434.6" x2="664.0" y2="3434.6" stroke="#e3e3e3" stroke-width="1.4"/>
<line x1="463.1" y1="3222.8" x2="463.1" y2="3498.0" stroke="#e8e8e8" stroke-width="1.4"/>
<line x1="650.0" y1="3222.8" x2="650.0" y2="3498.0" stroke="#e8e8e8" stroke-width="1.4"/>
<line x1="143.0" y1="2966.0" x2="143.0" y2="2972.0" stroke="#e6e6e6" stroke-width="1.4"/>
<text x="426.5" y="3266.0" font-size="25.5" fill="#984ea3" textLength="218.0" lengthAdjust="spacingAndGlyphs">SLC7A11: AUC = 0.762</text>
<text x="426.5" y="3337.6" font-size="25.5" fill="#4daf4a" textLength="185.0" lengthAdjust="spacingAndGlyphs">GPX4: AUC = 0.675</text>
<text x="426.5" y="3409.2" font-size="25.5" fill="#377eb8" textLength="178.7" lengthAdjust="spacingAndGlyphs">TP53: AUC = 0.625</text>
<text x="426.5" y="3480.8" font-size="25.5" fill="#e41a1c" textLength="174.4" lengthAdjust="spacingAndGlyphs">TOP2A: AUC = 0.7</text>
<line x1="115.2" y1="2965.9" x2="115.2" y2="3509.9" stroke="#000" stroke-width="1.6"/>
<line x1="114.2" y1="3508.9" x2="661.3" y2="3508.9" stroke="#000" stroke-width="1.6"/>
<line x1="139.5" y1="3508.9" x2="139.5" y2="3513.4" stroke="#333" stroke-width="1.2"/>
<text x="139.5" y="3530.9" font-size="15" text-anchor="middle" fill="#333" textLength="22.5" lengthAdjust="spacingAndGlyphs">0.00</text>
<line x1="110.7" y1="3484.0" x2="115.2" y2="3484.0" stroke="#333" stroke-width="1.2"/>
<text x="109.7" y="3489.2" font-size="15" text-anchor="end" fill="#333" textLength="22.5" lengthAdjust="spacingAndGlyphs">0.00</text>
<line x1="263.9" y1="3508.9" x2="263.9" y2="3513.4" stroke="#333" stroke-width="1.2"/>
<text x="263.9" y="3530.9" font-size="15" text-anchor="middle" fill="#333" textLength="22.5" lengthAdjust="spacingAndGlyphs">0.25</text>
<line x1="110.7" y1="3360.7" x2="115.2" y2="3360.7" stroke="#333" stroke-width="1.2"/>
<text x="109.7" y="3365.9" font-size="15" text-anchor="end" fill="#333" textLength="22.5" lengthAdjust="spacingAndGlyphs">0.25</text>
<line x1="388.4" y1="3508.9" x2="388.4" y2="3513.4" stroke="#333" stroke-width="1.2"/>
<text x="388.4" y="3530.9" font-size="15" text-anchor="middle" fill="#333" textLength="22.5" lengthAdjust="spacingAndGlyphs">0.50</text>
<line x1="110.7" y1="3237.4" x2="115.2" y2="3237.4" stroke="#333" stroke-width="1.2"/>
<text x="109.7" y="3242.6" font-size="15" text-anchor="end" fill="#333" textLength="22.5" lengthAdjust="spacingAndGlyphs">0.50</text>
<line x1="512.8" y1="3508.9" x2="512.8" y2="3513.4" stroke="#333" stroke-width="1.2"/>
<text x="512.8" y="3530.9" font-size="15" text-anchor="middle" fill="#333" textLength="22.5" lengthAdjust="spacingAndGlyphs">0.75</text>
<line x1="110.7" y1="3114.1" x2="115.2" y2="3114.1" stroke="#333" stroke-width="1.2"/>
<text x="109.7" y="3119.3" font-size="15" text-anchor="end" fill="#333" textLength="22.5" lengthAdjust="spacingAndGlyphs">0.75</text>
<line x1="637.2" y1="3508.9" x2="637.2" y2="3513.4" stroke="#333" stroke-width="1.2"/>
<text x="637.2" y="3530.9" font-size="15" text-anchor="middle" fill="#333" textLength="22.5" lengthAdjust="spacingAndGlyphs">1.00</text>
<line x1="110.7" y1="2990.8" x2="115.2" y2="2990.8" stroke="#333" stroke-width="1.2"/>
<text x="109.7" y="2996.0" font-size="15" text-anchor="end" fill="#333" textLength="22.5" lengthAdjust="spacingAndGlyphs">1.00</text>
<text x="389.2" y="3555.6" font-size="19" text-anchor="middle" fill="#222" textLength="233.5" lengthAdjust="spacingAndGlyphs">1 - Specificity (False Positive Rate)</text>
<text transform="translate(79.5 3236) scale(1.0 1) rotate(-90)" x="0" y="0" font-size="17.5" text-anchor="middle" textLength="283" lengthAdjust="spacingAndGlyphs" fill="#222">Sensitivity (True Positive Rate)</text>
<text x="388.0" y="2941.8" font-size="35" text-anchor="middle" font-weight="bold" textLength="404.7" lengthAdjust="spacingAndGlyphs">ROC Curves for Target Genes</text>
<text x="705.5" y="3105.0" font-size="32" fill="#111" textLength="63.0" lengthAdjust="spacingAndGlyphs">Gene</text>
<line x1="708.0" y1="3150.2" x2="734.7" y2="3150.2" stroke="#4daf4a" stroke-width="4.5"/>
<text x="750.3" y="3160.0" font-size="27" fill="#111" textLength="56.0" lengthAdjust="spacingAndGlyphs">GPX4</text>
<line x1="708.0" y1="3195.7" x2="734.7" y2="3195.7" stroke="#984ea3" stroke-width="4.5"/>
<text x="750.3" y="3205.5" font-size="27" fill="#111" textLength="88.0" lengthAdjust="spacingAndGlyphs">SLC7A11</text>
<line x1="708.0" y1="3239.9" x2="734.7" y2="3239.9" stroke="#e41a1c" stroke-width="4.5"/>
<text x="750.3" y="3249.7" font-size="27" fill="#111" textLength="76.0" lengthAdjust="spacingAndGlyphs">TOP2A</text>
<line x1="708.0" y1="3284.7" x2="734.7" y2="3284.7" stroke="#377eb8" stroke-width="4.5"/>
<text x="750.3" y="3294.5" font-size="27" fill="#111" textLength="58.0" lengthAdjust="spacingAndGlyphs">TP53</text>
<text x="862.5" y="2931.6" font-size="43.5" font-weight="bold">I</text>
<text x="1069.6" y="2980.5" font-size="27" fill="#111" textLength="186.2" lengthAdjust="spacingAndGlyphs">Expression Level</text>
<line x1="1272.3" y1="2971.0" x2="1303.7" y2="2971.0" stroke="#17e8f0" stroke-width="7"/>
<line x1="1288.0" y1="2962.0" x2="1288.0" y2="2980.0" stroke="#17e8f0" stroke-width="1.5"/>
<text x="1318.7" y="2979.5" font-size="24" fill="#111" textLength="121.1" lengthAdjust="spacingAndGlyphs">gene=TOP2A</text>
<text x="1487.7" y="2979.5" font-size="24" fill="#111" textLength="37.3" lengthAdjust="spacingAndGlyphs">Low</text>
<line x1="1552.8" y1="2971.0" x2="1584.2" y2="2971.0" stroke="#6a2a5c" stroke-width="7"/>
<line x1="1568.5" y1="2962.0" x2="1568.5" y2="2980.0" stroke="#6a2a5c" stroke-width="1.5"/>
<text x="1597.6" y="2979.5" font-size="24" fill="#111" textLength="121.2" lengthAdjust="spacingAndGlyphs">gene=TOP2A</text>
<text x="1761.5" y="2979.5" font-size="24" fill="#111" textLength="41.1" lengthAdjust="spacingAndGlyphs">High</text>
<path d="M1012.0 3016.1 L1015.8 3016.1 L1020.1 3016.1 L1020.1 3017.4 L1024.4 3017.4 L1024.4 3018.7 L1028.7 3018.7 L1028.7 3020.0 L1033.0 3020.0 L1033.0 3021.3 L1037.3 3021.3 L1037.3 3022.6 L1041.6 3022.6 L1041.6 3023.9 L1045.7 3023.9 L1045.7 3026.8 L1049.9 3026.8 L1049.9 3029.6 L1054.0 3029.6 L1054.0 3032.5 L1058.2 3032.5 L1058.2 3035.4 L1062.3 3035.4 L1062.3 3038.3 L1066.6 3038.3 L1066.6 3042.7 L1070.9 3042.7 L1070.9 3047.1 L1075.2 3047.1 L1075.2 3051.5 L1080.3 3051.5 L1080.3 3058.3 L1084.6 3058.3 L1084.6 3062.1 L1088.9 3062.1 L1088.9 3066.0 L1093.2 3066.0 L1093.2 3069.8 L1098.4 3069.8 L1098.4 3074.5 L1103.6 3074.5 L1103.6 3079.3 L1108.8 3079.3 L1108.8 3084.0 L1113.9 3084.0 L1113.9 3088.8 L1121.6 3088.8 L1121.6 3103.3 L1129.4 3103.3 L1129.4 3115.6 L1134.6 3115.6 L1134.6 3121.8 L1139.7 3121.8 L1139.7 3128.0 L1144.8 3128.0 L1144.8 3134.2 L1150.0 3134.2 L1150.0 3140.5 L1155.2 3140.5 L1155.2 3148.1 L1160.4 3148.1 L1160.4 3155.7 L1165.6 3155.7 L1165.6 3163.4 L1170.7 3163.4 L1170.7 3171.1 L1175.8 3171.1 L1175.8 3176.3 L1181.0 3176.3 L1181.0 3181.4 L1186.2 3181.4 L1186.2 3189.3 L1191.3 3189.3 L1191.3 3197.1 L1196.5 3197.1 L1196.5 3202.4 L1201.7 3202.4 L1201.7 3207.6 L1206.8 3207.6 L1206.8 3214.3 L1212.0 3214.3 L1212.0 3220.9 L1216.8 3220.9 L1216.8 3230.6 L1221.7 3230.6 L1221.7 3240.2 L1226.3 3240.2 L1226.3 3243.5 L1230.8 3243.5 L1230.8 3246.9 L1235.4 3246.9 L1235.4 3250.2 L1240.0 3250.2 L1240.0 3253.5 L1244.5 3253.5 L1244.5 3256.8 L1249.1 3256.8 L1249.1 3260.1 L1253.9 3260.1 L1253.9 3263.1 L1258.7 3263.1 L1258.7 3266.0 L1263.4 3266.0 L1263.4 3269.0 L1268.2 3269.0 L1268.2 3271.9 L1273.0 3271.9 L1273.0 3274.9 L1277.1 3274.9 L1277.1 3281.3 L1281.2 3281.3 L1281.2 3287.7 L1285.3 3287.7 L1285.3 3294.1 L1289.4 3294.1 L1289.4 3300.5 L1293.5 3300.5 L1293.5 3306.9 L1341.3 3306.9 L1346.4 3306.9 L1346.4 3312.8 L1351.6 3312.8 L1351.6 3318.6 L1356.0 3318.6 L1356.0 3319.5 L1360.4 3319.5 L1360.4 3320.3 L1364.8 3320.3 L1364.8 3321.1 L1369.1 3321.1 L1369.1 3322.0 L1373.5 3322.0 L1373.5 3322.8 L1377.9 3322.8 L1377.9 3323.7 L1382.3 3323.7 L1382.3 3324.5 L1386.4 3324.5 L1386.4 3325.9 L1390.5 3325.9 L1390.5 3327.2 L1394.6 3327.2 L1394.6 3328.6 L1398.7 3328.6 L1398.7 3330.0 L1402.8 3330.0 L1402.8 3331.3 L1406.8 3331.3 L1406.8 3326.1 L1410.8 3326.1 L1410.8 3320.8 L1414.8 3320.8 L1414.8 3315.6 L1573.7 3315.6" fill="none" stroke="#17e8f0" stroke-width="1.6" stroke-dasharray="5 3.5"/>
<path d="M1012.0 3016.1 L1015.8 3016.1 L1015.8 3022.9 L1020.1 3022.9 L1020.1 3027.1 L1024.4 3027.1 L1024.4 3031.4 L1028.7 3031.4 L1028.7 3035.6 L1033.0 3035.6 L1033.0 3039.8 L1037.3 3039.8 L1037.3 3044.1 L1041.6 3044.1 L1041.6 3048.3 L1045.7 3048.3 L1045.7 3052.7 L1049.9 3052.7 L1049.9 3057.0 L1054.0 3057.0 L1054.0 3061.4 L1058.2 3061.4 L1058.2 3065.8 L1062.3 3065.8 L1062.3 3070.1 L1066.6 3070.1 L1066.6 3076.1 L1070.9 3076.1 L1070.9 3082.0 L1075.2 3082.0 L1075.2 3087.9 L1080.3 3087.9 L1080.3 3096.5 L1084.6 3096.5 L1084.6 3101.3 L1088.9 3101.3 L1088.9 3106.0 L1093.2 3106.0 L1093.2 3110.8 L1098.4 3110.8 L1098.4 3116.5 L1103.6 3116.5 L1103.6 3122.1 L1108.8 3122.1 L1108.8 3127.7 L1113.9 3127.7 L1113.9 3133.2 L1121.6 3133.2 L1121.6 3149.7 L1129.4 3149.7 L1129.4 3163.2 L1134.6 3163.2 L1134.6 3169.9 L1139.7 3169.9 L1139.7 3176.6 L1144.8 3176.6 L1144.8 3183.3 L1150.0 3183.3 L1150.0 3189.9 L1155.2 3189.9 L1155.2 3197.8 L1160.4 3197.8 L1160.4 3205.7 L1165.6 3205.7 L1165.6 3213.5 L1170.7 3213.5 L1170.7 3221.3 L1175.8 3221.3 L1175.8 3226.4 L1181.0 3226.4 L1181.0 3231.6 L1186.2 3231.6 L1186.2 3239.2 L1191.3 3239.2 L1191.3 3246.9 L1196.5 3246.9 L1196.5 3251.9 L1201.7 3251.9 L1201.7 3257.0 L1206.8 3257.0 L1206.8 3263.2 L1212.0 3263.2 L1212.0 3269.5 L1216.8 3269.5 L1216.8 3278.3 L1221.7 3278.3 L1221.7 3287.2 L1226.3 3287.2 L1226.3 3290.1 L1230.8 3290.1 L1230.8 3293.1 L1235.4 3293.1 L1235.4 3296.0 L1240.0 3296.0 L1240.0 3299.0 L1244.5 3299.0 L1244.5 3301.9 L1249.1 3301.9 L1249.1 3304.9 L1253.9 3304.9 L1253.9 3307.4 L1258.7 3307.4 L1258.7 3309.9 L1263.4 3309.9 L1263.4 3312.5 L1268.2 3312.5 L1268.2 3315.0 L1273.0 3315.0 L1273.0 3317.5 L1277.1 3317.5 L1277.1 3322.7 L1281.2 3322.7 L1281.2 3327.9 L1285.3 3327.9 L1285.3 3333.1 L1289.4 3333.1 L1289.4 3338.3 L1293.5 3338.3 L1293.5 3343.5 L1341.3 3343.5 L1346.4 3343.5 L1346.4 3347.9 L1351.6 3347.9 L1351.6 3352.4 L1356.0 3352.4 L1356.0 3353.0 L1360.4 3353.0 L1360.4 3353.6 L1364.8 3353.6 L1364.8 3354.2 L1369.1 3354.2 L1369.1 3354.8 L1373.5 3354.8 L1373.5 3355.5 L1377.9 3355.5 L1377.9 3356.1 L1382.3 3356.1 L1382.3 3356.7 L1386.4 3356.7 L1386.4 3357.6 L1390.5 3357.6 L1390.5 3358.6 L1394.6 3358.6 L1394.6 3359.6 L1398.7 3359.6 L1398.7 3360.5 L1402.8 3360.5 L1402.8 3361.5 L1406.8 3361.5 L1406.8 3361.9 L1410.8 3361.9 L1410.8 3362.4 L1414.8 3362.4 L1414.8 3362.8 L1573.7 3362.8" fill="none" stroke="#17e8f0" stroke-width="1.6" stroke-dasharray="5 3.5"/>
<path d="M1012.0 3016.1 L1017.8 3016.1 L1017.8 3016.9 L1023.6 3016.9 L1023.6 3017.7 L1028.1 3017.7 L1028.1 3020.3 L1032.6 3020.3 L1032.6 3022.8 L1037.1 3022.8 L1037.1 3025.4 L1041.6 3025.4 L1041.6 3027.9 L1046.2 3027.9 L1046.2 3034.1 L1050.7 3034.1 L1050.7 3040.4 L1055.4 3040.4 L1055.4 3043.7 L1060.2 3043.7 L1060.2 3046.9 L1064.9 3046.9 L1064.9 3050.2 L1070.1 3050.2 L1070.1 3061.6 L1075.2 3061.6 L1075.2 3073.0 L1082.9 3073.0 L1082.9 3084.8 L1088.1 3084.8 L1088.1 3088.4 L1093.2 3088.4 L1093.2 3092.0 L1098.4 3092.0 L1098.4 3099.2 L1103.6 3099.2 L1103.6 3106.5 L1111.3 3106.5 L1111.3 3116.3 L1119.1 3116.3 L1119.1 3131.2 L1126.8 3131.2 L1126.8 3148.8 L1134.6 3148.8 L1134.6 3164.1 L1139.8 3164.1 L1139.8 3171.9 L1144.9 3171.9 L1144.9 3179.6 L1152.6 3179.6 L1152.6 3200.6 L1158.2 3200.6 L1158.2 3209.8 L1163.7 3209.8 L1163.7 3219.0 L1170.7 3219.0 L1170.7 3225.9 L1175.2 3225.9 L1175.2 3228.4 L1179.7 3228.4 L1179.7 3230.8 L1184.2 3230.8 L1184.2 3233.2 L1189.3 3233.2 L1189.3 3244.0 L1194.4 3244.0 L1194.4 3254.9 L1198.5 3254.9 L1198.5 3257.8 L1202.6 3257.8 L1202.6 3260.7 L1206.7 3260.7 L1206.7 3263.7 L1210.8 3263.7 L1210.8 3266.6 L1214.9 3266.6 L1214.9 3269.5 L1220.1 3269.5 L1220.1 3273.7 L1225.2 3273.7 L1225.2 3277.8 L1276.4 3277.8 L1281.5 3277.8 L1281.5 3285.1 L1286.7 3285.1 L1286.7 3292.4 L1291.8 3292.4 L1291.8 3299.7 L1331.1 3299.7 L1336.2 3299.7 L1336.2 3306.2 L1341.3 3306.2 L1341.3 3312.7 L1345.3 3312.7 L1345.3 3308.1 L1349.3 3308.1 L1349.3 3303.5 L1353.3 3303.5 L1353.3 3298.9 L1464.3 3298.9" fill="none" stroke="#6a2a5c" stroke-width="1.6" stroke-dasharray="5 3.5"/>
<path d="M1012.0 3016.1 L1017.8 3016.1 L1017.8 3027.6 L1023.6 3027.6 L1023.6 3039.1 L1028.1 3039.1 L1028.1 3043.6 L1032.6 3043.6 L1032.6 3048.2 L1037.1 3048.2 L1037.1 3052.7 L1041.6 3052.7 L1041.6 3057.3 L1046.2 3057.3 L1046.2 3066.6 L1050.7 3066.6 L1050.7 3075.8 L1055.4 3075.8 L1055.4 3080.3 L1060.2 3080.3 L1060.2 3084.7 L1064.9 3084.7 L1064.9 3089.2 L1070.1 3089.2 L1070.1 3103.6 L1075.2 3103.6 L1075.2 3118.0 L1082.9 3118.0 L1082.9 3132.0 L1088.1 3132.0 L1088.1 3136.2 L1093.2 3136.2 L1093.2 3140.4 L1098.4 3140.4 L1098.4 3148.6 L1103.6 3148.6 L1103.6 3156.7 L1111.3 3156.7 L1111.3 3167.7 L1119.1 3167.7 L1119.1 3183.8 L1126.8 3183.8 L1126.8 3202.2 L1134.6 3202.2 L1134.6 3217.9 L1139.8 3217.9 L1139.8 3225.6 L1144.9 3225.6 L1144.9 3233.4 L1152.6 3233.4 L1152.6 3253.8 L1158.2 3253.8 L1158.2 3262.4 L1163.7 3262.4 L1163.7 3271.0 L1170.7 3271.0 L1170.7 3277.5 L1175.2 3277.5 L1175.2 3279.6 L1179.7 3279.6 L1179.7 3281.8 L1184.2 3281.8 L1184.2 3284.0 L1189.3 3284.0 L1189.3 3293.7 L1194.4 3293.7 L1194.4 3303.3 L1198.5 3303.3 L1198.5 3305.8 L1202.6 3305.8 L1202.6 3308.3 L1206.7 3308.3 L1206.7 3310.8 L1210.8 3310.8 L1210.8 3313.4 L1214.9 3313.4 L1214.9 3315.9 L1220.1 3315.9 L1220.1 3319.3 L1225.2 3319.3 L1225.2 3322.8 L1276.4 3322.8 L1281.5 3322.8 L1281.5 3328.6 L1286.7 3328.6 L1286.7 3334.5 L1291.8 3334.5 L1291.8 3340.3 L1331.1 3340.3 L1336.2 3340.3 L1336.2 3345.2 L1341.3 3345.2 L1341.3 3350.1 L1345.3 3350.1 L1345.3 3350.3 L1349.3 3350.3 L1349.3 3350.6 L1353.3 3350.6 L1353.3 3350.8 L1464.3 3350.8" fill="none" stroke="#6a2a5c" stroke-width="1.6" stroke-dasharray="5 3.5"/>
<path d="M1012.0 3014.0 L1015.8 3014.0 L1015.8 3018.0 L1020.1 3018.0 L1020.1 3021.0 L1024.4 3021.0 L1024.4 3024.0 L1028.7 3024.0 L1028.7 3027.1 L1033.0 3027.1 L1033.0 3030.1 L1037.3 3030.1 L1037.3 3033.1 L1041.6 3033.1 L1041.6 3036.1 L1045.7 3036.1 L1045.7 3039.7 L1049.9 3039.7 L1049.9 3043.3 L1054.0 3043.3 L1054.0 3047.0 L1058.2 3047.0 L1058.2 3050.6 L1062.3 3050.6 L1062.3 3054.2 L1066.6 3054.2 L1066.6 3059.4 L1070.9 3059.4 L1070.9 3064.5 L1075.2 3064.5 L1075.2 3069.7 L1080.3 3069.7 L1080.3 3077.4 L1084.6 3077.4 L1084.6 3081.7 L1088.9 3081.7 L1088.9 3086.0 L1093.2 3086.0 L1093.2 3090.3 L1098.4 3090.3 L1098.4 3095.5 L1103.6 3095.5 L1103.6 3100.7 L1108.8 3100.7 L1108.8 3105.8 L1113.9 3105.8 L1113.9 3111.0 L1121.6 3111.0 L1121.6 3126.5 L1129.4 3126.5 L1129.4 3139.4 L1134.6 3139.4 L1134.6 3145.9 L1139.7 3145.9 L1139.7 3152.3 L1144.8 3152.3 L1144.8 3158.8 L1150.0 3158.8 L1150.0 3165.2 L1155.2 3165.2 L1155.2 3172.9 L1160.4 3172.9 L1160.4 3180.7 L1165.6 3180.7 L1165.6 3188.4 L1170.7 3188.4 L1170.7 3196.2 L1175.8 3196.2 L1175.8 3201.3 L1181.0 3201.3 L1181.0 3206.5 L1186.2 3206.5 L1186.2 3214.2 L1191.3 3214.2 L1191.3 3222.0 L1196.5 3222.0 L1196.5 3227.2 L1201.7 3227.2 L1201.7 3232.3 L1206.8 3232.3 L1206.8 3238.8 L1212.0 3238.8 L1212.0 3245.2 L1216.8 3245.2 L1216.8 3254.4 L1221.7 3254.4 L1221.7 3263.7 L1226.3 3263.7 L1226.3 3266.8 L1230.8 3266.8 L1230.8 3270.0 L1235.4 3270.0 L1235.4 3273.1 L1240.0 3273.1 L1240.0 3276.2 L1244.5 3276.2 L1244.5 3279.4 L1249.1 3279.4 L1249.1 3282.5 L1253.9 3282.5 L1253.9 3285.2 L1258.7 3285.2 L1258.7 3288.0 L1263.4 3288.0 L1263.4 3290.7 L1268.2 3290.7 L1268.2 3293.5 L1273.0 3293.5 L1273.0 3296.2 L1277.1 3296.2 L1277.1 3302.0 L1281.2 3302.0 L1281.2 3307.8 L1285.3 3307.8 L1285.3 3313.6 L1289.4 3313.6 L1289.4 3319.4 L1293.5 3319.4 L1293.5 3325.2 L1341.3 3325.2 L1346.4 3325.2 L1346.4 3330.3 L1351.6 3330.3 L1351.6 3335.5 L1356.0 3335.5 L1356.0 3336.2 L1360.4 3336.2 L1360.4 3337.0 L1364.8 3337.0 L1364.8 3337.7 L1369.1 3337.7 L1369.1 3338.4 L1373.5 3338.4 L1373.5 3339.1 L1377.9 3339.1 L1377.9 3339.9 L1382.3 3339.9 L1382.3 3340.6 L1386.4 3340.6 L1386.4 3341.8 L1390.5 3341.8 L1390.5 3342.9 L1394.6 3342.9 L1394.6 3344.1 L1398.7 3344.1 L1398.7 3345.2 L1402.8 3345.2 L1402.8 3346.4 L1573.7 3346.4" fill="none" stroke="#17e8f0" stroke-width="4.2"/>
<path d="M1012.0 3014.2 L1017.8 3014.2 L1017.8 3021.3 L1023.6 3021.3 L1023.6 3028.4 L1028.1 3028.4 L1028.1 3031.9 L1032.6 3031.9 L1032.6 3035.5 L1037.1 3035.5 L1037.1 3039.1 L1041.6 3039.1 L1041.6 3042.6 L1046.2 3042.6 L1046.2 3050.3 L1050.7 3050.3 L1050.7 3058.1 L1055.4 3058.1 L1055.4 3062.0 L1060.2 3062.0 L1060.2 3065.8 L1064.9 3065.8 L1064.9 3069.7 L1070.1 3069.7 L1070.1 3082.6 L1075.2 3082.6 L1075.2 3095.5 L1082.9 3095.5 L1082.9 3108.4 L1088.1 3108.4 L1088.1 3112.3 L1093.2 3112.3 L1093.2 3116.2 L1098.4 3116.2 L1098.4 3123.9 L1103.6 3123.9 L1103.6 3131.6 L1111.3 3131.6 L1111.3 3142.0 L1119.1 3142.0 L1119.1 3157.5 L1126.8 3157.5 L1126.8 3175.5 L1134.6 3175.5 L1134.6 3191.0 L1139.8 3191.0 L1139.8 3198.8 L1144.9 3198.8 L1144.9 3206.5 L1152.6 3206.5 L1152.6 3227.2 L1158.2 3227.2 L1158.2 3236.1 L1163.7 3236.1 L1163.7 3245.0 L1170.7 3245.0 L1170.7 3251.7 L1175.2 3251.7 L1175.2 3254.0 L1179.7 3254.0 L1179.7 3256.3 L1184.2 3256.3 L1184.2 3258.6 L1189.3 3258.6 L1189.3 3268.8 L1194.4 3268.8 L1194.4 3279.1 L1198.5 3279.1 L1198.5 3281.8 L1202.6 3281.8 L1202.6 3284.5 L1206.7 3284.5 L1206.7 3287.3 L1210.8 3287.3 L1210.8 3290.0 L1214.9 3290.0 L1214.9 3292.7 L1220.1 3292.7 L1220.1 3296.5 L1225.2 3296.5 L1225.2 3300.3 L1276.4 3300.3 L1281.5 3300.3 L1281.5 3306.9 L1286.7 3306.9 L1286.7 3313.4 L1291.8 3313.4 L1291.8 3320.0 L1331.1 3320.0 L1336.2 3320.0 L1336.2 3325.7 L1341.3 3325.7 L1341.3 3331.4 L1484.8 3331.4 L1484.8 3378.2" fill="none" stroke="#6a2a5c" stroke-width="4.2"/>
<path d="M1013.0 3011.6v7M1016.0 3014.6v7M1020.3 3017.7v7M1025.7 3021.5v7M1036.2 3028.8v7M1041.9 3032.9v7M1053.4 3042.9v7M1053.6 3043.1v7M1056.7 3045.8v7M1071.8 3062.1v7M1078.0 3070.5v7M1092.6 3086.2v7M1093.5 3087.1v7M1097.9 3091.5v7M1100.0 3093.6v7M1105.8 3099.4v7M1112.4 3106.0v7M1112.5 3106.1v7M1114.4 3108.6v7M1117.1 3113.9v7M1137.6 3146.1v7M1151.0 3163.2v7M1152.8 3165.8v7M1168.8 3189.8v7M1170.4 3192.3v7M1180.9 3202.9v7M1182.4 3205.2v7M1182.5 3205.2v7M1206.1 3234.3v7M1209.1 3238.1v7M1212.2 3242.1v7M1264.8 3288.0v7M1297.0 3321.7v7" stroke="#17e8f0" stroke-width="1.1" fill="none"/>
<path d="M1013.0 3011.9v7M1022.9 3024.1v7M1025.7 3026.5v7M1029.9 3029.8v7M1030.7 3030.5v7M1041.9 3039.6v7M1047.2 3048.6v7M1063.3 3064.9v7M1075.8 3093.0v7M1078.0 3096.7v7M1080.8 3101.4v7M1082.0 3103.4v7M1083.0 3105.0v7M1083.5 3105.3v7M1085.8 3107.1v7M1092.0 3111.8v7M1092.0 3111.8v7M1100.0 3122.7v7M1103.0 3127.2v7M1105.8 3131.1v7M1118.9 3153.7v7M1124.4 3166.4v7M1127.7 3173.7v7M1133.4 3185.2v7M1144.5 3202.4v7M1145.1 3203.5v7M1180.7 3253.3v7M1181.0 3253.5v7M1196.8 3277.2v7M1219.7 3292.7v7M1219.9 3292.9v7M1240.7 3296.8v7M1247.2 3296.8v7M1260.0 3296.8v7M1260.1 3296.8v7M1260.9 3296.8v7M1264.0 3296.8v7" stroke="#6a2a5c" stroke-width="1.1" fill="none"/>
<line x1="1573.7" y1="3338.0" x2="1573.7" y2="3355.0" stroke="#17e8f0" stroke-width="1.5"/>
<line x1="978.4" y1="2998.2" x2="978.4" y2="3397.0" stroke="#000" stroke-width="1.6"/>
<line x1="977.4" y1="3396.0" x2="1655.2" y2="3396.0" stroke="#000" stroke-width="1.6"/>
<line x1="973.9" y1="3016.1" x2="978.4" y2="3016.1" stroke="#333" stroke-width="1.2"/>
<text x="970.9" y="3020.8" font-size="13" text-anchor="end" fill="#333" textLength="22.5" lengthAdjust="spacingAndGlyphs">1.00</text>
<line x1="973.9" y1="3107.0" x2="978.4" y2="3107.0" stroke="#333" stroke-width="1.2"/>
<text x="970.9" y="3111.7" font-size="13" text-anchor="end" fill="#333" textLength="22.5" lengthAdjust="spacingAndGlyphs">0.75</text>
<line x1="973.9" y1="3197.8" x2="978.4" y2="3197.8" stroke="#333" stroke-width="1.2"/>
<text x="970.9" y="3202.5" font-size="13" text-anchor="end" fill="#333" textLength="22.5" lengthAdjust="spacingAndGlyphs">0.50</text>
<line x1="973.9" y1="3288.7" x2="978.4" y2="3288.7" stroke="#333" stroke-width="1.2"/>
<text x="970.9" y="3293.4" font-size="13" text-anchor="end" fill="#333" textLength="22.5" lengthAdjust="spacingAndGlyphs">0.25</text>
<line x1="973.9" y1="3379.6" x2="978.4" y2="3379.6" stroke="#333" stroke-width="1.2"/>
<text x="970.9" y="3384.3" font-size="13" text-anchor="end" fill="#333" textLength="22.5" lengthAdjust="spacingAndGlyphs">0.00</text>
<line x1="1009.8" y1="3396.0" x2="1009.8" y2="3400.5" stroke="#333" stroke-width="1.2"/>
<text x="1009.8" y="3416.5" font-size="13.5" text-anchor="middle" fill="#333" textLength="7.0" lengthAdjust="spacingAndGlyphs">0</text>
<line x1="1163.8" y1="3396.0" x2="1163.8" y2="3400.5" stroke="#333" stroke-width="1.2"/>
<text x="1163.8" y="3416.5" font-size="13.5" text-anchor="middle" fill="#333" textLength="13.5" lengthAdjust="spacingAndGlyphs">50</text>
<line x1="1317.9" y1="3396.0" x2="1317.9" y2="3400.5" stroke="#333" stroke-width="1.2"/>
<text x="1317.9" y="3416.5" font-size="13.5" text-anchor="middle" fill="#333" textLength="20.0" lengthAdjust="spacingAndGlyphs">100</text>
<line x1="1471.9" y1="3396.0" x2="1471.9" y2="3400.5" stroke="#333" stroke-width="1.2"/>
<text x="1471.9" y="3416.5" font-size="13.5" text-anchor="middle" fill="#333" textLength="20.0" lengthAdjust="spacingAndGlyphs">150</text>
<line x1="1626.0" y1="3396.0" x2="1626.0" y2="3400.5" stroke="#333" stroke-width="1.2"/>
<text x="1626.0" y="3416.5" font-size="13.5" text-anchor="middle" fill="#333" textLength="20.0" lengthAdjust="spacingAndGlyphs">200</text>
<text x="1317.9" y="3436.6" font-size="15.5" text-anchor="middle" fill="#111" textLength="93.4" lengthAdjust="spacingAndGlyphs">Time (Months)</text>
<text transform="translate(943 3177.3) rotate(-90)" x="0" y="0" font-size="16" text-anchor="middle" textLength="183" lengthAdjust="spacingAndGlyphs" fill="#111">progression-free survival</text>
<text x="1371.8" y="3450.7" font-size="12.5" text-anchor="middle" fill="#111" font-weight="bold" textLength="87.0" lengthAdjust="spacingAndGlyphs">Number at Risk</text>
<line x1="1085.3" y1="3461.9" x2="1085.3" y2="3507.5" stroke="#000" stroke-width="1.6"/>
<line x1="1084.5" y1="3506.8" x2="1655.2" y2="3506.8" stroke="#000" stroke-width="1.6"/>
<line x1="1080.8" y1="3476.1" x2="1085.3" y2="3476.1" stroke="#333" stroke-width="1.2"/>
<line x1="1080.8" y1="3497.0" x2="1085.3" y2="3497.0" stroke="#333" stroke-width="1.2"/>
<text x="1062.9" y="3481.0" font-size="13.5" text-anchor="end" fill="#17e8f0" textLength="54.0" lengthAdjust="spacingAndGlyphs" xml:space="preserve">gene  Low</text>
<text x="1062.9" y="3501.9" font-size="13.5" text-anchor="end" fill="#6a2a5c" textLength="58.0" lengthAdjust="spacingAndGlyphs" xml:space="preserve">gene  High</text>
<text x="1111.5" y="3483.3" font-size="20" text-anchor="middle" fill="#17e8f0" textLength="28.5" lengthAdjust="spacingAndGlyphs">206</text>
<text x="1111.5" y="3504.2" font-size="20" text-anchor="middle" fill="#6a2a5c" textLength="28.5" lengthAdjust="spacingAndGlyphs">205</text>
<text x="1241.6" y="3483.3" font-size="20" text-anchor="middle" fill="#17e8f0" textLength="19.0" lengthAdjust="spacingAndGlyphs">69</text>
<text x="1241.6" y="3504.2" font-size="20" text-anchor="middle" fill="#6a2a5c" textLength="19.0" lengthAdjust="spacingAndGlyphs">51</text>
<text x="1371.0" y="3483.3" font-size="20" text-anchor="middle" fill="#17e8f0" textLength="19.0" lengthAdjust="spacingAndGlyphs">12</text>
<text x="1371.0" y="3504.2" font-size="20" text-anchor="middle" fill="#6a2a5c" textLength="19.0" lengthAdjust="spacingAndGlyphs">11</text>
<text x="1501.2" y="3483.3" font-size="20" text-anchor="middle" fill="#17e8f0" textLength="9.5" lengthAdjust="spacingAndGlyphs">2</text>
<text x="1501.2" y="3504.2" font-size="20" text-anchor="middle" fill="#6a2a5c" textLength="9.5" lengthAdjust="spacingAndGlyphs">1</text>
<text x="1630.6" y="3483.3" font-size="20" text-anchor="middle" fill="#17e8f0" textLength="9.5" lengthAdjust="spacingAndGlyphs">0</text>
<text x="1630.6" y="3504.2" font-size="20" text-anchor="middle" fill="#6a2a5c" textLength="9.5" lengthAdjust="spacingAndGlyphs">0</text>
<line x1="1111.5" y1="3506.8" x2="1111.5" y2="3511.0" stroke="#333" stroke-width="1.2"/>
<text x="1111.5" y="3525.5" font-size="13.5" text-anchor="middle" fill="#333" textLength="7.5" lengthAdjust="spacingAndGlyphs">0</text>
<line x1="1241.6" y1="3506.8" x2="1241.6" y2="3511.0" stroke="#333" stroke-width="1.2"/>
<text x="1241.6" y="3525.5" font-size="13.5" text-anchor="middle" fill="#333" textLength="15.0" lengthAdjust="spacingAndGlyphs">50</text>
<line x1="1371.0" y1="3506.8" x2="1371.0" y2="3511.0" stroke="#333" stroke-width="1.2"/>
<text x="1371.0" y="3525.5" font-size="13.5" text-anchor="middle" fill="#333" textLength="22.5" lengthAdjust="spacingAndGlyphs">100</text>
<line x1="1501.2" y1="3506.8" x2="1501.2" y2="3511.0" stroke="#333" stroke-width="1.2"/>
<text x="1501.2" y="3525.5" font-size="13.5" text-anchor="middle" fill="#333" textLength="22.5" lengthAdjust="spacingAndGlyphs">150</text>
<line x1="1630.6" y1="3506.8" x2="1630.6" y2="3511.0" stroke="#333" stroke-width="1.2"/>
<text x="1630.6" y="3525.5" font-size="13.5" text-anchor="middle" fill="#333" textLength="22.5" lengthAdjust="spacingAndGlyphs">200</text>
<text x="1371.8" y="3547.6" font-size="19.5" text-anchor="middle" fill="#111" textLength="93.0" lengthAdjust="spacingAndGlyphs">Time (Months)</text>
<text transform="translate(941 3484.3) rotate(-90)" x="0" y="0" font-size="17" text-anchor="middle" textLength="120" lengthAdjust="spacingAndGlyphs" fill="#111">Expression Level</text>
<text x="1257.3" y="3362.5" font-size="26" textLength="112.2" lengthAdjust="spacingAndGlyphs">p = 0.012</text>
</svg></body></html>
